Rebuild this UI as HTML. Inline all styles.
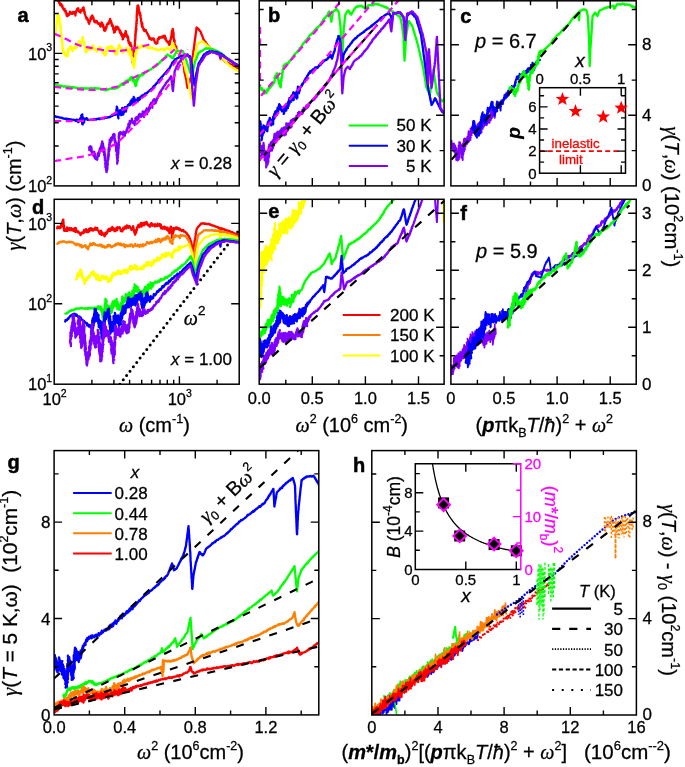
<!DOCTYPE html><html><head><meta charset="utf-8"><style>html,body{margin:0;padding:0;background:#fff;overflow:hidden}svg{display:block;will-change:transform}text{stroke:#000;stroke-width:0.28px}</style></head><body>
<svg width="685" height="767" viewBox="0 0 685 767">
<rect width="685" height="767" fill="#fff"/>
<defs>
<clipPath id="cA"><rect x="54.2" y="0.8" width="185" height="185.1"/></clipPath>
<clipPath id="cD"><rect x="54.2" y="199.3" width="185" height="184.9"/></clipPath>
<clipPath id="cB"><rect x="259.2" y="0.8" width="184.9" height="185.1"/></clipPath>
<clipPath id="cC"><rect x="450.9" y="0.8" width="185.3" height="185.1"/></clipPath>
<clipPath id="cE"><rect x="259.2" y="199.3" width="184.9" height="184.9"/></clipPath>
<clipPath id="cF"><rect x="450.9" y="199.3" width="185.3" height="184.9"/></clipPath>
<clipPath id="cG"><rect x="54.1" y="450.6" width="264.7" height="264.3"/></clipPath>
<clipPath id="cH"><rect x="371.8" y="450.6" width="264.6" height="264.4"/></clipPath>
</defs>
<defs><clipPath id="cHi"><rect x="415.3" y="463.7" width="105.5" height="105.7"/></clipPath></defs>
<path d="M56.1 -2.2l.4-.1 .2-.1 .4-.7 .2 1 .3 2.2 .3-1.8 .1 2.4 .3-.7 .3 .6 .5 2.2 .1 .2 .2 0 .2-.2 0-.3 .6 2.3 .1 .6 .1-.7 .4-.4 .4-.3 0 1.3 .4 .5 .4 .5 .2 .7 .1-1.6 .4 2.6 .4 .1 .3 .9 .1 .3 .2-.7 .5 1.6 .3 .5 0-.7 .1-1.1 .3 1.6 .3 1 .1-.7 .5 .1 -.2 1.8 .2-.6 .6 .7 .1 .2 -.1 .3 .3 2.5 .6-.9 -.1 .8 .4 .5 .1-.3 .5-1.4 .3-.3 0 .3 .1-.6 .5 1 0-1.2 .5-.5 .2 .5 .1-2 .7 .4 .6 1.4 .4-.4 .4 .8 .6-.3 .5-1.7 .5 1.2 .2 .1 .1-.9 .5 .5 .4-.7 .4 2.4 .3 1 -.1-3.4 .5 .7 -.1 .3 .4-1.5 .3-1.3 0 .3 .6-.1 -.1-.9 .3-.9 .2 1.6 .8-2 .4 1.8 .6 1.7 0-.6 .6 .9 .6 .4 .4-2 .2-.6 .5 0 .4 .6 .3-.7 .2 .7 .3-2.5 .2 .4 .4 .1 .2-1 .2 2.3 .2-.5 .2 .6 .1 3 .3-1.1 .4 2.2 .2 .9 -.2-.7 .4 1.2 .3 .7 -.2-.1 .5 .8 0 .8 .1-.8 .5 2 -.1 .2 .2 .2 .3-1.3 .2 .9 .1 0 .4 .8 .3-.1 0 .3 .3 1.5 .2-.4 -.1 1.5 .5-.6 .3 .7 0 1.4 .4-3 .2 .5 .7-1.5 0-1.7 .2-.7 .5 1.4 .7-1.9 -.1-1.3 .5-.2 .4 1.6 -.1 .5 .3 .6 .5-.7 .1 1.3 .6 1.3 .3 1 -.2 .5 .8-.1 -.1-.8 .4 1.7 .5-1.1 0 .7 .4-.3 .5-.8 .3 1.7 .3-.4 .7 1.1 .3 .6 .3-.1 .2-.6 .7 1.1 .3 .5 .3 .2 .3 1.6 .4-1.8 .4-1.4 .3 0 .1-1.1 .3 .8 .3 .1 .2 1.3 .2-.4 .2 .5 0 2.2 .3-2 .1 .3 .3 2.8 .3-.4 .1 .9 .2 .4 -.2 .4 .3 1.3 .2-.6 .5 .9 .2-1.6 0 .2 .3 1 -.2-1.6 .1-1.3 .7 .1 -.2 1.2 .3 0 .4-1.3 -.1-.4 .2-1.4 .1 .3 .2-1.1 .4-.9 0 .3 .1-.3 .4 .2 .5 0 .3-1.4 .2-.6 -.1 1.5 .3-1.2 .2-.6 .5-1.1 .2-.6 .2-1.2 .1 .9 .1 .4 .2 .8 0 .6 .4-.9 .1 2.1 .5-.6 .1 .9 .3 2.8 0-1.6 .4 1.8 0 .1 .2-1.2 .1 1.3 .2-1.1 -.1 .7 .5 1.1 .1 2.6 -.2-1.6 .2 .1 .2 0 -.1 .4 .4 1.8 .2 .3 -.1-.4 .2 2.3 .1-.7 .2-1.5 .5 1.6 -.1-1.9 .5 0 -.1 .4 .2-2.1 .3-1 .1 1.5 .1-2.2 .4 2.9 .4-.7 .8-2.1 .3 .3 .1 .7 .5 .1 .2 1.3 .2 .1 0-.1 .4 .9 .1-.4 .2 .9 .3 1.8 0-2.3 .1 1.4 .2-.7 .1 2.4 .2-2 .2 .5 .1 1.5 .4 .2 0 1 0-.1 .5-1 -.3 1.8 .4-.5 .4-.1 0 1.2 .1 .9 .3 .1 .1 1 .3 .4 -.2 1.2 .4-.1 -.1-1.5 .5-.8 -.1-1.4 .2 .7 .2 .9 .2-1.6 .3-.1 -.1-.9 .4 1.8 .2-1.7 .2 1.6 0-2.9 .3-.4 -.1 .4 .3-.9 .3-.1 -.2-1.1 .3 .3 -.1-.3 .3 3.3 .4-.5 -.2 .7 .3 .7 .4 0 -.3 .4 .2-.1 .3 .2 0 1.3 .1-.9 .4 .7 .2-.6 -.1 2 .4-.3 -.1 2.7 .2-2.8 0 2.1 .5 3 -.1-.9 .1-1.1 .6 1.2 -.4 .2 .4 .2 .3-.1 .1 2.5 0-.6 .1 .1 .4 .1 .3-1.5 -.3 .7 .5 1.4 .2 1 .2-1 0 1.2 -.3 .4 .5-.6 -.1 1.5 .1 .8 -.1-.2 .2 1.7 -.2 .5 0 .1 .4 1.5 -.3 .6 .1 1.3 .1-1.6 .3 1.7 -.1 .5 .3 .1 -.4 .3 .2-1.1 .2 1.5 0 .4 .2 3.9 -.3-1.5 .2 0 .1 .6 0 .6 .2 1.1 .1-.6 -.2 .6 .3 .5 -.2-1 0 .9 0-.1 .1 .1 .2-.4 -.1 2 .1-1.2 .2 1.5 -.2-.2 .3 .2 .1-1.2 -.1 .5 0-1.8 .1 1.1 .2-.3 0 1 .1-2 -.1 .5 .2-.9 -.1 .1 .2-.6 -.3-.5 .4-2.2 -.2 1 .2-2.2 .3 .6 -.2-.4 -.2-1.9 .5-1.6 -.4 .5 .1-.6 .1-1.3 .3 0 -.3-.5 .4 .8 -.1 .2 0-.2 .2-2.2 .1 .1 -.4 .3 .4-1.9 -.2 .3 .2 2 0-1.4 -.2-.7 .5 .7 0-.7 -.1-1 .1-.8 .1-.8 -.4 .9 .1-1 .2 0 .1-1.8 -.1-.4 .2-1.3 -.2-.6 .5-.8 -.2-.9 .1-1 .1 .5 -.1-.5 .3-1.8 -.3 1.8 .1-2.6 .1-.6 0 .4 -.1-1.4 -.1 1.8 .4-1.6 0-2 0 1.2 -.2-1.2 .3 .8 -.1-.5 .1 .1 -.1-1.3 .1-1.2 -.1 .6 .4 .6 .1-3.1 -.3-.2 .3 2 -.3-2.2 .4 .7 .1 1.1 -.4-.6 .2-1.4 -.1-.3 .2-.4 0-2.9 -.2 0 .5-.4 .1-.5 0 1 -.3-1.6 .3 .4 -.2-1.1 .3-.7 .1 .1 -.4-.3 .4 .2 -.1-1.3 -.1-.7 .2 .7 -.3-2.8 .2-.3 -.1-1.8 .3 1.2 -.2 0 .3-1 .1 0 0-1.6 -.1 1.6 .2-.9 -.1 .5 -.3-1.2 .5 .9 -.2-2.8 -.2 .5 .1-1.8 .4-.7 0 .2 -.3-.8 0-.9 .4 .9 -.2-.9 .2-.3 -.1-1.5 -.1 2.3 .1-2.8 .2 0 0 .8 .3-1.1 .2 .7 -.3-.3 .4 1.3 -.1 0 .4-.2 .2 2.4 -.2 .3 .3 1.5 .1-.6 .2 .7 -.1-1.1 .1 1.1 .3 2 .1-.5 -.1 .1 .6 2 0-1.9 -.1 1 0 1.3 .3 .6 .1-.7 .2 .5 -.1 2.4 .2 .2 .4 .8 0 1.3 -.1 .7 0 .3 .3 .5 .2 .2 -.1 .8 .3-.1 .2 1 -.3-.1 .2-.3 -.1 1.4 .5 2.3 .1-1.7 0-.4 -.1 .7 .1-2.3 .1 2.7 0 1.2 .3-.5 0 .8 .5 .7 .3 1.7 .1-1 .2 0 .5 2.3 0-.8 .4 .5 .1-.5 .4 .2 .6-.5 .1 1.5 .1 0 .1-.2 .4 .6 .1 0 .5 1.5 .5 .7 0-.2 .2 .1 .6 2 .3-.3 .1 1 .3 .2 .3 1.9 .5-.4 .1-.8 .3 .4 .4 .7 .1 0 .5-.1 .1 1.2 .6-.9 .4-.5 .2 .8 .7 .1 .5-.9 0 1.5 .5 0 .3 1.8 .7 1.3 .5-.2 .4 1 .5-.5 .2-.2 .5 .1 .1-1.7 .1-1.7 .3-1.1 .4 .6 .3-1.1 .3 .9 .3-1.9 .6 .9 .1-.8 .5 .1 .5 0 .4 .1 .3-.8 .4-.1 .3 1 .7-.4 .3-1.3 .4 0 .5 1.4 .1-.5 0-.1 .3 1.5 .2-2.5 .3 .6 .3 3.1 .2-1.4 0 .2 .5 1.5 .3 .6 -.3-.7 .4 1.5 .2 .4 .1 0 .3-.2 .2 .1 .5 0 .2 .5 .4 1.2 .2-1 .4 1.1 0 1.5 .5-.5 0-.8 .1 1.3 -.2 .1 .4-1.9 -.1-.8 .1 .9 .1-.4 .1-1.4 .2 .2 -.1 0 .1-.9 .4-.8 .1-.1 0-.6 .3-.1 -.3 .3 .5-1.7 -.2 .8 .3-1.3 -.1-.8 .4-.6 .1 1.4 0-2.6 .1-.2 -.2 .5 .2-2.6 0 .5 0-.6 .6-1.6 -.3 .3 .4 .2 -.1-.8 0 2.5 .4-3.6 -.1 .9 .3-.2 -.1 1.1 -.1 .4 .2-.2 0 1.2 0 1.1 .2-1.7 .3 .6 -.2 .2 .2 .8 -.3-.3 .5 1.6 -.3 .7 .1-.3 -.1 1 .3 .1 -.1 .7 .1 .8 0 1.3 .4 0 -.3 .5 .2 1 .3 .4 -.2 .8 0 1.6 -.1-1.1 .3-.9 -.1 .1 .4-.3 -.2 2.8 .2-3.3 -.4 2.3 .2 0 .1 1.2 .3 .4 -.4-.1 .4 1.7 .4-.4 .5 .5 0 1.2 .5-.7 .3 2.8 -.2-1.1 .6 2.5 0-.6 .5 .7 .1 .1 .5-.1 .3 1.4 0-.9 .2 2 .1 0 .3-.9 .4 .4 0-.5 0 .5 .2 .1 .1 .4 .5 1.6 .2-.9 .4 1.4 -.2 .5 .4 1.5 0 .8 .5 .2 .1-.6 -.1 1.5 .5-.2 -.1 2.1 .5-.4 -.2 .9 .4-.7 0 .5 .5-.1 .1 .7 -.2 .7 .4 1.4 0-.1 0-.5 .2 .4 .1 .8 .1-.2 0 .7 .3 0 -.3 1.2 .4-.6 -.1 3.3 .1 .2 .3-1.3 -.1 3.7 0 .4 .4-.4 0-.7 .2 1.4 -.3-.4 .2 1.6 .2-.8 .2 .3 -.2 1.2 .1 .2 .2 1.3 0-.1 .3-.2 0 1.4 .2-.6 -.1 1.1 0 .2 .3 1.1 .1 .1 0 .6 .2 .4 -.1-.2 .3 .6 0 1.1 .1 .8 0 .3 0 .8 .2-.1 0 .9 .1 .1 .1 .6 .1 .7 .1 .4 .1 1 .1 .1 .1 .9 .1-.8 .2-.5 .2-.3 .1-.9 .2 0 .1-1.1 .3-.1 .1-.4 .2-.3 .1-.8 .2 0 .2-.7 .1-.7 .1-.5 .2-.4 .1-.9 .3 .1 .1-.7 .1-.5 .2-.3 .2-.6 .2-.3 .1-.9 0 .1 .1-.6 0-.9 0-.1 .1-.4 .1-1.1 0-.4 0-.3 .1-.7 .1-.6 0-.1 0-.7 0-.7 .1-.9 0-.2 .1-.1 0-.6 0-.4 .1-.7 .1-.6 -.1-.6 .2-.5 -.1-.4 .1-.7 .1 .1 0-.8 0-.4 .1-.6 0-.3 .1-.6 0-.5 0-.5 .1-.9 0-.3 0-.6 .1-.4 .1-.7 -.1-.4 .2-.4 0-.7 .1-.6 0-.1 0-.7 .1-.5 0-.5 .1-.8 0-.1 .2-.6 -.1-.7 .1-.6 .1 0 .1-.6 .1-.7 .1-.2 0-.4 .1-.8 0-.6 .1-.2 0-.8 .1-.2 0-.8 .2-.2 0-.4 .1-.6 0-.6 .1-.4 .1-.7 0-.4 .2-.3 -.1-.7 .1-.9 .1-.4 .1-.3 0-.3 .1-.7 .1-.2 0-.6 .1-.5 .1-.5 0-.8 0-.3 .2-.2 0-.7 .1-.7 0-.3 .1-.8 .1 0 .1-.7 .1-.6 0-.5 .1-.4 0-.5 .1-.7 0-.8 .1 0 .1-.7 0-.5 .1-.2 .3 .3 .5 .2 .3 .4 .3 .2 .5 .4 .4 1 .3 0 .4 .5 .3 .4 .3 .4 .3 0 .2 .7 .2 .2 .2 .7 .1 .7 .2 .5 .2 .3 .2 .6 .2 .1 .2 .6 .2 .7 .2 .2 .2 .8 .1 .3 .3 .5 .1 .8 .2 .5 .2 .3 .2 .1 .4 .7 .2 .5 .3 .1 .3 .5 .4 .3 .2 .8 .3 .2 .4 .3 .3 .5 .3 .4 .2 .3 .4 .5 .2 .6 .4 .2 .3 .1 .3 .6 .3 .3 .3 .5 .4 .8 .4-.1 .4 .4 .4 .2 .4 .5 .4 .1 .4 .5 .5 .2 .4 .2 .4 .2 .4 .3 .4 .2 .3 .2 .5 1.1 .4 0 .4 .2 .4 .5 .4 .3 .3 .1 .4 .5 .4 .7 .4-.1 .3 .4 .4 .3 .3 .4 .4 .5 .3 .2 .5 .7 .3 .1 .4 .6 .3-.1 .4 .5 .3 .4 .4 .3 .4 .5 .4 .3 .3 .4 .3 .6 .4 .1 .5 .3 .3 .7 .4 .5 .4-.1 .4 .5 .4 .1 .5 0 .4 .3 .4-.1 .5 .6 .4 .6 .5-.4 .5 .7 .5-.1 .4 .5 .4-.2 .6 .7 .4-.3 .4 .6 .5 .4 .5 .1 .4 .5 .4-.1 .6 .2 .4 .4 .5 .3 .4 .2 .5 .1 .4 .3 .5 .5 .4 .1 .5 .3 .5 .1 .4 0 .5 .5" stroke="#ff0000" stroke-width="2.3" fill="none" stroke-linejoin="round" stroke-linecap="round" clip-path="url(#cA)"/>
<path d="M54.7 35.9l.1-1.8 .1 2.6 -.2-1.9 .1 1.1 .4-.5 -.1-1.2 -.2-1 .3-.7 0 .7 .3-.8 -.2 .7 .4-.1 .2-.7 -.2-2 -.1-1.1 .2 .4 .3 .4 -.1-1.2 .4 .1 -.3-.5 0-1.6 .4-1.2 -.2 .4 .1-.9 .1-.8 0 .4 .2-1.5 -.1 .4 .2-1.3 0-1 .2 1.6 -.3-2.4 .2 .7 -.1-.1 0 1.4 .2-.8 -.1-.2 0 .8 .5-1.6 0-1.7 0-.3 -.1-.1 .2 .1 -.2-2.1 .2-.2 -.1 .6 0 .9 -.1-2.3 .1 2.4 .2-1 -.2 2.4 .5-1.7 -.2-3 -.1 1.1 .5-1.2 0 .7 -.4-1.4 .1 0 .1 .5 .1 .1 .1-.2 .3 .4 -.2 2.8 .3-1.9 .1-.2 .1 .4 .2 0 -.1 .5 .1 1.9 0-1.3 .5 1.7 -.1-1.4 .3 2.3 -.2-.1 .2-.1 -.3 1.4 0-1.4 .1 2.6 0 .4 .4 .2 0 1 .2 2.3 .1-2.5 .1 1.4 -.3-.5 0 .3 .2 1.1 -.3-1.8 .4 1.1 .1 2.3 .2-3 0 .9 -.1 1.7 -.2 0 .2 .5 .2 .5 -.2-1 .4 .8 -.3 2.9 .1-.6 0 1 .2-1 -.3 1 .4-2.8 -.2 2 .3 .7 0 1.4 0 1.2 0 1.5 0-.6 .4 2 -.3-.4 -.1 1.8 .1-1.3 .1 .7 0-1.9 .1 2.8 .1-2.5 .2-.3 -.3 2.3 .1-.1 .3 1.1 -.2-2.7 .4 3 -.3 2 .3 1 0 1.5 0-3.2 .3 2.8 -.3-1.2 .3 1.2 -.1-.8 .2-.9 0-.6 .1 1.6 -.4 .1 .6 1.8 .1 .4 0-.2 -.3 2.8 0 1.2 -.1-.9 .1 1.4 .1-.1 0 .2 .3 0 .1-1.1 -.2 1.4 .4-.5 -.1 2.4 -.1-2.6 .3 2.4 -.1 1.5 .3-1.3 .4-.4 -.2 2.1 .7 .2 -.1 .3 0-1.4 .5 .9 0 1.6 .8 1.4 .5-1.3 .3 1.7 .6-1.5 -.1-.9 .9 2.5 .2-3.7 -.3-.1 .5-2.2 0 1.4 .4-1.4 0-2 -.2 .5 .2 .7 .1 1.5 .5-2.1 .3 .7 .1 0 .9-1.2 -.1-2.5 .4 .7 .5 2.3 .5-.8 .4-.6 .1 1.5 .3 2 .5-.3 .2-1.4 .5-1.6 .6 .6 .6-1.7 .3 .4 .1-.6 .7 2.1 .4-1.2 .2-.9 .1-.9 .9-.9 0 .6 .6-.7 .4-1.9 .2-1.6 .1 3.7 .8-.9 -.1 1.7 0-1.6 .1 1.3 .4 .3 .2 1.2 .3-3.4 .2-.7 .3 1.5 0 .1 -.1-2.4 .2-.2 .2 .8 .4-1.1 0 .1 .3 .2 .2-2.5 .5-1.5 .1 .7 -.4-1.2 .4 0 .1 1.9 -.1 .9 .3 .1 .3 2 .2-.7 -.1 .8 -.2-.3 .6-.3 -.4-.6 .2 2.3 .5-.5 -.3 .6 .2 .9 .5 .1 -.2 1 -.2-1.5 .2 1.7 .3-.1 -.1 1.3 .6-.3 -.4 2.5 .2-1 .5 .6 .1 1.2 -.3-.7 .2 .9 -.1 1.3 .3-1.9 -.1 3 .5-.8 .6 .3 -.1-1.5 .6-.4 .5-.8 .4 .5 0-1.9 .7 2.2 -.2-2.9 .8 .4 0 1.7 .2-1.1 .4-.9 .8 1.9 .2-.7 .2 1.2 .5-3.2 0 .2 .8-1.1 .2 1.6 .2 .1 0-.6 .5-.9 0 2.8 .3-.8 .1-.7 .2 2.3 .5-.5 .5 .2 -.1 1.3 .2-.7 .3-.5 .1 .5 .7 .2 .1-.1 .3 1.7 -.1-1.9 .5 2.1 .3-.7 .1-1.2 .1-.1 .7-1.2 .1 1.3 .5-1.5 .5-1 .3-.1 .2 .4 .2 .1 .1 .6 .2 .8 .7-.3 .4 .1 -.3-1.3 .2 .9 .7 1.8 .1 2.6 .4-1.4 .2 1.7 .1-.6 0-1.4 .4 1 -.1-.1 .4 .9 .3-1.1 -.1 1.1 .3 1.3 .3-.3 0 1 .2 .1 .4 .3 .4 .3 0-.7 0 .4 .3-1.3 -.1 .4 .3 .4 .3-1.7 .1-.3 -.4-.8 .2 .9 .4-2.8 .1-1.1 0 .1 -.1-.8 .5-.6 0 .7 .2-1.1 .4 2.4 -.3 .2 .4-.1 .3-.9 .3 .9 0-1 .5-.2 -.3-.1 .4-1 .4-.6 .1 .7 .8-.6 0 .5 .5 .5 .3 .1 .4-2.1 .3 2.4 .7-.2 -.1-.7 .4 1 -.3-1.5 .2 1.6 .1 0 .7 1.3 -.3-.9 .3 .3 -.1-1 .7 .5 -.1 2 0-1.5 .5 1.1 .1 .3 -.1-1.1 .3 2 -.2 1.2 .4 .1 .2-1.8 -.2 .4 .4 2.1 .3-.8 -.1 1.7 .1-.1 .5 .3 .1-1.4 0-.8 -.2 2.1 .6-1.1 -.1 .4 .5-1.2 -.4 1.4 .5-2 .1-.8 -.2 .4 .6-1.7 .2 1.7 -.3-.5 .5-2.5 0 1 .4-2.6 -.2 1.9 .5-2.6 .4-1.7 .1 .9 -.1 .4 .6 0 .2 .4 -.1 .5 .5 1.4 .3 .2 .1-.8 .3 0 .4 .4 0-.3 .4 2.7 .1-.7 .2-.2 0-.1 .3 2.5 0-.7 .5 1.8 .1-2.2 .2-.1 .2 1.2 .2 .3 .5-2 .3 .2 .4-.7 .1 .5 .2-.7 .1 .4 .3 .7 .4-2.2 .3 1.3 .5 .1 0-2.1 .2 3.3 .4-.4 .4-1.2 .1 .4 .4 .3 -.1 .1 .5 0 .2 .2 -.3 1.7 .4-1.5 -.1 1 .4 .1 0 .8 .4 1.4 -.1-2 .4 2.2 .1-1.5 0 2.5 -.3 .2 .3-1.1 -.4 .2 .2-.2 .2-.9 -.4 .4 .6-2.6 0 1.2 -.1-3 -.4-.1 .6-1.2 -.3 2 .1-.5 0-.2 .3 2 0 .4 0-.2 .4 1.3 -.2-.6 .4 .1 -.2-.6 .3 1.6 -.2-1.6 .4 3.9 .1-3.4 .1 .9 0 1.7 -.4-1.2 .4 .9 -.1 2.3 .3-.1 .2 .6 0 .7 -.3 1.5 .4 .6 .2-1.9 .2-.6 -.3 2.5 .3 .1 .2-1.5 -.1 1.9 -.1-.8 .5 2.2 .1-.8 .1 2.3 -.1 1.5 0-.9 -.2 .8 .5-1.1 .2 1 0-.3 .1 1.2 0-1.3 -.2 0 .5 1.2 -.2-.5 .2 1.4 -.2-2.9 .2 1.9 -.1 .7 .3-2.3 0 3.9 .3-3 .1-.4 -.4-.1 .5 .1 -.2-1.8 -.1 .6 0-2.8 .1 .9 .2-1.6 .2 .3 -.1 0 .1 1.4 -.2-3.2 .6 2.5 -.1 .8 .1-1.1 0-3.4 -.2 .4 .1-.1 0 .3 .4-1.4 -.4-1.7 .3-.6 .1-1.1 .1 .1 .3 .6 .3-1 -.3 .4 .5 .8 -.3-.7 .2-3.5 .1 1.1 .3 .5 0-.9 0 .3 .2-1.7 .3 1 -.2-.2 .5-4 -.1 .9 0 1.2 .9 .1 .3 .1 .4-.8 .7 1.2 .4-1.5 .4-.3 .5 .9 .6-.4 .5-1.9 .6 1.5 .6 .3 .7-1.1 .3 .5 .5-.7 .6 1.3 .4 0 .5 .4 .6-.4 .5 .1 .6-.2 .4 1.3 .6-.8 .5 .7 .3-.4 .8 .1 .3-.4 .7 .6 .3 .5 .5-.5 .6 .3 .3 1 .8-.1 .5 0 .4 .3 .6-.7 .5 .8 .5-.5 .5 .5 .5 .4 .5 .1 .5 .3 .3 .2 .5-.8 .6 0 .4-.5 .7-.3 .6-.2 .2 .4 .6 .3 .5-.5 .4 1.3 .7 .1 .5 .3 .5-1.5 .5 .1 .5-.9 .3 .3 .6-1 .6 0 .5 1.2 .5-.3 .5 .5 .4 0 .5 .9 .6-.1 .4-1.1 .3-.4 .1-1.5 .2-.8 .4 .4 .1-1.3 .3-.2 .2-.4 .1-.7 .3-.8 .3 .7 0 1.1 .1 .1 .3 .7 .4 .3 .2 2.1 .1-.2 .2 .6 .5-.2 .1 1 .2 0 .2 .4 .4 .4 .1 2.2 .4-2.1 .1 0 .2 .9 .6 .2 .4 .4 .1-.5 .4 1.1 .5 .5 .3 1 .5 0 .3 .1 .2 1 .6 1.4 .3-.7 .3 .8 .3 .6 .4 0 .2 .2 0 .5 .3 1.4 -.1-.2 .2 .1 .3-.4 .2 1.1 0 .7 .2 1.4 0-.6 .2 .2 .2 .5 .1 1.4 .1 .5 .2 0 0 .6 .2 .9 .1-.2 .2 .7 .1 .2 .1 1 .1-.1 .1 .5 .1 .3 .3 1.2 0 1 .2 .2 .1 .1 .1 1.1 .1 .4 .2-.3 .2 .9 .2 .8 0 .2 .1 .4 .3 1.1 0 .2 .2 .4 .1 .8 .1 .1 .2 .4 .1 .1 .1 1 .1 .5 .1 .2 .1 .8 0 .3 .1 .2 .1 .7 .1 .8 .1 .5 .1 .4 0 .7 .1 .3 0 .6 .1 .2 .2 .6 0 .7 .2 .3 0 .7 .1 .4 .1 .7 .1 .3 .1 .2 0 .8 .1 .4 0 .8 .1 .1 .1 .5 .1 .9 .1 .4 .1 .6 .2 .6 0 .6 .1 .6 .2 .1 0 .9 .1 .5 .1 .3 .1 .7 0 .5 .2 .3 0 .5 .1 .7 0-.7 .1-.5 0-.3 0-.7 .1-.2 0-.3 0-.9 .1-.4 0-.5 .1-.8 0-.5 0-.3 0-.8 0-.1 .2-.6 -.1-.4 .1-.6 0-.5 0-.4 .1-.7 .1-.5 0-.7 .1-.4 0-.4 0-.7 0-.4 .1 .1 0-1 0-.2 .1-1.1 .1-.7 -.1-.3 .1-.5 .1-.7 0-.6 0-.1 0-1 .1 0 0-.6 0-.9 .1 .1 .1-.9 -.1-.3 .1-.9 0-.6 0-.3 .1-.6 .1-.2 0-.9 .1-.5 0-.7 0-.5 .1-1 0-.6 .1-.5 0-.4 .1-.5 0-1 .1-.7 0-.2 0-1.3 0 .3 0-.9 .2-.4 0-.5 0-.7 0-.2 0-.6 .1-.7 .1-.7 -.1 .1 .1-.5 .1-.9 .1-.3 .1-.5 .1-.7 .1-.4 .2-.3 .1-.6 .1-.5 .1-.8 .2-.2 0-.3 .1-.6 .2-.7 0-.8 .2-.3 0-.4 .2-.1 .1-1.1 .1-.1 .2-.7 .1-.3 .1-.4 .1-.7 .1-.5 .1-.3 .1-.3 .2-.8 0-.3 .2-.5 .1-.7 0-.7 .2-.1 .1-.6 .4-.3 .5-.3 .4-.3 .5-.6 .4-.2 .5 0 .5-.5 .4-.1 .4-.2 .4-.3 .5 0 .3 .5 .5 .4 .4 .5 .4 0 .3 .8 .3-.1 .5 .5 .3 .5 .4 .2 .4 .2 .4 .4 .4 .7 .4 .1 .3 .1 .4 .4 .4 .5 .5 .4 .3 0 .4 .9 .4 .1 .4-.1 .4 .1 .4 .9 .3 .4 .4 .1 .4 .4 .4 .7 .5 .1 .4 .2 .3 .1 .4 .5 .5 .3 .4 .7 .4-.1 .4 .7 .3-.1 .4 .6 .5 .4 .3 .1 .4 .4 .4 .2 .4 .4 .4 .4 .4 .5 .1 .2 0 1 .1 .2 .2 .3 .1 .5 0 .6 .1 .6 .1 .6 .1-.4 .1-.7 .1-.3 .2-.7 .1-.7 .1-.4 .4 .5 .3 .1 .4 .4 .3 .3 .4 .4 .3 .3 .4 .5 .3 .3 .4 .4 .3 .7 .3 .1 .4 .4 .4 .3 .3 .5 .3 .2 .3 .5 .5 .4 .3 .6 .3-.2 .3 .6 .4 .3 .4 .4 .3 .2 .4 .4 .4 .5 .5 .1 .5 .2 .3 .2 .5 .6 .5 .3 .3 .3 .5 .3 .4 .2 .4 0 .5 .5 .4 0 .4 .6 .5 .2 .5 .6 .3 .4 .6-.3 .4 .2 .4 .4 .4 0 .4 .4 .5 .2 .4 .7 .5 0" stroke="#ffff00" stroke-width="2.3" fill="none" stroke-linejoin="round" stroke-linecap="round" clip-path="url(#cA)"/>
<path d="M54.5 84.4l.5 .5 .5 0 .5 .3 .5 .1 .5 0 .5 .2 .5 0 .5 .6 .5-.5 .4 0 .6 .4 .4-.4 .6 .6 .5-.7 .5 .7 .4 0 .6 0 .5 .5 .5-.4 .5 .3 .5-.2 .5 .1 .5 .1 .5 .1 .6-.1 .5 0 .4 .1 .5-.2 .5 .4 .6-.1 .4 .2 .6 .1 .5-.1 .5 .2 .5 0 .5 .5 .5-.8 .5 .7 .6 .1 .4-.2 .5 .1 .5 .2 .5-.1 .5 0 .6 .6 .5-.3 .5-.1 .5 .3 .5 .3 .5-.1 .5-.2 .5 .1 .6-.4 .4 .2 .5 .1 .6 0 .6 0 .4 .5 .6-.3 .4 .2 .6-.4 .5 .3 .5 0 .5-.2 .5 .3 .5-.2 .6-.1 .5 0 .5 .4 .5 0 .5-.4 .5-.3 .5 .4 .5-.2 .6 .3 .4 .2 .5-.3 .6-.2 .5 .1 .5-.3 .6 .4 .5 0 .4 0 .6 .2 .4-.2 .7 .3 .4-.1 .6-.3 .5 .4 .6 .3 .5-.1 .6 0 .5 0 .5 .4 .5-.3 .5 .7 .5-.3 .5 .4 .5 0 .5 .7 .4-.1 .6-.5 .5-.2 .5 .1 .5-.4 .6-.3 .4-.1 .5 .1 .5-.3 .5-.1 .5-.1 .6-.1 .5 .5 .5-.5 .5 .2 .5-.1 .5-.1 .5-.4 .6 .6 .5-.6 .4 0 .5-.1 .6-.2 .3-.3 .6-.1 .4-.2 .5-.5 .3-.7 .5-.6 .1 .6 .7-.7 .4-.8 .2 .4 .5-.5 .3-.9 .6 .3 .6 1.1 -.1-1.7 .7 1.5 .6-.7 -.1 .4 .4-1.5 .2-1 .7 0 .3 .4 .2-1.7 .4 1.8 .7-1.1 -.1-.2 .8 1.1 .1-.6 .1-1.7 .7 .5 .6-.4 -.2 .2 .8-1.9 0 1.8 .7-1.6 .6-1.5 .2 1.6 .2-1.4 .5-.2 .2 1.5 .4 2.5 .4-.9 .4-.1 .6 1.8 .1-1.7 -.1 .7 .3-.5 .1 1.5 0 1.5 -.1-1.4 .2 1.1 .4 1.3 0 .2 -.1-.1 .3 .6 -.1-.3 .1 .7 .4 .7 -.1-.4 -.2-1.4 .6 .4 0-1.1 -.2-1 .6 2.1 -.1 .5 0-1.3 .2-.7 -.2-1.9 .2 .4 .1-2.1 .5-1.1 -.1 2.5 .1 .3 .6-1.7 -.1-3.1 .7 2.1 .1-.3 .1-.5 .5-1 .2-1.7 .2 1.3 .1-.2 .5 .1 .2-.6 .4-.2 .7-.1 .4-.4 .6-1.5 .2 1.8 .2-.2 .6-.7 .5-.3 .2-.8 .6-.7 .4 0 .3 0 .5-.4 .3 .1 .5-.8 .4 0 .4-.3 .4 0 .5-.6 .4 0 .4-.1 .5-.6 .4-.3 .4 0 .5-.2 .3-.3 .5-.4 .5-.4 .4-.4 .4-.4 .5 .2 .4-.6 .4-.2 .5-.6 .4 0 .5 .2 .4-.4 .4-.6 .4-.2 .4-.4 .3-.4 .3 0 .4-.6 .3-.3 .5-.7 .4 .2 .3-.9 .3-.3 .5-.2 .2-.4 .4-.5 .4-.4 .4-.3 .4-.7 .4 0 .2-.5 .5-.1 .3-.3 .4-.6 .3 0 .3-.3 .4-.5 .4-.9 .4 .2 .3-.7 .3-.3 .4 .1 .4-1 .6 .5 .4 .3 .5 .1 .6 .6 .5-.2 .5 .2 .3 .8 .4 .3 .4 .5 .4 .3 .5 .1 .5 .4 .1-.6 .2-.3 .3-.6 .2-.3 .2-.6 .3-.3 .2-.7 .3 0 .2-.9 .2-.1 .2-.5 .3-.6 .2-.1 .2-.9 .3-.4 .2-.5 .5-.1 .6 .2 .5 .1 .5-.3 .6 .3 .6 0 .4-.2 .6 .2 .5-.1 .5 .1 .6 0 .6 0 .1 .4 .1 .6 .2 .5 .1 .4 .2 .3 .2 .6 .2 .4 .1 .6 .2 .3 .2 .6 .1 .9 .2-.1 .2 .5 .1 .6 .2 .1 .1 1 .2 .5 .2 .1 .2 .4 .2 .7 .1 .4 .2 .3 .2 .8 .1 .2 .1 .5 .2 .7 .2 .6 .1 .2 .2 .3 .2 .9 .1 .3 .1 .7 .2 .2 .1 .5 .2 .9 .1-.1 .1 1 .2-.1 .1 .6 .2 .6 .1 .6 .2 .6 .1 .3 .3 .4 0 .7 .2 .2 .4-.2 .5-.5 .5 0 .4-.3 .5-.7 .4 0 .1-.5 .1-.5 .2-.6 0-.5 .1-.6 .1-.6 .1-.4 .2-.5 .1 0 .2-.8 0-1 .1-.4 .2 0 .1-.6 .1-.6 .1-.6 .1-.4 0-.7 .3-.5 .1-.4 .2-.6 .2-.2 .2-.6 .3-.4 .1-.5 .1-.6 .2-.7 .2 .4 .2-1.3 .3-.3 .1-.6 .2-.3 .2-.5 .1-.7 .2 .1 .2-1.3 .1 0 .5-.2 .5-.1 .4-.6 .4-.3 .5 0 .4-.5 .5-.4 .3 .1 .5-.3 .4-.3 .4-.1 .4-.5 .5-.3 .4-.1 .5-.5 .3-.3 .5-.3 .5 .5 .6-.4 .5 .2 .5 .3 .5-.3 .5 0 .6 .2 .5-.2 .4 .8 .7-.5 .4 .5 .6 0 .5-.1 .5 .2 .4-.1 .5 .5 .5 .1 .5 .3 .4 .4 .5 .1 .5 .1 .5 .3 .4-.1 .5 .4 .4 .2 .6 .3 .4 .2 .5 .3 0 .7 .2 .5 0 .4 .2 .8 0 .5 .2 .3 0 .4 .1 .5 .1-.1 .1-.8 .2-.3 0-.9 .1-.8 .1 .2 .1-1 .4 .6 .4 .5 .4 .1 .4 .4 .3 .2 .4 .5 .4 .3 .4 .3 .3 .2 .5 .8 .3 .3 .4 .1 .4 0 .3 .4 .4 .3 .4 .3 .3 .4 .5 .4 .4 .5 .4 .2 .3 .4 .4 .4 .4 .3 .5 .6 .4-.3 .4 .4 .4 .1 .4 .5 .5 .5 .4-.1 .3 .4 .6 .2 .3 .4 .4 .1 .5 .7 .3 .1 .5 .3 .4 0 .5 .6 .3 .3 .5 .4 .3 .2 .6 .1 .3 .6 .4 .1 .5 .2 .4 .4" stroke="#00ff00" stroke-width="2.3" fill="none" stroke-linejoin="round" stroke-linecap="round" clip-path="url(#cA)"/>
<path d="M54.5 116.3l.5 .5 .5-.6 .5 .3 .5 .5 .6-.1 .4-.1 .5 .3 .6 .1 .4 .1 .5 .1 .5 .3 .5-.1 .5 .1 .6 0 .4 .3 .5 0 .5 .4 .5 .2 .6 .1 .5-.1 .5 .3 .5 0 .5-.3 .6 .1 .5 .3 .5 0 .6 .1 .5 0 .4 .1 .6 .5 .5-.4 .5 .5 .5-.1 .5-.2 .6 .4 .5 0 .5-.2 .6 .4 .5-.1 .5 .6 .6-.5 .4 .9 .3-1.3 .7 0 0 .8 .9 1.3 .4 .4 .6-.7 .1-1.7 .5 .7 .6-.6 .2 .6 .4-2.1 -.9 .5 1 1.3 -.3-2.2 -.3 1.6 .3-.2 .7 .8 .1-1.3 -.2 .4 .2 1.4 0-2.2 -.3-.4 .6-2.2 -.4-.3 .3-.3 .3 .8 0-1.1 .1 1.1 .4-1.7 -.1 1.3 -.5 1.5 .8 .1 -.4-1.5 .2 2.4 -.2 .8 .5-2.2 -.7 .2 .3 1.5 -.4-.1 .9 2.1 -.6 .4 .3-2.7 -.2 2.8 .2-2.6 -.2 4.4 .1 .1 -.3-7 .1 3.8 .1 4.3 .7-2.8 -.6-.9 -.1-.8 .7 3.1 0-3.7 -.7 3.7 .2 .4 .4-3.6 .2 3.4 -.4 1.6 .5-2.4 -.2 .9 .1 .7 -.6-1 .9-.7 -.7 .4 .3-1.6 -.3 1.8 .3-2.6 .6-1.7 -.4 2.7 .6 1.6 -.9-.8 .5-2.7 0 2.7 -.1-.6 .6 1.3 .1-.4 -.7 .2 .9-2.4 -.1-.6 -.2 1.7 .4 1.4 -.7-3.3 .6 2.2 -.4-2.8 -.1 .3 .9 .9 0-.6 .1-.1 .4-.3 .3 .8 .6-.7 .7-.7 .4 .8 .1 .5 .4 .6 .5-.3 .6 .1 .4 .2 .6-.1 .4 .1 .6-.1 .5-.3 .5 .5 .4-.4 .5 .2 .6-.1 .4-.3 .6 .2 .4-.6 .6 .2 .5 0 .5 .3 .6-.4 .5-.3 .5 .1 .6 .2 .5-.6 .5 .1 .6 .6 .5-.6 .6-.1 .5 .1 .5-.1 .5-.2 .6 .1 .5-.3 .6 .3 .4-.7 .6 .3 .6-.2 .5 0 .5-.5 .6 .3 .4-.2 .6-.2 .6 .2 .5-.3 .4-.2 .6-.3 .4 0 .6-.8 .5-.1 .4 .1 .6-.4 .4-.3 .5-.6 .2 .5 .5-1.2 .7 1.1 .5-1.4 .6-1.2 0 .9 .1 0 -.1-1.8 .2 .2 -.1-2.2 -.3 .9 .6 1.2 .2-2.1 -.1 .7 .5-2.1 -.4 4.1 0-2.3 .5 .3 -.7-3.4 .1 3.9 .6 1 .2 .1 -.4 .2 .1-1.5 -.2 2.9 .6 .4 .1-1.6 -.4 1.4 .3 2.2 0-2.3 .4 .2 -.3 .3 .3 3.3 .1-.8 0 .1 -.3-.4 -.2-1.5 .6 3.8 -.3-2.8 0 1.7 .6-4.3 -.3 1 .3-.8 -.2 1 .5-3.4 -.2 1 .2 .1 .4 .5 .2 1.6 -.5-1.9 0-.9 .2 2.3 .1-2.4 .1 .4 .2-1.2 .5 2.8 -.1-.9 .5 .9 -.2 1.5 -.1-.2 .4-1.5 -.2 1.2 .8-2.2 .1 .7 -.4 .6 .4 2 -.2-4.5 .5 2.1 -.6-2.8 .5 2.4 -.2-.5 .3 .7 .3-2.4 -.7 .1 .1-.5 .2 .5 .5-.1 -.1-.6 -.3 1.1 .7-2.9 -.5 2.8 .5 .5 -.3-1.8 .3 1.1 .1-.3 .2 4.6 -.4-3.1 .2 1 .3 0 -.1-.5 .2 1.9 .4 .3 -.3-.9 .1-1.8 .8 .1 -.6 1.8 .6-1.1 -.2 .3 .1 0 .8-1.8 .3-1.3 -.2-1 -.2 1.7 .4-1.4 0-1.7 .7 1.3 .3-.5 .2 3.5 -.4-2.5 .5-.4 -.1 .5 .5-.6 -.9-1.3 .4 .7 .7 .8 .2-.9 .3-.5 .1-1 .3-.8 .3-.5 .6-.4 .5 .1 .1-.9 .7 1.5 .4-2.5 .5-1.6 -.4 1 .2 .3 .8-.4 -.1-.8 .5 2.9 -.4-1.7 .1-2.4 .2 .2 .3 .7 .2-1.5 .2-.3 .1 3.3 .1-1.3 .8-1.2 -.2 .1 .4-1.3 .3-.8 .2 1.1 -.6 0 .8 2 -.6-4.1 .2 5.4 .6-4 -.5 2.3 .1 .2 .7-.3 -.4-1 0 1 .4-.8 -.3 1.6 .5-1.1 -.4-1.1 .1 .5 .9 2.3 -.5-.1 1-.4 0 .7 .2-1.4 -.1 1.1 .5-2 .2 1.3 .6 .6 .1-3.6 .2 1.5 .8-1.6 .4-.4 .1 2.3 .8-.8 .2-1.8 .4-.1 .4-.9 .4 .3 .4-.1 .2-.9 .7 .1 .3-.4 .4-.4 .3-.2 .5 0 .5-.2 .5-1.1 .4 .3 .5-.4 .5-.3 .5 .2 .4-.9 .4-.2 .4-.3 .3-.4 .4-.5 .5-.2 .3-.2 .4-.8 .4 0 .4-.4 .3-.1 .5-.6 .3-.1 .5-.4 .3-.3 .3-.5 .4-.9 .3-.6 .5 .3 .3-.4 .4-.4 .3-.2 .3-.9 .4-.2 .3-.3 .4-.8 .2 .1 .4-.4 .4-.6 .3-.4 .2-.5 .4 .1 .2-1.3 .4 .1 .3-.2 .4-.4 .2-.3 .3-.6 .4-.3 .2-.5 .4-.1 .3-.5 .3-.5 .4-.4 .3-.2 .3-.5 .4-.5 .3-.4 .4-.4 .3-.4 .4-.1 .3-.7 .3-.1 .5-.3 .3-.9 .3-.3 .3-.5 .4-.3 .3-.1 .5-.9 .2 .2 .4-.8 .4-.3 .3-.2 .3-.3 .3-.8 .2-.3 .2-.6 .3-.3 .2-.5 .4-.6 .2-.2 .2-.7 .3-.6 .2-.8 .3-.4 .3 .1 .2-.3 .4-.5 .4-.4 .4-.5 .3-.6 .5 .2 .3-1.3 .4 0 .4-.3 .4 0 .6-.5 .4-.2 .5-.4 .5 .1 .5-.6 .4-.4 .4-.4 .5-.2 .5-.1 .5-.2 .5 0 .5 .3 .5-.6 .6-.1 .4 0 .6-.6 .4 .2 .5-.5 .5 .1 .6 .3 .4 .2 .5 0 .6 .4 .5 0 .4 0 .5 .8 .6-.2 .5 .1 .1 .8 .1 .2 0 .9 .2 .4 .2 .5 -.1 .5 .1 .3 .3 .6 .1 .9 .1 .5 .1 .5 .1 .7 .1 .3 0 .2 .2 .7 .1 .4 .1 .4 0 .8 0 .5 .1 .8 .1 .5 0 .5 0 .3 .1 .3 0 .2 0 .6 .1 1 0 .5 0 .3 .2 .3 0 .5 0 .5 .1 .8 -.1 .5 .2 .5 -.1 .4 .1 .5 .1 .5 0 .7 .1 .3 0 .6 .1 .3 .1 .6 .1 1.2 .2-.4 .1 .9 0 .4 .1 .4 0 .3 .2 .6 0 .4 .1 .7 .1 .9 .1 .2 .1 0 .1 .9 0-.3 .1-1 .1-.2 .2-.4 -.1-1 .2 .1 0-.9 0-.4 .2-.3 .1-.5 .1-.5 0-.4 .1-.6 0-.8 .1-.3 .1-.5 .1-.6 0-.4 .2-.3 0-.7 .1-.6 .2-.3 0-.6 .2-.9 .1-.2 0-.2 .2-.6 .1-.6 .1-.7 .1-.4 .1-.3 .2-.4 .1-.7 0-.7 .2-.6 .1 0 .2-.6 0-.3 .1-.8 .2-.7 .1-.4 .1-.8 .3-.1 .2-.7 .3-.1 .3-.4 .1-.9 .4 0 .2-.5 .3-.7 .2-.2 .3-.6 .3-.4 .2-.6 .2-.1 .3-.6 .2-.3 .4-.5 .2-.4 .3-.8 .2 .2 .2-.9 .2-.4 .5-.5 .4 0 .5-.2 .4 0 .4-.6 .4-.6 .5 .5 .3-1.1 .4 .4 .6-.5 .3-.3 .5-.2 .4-.3 .5 .1 .5 .4 .5-.2 .5 0 .6 .2 .5-.5 .6 .5 .4 .3 .5-.2 .6 .1 .5 0 .6 0 .5 .1 .5-.1 .5 .7 .5 .1 .5-.1 .5 .3 .4 .3 .6 .3 0 .3 .1 .4 .1 .6 .1 .9 .1 .4 .1 .2 .1 .5 0 .3 .1 .9 .1-.3 0-.8 .1-.7 .1-.4 .1-.1 .1-.6 .1-.7 .2-.6 .4 .5 .3 .2 .5 .5 .4 .2 .5 .5 .4-.2 .4 .6 .4 .3 .4 .5 .3 .3 .6 .3 .3 .6 .5 .2 .4 0 .3 .1 .6 .6 .3 .1 .4 .6 .4-.2 .5 .4 .5 .7 .4-.1 .4 .3 .4 .2 .5 .3 .4 .6 .5-.3 .4 1 .4 .1 .5 0 .4 .2 .4 .1 .4 .7 .5 .6 .5-.2 .5 .1 .3 .7 .4 .3 .5-.1 .4 .2 .5 .2 .4 .6 .5 .2 .4 .3" stroke="#0000ff" stroke-width="2.3" fill="none" stroke-linejoin="round" stroke-linecap="round" clip-path="url(#cA)"/>
<path d="M89.4 147.1l-.2 .8 .3 .9 -.2 1.3 .2-3.2 .6 .8 .3 .2 .2-1.6 -.4 .3 .1-.4 0 .6 .9 4.8 -.5-4 .6-.8 .3 3.3 .1 1.9 -.2-3.6 .1 2.6 .4 1.4 .2-.1 .3 1.5 .1-1.6 .1-.4 .3 1.5 .4-1.4 .3 1.6 -.6-.6 .4 2.9 .4-2.4 .4-1 -.6-.4 .5 .6 .1-.8 .5 3.3 .1-1.2 -.3 3.2 .4 1.2 .6-1 -.5-.3 .2 1.2 .6 .9 .4-1.6 .4 .9 0-.9 .7 1.6 -.3 .6 .2-1.7 .4-3.5 .1 1.2 -.2-1.5 .7 1.7 -.2 .5 -.1-2.2 .3-1.4 0 2.1 .2-2.3 .3 .2 0 3.3 .3-1.7 -.4 1.6 -.1-1.6 .2-.5 .4-.3 -.3-.7 .2-.3 .1-1.5 0 1.3 .2 1.1 0-.9 .4-4 .1 .8 .1-1.2 .3 2.6 0-2.7 .2 2.1 -.4-.6 .3-.6 .2 1.5 -.1-2.1 .3 .1 -.4 1.4 .7-1.9 -.1 2 -.1-3.6 .1 3.9 -.1-1.6 .3-1.6 .2-.2 -.2 .4 .2-1.7 -.1 1 .2-1.1 .6 2.5 -.6-3.9 .5-.6 .2-.1 0-2.1 -.1 2 .3-1 .2 1.4 0 2.4 -.1-3 .2 .2 -.4 1 .1 2.6 .6-2.9 -.6 1.4 .2-2 0 4.3 .3 1.1 .2-2.1 0-1 .1-.4 .2 4.5 -.4-1.7 .6-.9 -.4 2.7 0-.2 .2 1.7 -.1 .5 0-2.7 .5 2.3 .3-1.3 0-.6 -.4 1.7 0 .8 .3 .3 .2-1.6 0-2.7 0 5 .1-.3 -.1 .6 .2-2.7 .2 1.3 -.4 1.2 .5 1 -.6-.1 .8 .9 -.5-.2 -.2 .7 .4-.4 .3-1.4 -.1 4.4 .2-1.7 .2 2 -.4 .7 .3-2.7 -.2 2.3 .3-4.1 -.2 2.5 -.3 2.9 .4-2.6 0 1.3 .4 1.9 -.6-1 .1 .8 .4 .2 0 2.8 .4-1.6 -.5 1.4 .5-.7 -.3 2.9 -.3-1.7 .8 .3 -.7 2.9 .3-.7 .4-3.2 -.3 2.7 .4 2.6 .2-1.6 -.3 1.4 .3 .4 0 .2 -.6-2.7 .7 3.7 -.5-1.6 .7-2.2 -.3 2.6 -.3 .8 .1-.1 .2 1.8 .4-2.5 .1 .8 -.1 .7 -.2 2.2 .4-2.2 -.5 .1 .6-.6 -.3 1.1 -.3-1.2 .3-.9 .4 1.2 0-.5 -.4-1 0-.7 .4 2 -.4-.5 .7-1.4 -.4 2.8 .4-1.6 -.1-3.3 0 4.1 -.3-1.1 .5-1.3 -.4-1.6 .1 .6 .3-.6 .3-.6 0-1 -.4-1.7 .3-.6 -.1 1.7 -.2-1.5 .2-.7 .2-.6 -.3 .8 .4-2.1 -.3 1.4 .7-1.8 -.6-.8 .6-.9 0 2.7 -.5-.5 .1-2 .2-.6 -.2-.3 .1 2 .5-1.7 0 .8 -.1-2.3 -.3 .6 .6-.2 -.5 2.2 .4-.7 -.5 .1 .7-3.3 .1 1 -.1 .6 -.4 0 .3 .4 -.3-2.1 0-1 -.1 1.7 .3 0 .1-2.4 .4-.9 -.6 1.7 0-3.7 .4 .7 .2-1.7 .2 1.4 -.5-1.6 -.1 1.1 .4-.7 -.4 .3 .8-1.8 -.2 4.2 -.5-3.7 .2 .4 .2 .9 .5 .5 -.5-2.8 .4 2.9 -.2-1 -.2-1.4 .2 1.1 .3-3.9 -.5 .2 .2-.5 -.2 1.7 .5-1.3 .3 1.2 -.6-1.1 0 .9 .6-2 -.4 1.3 .1 .6 .4-2.9 -.3 .5 .2 0 -.5-.6 .6-.4 .1 1.3 -.5-2.1 .7 1.4 -.6 .2 -.1-3 .7 1.3 -.2 1.1 -.4 1.2 .2-2.1 .8 .6 -.2-2.1 .5 .5 -.1-2.1 .2 1.5 .1-.9 .1 .8 .2 1.4 .9-4.4 -.1 .2 -.1 1.7 .6-2.5 .2 1.4 -.1-2.5 .6 1.7 .1-2.2 .2-.1 0-.3 .2 1.2 .2 2.7 -.3-2.4 .3-.4 .2 1.4 0 1.3 .1-3 -.3 2.7 .2 1.6 -.3-1.1 .8 2 0-.6 -.3 1.8 .1-.3 -.3-.3 .2-1.3 .4 2.5 -.3 .4 .5-.8 .2 3.6 0-3.8 0 1.1 -.2 3.2 .3-.9 0-.9 .1 .5 -.5 .6 .6-1.7 -.2 3.6 .4-3.5 -.1 1.5 .3-.8 -.5 .4 .6-.2 -.6-1.6 .3 2 -.1 2 .4 1.3 -.1 1.5 .1-.1 .3-1 -.5 .5 -.2 1.9 .3-.2 0 1.2 0-2.2 0-.4 .4-.6 -.3 .7 .5-.9 -.6-.3 .3 1 .2-.5 0 2.3 -.1-.1 -.3-.6 .6-1 -.4 2.6 .4-.4 -.3-.5 .3 .3 .3 .4 -.3 2.4 -.2 2 .3-2.6 .1 .8 -.4 .4 .8 0 -.2-1.8 .2 2.8 -.5-1.2 .4 3.7 .1-3.5 -.5 2.6 .1 2.1 .4 .5 -.2 .1 .4 .2 -.1 .3 -.1 0 -.4 3.7 .4-1.8 .4-1.6 0 .6 -.5-1.7 -.1 .5 .4-.9 -.1-.8 -.3 2.2 0-3.3 .8 .2 -.5 .2 -.1-.5 .2-2.3 .2 2.1 -.2-.3 .3-.7 -.1-.7 -.2-3.3 .6 2.1 -.2 1.4 .1-2.6 0 1.2 0 .7 .2-2.5 0 .8 -.3-1.6 .3 2 0-4.3 -.2 .6 -.2-3.7 .5 1.9 -.2 .5 -.1-1.3 -.1 2.6 .3 .6 .2-2.3 -.6-1.1 .5 .6 .2 0 -.1 1.7 0-2 .2-.7 -.5-1.5 .4 1.3 0 .3 -.1 1.5 0-2.2 .1 0 -.1 .1 .1-.7 .2-.2 -.1 .1 0-1.5 -.2 4 -.1-5.1 0 .8 .4-1 -.2-.9 .5-1.7 0 1.2 .1-1.5 -.1 1.8 -.5-4.4 .4 2.2 -.3-.7 .5 1.8 -.5-1.5 .2-.3 -.1-.4 -.2-.7 .8-1.2 -.4-1.9 -.1 .9 -.2 2 .2-3.3 .1 2.7 0-3 0 2.8 .5-2.1 .4 .5 -.3-.3 .6-2.1 .3 .6 .5 .6 .4-.1 .2-.3 -.2 .4 .8 0 -.2 .8 .8 .7 .3 .5 .2-3.6 .2 .8 .6 .5 .2 1.3 .1 .6 .4 1 -.2-2 .2 .9 .1-1.4 .8-1.9 -.5 .7 .9 .6 -.2-.5 0-.5 .6-.2 -.2 .3 0-.2 .7-.4 0-2 -.5 .3 .6 .1 .2-.5 0-.5 .6-1.6 -.7 1.5 .2-.9 .3-.5 0 .6 .2-.9 .7 .8 -.3-1.7 0-2.1 .2 3 0 .6 .3-2.8 .2 1.5 0-.9 .2-2.2 .1 4.6 .1-4.5 .6 1.1 -.5 .4 .1-3.6 .6 .9 0 .9 .1-.6 .4-1.1 .6 .6 -.3-.2 .7-1.8 .1-1.1 .1 2.4 .1 1.3 .4-.3 .4-.5 .3 1.9 0-.6 .3-.3 .7-1.2 -.3 1.7 .7-1.1 0 3.1 .5-2.7 .6-3.5 -.4-.3 .8 1.6 .2-.8 .4 .6 -.3-2.8 .3 .4 .1 2.7 .9-.8 .2-2.5 .4 .5 -.4 1.8 .5-.8 0-2.5 .8 .8 -.3-2 .7 .7 .2-1.4 .5 1.8 -.2-1.4 .1-.4 .9 2.3 .1-1.4 -.2 2 .4-.7 .5-1 0 .4 .1-.8 .6-2.5 .2-1 -.3 4.1 .7-.9 -.3 0 .6 1.8 .5 .7 -.4-.8 .8-1.7 0-1.2 -.1 1 .8-2.8 .1 .3 .5-1.3 0 3.6 .3-2.2 .1-1.6 .3 1.6 .5-.9 .2 3.3 -.4-5.8 .6 3.4 0-2 .5 .1 .2 1 .2-1 -.2 1.8 0-1 .7 .4 0-2.9 .4-.4 .1-1 .2 2.4 .4-.6 -.1-2.2 -.2 2.8 .7-1.8 -.3-.7 .1-2.2 1-.6 .2 .6 -.2-1.8 .1 2.9 .3-1.5 .3 .5 .2 .1 .5-.2 -.1 3.2 .3-5.9 0 1.7 .1-2.2 .5 1.2 .2-1.6 -.1 .7 0-1.7 -.1 .3 .4 .1 .3 .9 .3 2.5 -.2-2.6 .3-2.1 .2 2.1 .2 .1 .6-.6 .1 2.6 0-2.1 0 .6 .3 1.2 .6-2.7 -.1 .4 .5-.2 -.4-1.2 .4 1.3 0-2 .9-.5 .2 .2 0-1.7 .1 .1 .5-.9 .2 0 .3-.8 .2-.9 .3-.2 .4-1.5 .1 .9 .3-.7 .2-1.2 .4 .5 .2-.9 .3-.7 .3-.2 .2-.4 .3-.6 .3-.2 .3-1 .4 .3 .2-.9 .3-.7 .2 0 .4-.5 .2-.5 .3-.4 .3-.6 .3 .1 .3-.8 .3-1 .3-.1 .3 0 .3-.6 .3-.4 .4-.8 .3 .5 .2-.7 .3-.6 .3-.2 .4-.5 .3-.4 .3-.8 .3-.3 .2 .2 .4-1.2 .4-.3 .2-.5 .1 .7 .1 1.1 -.1 .1 .1 .7 .2 .1 0 .6 0 .6 .1 .7 .1 .4 0 .3 0 .5 .2 .2 -.1 1 .2 .6 .1 1.1 0-.5 .1 .8 .1 .3 0 .8 .1 .1 0 .6 0 .8 .1 1 .1 .3 .1 .1 .1 .6 -.1 .3 .2 .4 .1 0 0 .5 .1-.5 -.1-.2 .1-1 0-.4 .1-.6 0-.6 .1-.7 0-.2 .1-.3 0-.8 .1 0 0-.8 0-.7 .1-.6 0-.9 .1-.1 .1-.5 -.1-.6 0-.3 .2-.7 .1 0 -.1-.6 .1-.5 0-1 0-.3 .1-.3 .1-1.1 0-.1 .1 .1 .1-1 -.1-.7 0-.4 .2-.2 0-.7 0-.2 0-.9 .1-.5 .1-.3 0-.7 .2-.5 .3-.4 .2-.6 .2-.4 .2-.4 .2-.5 .3-.6 .1-.7 .4-.3 .1-.4 .2 .1 .2-.7 .2-.8 .2-.3 .3-.6 .2-1 .4-.4 .4 .2 .2-.6 .3-.2 .4-.3 .3-.7 .3-.5 .3-.4 .2 0 .4-.6 .3-1.2 .3 .4 .4-.9 .4 0 .4-.1 .6-.6 .3-.2 .4-.2 .5-.4 .4-.5 .4 .2 .5-.7 .3 0 .5-.6 .4-.6 .3 .8 .3 .6 .4 .9 .3 .1 .2 .7 .4-.1 .3 .2 .3 .6 .3 .2 0 1 .1 .4 -.1 .4 .1 .6 .1 .6 0 .7 0-.3 0 1 .2 .6 0 .3 -.1 .6 .1 .2 0 .6 .1 .3 0 .7 0 .7 .1 .7 0 .2 .1 .8 0 .8 0 .3 0 .7 0 .6 .1 1 .1 .2 0 .4 0 .4 0 .8 .2 .4 0 .2 0 .5 .1 .5 -.1 .7 .1 .8 0 .7 0 .9 .1 0 0 .6 0 .9 .1-.1 0 .9 .1 .2 0 .9 0 .7 .1 .3 -.1 0 .1 .8 .1 .6 0-.2 0 1.2 0 .6 0 .7 .2 0 0 .5 0 .7 0 .7 .1 .6 .1-.2 .1 .9 -.1 .9 .1 .2 0 .2 .1 .6 0 .3 .1 .7 0 .4 0 .8 .1 .3 0 .7 .1 .1 .1 .9 0 .5 .1-.2 0 .9 0 .7 .1 .6 0 .1 0 .7 .2 .3 -.1 .6 .2 .8 -.1 .3 .1 .5 0 .9 .1 .6 0-.1 0 .5 .1 .8 .1 .1 -.1 1.1 .2 .2 0 .4 0-.5 .1-.5 0-.3 0-.7 .2-.5 0-.1 0-.9 0-1 .1 .3 0-.6 .1-1 .1-.3 -.1-.8 .1-.6 .1 .1 -.1-.2 .1-1.4 .1-.4 0-.1 .1-.7 0-.9 0-.2 .1-.3 -.1-.6 .1-.4 .1-1 .1-.4 0-.1 0-.6 .1-.7 .1-.2 -.1-.5 0-.5 .2-.7 -.1-.6 .1-.3 .1-.5 0-.4 0-1 .1-.4 .1 0 -.1-.6 0-.6 .2-1 .1-.4 0-.2 .1-.5 .1-.1 .1-1 .1-.4 .1-.3 0-.9 .1-.9 0 .5 .2-.7 -.1-1 .2-.7 .1-.4 .1 0 .1-.4 0-1 0-.6 .1-.4 .2 0 .1-.8 0-.8 0-.2 .1-.7 .2-.5 0-.3 .1-.9 0-.4 .1-.3 .1-.5 0-.6 .2-.2 0-.9 .1-.1 .1-.9 .3-.5 .2 0 .4-.6 .2 .2 .3-.8 .2-.7 .4-.7 .2-.5 .3 .1 .4-.6 .1-.2 .3-.5 .4-.2 .2-.5 .3-.3 .3-.9 .2-.4 .3-.4 .4-.3 .3-.5 .1-.5 .4-.3 .2-.5 .3-.7 .3-.4 .3-.4 .5 .1 .4-.2 .5-.1 .4-.5 .4 0 .6-.2 .4-.6 .4 .2 .4-.8 .5 .3 .4-.8 .5 .1 .5 .2 .6 .1 .4 .3 .6-.3 .4 .4 .5 0 .6 .2 .5 .1 .3 .4 .5-.3 .5 .4 .6 .5 .4-.2 .6-.1 .5 .6 .6 .4 .4-.3 .1 .3 0 1.3 .1-.3 .1 .6 0 .9 .1 .8 .1-.1 .2 .8 .1 .1 0-.7 0 .1 .2-1.2 .1-.3 .1-.4 0-.2 .1-.7 .1-.6 .4 .4 .4 .7 .6-.1 .3 .2 .5 .2 .5 .6 .4 .3 .4 .1 .5 .2 .4-.1 .5 .4 .4 .3 .5 .3 .3 .7 .5 0 .4 .5 .5 .4 .4 .2 .4-.1 .4 .6 .5 .1 .5 .6 .4 0 .4 .6 .4 .2 .5-.2 .4 1 .4-.1 .5 .6 .3 .4 .5-.4 .4 1.3 .3-.5 .4 0 .5 .5 .5-.3 .3 1.3 .5 .1 .4 .4 .4 0 .4 .4 .5 .1 .4 .4 .4 .4" stroke="#8000ff" stroke-width="2.3" fill="none" stroke-linejoin="round" stroke-linecap="round" clip-path="url(#cA)"/>
<path d="M54.2 33.6l.8 .4 1.1 .4 1.2 .6 1.4 .6 1.5 .7 1.6 .7 1.6 .8 1.6 .7 1.6 .8 1.6 .8 1.6 .9 1.7 .9 1.7 1 1.9 .8 2 .9 2.1 .7 2.3 .7 2.6 .6 2.6 .6 2.8 .5 2.8 .5 2.7 .5 2.6 .4 2.4 .4 2.2 .4 2.1 .3 1.9 .3 1.9 .2 1.9 .2 1.9 .1 1.9 .1 1.9 0 2-.1 1.9-.1 2-.2 2-.3 2-.3 2-.4 2.1-.4 2.1-.4 2.3-.5 2.5-.6 2.7-.7 2.6-.6 2.5-.7 2.3-.6 1.9-.5 1.4-.4" stroke="#ff00ff" stroke-width="2.2" fill="none" stroke-linejoin="round" stroke-linecap="butt" stroke-dasharray="7 4.5" clip-path="url(#cA)"/>
<path d="M54.2 86.9l1.2 .1 1.6 .2 1.9 .2 2.2 .2 2.2 .3 2.3 .2 2.3 .2 2.1 .2 2 .2 2.1 .2 2.2 .2 2.1 .2 2.1 .1 2.1 .2 2 .1 1.9 .1 1.8 .1 1.7 0 1.7 0 1.6 0 1.6 0 1.6-.1 1.7-.1 1.8-.2 1.9-.2 2-.3 2.1-.2 2.1-.4 2.1-.3 2-.4 1.8-.4 1.7-.4 1.5-.4 1.3-.4 1.1-.5 1.1-.4 1-.5 1.1-.5 1-.6 1.2-.6 1.2-.6 1.2-.7 1.1-.8 1.2-.7 1.2-.8 1.3-.8 1.3-.8 1.5-.8 1.6-.8 1.8-.9 1.8-.8 1.9-.9 1.9-.9 1.9-.9 1.8-.9 1.6-.9 1.5-1 1.5-1 1.4-1 1.4-1.1 1.3-1 1.2-1 1.2-1 1.2-.9 1.1-.8 1-.8 .9-.8 .9-.7 .9-.7 .8-.7 .9-.7 .9-.8 1-.8 1-1 1.1-1 1-.9 1-.9 .9-.9 .7-.7 .6-.5" stroke="#ff00ff" stroke-width="2.2" fill="none" stroke-linejoin="round" stroke-linecap="butt" stroke-dasharray="7 4.5" clip-path="url(#cA)"/>
<path d="M54.2 121l1.9 0 2.5 0 3.1 0 3.3 .1 3.5 0 3.3 0 3-.1 2.6 0 2.1-.1 1.7 0 1.6-.1 1.4-.1 1.4-.2 1.4-.1 1.4-.2 1.6-.2 1.7-.2 1.8-.2 1.8-.3 1.9-.3 1.9-.3 1.8-.3 1.9-.5 1.9-.5 1.9-.6 2-.8 1.9-.8 2-.8 2-.9 1.9-.9 1.8-.8 1.8-.8 1.7-.7 1.6-.7 1.6-.6 1.5-.7 1.5-.6 1.4-.7 1.4-.7 1.4-.8 1.3-.8 1.3-.9 1.3-.9 1.2-1 1.2-1 1.2-.9 1.2-1 1.2-1 1.3-1 1.2-.9 1.3-.9 1.3-1 1.3-1 1.3-1 1.2-1.1 1.3-1.1 1.3-1.2 1.2-1.4 1.3-1.3 1.2-1.5 1.3-1.4 1.2-1.4 1.2-1.5 1.1-1.3 1.1-1.3 1.1-1.3 1-1.3 1-1.3 1-1.2 1-1.3 .9-1.2 .9-1.1 .8-1.1 .8-1 .8-.9 .7-.9 .7-.9 .7-1 .8-1 .7-1.2 .8-1.4 .8-1.5 .9-1.7 .9-1.8 .8-1.6 .7-1.5 .6-1.3 .5-.9" stroke="#ff00ff" stroke-width="2.2" fill="none" stroke-linejoin="round" stroke-linecap="butt" stroke-dasharray="7 4.5" clip-path="url(#cA)"/>
<path d="M54.2 161.2l1.2-.2 1.5-.3 1.9-.3 2-.3 2.3-.4 2.3-.4 2.3-.4 2.3-.4 2.3-.4 2.3-.3 2.5-.3 2.5-.4 2.5-.4 2.6-.5 2.7-.6 2.7-.8 2.8-.9 3-1 3.1-1.1 3.1-1.3 3.1-1.3 3.1-1.4 2.9-1.5 2.7-1.6 2.6-1.8 2.5-1.9 2.4-2.1 2.3-2.2 2.2-2.2 2.2-2.2 2-2.1 2-1.9 1.9-1.8 1.8-1.8 1.8-1.7 1.6-1.7 1.6-1.7 1.5-1.6 1.4-1.5 1.3-1.5 1.2-1.4 1-1.4 .9-1.3 .8-1.3 .8-1.3 .8-1.2 .8-1.3 .9-1.2 1-1.3 1-1.3 1-1.3 1-1.2 1.1-1.3 .9-1.1 1-1.1 .8-1 .7-.8 .7-.7 .6-.5 .6-.5 .5-.5 .6-.5 .6-.7 .7-.8 .8-1 .8-1 .8-1.2 .9-1.2 .9-1.3 .9-1.3 1-1.5 .9-1.5 1-1.6 .9-1.8 1-1.8 1.1-1.9 1-2 1-2 1-2 1-1.9 1-2 1.1-2.2 1.1-2.3 1-2.3 1.1-2.1 .9-2 .7-1.6 .6-1.2" stroke="#ff00ff" stroke-width="2.2" fill="none" stroke-linejoin="round" stroke-linecap="butt" stroke-dasharray="7 4.5" clip-path="url(#cA)"/>
<rect x="54.2" y="0.8" width="185" height="185.1" fill="none" stroke="#000" stroke-width="1.5"/>
<path d="M91.9 185.9V181.4M91.9 0.8V5.3M113.9 185.9V181.4M113.9 0.8V5.3M129.6 185.9V181.4M129.6 0.8V5.3M141.7 185.9V181.4M141.7 0.8V5.3M151.6 185.9V181.4M151.6 0.8V5.3M160 185.9V181.4M160 0.8V5.3M167.3 185.9V181.4M167.3 0.8V5.3M173.7 185.9V181.4M173.7 0.8V5.3M217.1 185.9V181.4M217.1 0.8V5.3" stroke="#000" stroke-width="1.4" fill="none"/>
<path d="M179.4 185.9V177.9M179.4 0.8V8.8" stroke="#000" stroke-width="1.4" fill="none"/>
<path d="M54.2 146H58.7M239.2 146H234.7M54.2 122.7H58.7M239.2 122.7H234.7M54.2 106.1H58.7M239.2 106.1H234.7M54.2 93.3H58.7M239.2 93.3H234.7M54.2 82.8H58.7M239.2 82.8H234.7M54.2 73.9H58.7M239.2 73.9H234.7M54.2 66.2H58.7M239.2 66.2H234.7M54.2 59.5H58.7M239.2 59.5H234.7M54.2 13.5H58.7M239.2 13.5H234.7" stroke="#000" stroke-width="1.4" fill="none"/>
<path d="M54.2 53.4H62.2M239.2 53.4H231.2" stroke="#000" stroke-width="1.4" fill="none"/>
<text x="17.5" y="22.3" font-family="Liberation Sans, sans-serif" font-size="20" text-anchor="start" font-weight="bold" font-style="normal" fill="#000" style="stroke-width:0.5px">a</text>
<text x="52.2" y="59.5" font-family="Liberation Sans, sans-serif" font-size="16.5" text-anchor="end">10<tspan font-size="10.5" dy="-8.4">3</tspan></text>
<text x="52.2" y="192" font-family="Liberation Sans, sans-serif" font-size="16.5" text-anchor="end">10<tspan font-size="10.5" dy="-8.4">2</tspan></text>
<text x="232" y="168.7" font-family="Liberation Sans, sans-serif" font-size="17" text-anchor="end" font-weight="normal" font-style="normal" fill="#000" ><tspan font-style="italic">x</tspan> = 0.28</text>
<path d="M119.9 384.2 L240.7 227.9" stroke="#000" stroke-width="3" stroke-dasharray="0 5.5" stroke-linecap="round" clip-path="url(#cD)"/>
<path d="M57.2 228.4l.3-1.7 .3 1.1 .8-.7 .4 .6 0-1.1 .6 1 .2 .7 .7-.3 .4-.7 -.2-.7 .7-1.3 -.3-.7 .4 .9 .7 .8 0-2.7 .3-.1 -.2 1.1 .3-1.7 -.3 0 .1-1.2 .5-1.7 .1 .5 0-.7 .4-.2 -.4 3.5 0-.7 .3 .1 .2 1.2 -.2 .6 .3-1.9 -.1 1.1 .1 1.1 .3 .9 .1 0 .1 .9 -.4 1 .3-1.3 -.1 3.5 .4-.5 -.2-.2 0 1.9 .5-1.7 -.3 1.5 .5-1.2 -.4 1.5 .7-1.1 .5-.1 .1-.3 .4 1.5 .7-.2 0-1.2 .2-2.2 .4 3.6 .8-1.3 .2-.6 .5-.7 .2 .2 .4-.6 .3 1 .4 1.3 .7-.5 .2 .4 .3-1.9 .6 .6 .6 1.4 .1 .2 .5-.3 .3 .8 .5-2.2 .3 .2 .4-.7 .2 1.6 .5 2.1 .6-.8 -.2-3.1 .5 2.1 .2 1.5 .5-.7 .7 .7 -.1 .5 .8-.6 0 1.2 .5-.2 .6 .6 0-.4 .3 .5 .7 1.9 .1-1.5 .4 .8 .5-.4 .5-1.6 .2 0 .3 .2 .3-.1 .8 .8 -.1-1.2 .7-2.2 .5 1.6 .1-.9 .3 1.1 .5-.9 .4-1.6 .3 2.7 .6 .1 .1-2.1 .8 2 .2 .2 .8-.6 .4-2.6 -.1 2.5 .9-1.4 0-.3 .3-1.6 .8 2.1 .3-1.8 .3 1.4 .4-1.1 .8 .4 -.1 1.6 .7-.2 .2-.6 .3-.6 .7 .2 .2-1.1 .3-.8 .6 2.2 .6-1.6 0 .3 .9-.6 .1 1.8 .6 .8 .5 .1 .3 .6 .6 1.9 .4 .8 .4-1.7 .4-.2 .4-1.3 -.1 1.7 .6 2.5 -.1-2.7 .7 .2 .4 2 .4-1 .1 .2 .7 1.2 0-.6 .6 1 0-1.4 .2 2.5 .5-.6 .1-.6 .2-1.6 .3-.7 .7 1.2 .5-.9 .1 0 0 .1 .4-2 .6-1.1 .3 1.2 .2-1.7 .3-.5 .5-.4 .4 .6 .5 1.7 .5-1.3 .5-.4 .1-1.2 .5 1.5 .4 .3 .2-2.9 .4 1.3 .6 1.3 .1-1.5 .7 .6 .4 2.5 .4-2.2 .5 1.9 .2 .1 .4-2.3 .8 1.3 -.1-2.3 .4 2.5 .5-3.1 .7 1 .1-.2 .4 0 .4-.2 .4-.5 .7 1.9 .2-.2 .3 2.2 .7-.7 .2 0 .6 1 0-.3 .7-1.9 .4-1.6 .5 1.7 .4-1.5 .5-.6 .4 1.1 .1-1.9 .8 1.2 .2 .8 .3-1.4 .3-1.5 .7 .3 .3 1.3 .4 .6 .3-1.2 .4 .6 .5-1 .3 .5 .6 1.2 .7 .6 .2 .6 .2 .9 .4-1.6 .5 .9 .6-3.1 .3 .7 -.1 1.7 .5-.4 -.3-.6 .4 2.9 .2 .8 -.1-1.3 .7 2.2 0 .2 -.2 .5 .3-.5 .2 .7 .4-.3 -.3 2 .3-.4 0-.5 .2-2.5 .2 2.1 0-.6 .2-2.5 .3 2.2 0-2.4 0-.3 .1 .7 .1 .3 .2-.6 0 .6 .5-1.8 -.2-1 .5-.9 .2-.6 .3 .1 .2-1.3 .6-.6 .2 .3 .5-.2 -.1 2.5 .7-2.6 .5-1 .3 1.8 0-1 .3-1.5 .5 3.5 .4-2.5 .7-.2 .4-.8 .4 .1 .5 2.3 .1-2.5 .7 .7 .2-.8 .2-.3 .3 1.7 .3-1 .5 .7 .3-1.9 .8 2.2 .2 .8 .5 .3 .3-.4 .6-.2 .4 1.8 .5 .1 .3 0 .2-1 .3-.8 .5-1.6 .6 2.2 .5-1.5 -.1-.1 .6 1.9 .3-1 .3 .6 .7-.3 .4-.4 .5 1.9 .1-2.3 .9 1.6 0-.4 .4 .3 .7 .4 .3 0 .1-2.4 .5 .7 .7 1 .4-.3 .4-.1 .3-1 .1 2.3 .8-1.8 .4 .7 .1 3.4 .7-.4 -.1-.1 .8 .5 .1-1 .3-.2 .4-.6 .9-.1 .2 2.1 .2-1.2 .5-.4 .6 .1 .4 .9 0 .4 .4 1.1 .5-.9 .4-1.1 .2 1.3 -.1 .6 .1 .3 .3-.2 .1 .9 .2 .4 .3-1.5 .1 1.2 .2-.1 0-.4 .3 1.4 .2 .5 -.1 1 .2-1.5 -.1-.9 .3-.2 -.1-1.3 .4 .6 .1 1.7 .3-1.6 -.3-.4 .3-2.2 .2 .6 -.1 1.4 .2-1.8 .2-.9 -.1 2 -.1-1 .2-.4 .3 .8 .3 1.3 -.1 1.3 -.1-1.1 -.2-.5 .2 1.2 .1 1 -.1 1.7 .2-1.2 0-.6 .1 1.9 .4 2.8 0-.2 0 1.1 .2 1.4 -.1-.3 -.2-.1 .2-1.6 -.1 .7 .1-2.2 .4 .7 0-.1 0-3.6 .2 2.9 -.2-1.3 0 .7 .3-1.3 .2 .7 0-2 -.2 1 .5 0 .2-1.2 -.3-.1 .1 .1 .1-.5 .2 .2 .2-.2 0-2.5 -.4-.1 .9 1.8 .2-1 .3-.7 .7 .8 .5-1.4 .1 1 .8-1 0 1.5 .7-.7 .2 .4 .7-.7 .3 1.5 .5-.2 .4 .7 .5-1.2 0 .3 .8 1.1 .5 .4 .1 .4 .8-.9 .3 .2 .6-.4 .2 1.5 .7 .3 .5-.2 .3 .3 .5 .5 .5 .3 .3 .5 .4 .1 .3 .5 .3 .7 .4 .2 .4 .5 .3 1 .3-.1 .3 .3 .2 .5 .2 .7 .1 .5 .3 .3 .1 .2 .2 .6 .1 .5 .2 .2 .2 .8 .1 .4 .3 .5 .1 .4 .2 .7 .1 .4 .1 .2 0 .8 .1 .4 .1 .3 0 .5 .1 .9 .1 .2 .1 .5 .1 .8 .1 .6 0 .1 .1 .5 .1 .7 0 .7 .1 .4 .1 .6 .1 .5 0 .9 .1 .4 .1 .1 .1-.3 .1-.5 0-.7 .1-.3 0-.5 .1-.3 .1-.8 .1-.7 .1-.6 0-.4 .1-.4 .1-.5 0-.5 .1-.6 .1-.8 0-.2 .2-.5 0-.6 .1-.2 .1-.6 .1-.7 0-.3 .1-.5 .1-.6 .1-.4 0-.6 .1-.4 .1-.4 .1-1.1 .1-.2 .1-.4 .1-.9 .1-.3 0-.4 .1-.5 .1-.9 0-.7 .1 .1 .1-.9 .2-.4 0-.5 .1-.1 0-.5 .1-.7 .1-.3 .2-.6 0-.6 .2-.5 .2-.2 .4-.5 .2-.5 .5-.4 .2-.6 .4-.2 .3-.2 .4-.6 .3-.1 .3-.6 .3-.3 .4-.6 .2 .1 .4-.7 .5-.1 .5 .3 .5-.3 .6 .2 .4-.3 .6 .7 .4-.3 .6 0 .5 .3 .5-.2 .5 .5 .6 0 .5-.2 .5-.3 .5 .5 .5 0 .5 .5 .5-.3 .4 .3 .5 .5 .5 .1 .6 .3 .3-.2 .6 .2 .5 .2 .4 .2 .5 .1 .5 .4 .5 .1 .5 .1 .5 .1 .4 .3 .6 .1 .4 .5 .5-.3 .5 .6 .5 .1 .1 .6 .2 .5 0 .1 .1 .9 .1 .2 .1 1 .1-.1 .1-.2 .2-.6 .1-.6 0-.5 .1-.4 .2-.6 .5-.2 .4 .4 .6 .3 .4 .4 .6-.3 .5 .5 .4 .4 .4-.5 .6 .5 .5 0 .4 .5 .5-.1 .5 .5 .6-.3 .4 .1 .5 .6 .5-.1 .5 .3 .4-.1 .4 .7 .5-.1 .5 .4 .4-.2 .5 .3 .4 .2 .6 .2 .4 .5 .4 .2 .5 0 .5 .3 .5 .2 .4 .2 .4-.1 .5 .1 .5 .5 .4-.3 .5 .8 .5 .2 .4 .2 .5 0" stroke="#ff0000" stroke-width="2.3" fill="none" stroke-linejoin="round" stroke-linecap="round" clip-path="url(#cD)"/>
<path d="M57.4 243.8l.5-.3 .4-.8 .6 .3 .5-1 .5 0 .5 .2 .6-.4 .5 .4 .4-.6 .6-.2 .5 .2 .5-.2 .5-.2 .5 .5 .6 0 .5 .3 .5 .7 .5-.2 .6 0 .6-.3 .4-.6 .5 .1 .5 .6 .7-.6 .5 .3 .4-.1 .5 .2 .5 .3 .7 0 .4 0 .5 .1 .3 .9 .7 0 .6 .9 .4-.3 .3 .3 .5 .8 .4 .2 .6-1.6 .7 .7 .5 0 .5-.2 .3 .7 .3 .8 .8 .6 .5-1.5 .5 1.5 .4 .5 .4 .6 .2-1.8 .4 1.5 .5-.3 .6-.7 .5 .1 .6-.5 .5-.6 0 .6 .9 2.1 .5-1.1 .1 1 .6 .1 .5 1.5 .5-2.7 .6 .1 .4-1.2 .3-.1 .4-1.9 .1 1.1 .4 .7 .4-.2 .5-1 .5 .9 .3-.4 .5-1.5 .6 .7 .5-.7 .5 1.6 .5-.8 .2 .6 .4 .2 .5 .5 .8-.2 .4 .1 .5 .5 .3 0 .4 .1 .8-.3 .3-.9 .2 .5 .7 .1 .3-.5 .4 1.6 .5 .3 .4-1.2 .6 1.8 .3-1 .9-.1 .1 .3 .7 .3 .3 1.1 .5-.8 .7 .4 .3 0 .6-.9 .4-1.2 .4 .4 .4 .7 .5-1.5 .3 .3 .8 .9 .3-.7 .2 1.1 .8 .8 .2 .1 .7-.9 .5 .3 .2-.2 .7-.6 .2-.1 .8 .1 .1-.9 .5 .6 .4-1.4 .5-.4 .4 1.2 .7-1.3 .4 .6 .4-.3 .4-.7 .5 1.2 .4-.4 .9 .6 .3-1.3 .6 .6 .2 1.4 .3-.1 .7-.7 .7 .6 .5 .4 .4-1.5 .3 1.6 .7 1.1 .2 .5 .6-2 .6 .4 .3-.7 .6 1 .4 0 .1 .4 .9-.2 .3-.8 .3 .7 .6 0 .7-.1 .3-1.6 .5 .6 .4-.6 .5 .5 .6 .6 .4 1.4 .8-.8 .5-.7 .5-.1 .3-1.4 .2 1.5 .9 .7 .5 .1 .1-.1 .6-.2 .4-1.1 .8 1.1 .4-.6 .4 1.7 .4-1.5 .4-.7 .8 .6 .3 .9 .4-.7 .5-.6 .4-.9 .5 2.2 .8-.9 .4-.1 .3-.6 .5 0 .5 .2 0-.4 .9-1.1 .3-1.3 .2-.1 .7 1 .2-.3 .5 .6 .5 .4 .6-.5 .2-.8 .7 .7 .5-.6 .5-.8 .6 1.5 .2-1 .8 .1 .1-.5 .8-.1 .3-.2 .3-.6 .6 1.4 .8-2.5 .2 .5 .3 .9 .6 .7 .5-.6 .4-2.4 .8 2 .3-1.9 .7 2 .3-1.4 .4 2.7 .5-1.6 .7 .4 .3-.4 .3-2.1 .6 1 .7-.9 .6 .9 .3-.1 .4-1.6 .5 1.7 .4-1.5 .4-1.4 .8 1.8 .3-.9 .4-1.6 .5 2.1 .6 .4 .1-.2 .5-.7 .3 1.7 0 1.3 .1-.7 .3 .7 .1 .5 .2 1.1 .7 .6 .1-.1 .3-.9 -.2 .6 .6 1.1 0-.1 .5 .4 0-1.4 .2 1.5 -.3-3.8 .4 .3 -.1 .4 0-1 .3-.2 0 .3 .1-1.5 .1 .2 .1 .9 .3-.8 .1 .1 .1-2.4 -.2-.7 .8 .2 .4 1 .5-.1 .6-.5 0-1.1 .8 .8 .5 0 .5-.1 .2 .1 .4 .5 .7-.4 .8 2 .2-1.4 .5-1.5 .4 1.1 .8-.9 .3 .1 .4 .1 .6-.4 .6 .6 .5 .3 .6-.2 .4 .3 .5 0 .5 .2 .4 .2 .1 .8 .5 .6 .2 .4 .3 .4 .3 .5 .3 .5 .3 .2 .3 .4 .3 .3 .2 .7 0 .7 .2 .5 .2 .1 .1 1 .1 .5 .2 .3 .1 .5 .1 .4 .3 .3 .1 .7 .1 .6 .1 0 .2 .8 .2 .7 .1-.1 0 .9 .2 .2 .2 .5 .1 .6 .1 .4 .2 .7 .1 .9 .1 0 .1 .6 .1 .8 .1 0 .1 .8 .1 .1 .1 .7 .2 .5 0 .8 .1 .4 .1 .5 .1 .7 .1 .2 .2 .7 0-.5 .1-.6 0-.5 .1-.3 .1-.5 .1-.5 .1-1.1 .1 0 0-.4 0-.5 .2-.7 .1-.6 0-.4 0-.5 .2-.8 0-.6 .1 0 .1-.9 .1 0 .1-1 0-.4 .1-.5 .2-.4 .1-.5 .1-.5 0-.5 .2-.4 0-.8 .1-.3 .2-.6 .1-.5 0-.3 .2-.5 .1-.5 .1-.2 .1-.9 .1-.2 .1-.7 .2-.7 0-.3 .1-.5 .2-.4 0-.5 .1-.5 .1-.5 .2-.5 .1-.5 .2-.8 0-.2 .5 0 .4-.9 .4 .1 .4-.4 .4-.5 .4 0 .4-.5 .4-.2 .4-.3 .4-.5 .5 .1 .4-.9 .3-.1 .5-.3 .4-.2 .5 0 .5 0 .5-.2 .6 .2 .4-.1 .5 .3 .6-.3 .4 0 .5 .3 .5 0 .6-.2 .5 0 .5 .2 .6-.2 .4-.1 .6 .1 .4 .4 .6-.3 .4-.2 .6 .7 .4-.4 .6 .4 .5-.6 .5 .6 .6 0 .4 .1 .6-.1 .5-.4 .5 .6 .5-.5 .1 1.1 .1 .4 0 .2 0 .7 .1 .1 .1 .7 .1 .5 0 .5 .1 .5 .1 .5 0-.6 .1-.3 .2-.6 .1-.6 0-.3 .1-.6 0-.4 .1-.7 .1-.3 .5 .2 .5 .2 .5-.1 .5 .2 .5 .2 .4 .2 .5-.3 .5 .2 .5 0 .5 .3 .5 .1 .5 .3 .4-.3 .5 .4 .5 .3 .5-.2 .5 .6 .5 .2 .4-.1 .5 .1 .5-.1 .5 .6 .5 .3 .5 .3 .5-.4 .4 .3 .5 .1 .4 .6 .6-.2 .4 .3 .5 .2 .6 .3 .4 0 .5 0 .4 .4 .6 .2 .4 .2 .5 .2 .5 0" stroke="#ff8000" stroke-width="2.3" fill="none" stroke-linejoin="round" stroke-linecap="round" clip-path="url(#cD)"/>
<path d="M76.1 279.6l.7-.8 -.5-.2 .5-1.3 .3 .6 -.2 .3 .2-3.7 .1 3 .6 .1 0-3.2 .2-.5 0 2 0-1.1 .4 .5 .2-2.6 -.4 .4 .7-.3 .5-.3 -.3 .6 .7 2.5 .3-4 .3 0 -.1-2.2 .4 2 .5-.6 -.4-.8 .3 .3 .1-.1 .1 2.5 .3-.1 0-1.7 -.1 1.7 .5 1.4 .1 0 0-1 0 2.4 0 .1 0 1.5 .2 .3 .1-1 .2 1 -.1-1.5 .1 1.3 .1 .8 0 .6 .4-1.6 .1 2.5 .5 .3 -.3-.8 .6 2.7 0-2 -.2 .3 .5 .2 -.4 1.2 .6-.2 -.2-.8 .4 3.5 -.2-.9 .1 1.3 .1-2.8 .7-.6 0-.5 .4-.4 .2-1.3 -.2-.1 .1 0 .2 2.5 .3-.9 .3-2.1 .4 1.8 .1-2.6 .2 1.1 .3 .2 .3-1.6 -.3 .9 .5-.8 0 .1 .5-.4 -.1 .3 .4-1.5 .3 2.2 .6-.8 -.1-1.5 .3 .1 .2-.3 .7-.9 .1-1.8 .3 .9 .5-.4 .3 1.8 -.4-1.5 .9-.6 -.3 0 .2 1.5 .8-3.1 .3 4.3 -.1-2.5 .4 .1 .1 2.6 .2-.5 .1 0 -.1 .2 .5-.9 .2-.1 -.2-.3 .3 .3 .1 1.8 .3-.9 0-1.5 .6 1.7 -.1 2.8 .4-1.3 .2 1 -.1 .8 .4 .9 -.5 0 .3-1.5 .8-.8 .2-.2 .3-2.1 .6 2.7 .1 1.9 .3-.6 .4-.8 -.1 2.5 .3-.9 .3 .6 .9-1.1 .1 1.2 .2-2.4 .4-2.1 -.1 .5 .6 .9 .3-1.6 .6 1.7 -.3-1.5 .7 0 .5 2.4 .3-.8 -.2 1.6 .9-.8 .1 .4 .5-2.2 .1 2 .6-1.9 .2 1.2 .2 1 .5-.9 .3 .4 -.2-1.8 .4 1.9 .5 1.2 0 2.2 .4-2 .5-1.3 .1 3.3 .3-2.6 .7 .5 .3 1.6 -.2-2.5 .7-1.8 0 .5 .1 2.7 .6-1.8 0-3.1 .1 1.9 .7-2 0 1.3 .4-1.6 -.1-.8 .1 2.6 .9-4.1 -.3 2 .7-2 .4 2 .2-1.5 -.3 .1 .3 0 .7 .7 .1 1.1 .4-1 -.1-.2 .2 .7 .2-1.8 .3 1.2 .2-.3 .2 .6 .7-.8 .3-.5 -.1-2 .3 2.7 .9-.1 -.2-3.1 .2 3.1 .5-2.3 .8 0 .4 2.9 .3-2 .2 1.3 .3 .3 .2-2.3 .5 1.9 0-.3 .7-.7 -.2-.2 .3-.1 .6-2.4 .1 2.9 .7-1.4 .4-.3 .3-.7 .5 2.4 .2-.2 0-2.4 .7 .5 .2 1.8 .2 1.1 .4-3.1 .3 2.5 .4-1.3 -.2-.3 .8-2.2 -.3 0 .9-.7 .4-.3 0 .2 .5-2.1 .2 2.7 .6 .7 0-.6 .9-2.9 -.2 4 .3-1.4 .6-1.3 -.1 .2 .4 .5 .2-.2 .7 1.2 -.1-2 .6 1.2 .3-1.8 .3-.2 .1-1.2 .9 1.9 -.2-.2 .3 2.4 .5-1.5 .2 .5 .6 1.7 .3-.6 0-3 .3 2 .7 .2 .4 .1 .2 .3 .2 .1 .7-.1 .4 .3 .3-1.6 .3 1 -.2 .9 .8-2 0 1.8 .8-2.7 .2 .3 -.1-.3 .2 .5 .9 2 .2-3.7 .4 1.9 .1-1 .1 .1 .2-1.2 .7 .4 .2 .3 .1-.8 .3 .3 .8-3.2 -.2 3 .8 .8 -.1-.8 .5-1 .1 1.7 .9-2.6 .3 1.3 -.3-2.7 .3 2.7 .6-.4 .1 .3 .4 .6 .4 .5 .4-2 .3 1.4 .3 1.1 -.2-3.3 .6 1.6 .6-2.3 -.1-.7 .7 2 .1-2.5 -.2 .8 .7 2.8 .3-4.4 0 2.6 .7-.7 .3 0 .1-1.1 .1 .9 .4-1.9 .5 .6 .2-.1 .6 .8 -.2-.7 .3 0 .2-3 .7 2.1 .2-1.5 .3 1.8 .2 .1 .6 .6 .4-2.4 -.3 .2 .7 1.1 -.2-.8 .5-.4 .5-.9 .6 1.2 .1-1.5 .2-2.5 .4 3 .3-2.5 .3 1.3 0-1.3 .3-.6 .6 .6 -.1 .4 .8-.7 .2 .2 .6 2.2 .2-1.2 -.2-.7 .5-2.3 .6 1.6 .3 .2 .1-1.4 .4 2.7 .7-.8 .1 0 .4-.8 .2-2.1 .3 2.7 .7-.4 .3-.2 .3-.2 .3 1 .3-.4 .5 1.8 .2-1.9 -.1 1.4 .6 .8 .1-3.6 .6 4.7 .1-3.5 .1-2.1 .6-.5 .1 1.2 .3-.4 .3 .3 .4-3.7 .3 2.7 .1-2.1 .5 .9 0-.6 .1 .3 .6 .6 .3-.9 .3-.2 .2 .3 .6-1 -.2 1.2 .9-.3 .1-1.3 .3-2.3 .6 4 0-2.2 .8-.6 .1-1.4 .9 2.4 .4-2 .3-.1 .5-.1 .2 .4 .5-.2 .5 .1 .5 .2 .4-.5 .5-.6 .5 .1 .5-.3 .5-.1 .4-.3 .5-.1 .5-.6 .5-.2 .6-.1 .4-.4 .1 .2 .3 1.3 .1-.2 .2 1 .1 .2 .2 .5 .1 .5 .2 .3 .1 .6 .2 .5 .2 .1 .2 1 .1 .2 .2 .7 .2 .5 .1 .4 .2 .3 .1 .6 .2 .2 0 .8 .2 .6 0 .4 0 .8 .1 0 0 .5 .1 .8 0 .4 0 .8 .1 .4 .2 .3 0 .6 0 .4 .1 .5 .1 .6 0 .4 .1 .6 0 .7 0 .7 .2 0 0 1.3 0-.3 .1 .8 .1 .3 0 .6 0 .9 .1 .3 .2-.7 .1-.4 .3-.8 .1-.3 .2-.4 .2-.5 .2-.6 .1-.5 .3-.5 0-.9 .1 .1 .1-.6 0-.2 .1-.9 .1-.5 .1-.6 .2-.5 0-.4 .1-.5 0-.4 .1-.6 .2-.5 .1-.3 .1-.7 0-.6 .1-.5 .1-.4 .1-.3 0-.7 .1-.4 .2-.4 .1-.5 0-.8 .1-.3 .1-.5 .1-.8 0-.3 .1-.6 .2-.4 0-.2 .1-.9 .1 .1 .1-.7 .3-.8 .3 .1 .4-.5 .3-.3 .3-.7 .4-.4 .2-.1 .4-.5 .3-.5 .4-.3 .3-.4 .3-.6 .4-.2 .3-.6 .3-.2 .3-.3 .3-.5 .4-.8 .3-.3 .4-.2 .6-.2 .4 0 .5-.3 .5-.2 .4-.1 .5-.2 .5-.5 .5 .3 .5-.1 .5-.4 .4-.6 .5 .3 .5-.3 .4-.4 .6 0 .4-.3 .6 .1 .5-.2 .4 .2 .5 .1 .5-.5 .5 .1 .6 .1 .6-.1 .4-.4 .5 .4 .6-.2 .4 0 .6-.1 .5 .3 .1 .3 .1 .6 .1 .3 .1 .7 0 .6 .1 .6 .1 .2 .1 .8 .1 0 .1-1.5 0 .1 .2-.8 0-.4 .1-.6 .1-.5 .1-.6 .6 .2 .4 0 .6 .3 .5-.2 .5 .1 .5 .4 .5-.2 .6 .3 .4-.3 .6 .5 .5-.4 .5 .5 .6 .1 .5-.1 .5 0 .5 .6 .5-.6 .4 .8 .6 0 .4 .1 .5 0 .5-.1 .5 .1 .4 .2 .6 .7 .4-.4 .5 .3 .5 0 .5 .5 .4-.1 .5 .4 .5 0 .4 .2 .6 .2 .4 .1 .6 .3 .4-.3 .5 .3" stroke="#ffff00" stroke-width="2.3" fill="none" stroke-linejoin="round" stroke-linecap="round" clip-path="url(#cD)"/>
<path d="M65.3 313.6l.5 0 .4 .1 .5-.5 .3-.3 .4 .3 .6-.7 .4-.2 .4-.9 .5 .1 .5-.3 .3-.3 .5 0 .3-.6 .5 .3 .4-.7 .5 .5 .6 0 .4-.7 .6 .3 .4-.6 .6 .1 .4-.1 .4-.9 .7 .3 .3-.1 .6 0 .4-.3 .5 0 .6 .4 .3-.4 .6 .1 .5 .1 .5-.4 .5-.1 .5-.4 .6 .6 .5 .2 .6-.2 .5 .3 .4 0 .7 .3 .4-.7 .6 .4 .4-.4 .5 .2 .6 .4 .5-.9 .6 .7 .4-.2 .5-.4 .5 .5 .7-.7 .4 .5 .6 .2 .4-.7 .6 .6 .5 .1 .6-.3 .5-.1 .5-.5 .4 .2 .5-.2 .2 .5 .5 .3 .5-.3 0 1.1 .6-.1 .3-2.8 .7 2.8 0-.5 .1-2.2 .8 1.9 -.1-.2 1.2-1.7 -.4 .3 1.2 2.6 -.5 .9 -.1-3.3 .6 2.4 .3-.7 0 3 0-1.5 .3 2.9 0-.8 -.1-1.1 .2-1.9 .2 2.5 .3 2 -.3-4.1 .4 3.9 0 1 -.7-2.1 .7 .2 .5-.2 -.9 1.9 .9 2 -.2-3.2 .2 1.8 -.5 1.1 .3-4.1 .1 3.2 .1-1.1 -.7 1.5 .1-.1 -.2-2.5 .7 4.5 -.2-1.5 -.3 1.7 1 .2 -.8-.8 .3-3.7 .8 6.1 0-1 -.5-.9 -.4-3.7 1 4.5 .1-2.1 -.1-2.5 -.7 3.1 .2-1.3 0-2.1 0 3.2 .8 .6 -.2-.5 -.7 0 .9-3.2 .1 2.1 -1 5 .3-2.4 .8-.7 -.8-.7 .5 4.4 -.5-3.5 .7 .1 0 3 -.4-3.8 0-.6 .3 4.9 .5-3.3 0 2.3 -.7-4.3 .1 4.4 0-3.3 .7 4.8 -.7-2.6 .1-.2 .6-1.3 -.4-.5 -.7-.2 .8 .2 0-2.1 .2 5.4 .1-1.2 -.2-2.3 .3 .9 -.6-2.9 -.2 .4 .6-4.3 -.6 4.8 .3 2.5 -.5-5.5 .2 .9 .9-.9 -.7 .3 .9 1.3 -.9-2.1 -.2 2.7 .5-1.5 0-.2 .5-1.8 -.9-2.6 .2 2.1 .2 .2 0-2.7 -.3 4.7 .9-3.7 -.9 0 .2 .9 .6 0 .2 1.4 -.8-1.3 .9-1.5 -.1-3.1 -.6 1.4 -.2-.3 .2 3.7 -.2-1.9 .6-2.2 .4 1 -.9-.8 .2 .4 .4 2.9 -.3-6.6 -.4 5.6 .3-1.1 -.1-2.6 1-2.7 -.9 1.1 .7-.8 -.9 4.8 .9-2.1 -.4-2.4 .5 .8 -.9 2.4 .7-.7 .3 0 -.6-.1 .1-2.4 .5 4.9 -.7-1.8 -.2-1.1 1.2-.4 -.2 2.4 .1-3.1 -.5-1.2 .6 .7 -.7-1.9 .4-.3 -.3 4 0-6.7 .3 3.7 -.1-2.9 -.1 1.8 0 .7 .1-3.3 .5 .8 .2 3.7 -.6-1.8 .8-.7 .3 .2 -.8 1.7 .4 2.7 .4 .3 0 .5 -.1-.2 -.1-.2 .1 .6 .6 .3 .3-.7 -.3-.4 .4 1.3 -.8-2.3 .2 4.4 .9-3 -.9 3.8 .7-.4 .1-.8 -.2-3.1 -.3 2.5 -.1 2.5 .3-1.9 .3 .5 0 3.3 .8-3.9 -.4-1.3 .4 4.9 .7-3.6 -.2 1.7 .2 1.4 .3-2.4 .4 .4 -.8-2 .1 4.8 .7-6.5 -.2 1.1 .7 4.7 .5 .8 -.8-3.7 .1 3.4 .9-4.5 -.2 2.5 .6-2.5 -.4 5 -.1-3.6 .7-1 -.7-.3 .9 .8 .2-4.6 -.5 8.2 .4-2.9 -.9-2.6 .4 .9 .8 .3 0-.6 .1-.2 -.8 2.2 .8-2.7 -.3-.2 .2 0 -.3 .5 -.2-3.1 .5 3.2 0-.8 .6 1.5 -.1-3.2 .2-.2 -.1-2.6 -.5-.4 .1 3.6 -.1 .5 .2-.2 1-2.2 -.4 3.7 -.5-3.4 .8-1.8 .2 .4 .1 .6 -.6 1.1 .3 0 -.3-1.9 .3 1.4 .6 1.8 0-.8 -.5-1.1 -.2-1.5 0 1.1 .8 .1 -.2-1 -.1 3.2 .1-3.8 .2-.7 .4 .6 .1 1.4 .6 1 -.6-1.3 .9 3.8 -.2-2.4 .1 .4 .7-2.1 -.4 2.6 .6-5.7 -.3 6.9 .9-3.8 -.4 1.9 .7-.5 -.9 1.8 1.1-3.4 .1 3 -.2 1.7 -.3 2.6 .1-3.3 .5 .7 .2 .6 .7 2.6 -.3-2.4 .9-2.7 -.1 2.7 -.4 .9 .9 1.5 .2-.7 0-2.8 .2 2.4 -.7-2.2 1.1 2.6 -.4-2.6 -.1 1.2 .8 1.5 .2-3.2 -.1 1.8 .3 1.6 -.5-1.5 .5 1.4 .1-2.5 -.3-1.5 -.2-.8 .1 6.3 .1-7.9 .9 3.8 -.4-1.9 .4-.8 .1 1.7 -.1-4.4 .4 1.6 .1-2.2 .4 6.7 -.9-9.2 .4-1.6 .3 1.2 -.2 2.6 -.1-3.1 .2 1.1 1.1 2.6 -.9 .1 .8 .5 .2-1.1 .4-.1 -.5 1.8 .3 0 -.3 .2 -.1-1.7 .6 .9 .7-1 0-.6 .1-.4 -.4-1.2 .7 3.2 0-2.3 -.2 .2 -.1-.6 .2-1.2 .3 .3 .2-.5 -.2-3 .2 3.4 -.1-2.1 -.2 1.4 1-2.6 .4 .6 -.9-.6 1.2 1 -.2 4.1 .5-4 -.6 .7 .3 .5 0-1.4 1.1-1.3 -.5 2.9 1.1-.1 -.6-.6 .9-4 -.3 6.5 .4-3.5 .3-1.8 .2 1.8 .2 .8 0 .1 .1-.9 .3 .9 .6 2 .3-.9 -.4 0 .8-3.8 -.6 4.7 .3 1.1 .5-2.6 -.5-2.5 .9 1.9 -.2 .7 .1 1.2 -.3-2.9 .4 .6 -.3-.5 .3 1 .1-5.2 .5 2.3 -1 2.8 1.1-1.5 .1-1.8 -1.1 3.4 .5-4.3 .5 3.7 -.1-1.6 -.6 3.8 .2-5 1 .1 -.7 2.2 .3 .3 .2-3.9 -.5 2.1 .2-2.9 -.2 .9 1 .9 0-2.6 -.6 5 .3 1.4 .3-5.4 -.5 3 .4-2.5 .1 2.4 .4 .6 -.8-.5 0-3.2 -.1 .6 1.2 .2 -.4 1.3 -.4-.2 .6 .5 -.5-4.8 0 2.6 .5-2.7 -.1-.9 .7 2.1 -.3-2.2 -.3 2.8 -.3-.9 1-2.4 -.2-1.8 -.2-.5 .7 1.6 -.1 2.4 .2-.1 .2 .8 .2 .6 -.3 .7 .5-3 .1 2.5 .1-1.4 -.4-.7 .5 .6 -.8 1.3 .2-2.6 .4 2.2 .2 1.2 .2-3 -.4 2.2 1.1-2.5 -.8 4.3 .1-5.5 .5 2.3 -.1-.6 -.1 .6 .3-1.5 .6 2.7 .1-.6 .5 1.3 -.1-2.5 -.4-.8 .3 5 .1-1.6 .3-.8 0 1.2 .3 2.2 0 .4 .8-3.3 .6 3.5 -.4 .3 .1 1.3 -.2-1.8 .4 0 .1 1.4 .8-3.5 -.3 1.8 .9-1.9 .3 .9 -.1 1.1 .5 .7 -.6-1.9 .7 2.2 .2 1 -.3-3.9 -.3 6.3 1.3-2.2 -.3-1.1 .2-1.5 .7 1 -.7 .6 .1-3.2 0 3.9 .5-3.4 .7 1.2 -.6-1 .4-2.7 .2 2.7 -.3-2.2 1.1 .5 -.8 3.4 .2-1.4 .9-2.9 -.6-1.6 .4 2 0-.2 .6-1.4 -.8-1.2 .5 1.8 0 3.9 .5 .3 .1-5.1 .2 3.1 -.1-3 .4 3.1 .3 2.1 0-3.9 -.6-1 1.2 1.3 .1 1.8 -.3-2.4 .3-1.3 -.2-2.7 .8 5.3 -.1-2.9 .2-2.7 -.2 3.4 .5-2 .2-.7 .6 2 -.2-.6 .2 1.2 .9-1 .1-4.3 .4 1 -.4 1.7 .4-2 .3 5.4 .3-3.7 .2 .8 .6-2.5 0 3 .3-.6 .2 .9 .4-3 -.1 .9 .5-.9 .2 .6 .1-.5 .4-.3 .4-.1 .1-1 .3 .5 .2-1.2 .6 .7 .4-.6 .6 .9 .3-.3 .5-.5 .6 .2 .2-1.6 .5 1.7 .6-1.1 .6-.1 .5-2 .5 1.7 .2-.9 .5 .4 .4-.6 .8 .3 .5-.5 .5-.8 .4 .9 .2-1.7 .4-.2 .8 .6 .4-1 .4 .9 .5-.7 .2 .7 .5-1.2 .6-.9 .3 .7 .7-.3 .5-.1 .3-1.3 .5 .5 .5-.9 0 .3 .7-1.1 .3-.9 .2 .4 .7-.6 .3-.2 .2-.3 .6 .2 .3-1.8 .5 .6 .5-.6 .1 .8 .6-1.3 .5 .5 .3-.4 .4-.2 .3-.2 .6-1.7 .3 .5 .3 .1 .7-.1 .4-.3 .1-1 .5-.9 .4 .3 .5-.9 .4 .2 .3-.9 .5 .6 .4-.6 .3-.1 .6-.7 .4-.4 .3-.2 .4 0 .4-.4 .4-.9 .4-.1 .2-.8 .3 .1 .3-.6 .4-.8 .3 0 .3-.6 .2-.4 .3-.1 .4-.4 .3-.6 .3-.1 .2-.7 .4-.2 .3-.7 .3 .3 .1 .8 .3 .4 .3 .4 .2 .6 .2 .3 .2 .5 .3 .3 .2 .7 .2 .2 .1 .9 .1 .6 .1 .3 0 .6 .2 .2 0 .4 .1 .8 .1 .6 0 .2 .2 .5 0 .8 .1 .2 .1 .6 0 .7 .2 .5 0 .5 .1 .6 .1 .7 .1 .1 .1 .7 .1 .5 0 .1 .1 1.1 .2 .2 0 .6 .1 .5 .1 .6 .2-.9 0-.4 .1-.2 .2-.6 0-.4 .2-.6 .1-.3 0-.9 .1 .2 .2-.8 0-.7 .2-.5 .1-.5 .1-.3 .1-.8 .1-.3 .2-.4 .1-.6 0-.6 .2-.4 0-.6 .2-.4 .1-.2 .1-.8 .1-.7 .1-.3 .1-.3 .1-.8 .2-.4 .2-.2 .1-.8 .4-.3 .1-.5 .2-.7 .2-.2 .2-.6 .2-.5 .2-.4 .1-.4 .3-.3 .2-.5 .2-.6 .2-.3 .2-.8 .2 0 .2-.8 .2-.5 .2-.2 .2-.5 .2-.6 .2-.2 .4-.6 .3-.4 .3-.4 .4-.3 .5-.4 .3-.2 .3-.7 .5-.2 .3-.4 .4-.3 .3-.2 .4-.4 .3-.6 .4-.3 .4-.5 .3-.1 .4-.4 .5-.3 .4-.2 .6 0 .4-.4 .5-.2 .5-.4 .4-.1 .5-.1 .5-.1 .4-.4 .5-.4 .5-.3 .5 0 .4-.1 .5-.5 .6-.5 .4 .2 .6-.3 .4-.2 .6 .1 .5 .1 .5 .1 .1 .3 .1 .4 .1 .4 .1 .5 .2 .7 0 .8 .1 .4 .1-.2 .1-.4 .1-.6 .1-.8 0-.5 .2-.1 0-.8 .1-.5 .5-.5 .6 .4 .4-.4 .7-.1 .5-.1 .6-.2 .5 .1 .5 .2 .4-.2 .6 .3 .4 0 .6-.2 .4 0 .6 .1 .6 .3 .4 .1 .5-.3 .6 .2 .5-.1 .5 .2 .5 0 .5 .1 .5 .4 .5-.2 .5 .4 .5 0 .5-.3 .5 .4 .5-.1 .4 .4 .7 0 .4 0 .5 .3 .4-.1 .6 .1 .5-.1 .5 .3" stroke="#00ff00" stroke-width="2.3" fill="none" stroke-linejoin="round" stroke-linecap="round" clip-path="url(#cD)"/>
<path d="M65.2 321.5l.4-1.5 .3 .6 .6-.7 .3-.1 .3 .4 .4-1.2 .3-.1 .3-.6 .4 .5 .4-1.2 .4-.4 .3-.1 .3-.8 .6-.6 .4-.1 .6-.7 .4 .7 .4-.9 .5-.3 .5-.5 .6 .2 .5-.1 .4-.3 .5 1.7 .2-1.1 .5 1.5 .6-1.3 .4 1.1 .4 .2 .5 .4 .2 .1 .5 1.1 .3-.2 .5-.7 .6 .9 .2-.2 .4 .2 .6 1.2 .2 .3 .4 .4 .3 .8 .5 0 .2 .9 .3 .3 .4 .5 .6-.8 .1 .6 .4 .6 .4-.2 .4 .8 .3 .1 .5-.1 .3 1 .4-.7 .1 1.3 .2 1 .3-.7 .1-.3 .5 .1 0-.1 .6 2.1 .5-.6 -.3-.7 .8-.2 0 .6 0-.2 .9 2.1 -.4-2.2 0 1 .8 0 .4-.6 .3 3.4 .6-.5 -.2 4 .2-7.5 .2 1.1 .6 1.3 -1-5 .2 3.9 0-5.4 .6 7.4 -.4-.9 .7 .4 -.1-1.7 -.6-1.9 0-1.4 .7 4.7 -1-5.4 1.1 .2 .2 1 -.2-2.1 -.4-3.2 -.7 2.7 1.3 .1 -.9 2.4 -.2-3 .5-1.9 -.1-.3 .9 2.3 -.1 1.4 -.3-.5 .2 2 0-1.9 -.1-.9 .5 2.9 -.4-2.4 .3-1.6 -1.1 0 1.2 1 -.4 4.4 .6-3.6 -.6-3.7 .1 2.3 .1 5.9 -.1-6.8 -.2 0 -.1 1.5 1 .3 -.7 1.8 .8 .1 -.5-3.5 -.4 .3 .1 3.1 .1-2.4 -.5 1.9 .5 1.9 .7-5.2 -.3 4 .5-2.1 -.1 1.8 -.1-3.6 -.8 1 .9-.6 -.3-2.9 .6 2.1 -.7-4.8 .4 4.2 .4-.6 -1-1.9 .1 4.2 .3 1.3 .4-3.7 .1-2.2 .4 1.3 -.2-.6 -.4-2.2 .6-1.3 -.9 4.3 .6-1.6 -.8 1.2 .3-2.2 -.1 2.4 .8-4.2 -.5 1.7 .7 1 0 1.7 .2-2.8 -.8 1.7 0-.2 -.1-5.1 .1-.9 -.1 1.2 .6 3.1 -.3-2.6 0-.1 .2 .5 .5 .7 -.8 7.3 .6-7.9 -.5-1.5 .2 2 .3-.3 .7 2.1 -.9-1.5 .2-.3 -.3 1.4 1.1-.6 -.4-.3 -.7 2.1 .1-2 .7-3.2 -.3 6.3 .9-2.2 -.3 1.6 .3-.4 -.5-2.7 .8 1.8 -1.1 .6 .3 3.9 .7-2.9 -.7 .4 .6 1.1 -.2-1.2 .4 1.5 -.4 3.9 .6-5.7 -1 1.6 .1 3.6 1.2-1.7 -1 .4 1-2.2 -1 3.3 1.3-1.4 -.9-4 .8 4.2 -1-1.7 .3-.4 .5-.2 -.8 .5 .4-4 .1 2.5 .7 3.1 -.9-5.2 .6 2.9 .4 2.3 -.9 .4 0-3.8 .1-2.4 1.3 7.5 -.6-2.3 -.5-.2 1.3-3.1 -.2 8.7 -.5-5.8 .2-.7 -.4 .5 .5 4.5 -.5-3.3 .5 1.8 .7-1.8 -.8 3.2 .9-2.9 .2 3.1 -.6-1.3 .6 0 -.3 .4 -.1 3.9 .6-1.9 -.8-2 .4 2.8 -.1-4.4 .7 4 -.4 .7 0 .5 .6 .5 -1 1.5 .6-6 .5 .6 .2 2.5 -.7 2.9 0 .2 .4-.1 .2-2.1 -.2 .9 -.3 .2 -.3 .3 .8-3.3 -.1 3.3 .8 1.3 -.3-1.3 -.4 1 .9-.6 -.4-5.7 -.6 4.6 .8 2.9 -.4-4.6 .4 2.9 -.8 .8 1.3-5.5 .1 2.6 -.8-.9 .7 5.5 -.5-7 .2 3.8 -.3 3.1 .1 .7 .1-2.2 .8 1.5 .2 .8 .2 .4 -.7 2.3 .4 2.5 -.1-3.3 .3 1.8 -.4-.3 -.1-2.2 .4 6.7 -.4-8.7 .3 5.2 .2-1.7 .5 1.7 -.1-1 -.2-2 .3-.6 -.7 5.1 .3-4.6 .5 4.4 -.5-1.8 1 1.1 -.3-2.6 -.5 1.3 -.1 5.1 1.3-4.4 -.1-2 -.3 1.3 .4-1.9 -.1-.3 .3-1.7 -.1 1.2 -.5-1 .2 2.6 -.6 1.3 -.1-4.3 0 .7 .4-1.2 .3-3.2 .3 1.6 -.9 3.7 .9-3.5 -.1 .3 -.7-1.6 .9-.7 -.5 .9 .7 3 -.7-3.4 .6 1.4 .2-1.4 -.9 3.3 0-1 .9-.6 -.4-1.4 .2 2 -.6 .4 1.2-3.8 -1.2-2.7 1 7 .2-1.5 -.9-2.8 .7 2.2 -.2-1.7 -.1-.7 .6 3 -.2-5.8 -.7 .4 .8 1.2 0 4.3 -.8 .5 .5-2.8 -.5-3.1 .5-.5 -.1 3 .8 2.3 -.7-3.6 -.3-2.1 .6-1.6 .2-.1 -.2 .1 -.6 2.7 1.1 .2 -.2 .6 -.7-2.4 .4-.8 -.4 1.2 .2 .1 .9-3.4 -.4 2.5 -.5 1.2 -.1 0 .1-2.9 0-1 .2 6.8 .6-.9 -.9-3.5 .6-1.4 -.5-2.4 .9 5.2 -.1-2.5 -.6-3.3 .5-1.1 .4 .4 -.6 2.3 -.3-.6 .7-.2 .6 .7 -.8-5.1 .6 5.7 -.5-5.9 -.2 .6 0 2.7 .3 4.6 -.2-3.7 0-2.9 1.1 2.2 .4-2.9 -.3 1.2 .5 1.4 -.3 3.7 -.7-5.9 1.1 2.8 -.7-.8 .4-1.1 .7 1.4 .2-1.5 -1 2.2 .6 .5 -.1-1.5 .2-1.1 -.4-.8 1.2 3 -.9-1.3 .2-1.3 1 .7 -.5-1 .7 1.6 -.9-3.1 .8 .1 .7 1.7 -.9-.8 -.1-3 .6-.9 .7-.4 -1.1 3.9 .6 .2 .4 1.8 -.7-.3 .7-1.9 -.2 0 .5-1.6 -1.2 2.6 .8 0 -.6-2.2 .1 2.9 .4-1.8 .8 1.9 -.5-1.7 .1 4 .3-.2 -1.1-.4 .4 2.2 0-.7 .2-1.1 -.1 2.8 .6-.6 -.6 .1 0-2.2 .8-1 .2 3.7 -1-1.5 .4 3 -.6 .3 .4-.7 1 .6 -.2-2.9 -.4-1.1 .5-.5 0 3.6 -.2 2 -.2-3.1 -.3 1 .6 4.1 -.3-2 .4-.1 -.8-1.1 -.1-.3 1.2-4 -.4 3.8 -.7-1.4 .2 5.2 0-2.5 .9-2.3 -.1 3.7 .3-2.2 -1.2 .2 1 2.5 -.1-2.5 .2-1.7 -.6 4.6 0-1.5 .1-2.7 .1 1.7 -.5-.5 .6 7 .7-4 -.9-.8 .4-3.1 -.3 6.5 .9-2.4 -.8-1.5 .7 3.3 -.3-2.6 -.1 6.3 -.1 .8 .5 1.3 -.3-5.3 -.2 1.6 0 2.6 0-.7 .3 3.7 .8-6.9 -.7 3.1 -.3-1 0-1.8 -.2-.6 1 3.3 -.3-2.6 -.4 4.4 .1-3.6 .9 1.3 -1.1-1.6 .9 .2 -.5 .9 1-3.6 -.9 1.7 .9 1.7 -.4-2.1 -.8 2 1.3-.7 0 1.8 -1.1-.6 .4-1.2 -.3-.4 .4 1.8 -.4-1.3 .5 1.6 .5-4.9 .2 4.1 .2-3.1 -.1 1.4 -.5 3.3 -.6 0 1.4 1.2 -.2-3.4 -.5-5.5 -.3 7.1 .2-3.6 .2-.1 .6 4.3 .2 .3 .1-.9 .1 1.8 -.3-3.6 -.3 .8 .6-.6 -.7 2.2 .6-3.4 -.1 1.6 .4 2.4 .3-1.7 .1 .4 -1.1-2.8 .9 .8 -.3 2.3 -.3-1.5 1-.5 -.8 .6 -.3-.9 .7 .2 -.5-4.5 1.3-1 -.6 4.2 .5-6 -.2 5.1 -.6-3.8 .7-.2 -.5 1.2 .1-1.2 .9 4.3 -.8-.3 .2-8.3 .4 7.2 -.6-8.1 .4 7.5 .6-1.2 0 2.4 -.7-2.8 .1-2.8 .7 6.1 -.4-4.5 .4-.5 .4 1.4 -.9-3.4 .9 2.9 -.2 4.4 -.3-1.1 -.1-3.5 .5 3.1 .1-4 .3-3.4 -.9 6.2 1.1-3 -.3 1.8 .1-7.7 -.3 3.9 0 2.2 .2 .1 -.3-7.4 .5 7.7 .2 2.5 -.1-4.8 .6-1.8 0 .8 -.4 6.1 0-6.7 -.4 5.5 1.4-6.1 -.4 1 -.3 2.9 .3-.8 .2-.2 .3-.4 .2-1.5 .6-.7 -.4 3.3 .4 2.2 .5-6.4 -.9 .4 .9 2.7 -.3 .9 .6 1.5 .3-1.4 -.7-2 .3 .4 .3 2.3 -.5 3.2 1.4-4.7 -.6 7.4 1-9.7 -.6 3.3 -.4 4.5 1.3-2.5 -.9 1.1 .9-3.2 .5 1.7 0 1.9 -1-2.3 1.2-.3 -.9-3.5 .1 2 -.1 2.8 -.1-2.3 .7 1.6 -.6-.6 .4-.8 .5 4.8 -.4-4.4 -.3-.6 0 1.7 .1 .3 .4-8.3 -.1 6.3 -.3-1.5 .3 1.1 -.2-1.7 0 2 .6-1.9 0-.6 .4-1.1 -.2 3.8 .4-2.9 -.4-2.3 -.2 3.4 0-1.5 .4-4 0 1.4 .5 4.1 -.5-5.8 -.1 .9 1.1 2.9 -.2-2.4 -.8 1.6 .9 .1 -.2-.9 -.8 .3 .1 3 1-8.4 0 .3 -.3 3.3 0-1.3 0 7.1 0-6.4 .3 2.5 .7-3.1 -.3-5.4 -.4 3.7 .7-.6 -.4-1.6 .6 3.1 -.7 1.8 -.1-3 .2 3.5 .1-4.7 .1-2.2 -.5 5.2 1-2.5 .3-.4 .2 2.3 0-.7 -.2 1.6 -.1-3.9 -.6 2.1 1.2 1.6 -1 .9 .1-2.6 .3 4.5 .9-2.1 -.6-.3 .3-3.3 .2-1.2 -.4 4.5 .9-3.1 .2-1.2 -.1 2.1 -.4-3.1 .9 1.3 -.7-2.5 1 3.6 -.3-1.3 -.1 5.1 .7-7.1 -.8 2.8 .2-3.4 .6 3.5 0-4.2 .6 3.3 -.8-2.2 .1 .6 .7 1.2 .4-.7 -1-2.1 1.3-.1 -1.1 2.3 1.2-.6 -.6-1.3 .4-3.3 .4-.2 .3-3.8 .2 5.9 0-2.7 .1-.1 -.2 5.1 .5-8.5 -.4 3.6 .7 6.4 -.7-5.6 .4 1.7 -.1-4.5 -.2 7.2 1.1-1.2 .2-1.7 -.9-3.3 -.1 .9 .4-2 .2 1.7 .8 1.7 .3 1.9 -.1-1 -.5-1.2 0 2.2 .4-3.6 -.2-.4 .8 3.8 -.2-1.2 .5 3.5 -.1-6.7 .1-.6 .5 2 .2 1.9 0 2.2 0-1.3 .2-3.1 -.6 3.1 .3-4.1 .6 .4 -.1 5 .3-4.2 .9 3.8 -.9-3.5 .5-2.8 -.2 3.7 .1 1.6 .6-2.8 .6 3.7 .3-2.8 .2-2.5 0-.7 .3-2.7 0 4.9 -1.1-1.6 1.5 1.4 -1.1 2.6 .9-4.1 .3 2.9 .4 3.6 -.5-6.9 .3 .1 .5 .3 -.6-.5 .7 1.3 -.6-2.1 1.4-.4 .2 1.2 .1 3.3 -.8-1.9 -.1-5.1 .7 5.6 -.4 3.2 .8-7 .2 3.3 0-3.6 -.1 .2 .6-1.6 .3 4 .3-5.3 .4 3.6 -.1-1.7 -.6 1.7 1-1.7 -.2 1.5 .5-2.3 -.9 5 .9-2.7 -.7-1 .9-2.3 -.5 1.8 .7 1.2 .6 2.1 -.4-2.5 -.4 .7 .1 1.5 .6-6.3 -.3 6.1 .6-1.4 -.7-3.6 0 1 .1 5.5 .8-3.8 -.5-2.9 .2 4.4 .1 2.5 -.2 .3 -.1-7 .9 2.5 .2 6.3 .1-2.6 0-5.4 0 2.1 .2 0 -.8 4 .6-3 -.1 .2 -.3 5.3 .9-4.5 -.6 1.6 -.4 4.3 .9-4.6 -1 1.8 .7 2.4 .7-.7 .1-1.6 -.9 4.6 -.1-3.7 .2-.3 .3 6.3 -.3-6.6 .9-.7 -.3 7.5 -.3-4.3 -.3-3.3 1.1 1.5 -.7-1 .5 2.6 -.4 .6 0-.5 -.1 .2 .4 .4 .4-2.1 -.7 3.2 .4 .6 .1-4.4 .8 1.8 0-.7 -.3 .4 -.8-.9 .4 .5 -.3 1.8 1.1 .7 -.5-6.2 .6 7.8 -.5-3.6 -.3 3.6 .8-5.7 -.6 .8 1.1 2.2 -.4-.3 -.4-.9 .2 2.8 .3-2.5 .7-1.4 -.3 3.3 .4-3.2 -.3-4.5 .6 4.9 -.1 .1 -.2-1.3 .2 1.7 .5-5.1 -.1 1 -.3 2.6 -.7 2 .5-.3 .6-3.3 -.3 1.7 -.1-2.8 .9-1.5 -.6 .5 .5-1.7 0 1.8 0-4.4 -.6 8.5 .7-1.8 -.2-.1 .6 1.9 0-.1 -.3-3.5 .9 1.3 -1.2-5.5 .2 3.3 .5 3.3 .1-4.5 .7 .9 -.6-3.6 .8 6.7 .1-6.9 .2 6 -.7-7.3 1.3 6.8 0-1.4 -.2-.1 0-1.4 .6 2.1 .2 .8 .8 2.6 0-2.5 .4-1.9 -.3-.2 .7 2.5 -.4-1.5 .9 1.1 -.4-3.1 .5 2.6 -.1 .4 .3-.5 -.1-.2 .5 .4 .6-.9 -.3 .4 .4-.7 .4 .5 .3-.4 -.2-.7 .5-1.6 -.1 .5 .2-1.6 .2-.3 .7 1.2 .1-.3 .1-.1 .4 .5 .1-.9 .4 .2 .4-1.1 .2-.1 .5-.6 .1-1 .4-.7 .6 .1 .3 .6 .4-.3 .4-1.5 .4-.6 .3 .8 .2-.4 .5-.8 .5 .8 .1-.9 .5-.1 .2-.5 .6-2.1 .2 1 .7 .2 .3-.2 .3-1.4 .4 .3 .3-1.2 .1 .1 .6-.3 .4-1.2 .5 .5 .2 .2 .1-1.3 .4 .8 .4-1 .6 .9 .3 0 .3-.9 .6-2 .2 1.2 .5 0 .1-1.3 .7 .2 .4-.5 .1-1.1 .6-.3 .4-.6 .3 .6 .4-.2 .6-.9 .3 .6 .8-2.1 .1-.2 .7 .1 .4 0 .6-.4 .2-.9 .6 1.4 .4-2.6 .5 1.4 .6-.6 .1 0 .4-.2 .3-.6 .5 .2 .2-1.8 .5 .7 .5 .3 .2-.8 .5-.8 .2-.5 .5-.6 .2 .2 .4-1.1 .5 0 .3-.4 .3-.6 .4 .2 .5-.1 .3-.6 .3-1 .4 0 .4-.2 .3-.7 .3 0 .4-.8 .4-.2 .4-.4 .3 .1 .4-.4 .3-.6 .3-.1 .4-.6 .3-.2 .4-.5 .2 .6 .1 .7 .1 .1 .2 .5 .2 .5 .1 .1 .2 .6 .1 .6 .3 .7 .1 .2 .1 .3 .2 .9 .1 .6 .2 .5 .1 .1 .2 .9 .2 .2 .1 .6 .2 .7 .1 .3 .2 .3 .1 .9 .1 .3 .1 .4 .2 .4 .1 .3 .1 .5 .1 .7 .1 .4 .1 .6 .2 .4 .1 .5 .2 .5 .1 .7 .1 .2 .2 .7 .1 0 .1 .9 .1-.9 .1-.3 0-.6 .2 .1 0-1 0-.2 .2-.6 .1-.7 0-.3 .1-.6 .1-.5 .1-.1 .1-1.1 .1-.3 0-.9 .1-.4 .1-.3 .1-.4 0-.8 .1-.5 .1-.4 0-.7 .2-.3 0-.5 .1-.6 .1-.4 .1-.5 .2-.3 .1-.6 .2-.5 .3-.3 .1-.7 .2-.4 .1-.5 .3-.6 .1-.5 .2-.4 .1-.8 .2 0 .1-.4 .3-.6 .1-.5 .3-.3 .1-.6 .2-.7 .1 0 .2-.6 .3-.3 .1-.7 .2-.1 .1-.9 .2-.3 .1-.7 .5-.4 .3-.3 .2-.2 .4-.6 .3-.3 .4-.4 .3-.4 .3-.5 .3-.6 .4-.3 .3-.2 .3-.5 .4-.5 .3-.5 .3-.3 .4-.6 .2-.1 .4-.5 .3-.5 .5-.3 .4-.2 .5 0 .3-.5 .5-.3 .5-.2 .5-.5 .4-.1 .4-.3 .5-.1 .4-.3 .4 0 .5-.6 .4 0 .5-.7 .5-.2 .4-.3 .5 .2 .6-.6 .4-.1 .6-.1 .5-.6 .5 .3 .1 .1 0 .7 .1 .7 .1 .3 .1 .7 0 .6 0 .7 .2 .3 0 .4 .1 .5 .1-.6 .1-.5 0-.6 0-.7 .1-.4 .2-.4 0-.3 .1-.6 0-.4 .1-.7 .6-.2 .5-.6 .5 0 .6-.2 .4-.2 .6 .1 .5-.1 .5 .7 .5-.3 .5 .1 .5 .1 .5 0 .6-.3 .5 .6 .4 0 .6-.1 .5 0 .4-.1 .6 .2 .5 .2 .5-.1 .5 .5 .5-.1 .5-.3 .5 .1 .5 0 .5 .4 .5 .2 .5 .3 .5-.5 .5 .2 .5 .3 .6 0 .5 .1 .4 .1 .6 .2 .5-.1" stroke="#0000ff" stroke-width="2.3" fill="none" stroke-linejoin="round" stroke-linecap="round" clip-path="url(#cD)"/>
<path d="M70.9 346.1l-.1-3.4 -.2 1.4 .1-1.2 -.7-1 .4-3.6 -.2 4.9 .3-4 -.4 1.8 .9-2.3 -.4-1.2 -.2-.9 .4 .5 .4-1.3 -.9 .2 .5-.7 0 4.3 0-2.3 0-2 0 3.4 -.4-2.8 .2 .4 0-1.1 -.2-2.8 .3 2.2 .3 2.9 .2-.5 -.2-.4 -.2-.2 .6-2.6 .3 2.4 -.4-3.4 -.6-.1 1.1 3.2 -.8-3 .4 .4 -.2 2.6 .6-5.8 0 .9 -.1 2.4 -.5-.2 .5 .2 .2-.3 -.6 .6 .1-.5 .3-1.8 0-2.7 -.3 3.6 .5-3 -.8 1.4 .5-3.3 -.3 2.9 .8 1.4 0-.2 -.5-2.8 .3 .4 -.4-2.7 .3 1.5 -.3 .9 0 .6 .3-2.1 .2-.7 .5 1.5 -.2-.3 -.5-1.9 .7 2.7 .1-2.7 -.7 4.4 .3-4.9 .5 0 -.7 2.3 0 2.7 .1-1.4 .8-.8 -.2-.1 -.7 2.9 -.2-2.3 .7 1.8 .4 .2 -.5-5.9 .3 4.3 -.5-6.4 .2 4.2 -.3-2.5 -.1 3.2 .2-3.9 .7 4.5 -.5-1.8 .4-.1 -.7 .8 1.1 .5 -.4-1.4 -.3 .4 .3-1.4 .6-1.7 -.7 1 .1-7.7 -.1 7.1 .6-2.8 .2 .5 -1-3.8 0 .1 .8 .5 0 .5 -.2 .2 -.5-2.7 .2-2.3 .4 5.5 -.3-3.3 -.2 1 .9 2.4 .1-5 -.7 4.3 -.1-.5 .2-1 .8-1.1 -.9 3.7 -.1-1 1.1-.6 -.5 3.8 .1-2 -.4 2 .6-3.9 -.7-1.4 .8-1 -.4 2.7 0 1.8 .8 3.6 -.9-.9 .6-2.9 -.7 .5 .6 .3 .4-.8 -.2 1.4 0-.4 -.2 3.7 -.4-3.6 .8 0 -.2-.7 .3 1.9 -.6 2.2 1 .4 -.4-2 -.6 3.1 1.1 .5 -.1 .8 -.6-.2 -.1-5.7 0 4.2 .3 .9 -.3-1.6 .9-1.7 -.9 1.9 0 4.8 1.1-4.1 -.4 3.5 -.2-2.1 .2-.3 -.5 1.1 .2 .8 -.1 .4 .7 1.4 -.4 .1 .3-3.5 .2 3.5 -.2-2 .6 1 -.1 2.6 .1 .8 -.2-.6 -.3 1.3 .2 .5 -.5-3.6 1.2 .1 -1.1 .6 .9 .2 -.4 5.7 .4-3.1 -.3-4 .6-.7 -.5 2.1 -.2 2.1 .8-.8 -.9 3.4 .6-5.6 .2 2 -.8 .2 .9-1.9 .2 2.1 0 .6 -.6-2.9 .6 2.9 .1-5.4 -.7 4 .4-.3 -.4-1.5 .4 3.6 .1-.5 -.4 2.2 .3-4 -.2 2.8 .3-1.1 .6 1.5 -.2-2.1 .1 1.9 -.2-.7 .2 .1 -.5 1.8 0-.2 .1-3 .3 2.4 .1-1 -.4-.9 .5-2 .1 2.5 0-1.3 .6 .9 -.7-1.6 .1 2.7 .6-2.7 0 2.5 -.5-4.8 .6 .5 -.9 2.3 .7-3.5 .4 2.2 -.7-2.4 .5 3.4 .1-3 -.6 2.7 .6-4.3 .3 4.8 -.3-1.7 0-2.9 .4-.5 -.5 3.7 -.1-2.8 -.3-.2 .7 2.6 .4 1.4 -.3-2.4 .1 2.3 -.3-3.3 .7 2.5 -.8-2.7 .3 1.3 -.1-.2 .7-4 -.9-4.1 -.1 2.4 .6-3.7 -.4 1.2 1 .4 -.5-1.8 .3 2.1 .1 2.7 0-4.8 -.4-2.1 .5 1.3 -.7 1.9 1 3.9 -.1 .2 -.3-4.1 .4 5.3 -.7-9.1 .7 8.5 0 .2 .1-2.6 -.5 2.4 -.2 .1 .7-4.8 -.7 3.3 .7-2.5 -.7-3.6 .5 2 .6-.2 -.8 2.6 .4-2 -.6 .7 .9-2.8 .2 5.9 -1-4.8 .9 .7 -.8 1.4 .1-2.3 .9 2 -.9 .1 .2-1.4 .3-.8 .6 1.2 -.1 0 -.9 3.7 .4-3.7 -.3 4.2 .1-.5 .5 .1 -.6-5.4 .7 3 -.5 1.1 .4 3.4 -.1-4.5 .1 1 -.5 2.9 .5-2.6 .2 3.8 .1-1.3 -.4 .6 .6-.6 -.6 2.9 .5-1.7 -.2-4.6 -.6 6.8 .5-2.9 0 3.5 -.3 .1 .3 1.1 -.4-.5 .1 .1 .7 .9 .2-2.7 .1-.8 -.7 4.1 .7 .9 -.8-2.2 .3 1.7 .1-2.4 0-2.2 -.3 2.6 .4 3.4 -.4-4.3 0 5.1 .9-3.1 -1 1.9 .2 .3 .6 .8 -.3-2.1 .2 4.6 .3 2.4 -.7-5.3 -.1 1.8 .2-1.1 .7 .8 0 .5 -.9 1.3 .7 .8 .1 .6 -.7-4.4 1 1.7 -.7 2.1 .2 0 .3 .4 0-2.4 .2-.8 -.8-.6 .4-1.9 -.4 3.1 .7 .9 -.8 1.5 .3-2 .6 .5 -.5 3.6 .2-4.8 -.2 4.4 .4-2 .4 3.1 -.4-3.3 -.6 .8 .3 1.6 .7 1.7 -.5-2.8 -.5 1.6 .3 1.5 .7-1.9 -1 1.4 .8-.9 -.7 1.3 .3 0 .6 4.2 -.6-5.5 .1 2.4 0-.9 -.2-1.9 .3 1.5 .3-.9 0 1.4 -.2-5.4 -.1 2.7 .3-.2 -.3 4.1 .3-3.7 -.5-1.3 1-.4 -.7 1 .4 1.4 -.2 .8 0 1.6 -.2-.2 .5-.8 .4 4.5 -.9-2 1 1.6 -.5-.2 -.5 .1 .6-1.8 -.7 .4 1-.5 -.8 3.5 .9-4.9 -.1-.5 -.6 2.8 .7-5.7 -.2 5.8 .2-5.7 -.7 2.4 .9 1.8 -.1-3.3 -.6 .9 .8-2.7 -.6 1.8 -.3-1.3 .8-.5 -.2-1.5 -.5-.5 -.1 0 .9 .7 -.3-.6 .1-2.3 -.6 1.6 0 5.7 .1-2.7 .4 2.2 .2-2 .1-1.7 -.5-1.8 .9 1.2 -.7-.2 .5 1 .2 2.9 -1-3 1.1-1.7 -1-2.8 0 .2 .5 2 -.2-2.1 .5-.3 .2 .1 .1-2.1 -.8 .3 .9 1.7 -.5 .1 -.3-3.4 0 .2 .9 2 -.6-.1 -.3-1.4 1 .5 0 1 -.8-3.9 .3 1.3 -.3 .1 .7-.2 -.8-2.8 .8 3 -.1-1.6 -.3 .9 .3 1.6 -.3-4.2 0 1.6 .4-.2 0 1.1 -.5-.7 0-.9 .1-1.6 .4-1.6 .4 5.8 -.8-1.1 .4-2.6 .2-2.9 -.1 2.7 .5-1 -.4-.4 -.4 .1 .4-.8 .2 1.4 -.6 1 0-2.1 .2-.3 .7 .8 -.7 2.4 .4 1.3 0-4.4 -.5-3.1 .7 7.2 -.1-4.5 -.1 1.7 0 1.8 .1-2.6 -.4 2.6 .1-2.6 .5 2.2 -.5-1.5 .2 1.4 .3-.2 -.5 4.2 .4-3.6 .2 2.7 .3 .2 -.7 .3 .3-1.4 -.2 1.1 -.1-2.9 .7 3.7 -.4 .5 -.4-3.4 .5 3.5 .5-4.5 -.9 6 .6-.8 -.6-1.2 .5 2.6 .3 .9 0-1.2 -.6 .6 .1-1.4 .3 3.5 0 .5 -.3-2.8 .6 1.5 -.9 2.4 .8-4.3 -.7 3.4 .2-2.4 .4 1.8 .5 1.7 -.5-1.1 .2 1.1 -.5-.4 .4 2.8 .1-1.4 0 2.8 -.7-6.9 1.1 3.9 -.2-1.6 .1 2.8 -.1-.4 -.6 .7 .9-3.4 -.7 1.5 -.2-1.8 .3 1.6 -.3 .2 .7-1.8 -.7 2 1 .8 -.7-1.5 .7-1 0-1.1 -.3 3.4 -.2-.9 .5-.4 -.4 0 0 2.9 -.5-.3 .4 1.4 -.2 3.3 .7-3.9 -.5 3.3 -.1-2.5 0 .8 .3-.1 .4 2.1 -.2 2.9 -.7-6 .8 4.6 .1-.7 -.1-.3 -.4-.3 .7 .6 -.4-1.1 .1-2.8 .4 1.9 -.7-4.3 .8 5.3 -.1-.6 -.9-.7 .3 1.8 -.4 .9 .4-3.3 .1 0 -.1-.4 .4 4.8 -.3-1.5 -.3 5.2 1-4.6 -.7 2.5 -.1-.1 .7-1.7 -.7 5.1 .7-1.6 -.2-1.5 .4 2.2 -.1-1.5 -.6 .8 .3 4.3 0-5.6 0 .9 .6-.6 -.6-2.4 .1 3.8 0-1.1 .4 0 -.5-1.4 .3 2 -.4-1.3 .2 .1 -.3 2.7 .5-.5 -.4-3.9 .5 .4 -.6 4.5 .9-2.9 -.9 .2 .8 3.7 -.3 .9 -.2-4.3 .5 5.9 .2-1.7 -.3-.3 -.6 2 1-.8 -.1-.2 -.7 .2 .5 1.8 .4 2.5 0-2.4 0 2 -.1-.8 .1-.4 -.2-2.4 .3-1.9 .1 5.1 .2 0 -1-4.2 .7-.1 -.2 .3 -.3 2.9 0-4.3 .1 1.9 .1 5.5 -.2-1.9 .1-.5 -.1-1.8 1 .6 -.3 0 -.5 .7 .1 2.5 .1-1.3 .1 5.6 .7-8.3 -.5 1.5 .1 4 0-6.9 -.3 6.6 -.1-2.5 -.1-1.4 .4 1.9 -.3-2.9 .2 5.2 .5-1.1 .4 2.7 -.9-1.2 .2 2.2 -.4-2.9 .7-1.9 -.4 2.4 .1 .2 -.2 3.2 .9-1.6 -.4-3.9 -.1 6.4 -.4-4.3 .9-3.3 -.6 4.5 .1 0 .9-3.6 -.8 1.4 .7-.5 -.5 2 .4-4.2 -.2-3 -.3 4.8 .2-1.4 .5 .9 -.2-.8 .2 .5 -.4-.6 .1-1.1 0 .2 -.1-1.5 .8-.9 -.3 2 .3-4.9 .1 7.7 -.8-2.1 .5-2.9 -.4 2.1 .9-2.2 .1-.4 -1.1-.5 .1-.1 .3 .3 .8 2 .1 .5 -1 2.8 .7-2.1 .4-1.1 -.5-2.6 .5 1.8 -1 .7 .4 1.3 -.3-1.7 .1 1.6 .4 1.7 .6-6 -.6 4.8 -.2-2.8 .7 1.1 -.1 .5 .1-.6 .2 .9 .2-3.7 -.4 3 -.1-2.4 .1 1.8 -.4-2 1.1 .8 -.1 .6 .2 .7 -.3-4.5 -.8 .5 .5 1.6 .6 .8 -1-2.3 .8-2.3 .2-.3 -.4 1.4 -.4-1.5 1 2.1 -1.1-3.3 .4-1.4 .8 1.2 -.3-2.1 -.4 4.2 .8-3.8 -.1-2.2 .1 5.5 -.2-3.5 0-1.2 -.5 2.9 .1-1 .7-.3 -.7-1.8 .4 .7 -.4 4.1 -.1-.8 .6-6 .4 7.3 -.4-3.5 -.2-3.3 .2 3.5 .2-1.3 -.3 3.3 .6-4.2 -.7 1.3 .3-1 -.1-1.9 -.4 2.1 0-3.1 .4 5.3 .4-.6 -.5-5.4 .7 0 -.6 5.7 0-3.7 .7-.4 -.2-.6 -.3 1.5 .7 1.1 -.3-1.5 -.3 .6 -.4 1.4 .4-.8 -.1-1.4 .2-2.7 .3 2.2 .1 3.1 -.3-2.6 .1-1.4 -.5 1.9 .3-.6 .2 .8 -.3-1.4 .9 .7 0 1.6 .1-4.3 -.8 .4 -.2 2.3 .9 .3 -.3-2.1 -.2 0 .4 2.2 -.2-1.1 -.2-1.4 0 .3 0-3.7 .4 .7 .4 2.1 -.7-2.6 .3-1.2 .1 1.7 .3-1.5 .3-.8 -1-2.5 .7 .5 -.2-.6 -.5 2 .2-4.7 .4-.9 0 1.7 .2-1.2 .4 2.4 -.1 2.2 .1 .9 0-3.9 -.8-.9 .9 3.8 -.6-3.3 .4 1.2 -.6 .1 0 2 .8-4.4 -.7 .9 .5 .9 0-2.4 .1-1.8 -.1 3 -.6 4 .8-10.6 -.8 4.7 .8-1.2 .3-1.7 -.4 .4 .3 2.8 -.8-2.7 .5 .4 -.5-.1 .2-.7 .8-.8 -.9 2.4 .4 .3 -.2 1.1 .2 .9 .7 .5 -.7-.9 -.1-.3 .4 2.5 .1 2 .2-3.8 -.1 3.1 .1-.2 .3 1 -.4-2.7 .7 2.7 -.2 .5 .2-1.8 -.9 3 .5 1.1 -.4-4.9 .4 4.9 .3-1 -.1 2 .4 1.3 .1-.9 -1 .3 1.1-.3 0-4.1 -.4 4 .2-.2 -.7 3.3 .7-1.6 .1-3.4 0 1 -.1 .8 0-.1 -.1 .1 .6 .3 -.5 2.9 .5-2.4 -.2-.8 -.1 2.2 -.1-.3 -.3-2 -.1 2.6 .7-3.4 .2-.7 0 2.6 -.5-1 -.2 .3 0 2.1 .9 .6 -.2-2.8 .2 4.1 -.1-2.4 -.4 1.7 .3-3.1 .5 2.5 -.3 1.9 -.3-4.3 .4-.1 -.3-.5 .3 3 .3 .8 -.7 2.4 .7-4.3 0 2.8 -.2-4.8 0 .9 -.7 2.8 1-.6 .2 .2 0-.4 -1 1.5 .9 0 -.2 2.6 .5-5.2 -.7 .9 .2-2.6 .3 4.7 -.8-1.4 .9 1 -.2 1.2 -.5 .3 0 .8 1.1-3 -.9 2.6 0-5 -.2 6.4 .9 1.5 -.2-3.8 -.3 1.5 .4 .2 .3-.3 -.6 2 .1-4.8 .1 6.3 -.1-5.6 .9 5.3 -.9-3.6 .5-.2 0 .5 -.4-2.6 .3 2.5 -.3 .7 .6-.2 -.5 0 .9-.4 .1-2.5 -.4 3.4 .2-1.9 0-1.6 .5-2.4 -.8 4.8 0-2.8 .7 2.2 -.5-3.8 0 3.3 0-1.7 .7-3.3 -.5 3.7 -.2 .2 .4-2.3 .7-.8 -.5-2.4 -.4 3.1 0-2.9 .9 3 -.7 1.2 .7-3.2 -.5 2.3 .8-2.9 0 1.6 0-1.4 0 5.3 -.6-5.3 .1 .2 -.1 .6 .9-1.6 .1 2.3 -.6 1.2 -.2-.5 1 1.7 0-2.4 -.4-.2 .3 2.5 .1 .3 -.3 .1 -.6 .1 .2-1.3 .5 .2 .4-1.7 0 .8 -.2-3.1 .2 4 -.3-3.4 .7 .3 -.1-1.3 -.5 2.9 -.1-6.7 -.2-1.8 .8 4.3 .3-1.8 -.7 1.4 0 3.7 -.1-5 .6 5.4 -.6-4.8 -.2 2.6 .3 .9 .5-1.5 -.6-1 .7 3 -.2 2 -.1-1.5 .4 3.1 .2-2.5 -.3 3.5 -.1-1.8 .5 0 -.9 .7 .6 .7 0 .9 .4-2.2 .1 0 -.8 2 .5-2 -.1 3 -.3-2.3 .4 .2 -.5 .5 .5 2.5 .3-2.1 -.2 1.1 -.3 3.5 .7-9.7 -.2 5.2 -.3-1.9 -.1 5.8 -.2-1.7 -.2 2.8 1-3.9 -1-.3 1.1 1.3 -.7 .3 .5-.2 -.2-.2 .5 4.4 -1-1.2 .8 1.3 .3-6.1 .1 1.7 0 6.1 -.2-5.3 .2 1.7 -.9 2.3 .1-3.2 .8 .1 -.7 2.8 .7-.6 -.8-.6 -.1 2.3 .4 1.3 -.4-1.3 .7 4.9 -.2-5.2 .7-.4 -.5-.1 .3-.6 -.7-1.8 .5 0 .1 .3 .4 2.6 0-.4 -.1 1.3 .1-.7 -.8-1.1 .3 2.8 -.1-1.2 -.1 3.3 .2-.4 .5-3.3 0 2.2 -.7-.9 .6 .3 .4-.8 -.8-2.9 .1 3.8 .4-1 -.6-1.7 1 5.1 -.6-3.5 .5 3.6 -.1-3.4 .3 2 -.1 1 -.6 2.5 .4-.6 -.6-2.6 .9-3.2 -1 .8 .5 3.9 0 3.1 0-3 -.1-.4 .9-1.3 -.3 4 -.5-2.2 .7 1.1 -.4 0 .5-1.7 -.4 2.6 -.4 4.9 -.1-2.5 .8-5.9 -.7 3.1 .3 2.6 -.1-3.2 .6 2.5 -.7-1.8 .5 2.9 .5-1.6 -.9 2.1 .6 1.5 .3-.4 -.1-4.7 .2 1.2 -.6 2 -.3-4.2 -.1-.4 .5 6.1 -.3-1.6 .7 .7 -.5-1.2 .2 1.6 .5-.4 0-1.2 0-4.1 0 4.1 -.9-3 0 .7 .4-2.3 .3 1.8 -.7 4.3 1.1-4.7 -.8-2.5 -.2 3 .1-1 .6-.2 -.1-.8 .1 1.6 -.5-.9 .4-1.8 .4-.3 .1 1.8 -.8 2.5 1-4 -.9 1.4 .7-.7 -.6 1.1 .1-1.3 0 1.9 .7 1.2 -.2-2.1 .3 2 -.5-2 .2 1.7 -.4-1.2 -.1 1.5 .2-4 .4 .6 -.2 1.9 -.4 .3 .5-4.6 -.1 4.4 .3-2.5 -.5 .2 .3-2.5 -.2 1.2 0 .2 .7-1.2 -.5-.4 .6 .6 -.3-4.6 -.7 3.7 1.1-1.3 0-1.3 -.9 .5 .5 .7 -.1 1 -.5 2.9 0-2.1 1-.6 -.3-2 .1 4.7 -.4-.7 0 .1 .7-3.3 -.2 .4 .1-.2 -.1 .8 -.6 .5 .8 1.8 -.8-3.5 .9 .9 -1 .7 .6-.5 .4-.1 -.7-.7 .6 .2 -.8 .7 .9-3.5 -.3-.4 0-2.6 -.5 2.9 .4-.9 .1 3.7 -.3-4.1 .8 3 -.9-2.1 .1 .3 .7-2.4 .1 .3 .1-.2 -.9 2.6 .9-2.5 -.3 .8 .1 .5 -.2-2.9 -.1 1.3 -.2 .6 1 1 -.9-1.3 .9-2.9 -.5 2 -.5-1.1 .8 0 -.5-3.1 .3 .1 .1 1.2 .2-2 -.3-2.1 .6 3.4 -1 2.2 .8-2 -.8 2.5 .5-3.5 .1 2 .1-1.6 -.2-3.1 .1 4.9 -.1-3.1 .7-1 -.4-.6 .4 2.2 -.1-1.3 -.8 2.2 .4-.7 .2-1.3 .2-.1 -.3 2.4 .1-6.7 .4 4.2 -.1-1.7 -.9-2.2 1.1 .3 -.8 3.2 .9 1.7 -.5-3.3 -.4 1.3 .5-2.1 .5 2.6 0-1.3 -.9-1.1 .6 .4 -.5-2.1 .6 1.3 -.7-3.7 .2 3.6 .1-3.2 .2 3.5 .5-7.4 -.6 3.2 .1 .2 -.3-2.6 -.2-.4 .8 2.9 -.5-3.1 .6 3.6 -.5-5 .3 .4 0 1.8 -.5 1.1 .2-1.9 .7 .8 -.8-3 1.1 1.3 -.9-2.8 1 1.6 .4 1.4 -.5 4 -.1-2.6 .2-.4 .1-1 .1 1.2 -.2 1 .4-1.3 -.1-.8 .9 1.1 0 4.7 -.5-2.3 .7 0 .3 .8 -.6 2.1 .1-.9 .7 2.3 -.3-2.6 -.4 5.1 .9-5.1 0 3.8 0-1.8 .6-.2 -.1-1.5 -.9 3.3 1.3-1.5 -.3-2.7 -.1 1 -.1 1 .4-1 .3 2.7 -.5-1.8 .2 2 .5-2.5 .3-.6 -.6 1.6 0-.2 .9 4.3 -.7-2.9 .9 3.3 .2-2.5 -.9 1.3 .8-3 -.1 3.1 -.7 1 .5-3.3 -.4 2.9 .1-1 .2 .5 .3 5.5 -.4-5.2 .7 2 .1 .4 .5 .2 -.4-1.5 -.3-.1 .3-1.7 .2 .7 0 2.7 -.5-.3 .6-.7 -.4-.9 .1 3.9 -.1-4.7 .7 2.6 .2 .5 -.6-1.6 .8 .7 0 1.9 .3-2 -.1 2.4 0 .8 -.5-.3 .1-1.2 .5 .6 -.9-1.9 .4 3.4 .6-5.1 0 2 -.2 4.5 .4 .8 -.6-1.8 .6-2.9 -.5 3.2 .3 .4 .3-2.6 .1 4.3 .4-.7 -.5-4.8 .5 2.5 -1 2.1 .8-3.2 .1 1.2 -.4 3 .1 .4 .1-.9 .2 3.4 -.4-4 .5-3.6 .2 8.6 -.2-2.3 0-1.3 -.5 3.7 .1-.6 -.1 1.1 .5 3.6 -.4-2.8 .5 2.1 -.3-5.5 .6 5.8 -.7-1.4 .2 .6 -.1-.9 0-.9 .9-1 -.1 3.6 .1-2.8 .4-2.8 -.6 4.2 .2-.8 -.3-3.3 -.2 2.6 .7 1.5 0-2 .2-.4 .1 4 .2-7.3 -.3 4 -.6-.7 .8 3.3 -.7-1.3 .9 4.4 -.6-4 .1 2.5 .3-2.1 -.4-.7 -.2 2.1 .3-5.6 .8 6.1 -.2-.6 -.1-2.4 -.1 2.9 .3 3.7 -.6-3.9 .3 .1 -.3 1.5 .2 2.3 .9-.7 0 .3 -.5 .3 -.3 .8 .3 4.8 -.3-2.7 1.1-.6 -.9-.8 .7-4.3 -.6-1.8 0 5.6 .5-3.3 .1 1.3 -.1-1.4 -.2 1.7 -.5-.8 .5-2.2 .3 2.9 .3-3.8 -.7 1.2 .1 .5 -.1-3.2 -.3-.3 .1 1.4 0 .3 .6 1 -.6-3.5 .8-1.2 -.6 .6 .3 2.3 -.2-5.7 .6 .2 -.9-.7 .2 4 .7-1.1 -.8-.4 1-1.1 -.3 .4 -.7-2.5 .3 3.9 -.2 1.8 .2-3.1 .6 1.2 -.7 1.2 .2-3.9 .1-.5 0 2.4 .8 2.3 0 4.3 -1.1-4.3 .3 .7 -.1-1.2 .3-.7 -.2 2.1 .7 1 .1-1.8 -1.1-1.1 1-.5 -.2-.1 -.6-2.9 1-1.8 -.9-1.1 .8 4.2 -.5 .5 -.2-2.5 .4 .1 -.1-.7 .5-2.4 -.7 .4 .5 .1 0-.9 0 5 .3-2.7 .1-1.2 -.9 1.6 .9 0 -.2 .3 -.7 2.8 .9-4.1 0 1.8 -.2-.7 -.6-1.5 .7 .3 -.6 1 .4-1.5 -.4 .3 .9-1.1 -.6 .9 .1-2.7 -.1-1.5 -.1 4 .6-.6 -.6 .2 .4-5.6 .5 2.2 -.2-.7 -.4 .7 .5-.6 -.8 2.3 .1-3.3 .5 1.9 -.1-.1 -.1-2.3 .3-1.1 -.2-.2 -.6 1.3 .9-.3 -.6 .8 .1 .3 .4 1.8 -.4-3.2 .4 .8 .3-1.7 -.2-2 -.2 4.9 .6-.7 -1.1-3.9 .5 2.9 .4-7.5 .1 5.8 -.3-2.1 .2-1.7 .2 1.6 -.7 2.9 -.3-2.7 .7-1.7 -.5-2.2 -.1 2.4 1-1.9 -.2-.8 -.6 2.4 .4-1.4 .6 2 -.8-.4 -.2-.3 .4-3.2 .6 3.5 -.3-1.2 -.8-.9 .8-2.9 -.5 1 .6 2.9 -.6-4 .7 2.4 -.1-2.6 -.2 1.9 -.2 2.4 .6-1 .1-.3 .2 2.1 -.9-1.7 .8 2.9 .2-1.8 .3 3.4 -.7-.2 .9-1 -.9-.4 .7-.8 .3 2 .2 1.4 -.4-1.4 .7-4.3 -.2 2.1 -.6 3.7 1.2-2.8 .1-2.9 .2 3.3 -.4-2.7 -.2 1.2 .3 1.9 0 1.6 -.1-1.1 .1-1.3 .8-4.9 -.6 7.6 .4 .1 .2-.4 .5-3.7 -.7 1.3 -.1-2.3 .2 4.8 .6-1.5 -.4 1.4 .8 .7 -.6-2 .4 1.9 .3 1 .2-4.5 .1 3.8 .3 1.1 -.8-1.3 .5-.6 .2-5.2 .4 5.3 -.1-1.6 .1-.5 -.2 1.3 .2-.7 -.2 1.9 .5-1.8 -.6-3.2 .8-.7 .2 3 -1 .7 .8-2.7 .3 .4 -.8 .8 .2 .5 .6-5.1 -.4 4.3 -.1 1.7 1 .4 .1-6.2 -.1 2.6 .1 .9 .2-.4 -.2 .3 -.7 1.4 .2-1.1 -.1-.9 .9 1.6 -.5-2.6 .5 .9 -.6 1.9 1.1-.5 -.4-1.4 -.6 1.3 1.2 0 -1 1.3 .5 .8 -.3-2.9 0 1.6 .9-1.7 .1-.2 .1 .9 -.2-1.6 -.3-1.2 .2-3.9 .1 6.5 -.2-6.3 .2-.3 -.2 2.8 1 .9 -.2-1.8 -.7-5 .5 5.5 -.2-.5 .4-.9 .5 .8 -.6-2.2 -.3 .1 1.2 .4 -1-2.7 .6 2.2 .5-2.3 -.1 6.2 .3-.9 -.7-2.9 .8 1.4 -.5 .5 -.1-.1 .2-.1 -.3 .5 .3-.9 .2 2.8 .3-2.8 .3 1.1 -.4 1.6 .6 1.1 -.4 .5 -.3-5.3 .9 2.3 -.9 1.6 .9-2.9 -.8 1.8 .9 .7 -.1-.2 -.5-.7 .3-.1 -.1-.8 -.2-.2 .6 3 .4 3.7 .3-5.2 .2 1.5 -.7-1.8 .5-.1 -.7 .3 .7 1.7 0 1.4 -.3-3.6 .5 4.8 -.1-3.5 .3 .4 -.1 2 -.6-.9 .8 .5 .4-2 -.6 1.5 -.1 0 0 3.9 .4-2.9 -.4 .2 .9-1.6 -.5 1.9 .2-1.2 .6 .5 -.9 2.1 .2-.5 -.2-2.6 .9 .1 .1-1.1 .2 .1 0 1.4 -.1 .4 .4-.7 -.3 1.8 -.7 1.3 0-1.9 .8-.9 -.6-2.2 0 3.3 -.1-5.9 .1 2.9 .3 .2 -.2-1.8 .3 .1 .7 3.2 -.1-1.3 .2-1.9 .1 2.2 -.4 .6 0 3.1 .2-6.1 .5 1.6 -.5-1.5 -.3 .5 .5 1.3 .4-2.1 -.7-.5 .5-.2 0 2.3 .2-3.7 -.6-.5 1.1-.8 -.5 .8 -.2-4.2 .4 .6 -.3-.5 -.1 .8 .8-.4 -.8 .1 .7-.8 .2-.2 -.8 1.7 .8-4.3 .2-2 -.8 7.8 .1-2.4 0-2.7 .6 4.8 -.4-6 .8 1.7 .1 .7 0-.3 -.4 2.7 -.3-6.9 .7 1.8 -.3 .4 -.1 1.2 .6-.4 -.5-2.1 -.2 2.1 .4-2.7 -.2 3.4 0-1.8 .9 .6 .1-2.3 -.1 2.2 -.9-.8 1.1 1.1 -1-.9 .4-1.4 .7-.9 0-.1 -.4-.6 -.1 2 .1 .9 .3-4.3 .4 2.3 -.7-.8 -.2-4.4 .2 2.9 .9 3.3 -.9-3.3 .8-1.1 0 4.9 .4-4 .1 .6 -.8 1.6 .4-1.1 .4 3.6 .1-1.8 -.3-2.4 -.3 1.1 -.3 .3 .3 3.4 .5-3.6 -.4 5.1 .7-3.6 0-.6 .3 6.6 -.1-3.9 -.8-.5 .9-.2 -.5 2.1 -.2-.1 .6-2.2 -.5-.9 .8 2.8 -.2-.7 0 .9 -.6-1.7 1 1.5 -.3 3.9 .3-1.1 0 1.2 .2 0 -.6 1.7 .4-2.9 .5 2.7 -.2-3.7 -.5 4 .1-3.8 .6 1.5 -.8 1.9 .4-2.5 -.2 .4 .2-1.9 .3-.1 -.2 .3 0 2.3 0 1.4 .7 2 0 .1 -.3-.3 -.4-3.5 0 3.8 .8-3.2 -.3 3.2 0 2 0-1.9 0 .8 .9-3.4 -.2 3.8 -.8 .4 .7-2.6 -.3 3.7 .9-5.1 -.7 4.6 -.3-2.5 .4-7.1 .2 6 .5 1.4 .1-3.1 -.7 .1 .6-2.2 -.2 1.2 0-2.2 .4-1.4 -.3 2.5 .3-.1 .1-1.7 -.6 2.2 .1-1.6 -.2-.4 .6 5.4 .1-1.9 .2 1.3 -.9-4.2 .9-.9 -.8 3.7 .5-.6 .5 .7 0-.7 -.6 1.7 .5-1.7 -.3 2.3 .6-3.2 -.4 3.6 .3-3.8 -.6-4.1 .7 2.5 -.8 1.5 .6-.6 -.3 .3 .6-1.1 -.1 2.9 .2-5 -.2 3.3 .3-3 -.3 3.1 .1-1.7 .5 .1 -.4-2.8 -.4-.7 .4 5.1 -.4-7.4 1 2.6 -.3-2.4 .4 3.5 0-5.5 .1 1.9 -.6 1.6 .5-5.6 -.2 3.9 0-2.8 -.2 2.6 .5 .5 -.5-1.8 .4-3.2 -.4 1.9 .6 1.6 -.7-1.9 .2-.9 0 6.2 1-3.1 -.3-7.4 .5 4.4 -.6-.8 .4 5.7 0-3.2 0-4.7 1 6.5 0-.5 -.3 1.1 .2-1.8 .5-.8 .1 6.7 .2-4.1 .1-2.7 .1 4.6 .7-2.4 -.1 1.7 .3 .8 -.3 1.5 .1-2.4 .4 .6 .7 1.2 0-1.8 -.3 .6 .4-2 .1 4.3 .4-4.3 .6 3.2 -.2-4.6 .6 3 -.3-4 -.1 .9 .6 2.2 0-.7 .8-1 .2-1.4 -.2 2.4 .1 .9 0-.5 .7 .5 .3 1.1 .6-1.1 0-.2 -.1-.1 .2-1.2 .9 1.2 -.2-.6 .8 .9 -.1-2.4 0 .2 .2-.7 .4 1.3 .7-.5 0-.8 .4 .8 .2 .3 .4-.1 .6-.8 .1-1 .5 .7 .2-.6 .2 .6 .1-1.3 .7 .1 .4 .1 .1-1.6 .2 1 .3-1.3 .3-.9 .5-.6 .3 .4 .2 .2 .2-.7 .6-.6 0-.1 .7-.7 .3-2.1 0 .9 .7 .1 -.1-.7 .7-.5 .1-.2 .5-.7 .2 1.3 .2-2.3 .5 1 .2-1.3 .2 .3 .5-1.2 .2-.5 .7 .2 0-.5 .4-.3 .4-1.5 .4-.5 .2-.6 .6-1.1 .3 .8 .1-1.5 .2 .1 .7 1 .4-1.8 .4-1.3 .3 2.5 0-1.9 .6-.1 .4 .3 .3-.8 0 .1 .8-1.1 .2-1 .3 1.1 .3 .2 .1-2.9 .4 1.6 .3 .3 .5-2 .5 .4 .3 .5 0-1.8 .3-.9 .7 .7 .2-1 .2-.4 .6 .6 0-1.6 .7-1.6 .2-.1 .5 1 .4-.3 .2-.9 .4 .1 .1-1.2 .3 .8 .6-1 .2 .5 .4-1.2 0-1.1 .6-1.5 .4 1.8 .4 .3 .2-.6 .1-1.6 .4 .6 .4-1 .6 .2 .2-1 .6-.4 .3-.3 .3-.5 .5-.8 .1 .1 .6 .4 .2-.5 .4-.8 .3 .4 .5-.5 .3-.5 .4 0 .3-1 .3-.3 .4-.7 .5-.1 .3-.3 .3-.2 .5-.7 .3-.1 .3-.4 .3-.3 .5-.5 .3-.2 .4-.5 .2-.3 .5-.2 .3-.2 .3-.8 .5-.2 0 .3 .2 .8 0 .3 .3 .7 .1 .4 .1 .5 .1 .2 .2 .7 0 .6 .1 .7 .2 .4 .1 .5 .1 .4 .2 .7 .1 .2 .2 .6 0 .5 .2 .8 .3 .2 .1 .5 .2 .7 .2 .2 .2 .6 .2 .6 .2 .4 .2 .3 .2 .7 .2 .8 .2 .4 .2 .4 .2 .3 .2 .6 .2 .5 .2 .6 .2 .1 .2 .7 .2 .9 .1-.9 .1-.5 .1-.5 0-.5 .2-.2 0-1 .1-.3 .1-.7 .1-.2 .1-.7 .1-1 0 .2 .1-1 .1-.5 0-.3 .1-.3 .1-.6 .2-.7 .1-.6 0-.4 .1-.6 .1-.4 .1-.5 .1-.8 .1 .1 0-1.1 0-.3 .3-.3 .2-.5 .1-1 .3-.1 .1-.6 .2-.5 .3-.3 .1-.5 .1-.7 .3 .1 .2-.8 .2-.4 .2-.3 .1-.6 .1-.4 .2-.5 .3-.3 .2-.8 .1-.3 .2-.8 .3-.4 .1-.5 .2-.5 .2-.5 .2-.3 .1-.7 .2-.5 .2-.3 .2-.3 .3 0 .3-.9 .4-.2 .3-1 .3 .1 .3-.7 .3-.4 .3-.5 .4-.2 .3-.4 .3-.6 .4-.1 .3-.2 .3-.5 .3-.8 .4-.4 .2 .1 .4-1 .3-.3 .4-.1 .5 0 .4-.8 .4-.2 .5-.1 .4-.3 .4-.1 .4-.4 .4-.5 .5-.3 .4-.3 .4-.5 .5 0 .4-.5 .4-.3 .4 .1 .4-.6 .6-.5 .4 .2 .5-.5 .5 .3 .5-.2 .5-.4 .5-.1 .6 0 .4-.3 .6-.2 .5 .1 .5-.1 .4 0 .6-.2 .5-.3 .6-.1 .4-.3 .5 .1 .6 0 .5 .4 .5-.1 .4 .1 .6-.1 .5 .4 .5 .1 .5-.4 .5 .3 .5-.3 .5 .4 .5 0 .5-.1 .5 .3 .6-.1 .5 .1 .4 .3 .5 0 .5 .1 .5-.1 .6-.1 .4 .1 .5 .2 .6-.4 .5 .4 .5 0" stroke="#8000ff" stroke-width="2.3" fill="none" stroke-linejoin="round" stroke-linecap="round" clip-path="url(#cD)"/>
<rect x="54.2" y="199.3" width="185" height="184.9" fill="none" stroke="#000" stroke-width="1.5"/>
<path d="M91.9 384.2V379.7M91.9 199.3V203.8M113.9 384.2V379.7M113.9 199.3V203.8M129.6 384.2V379.7M129.6 199.3V203.8M141.7 384.2V379.7M141.7 199.3V203.8M151.6 384.2V379.7M151.6 199.3V203.8M160 384.2V379.7M160 199.3V203.8M167.3 384.2V379.7M167.3 199.3V203.8M173.7 384.2V379.7M173.7 199.3V203.8M217.1 384.2V379.7M217.1 199.3V203.8" stroke="#000" stroke-width="1.4" fill="none"/>
<path d="M179.4 384.2V376.2M179.4 199.3V207.3" stroke="#000" stroke-width="1.4" fill="none"/>
<path d="M54.2 303.8H62.2M239.2 303.8H231.2M54.2 223.4H62.2M239.2 223.4H231.2" stroke="#000" stroke-width="1.4" fill="none"/>
<text x="32" y="214.2" font-family="Liberation Sans, sans-serif" font-size="20" text-anchor="start" font-weight="bold" font-style="normal" fill="#000" style="stroke-width:0.5px">d</text>
<text x="52.2" y="229.5" font-family="Liberation Sans, sans-serif" font-size="16.5" text-anchor="end">10<tspan font-size="10.5" dy="-8.4">3</tspan></text>
<text x="52.2" y="309.9" font-family="Liberation Sans, sans-serif" font-size="16.5" text-anchor="end">10<tspan font-size="10.5" dy="-8.4">2</tspan></text>
<text x="52.2" y="390.3" font-family="Liberation Sans, sans-serif" font-size="16.5" text-anchor="end">10<tspan font-size="10.5" dy="-8.4">1</tspan></text>
<text x="54.6" y="405.1" font-family="Liberation Sans, sans-serif" font-size="16.5" text-anchor="middle">10<tspan font-size="10.5" dy="-8.4">2</tspan></text>
<text x="179.8" y="405.1" font-family="Liberation Sans, sans-serif" font-size="16.5" text-anchor="middle">10<tspan font-size="10.5" dy="-8.4">3</tspan></text>
<text x="232" y="365" font-family="Liberation Sans, sans-serif" font-size="17" text-anchor="end" font-weight="normal" font-style="normal" fill="#000" ><tspan font-style="italic">x</tspan> = 1.00</text>
<text x="183.8" y="325.2" font-family="Liberation Serif, serif" font-size="20" font-style="italic">ω<tspan font-family="Liberation Sans, sans-serif" font-style="normal" font-size="13.5" dy="-10.5">2</tspan></text>
<text x="119" y="432" font-family="Liberation Sans, sans-serif" font-size="20"><tspan font-family="Liberation Serif, serif" font-style="italic">ω</tspan> (cm<tspan font-size="12.5" dy="-9">-1</tspan><tspan dy="9">)</tspan></text>
<text transform="translate(21,195.5) rotate(-90)" font-family="Liberation Sans, sans-serif" font-size="20" text-anchor="middle"><tspan font-family="Liberation Serif, serif" font-style="italic">γ</tspan>(<tspan font-style="italic">T</tspan>,<tspan font-family="Liberation Serif, serif" font-style="italic">ω</tspan>) (cm<tspan font-size="12.5" dy="-9">-1</tspan><tspan dy="9">)</tspan></text>
<path d="M259.3 85.1l.5 2.7 .1 .1 .1-1.1 .5 .6 .5 .6 .3 1.8 .6-1.6 .2 .4 .3 1.5 .5-.4 0 1.1 .8-.6 .2 .2 .4-.5 -.1 3.8 .9-2 -.2 1.4 .3 .1 .5-.1 .2-.8 .2 .5 .5 .2 .2-1.6 .4-.4 .2-1.6 -.1 .9 .7 .1 .2 .1 0-1.2 .6-1.5 .1 1 .3-.8 .1-.6 .4-1.5 .4 2 0-1.4 .3-2.2 0 1.9 .6-1.5 0 2.1 .4-2.9 .6 1.2 0 .5 .2-1.5 .3 .6 0-1.4 .2 .7 .6-.2 -.2-.9 .6 .3 0-1 .5 .8 0-.6 .2-1.6 0 .4 0 .4 .4-1.4 -.3-2.7 .5 .5 .3-1.4 -.1 0 -.1-.4 .3 .3 .2 1.1 .3-1.7 -.4 1.8 .5-1.1 0 1.2 .2 .1 -.1-1.6 .4-2.9 0 1.8 .6 .1 .2-1.9 .1 1.7 0-.9 -.2 1.7 0 .5 .5 .3 -.2-1.4 .4-.9 .1 1.6 -.3 .7 .5 1.2 -.2 .6 0-.6 .1 .6 .2 1.5 .1 .2 .2 0 -.1 .8 .1 .4 .5 2 .2-1.8 .1 .3 -.1 1.4 0 .5 .3-.8 -.1 1.2 -.1-.4 .5-1.2 -.2 1.6 .1 .6 .6-.3 -.2 1.1 0 .2 .1 .7 .3 .9 .3-1.5 -.3-.9 .1 1.5 .1-1.1 0 .5 0-1 .1 0 -.2-3.8 .4 .3 .1-.3 .1-1 -.4 1 .6-.6 0 .9 -.3-2.3 .1 2.5 0-2.2 .3-.1 0-.9 0-.8 .3 0 -.1 .3 .1-.5 -.2 0 .1-1 .3 1.1 0-2.1 .1 1.1 .1-.5 -.1-.3 -.2-2.7 .1 2.1 .3-.6 -.1-1.1 .4-1.7 .1 .5 -.3-2.2 .4 2.2 0-1.5 -.2-.3 .3-.4 .4-.6 0-.7 .1 .3 -.3-.5 .3-.6 .4 .8 -.3-1.6 0-1.7 .3 1.3 .4 .2 .4-2.6 0 2.6 .3-1.6 .5 1.7 .3-1.5 .2 .1 .4-2.2 .2 1.7 .6-.3 .1-1.1 .4-.5 .3 .3 .7-.3 .1-.7 .5-1.2 .3-.1 .3-.3 .5-.7 .3-.4 .4-.6 .3-.1 .2-.6 .4-.3 .3-.8 .2-.1 .4-.3 .3-.3 .3-1.1 .2-.2 .5-.3 .2-.1 .5-.6 .2-.6 .4-.5 .3-.3 .3-.1 .2-.2 .5-.5 .2-.6 .4 .3 .3-.9 .4-.1 .2-.5 .4-.7 .3 .1 .3-.6 .4-.9 .2 .1 .4-.6 .4-.1 .2-.5 .4-.7 .3-.3 .3-.6 .4 .1 .2-1.2 .3-.2 .4-.4 .3-.7 .3-.5 .3 .1 .3-.7 .2 0 .5-.7 .3-.4 .3-.2 .3-.6 .3-.3 .3-.5 .4 .1 .4-.9 .2 .1 .3-.3 .3-.8 .4-.6 .3-.6 .4-.4 .3-.4 .3-.6 .2-.1 .5 0 .4-.2 .4-.9 .3 0 .4-.6 .3-.5 .4-.2 .4-.2 .3-.6 .4-.5 .3-.4 .4 .1 .3-1.2 .4 0 .4-.3 .3-.9 .6-.2 .3 .1 .4-.5 .4-.2 .5-1.1 .4 0 .4-.5 .2-.4 .3 0 .4-.2 .2-.8 .4-.1 .2-.4 .3-.5 .4-.7 .2-.2 .3-.8 .4-.8 .2 .2 .3-.1 .4-1.7 .3 0 .3 .3 .2-1.4 .3 .1 .4-.2 .3-.5 .4 .1 .3-1.3 .3-.2 .4-.2 .4-.8 .3-.1 .3-.3 .3-.6 .3-.5 .1-.9 .4-.1 .2-.4 .2-.9 .4-.3 .2 .9 .1 .5 0 .6 .2 1 0 .2 .2 .4 .1 .6 0 .7 .3 .2 0 .8 .2 .9 .1 .4 .2 .6 .1 .2 .1 .8 .1 .7 0 .4 .2 .5 0-.3 .2-1.2 0-.2 .1-.1 0-1.1 .1-.4 .1 .5 .1-1 0-.3 .1-.8 .1-.2 .1-.7 .2-1.1 -.1-.2 .1-.9 .1-.4 .1-.1 0-.5 .2-.8 .3 .1 .4-.8 .5-.3 .4-.5 .3-.1 .4-.2 .4-.6 .5-.4 .5-.8 .2 1.3 .3 .3 .3 .2 .4 .4 .3 .7 .3 0 .4 .7 -.1-.4 .1 1.1 .1 .2 0 .5 .2 .8 0 .6 .1 .3 .1 .5 0 1.3 0-.2 .1 .8 0 .2 .2 .5 -.1 .6 .1 .7 .1 .7 .1 0 0 .8 .1 .4 .1 .8 0 .3 .1 .5 .1 .1 -.1 .9 .2 .5 0 .4 .1 1 0 .6 -.1-.1 .2 .8 -.1 .4 0-.1 .1 .7 0 .6 .1 .5 0 .3 0 .7 0 .7 .1 .1 .1 .8 0 .3 -.1 .7 .1 .6 .1 .5 -.1 .5 0 .6 .2 .7 -.1 .3 0 .6 .1 .3 0 .6 .1 .5 0 .4 0 .5 0 .6 .1 .6 .1 .4 -.1 0 .2 1.1 0 .3 0 .1 0 .7 0 .4 0 .2 0 .9 .1 .7 0 .6 .1 .5 -.1-.1 .1 1.1 0 .6 .1-.1 0 .9 .1 .5 0 1.4 -.1-.4 .1 .8 .1 .3 .1 .3 0 .8 0 .3 0 1 0 .1 0 .8 0 .2 .2 .5 0 .6 0 .7 -.1 .1 .1 .9 .1 .8 0-.5 .1-.5 0-.2 -.1-.6 .1-.5 0-.6 .1-.4 0-.4 -.1-.9 .2-.4 -.2-.3 .1-.3 0-.5 .1-.7 -.1-.5 .1-.5 0-.1 0-.6 .2-.4 -.1-.9 0-1 .1-.3 0-.7 0 .1 0-.4 .1-.1 0-.3 0-1.3 0-.1 0-.6 0-1 .1-.3 -.1-.6 .2-.3 0-.2 -.1-.6 .1-.7 0-1 .1-.5 0-.4 0-.5 .1-.2 .1-.6 -.1-.3 .1-.9 .1-.5 -.1-.6 .1-.6 0-.5 .1 0 0-.1 -.1-.7 .2-.4 -.1-1 .1-.3 .1-.7 0-.6 -.1-.8 .1-.4 .1-.8 0 .2 .1-1.2 .1-.2 0-.5 0-.2 0-.6 .2-.8 .1-.5 0 .1 .1-.9 -.1-.4 .1-.5 .1-.4 0-.6 0-.7 .1-.3 .1 .1 0-.8 0-.7 .2-.6 0-.4 0-.2 .1-.9 0-.4 .1-.9 .2-.6 .2-.4 .4-.7 .2-.5 .3-.7 .2-.2 .4-.4 .2-.6 .4-.1 .3-.4 .3-.3 .1 .5 .4 .1 .2 .9 .3 .4 .3 .7 .4-.5 .2 1.2 .4-.6 .2 1.1 .4 .4 .2-.2 .2-.4 .3-.9 .2-.4 .3 0 .3-1 .3-.4 .1-.2 .3 .1 .3-1.2 .2-.4 .4-.5 .2 0 .2-.8 .3 .1 .3-.6 .2-.4 .5-.3 .6-.6 .5 .3 .6 0 .5-.8 .5 .3 .5 0 .5-.4 .6 0 .4-.1 .7-.1 .4 .3 .4 .7 .4 .2 .5-.3 .5 .8 .3 .4 .5-.1 .4 .4 .4 1 .5-.3 .2-.5 .4-.8 .4 0 .4 .1 .2-.4 .4-1 .2-.3 .3-.6 .4 .2 .5-.4 .6 0 .5 .1 .5-.3 .5 .3 .5 .1 .6-1 .4-.3 .6 1.2 .5-1.1 .5-.1 .6 0 .4 .2 .7-.5 .4 .4 .6 0 .4 .2 .6 .2 .4-.4 .7 .7 .4 .1 .6 .4 .5 .2 .5 0 .5 .2 .5 0 .5 .4 .5 .3 .6-.1 .4 0 .3 .8 .6-.3 .3 .3 .4 .3 .4 .4 .6-.5 .3 .4 .5 .7 .4 .1 .4-.2 .5 .5 .4 .5 .5 .3 .4 .2 .5 .5 .2 0 .6 .2 .4 .6 .5 .6 .3-.1 .4 .1 .4 1 .5 .3 .3 0 .6 .2 .3 .8 .5-.1 .3-.1 .5 .4 .4 .6 .6 .5 .3 .1 .6 0 .4 .7 .5 .3 .5 .6 .4-.5 .1 .6 .1 .6 .1 .3 .2 1.3 .2 .3 .1 0 0 .8 .1 .6 .2 .1 .1 .8 .1 .8 .1 .5 .1 .3 .1 .7 .1 .3 .2 .1 0 .9 .2 .1 -.1 .6 .1 .9 .1 .3 .1 1.1 0 .1 0 .6 .1 .9 .1-.4 0 .7 .1 .1 .1 .5 0 .3 .1 1.1 0 .3 .1 .4 .1 1 .1 .4 0 .5 .1-.1 .1 1.1 0 .8 0 .7 0 .1 .1 .1 .2 1 -.1 .4 0 .2 .1 .9 -.1 .2 0 .4 .1 .3 .1 .9 0 .1 0 1.1 .1-.1 -.1 .7 .1 .5 0 1 0 .4 0 .3 .1 1.1 -.1 .1 .1 .9 -.1-.3 .1 1.2 .1-.3 0 1.3 0 .2 0 .2 .1 1 -.1 .5 0-.1 0 1 .1 .3 0 .9 0 .8 .1 .4 0 .3 0 .3 .1 .7 -.1 .8 0 .4 .1 .2 -.1-.1 .2 1 0 .8 0 .8 0 .4 0-1.2 .1-.4 0-.7 0 .2 .1-1.1 .1-.2 -.1-.8 .1-.5 .1-.5 0-.5 0-.5 .1-.3 .1-.5 0-1 -.1-.2 .2-.8 0-.5 0-.4 0-.1 .1-.7 .1-.4 0-.7 -.1-.6 .1-.4 .1-.4 -.1-.8 0-.6 .2-.4 -.1-.5 .1-.6 0-.9 0-.7 .2 .1 0-.4 -.1-.4 .1-.7 -.1-.3 .2-.9 -.1-.1 .1-.5 .1-.5 0-.3 0-.5 0-.9 0-.2 .1-.6 0-.5 0 .1 .1-.5 -.1-.9 .3-.6 0-.5 .1 0 .1-.6 .1-.9 .1-.3 0-.9 .1-.4 .1-.2 .1-.1 .1-1 .1-.7 .1-.3 .1-.5 .1-.5 0-.8 .1-.3 .1-.8 .1-.1 .2-.3 0-.8 .1-.8 .2-.1 0-1 .1-.5 .2-.8 0-.2 .5 .4 .1 .8 .3-.3 .4 1 .3 .4 .2 0 .4 .5 .2 .2 .4 .7 .2 .5 .4 .1 .2 .8 .1 .4 .2 .6 .2 .6 .1 0 .2 .7 0 .8 .3 .4 0 .5 .2-.1 .2 1.1 .1 0 .2 .5 .1 1.1 .2 .1 .1 .6 .2 .2 0 1 .3 .2 .2 .6 .1 .7 .2 .4 0-.2 .2 1 .2 .3 .1 .5 .1 .7 .1 .1 .3 .7 .1 .9 .1 .2 .2 .8 .1 .4 .1 1 .2-.7 .1 .9 .2 .8 .2 .3 0 .7 .1 .3 .2 .2 0 1.1 .2 .2 .1 .4 .2 .4 .1 .6 .1 .8 .1 .3 0 .5 .3 .9 0 .1 .1 .7 .2 .2 .1 .9 0 .2 .2 .2 .1 .7 .2 .3 0 1.3 .1-.4 .2 .7 0 .5 .2 1.1 0-.4 .2 1.2 .1 0 .2 .9 .1 0 .1 .8 0 .3 .3 .3 0 .8 .1 .4 .2 .3 .2 1.2 0 .2 .2 .2 0 1.2 .1 0 .1 .7 .2 .5 .2 .7 0 .5 .1 .5 .1 .3 0 .4 .1 .2 .1 .6 .2 .5 0 .7 0 .1 .1 .9 .1 .1 .2 .9 0 .2 .1 .9 .1 .4 .1 .5 .1 .8 .1 .1 0 .4 .1 .7 .1 .7 .1 .4 .1-.2 0 .5 .2 1.2 -.1 .2 .2 .7 0 .7 .2 .3 .1 .7 0 .2 .2 1.2 .1 .4 0 .5 .1 .4 0 .3 .2 1 .1 .4 .1 .1 0 .9 .1 .3 0 .2 .4 .5 .1 .6 .3 .3 .2 .6 .3 1 .2-.1 .2 .6 .2-.2 .3 1.4 .2 0 .3 .2 .3 1.2 .1 .5 .2 .3 .4 .6 -.1-.9 .2-.3 -.1-.4 .1-.3 .2-1.2 .1 .6 0-1.2 .1-.9 .1 0 0-.3 .1-.7 0-.5 .1-.9 .1-.5 .2-1 0 .2 .1-.7 .1-.6 0-.3 .1-.9 0-.4 .1-.5 0-1 .2 .1 0-1.2 .1-.1 .1-.6 .1-.3 0-.3 0-.6 .2-.5 .1-.3 .1-.7 -.1-.4 .2-.3 0-.3 .1-1.5 .2 0 0-.6 0-.1 .1-1 .1-.5 0-.2 .2-.4 .1-.6 -.1-.2 .2-1.1 0-.8 0 .9 .1 .7 .2 .9 0-.2 .1 .7 0 .6 .1 1 .1 0 .1 .2 .1 .8 0 .5 .1 .1 .1 .4 .1 1 0 .3 .1 .3 .1 .7 0 .3 .2 .7 .1 .4 0 .8 0 .5 .2-.2 0 .6 .1 .9 0 .2 .1 .8 .2 .3 0 .7 .1 .7 .1 .3 .1 .3 0 .8 .1 0 0 .7 .1 .6 .1 .4 .1 .7 .1-.1 .1 1.5 0-.2 .1 .8 .1 .6 .2 .5 .1 .4 .2 .3 .2 .6 .3 .7 .2-.5 .4 1.3 .1 .5 .3 .5 .2-.4 .3 .7 .4 .5 .2 .4 .3 .6 .1 .5 .3 1.1 .3-.1 .3 1.1 .2-.5 .3 1 .2 .1 .3 .4 .4 .1 .3-.7 .3-.2 .3-.6 .4-.2 .3-.7 .3-.3 .3-.4 .3-.3" stroke="#00ff00" stroke-width="2.3" fill="none" stroke-linejoin="round" stroke-linecap="round" clip-path="url(#cB)"/>
<path d="M259.6 124.6l0 2.8 .6-2.4 -.4-1.6 .9 2.3 -.6-.7 .2-3.6 -.4 3.1 .1-.3 0 1.6 .8-1.9 -.5 2 0 2.6 -.1-3.6 .4-.8 -.4 1.1 .4-1.8 -.2 2.5 .9 2.1 -.3-1.7 -.6 2.8 .8-1.6 .2-.4 -.2 1.2 -.7-1.9 1 .6 -.5 1 0 2.9 .1 1.8 -.1-3 .4 2.1 .2-4.5 -.5 2.5 .3 1.5 0 .4 0-2.9 -.6 2 .7-.4 .1 2.3 .3 1.1 -.2-.9 0 3.4 -.6-.5 .6-3.6 .1 1.1 -.5 2.6 -.1-4.2 1 0 -.1 2.6 -.7-1.2 .6 5 -.5 2 .5-4.2 .6-.2 -.6-.7 .2 1.1 .4-1.7 0-1.4 0 .1 .2 .8 -.2-1.6 .1 1.2 -.5-2 .1 2.4 0-1.1 .2 2.3 .1-4.2 .6 1.3 -.6-.2 .5 1.8 -.3-3 -.1-1.4 .1 1.2 .5 1.7 .3-2.7 .4 .2 -.1-1 .2-1.7 -.1 5.5 .2-5.8 -.8 1 .5-2 -.1 .8 -.3-1.2 1.1 2.6 -.6-1 1.2 .8 -.6 .4 .3-.8 -.1-.3 .4-.3 .1-.1 .3 .6 .3 .9 .4-.3 0 2.3 1 1 .2-3.3 -.6-.9 -.1-1.6 .9 0 -.7 2.2 .6-1.7 0-1.9 0 3.6 .1-.8 -.3 2.6 0-3.7 .9 .6 -.8-.4 .1-2.6 .1 .6 -.1-.1 .6-.4 0 2.6 -.3-3.9 .5 1 .3-.2 0-.6 .1 .4 -.5 1.1 .9-3.7 -.5 2.8 .2 1.4 -.2-3.6 .3 2.5 .4-3.1 -.5 2 .9-4.2 -.2 2.1 -.3 1.8 .6-2.2 .2 1.6 -.2 1.2 .3-.8 0 .4 -.3 1.2 .5-4.1 .4 4.2 -.8-4.8 .9 2.6 0 1.3 -.2-2 .4 .9 .2 4.1 .3-2.7 -.6 1.5 .3-2.5 0-1.5 .1 2.7 -.2-2.9 1.1 2.8 -.2-.8 .3-.6 -.7 0 .4 1.9 .4 .3 -.2-1.1 .6 .9 -.6-3.1 .9 4 -.1-4.2 .2-.9 .2 .5 -.3-3.1 .2 3.4 -.6 1 .4-3.8 .4 0 -.3 .6 .5 1.5 0-.8 .2-1.9 .2 2.1 -.4-1.1 -.1-.5 0-.4 0 .4 .7-3.3 .4 2.2 -.6 .7 .5-2.8 .4-1.7 -.1 2.8 .1 2.3 .3-3.5 -.2 0 .4-2.6 -.3 1.2 -.4 1.5 .3 .9 .4-2.5 -.3 1.5 .4-1.7 -.5 4 .8-1.7 .3 .8 0-.7 .4-.8 -.4 .1 .5 1.2 -.1-1.6 -.2-1.7 .8 2.2 -.3-2.1 .4-1.9 -.2 1 .2 .3 .1-3.1 .2 2.7 -.5 0 .2-.5 .8 1 -.4-3.6 .6 1.2 .2 .4 0-1.1 .3-1.3 .2 .3 -.8 2.4 .5-3.9 .6-.9 -.6 1.2 .1 .8 .7-1.8 -.1 1.4 -.5 .7 .2-3 .3 4.2 .8 .3 0 1 -.3-4.4 .8 4.2 .3-.4 -.3-.2 .4 0 .4-1.2 .3 3.7 .3-1.3 -.8-1.3 .3-1.8 .3 .5 .1 1.3 .1-.8 .3 1 .3 .3 .3 0 .2 .7 .4 .2 .5 3 -.5 .8 .7-5.7 0 1.9 .1-.1 .3 .2 0 .3 -.5 1.2 .5-.6 -.1-3.4 .5 0 -.3 1.5 .4-1.6 .4 .9 .2-.8 .2 .8 -.2-1.3 .4 3.3 .1-5.8 .4 3.4 -.1-.3 .3-1.2 .1 1.1 -.5-3.3 .4-.6 0 4.2 .2-4 -.1 3.6 .3-3.9 .2 1.9 -.3 1.4 .6 1.1 -.4-2.9 .5-2.8 0 2.7 .5 1.2 .3-4.9 -.2 .8 .1-1.4 -.2 1.7 1 1.1 -.6-2.2 .9 .1 -.8-1.6 .6 .1 -.2-1.8 .8 1.2 .4 1.8 -.7-3.2 .9 1.7 .1 .9 -.5-.7 .7 1.8 -.1-3.6 .1 2.8 -.2-1 .2-3.6 .3 1.4 .2 2.2 0-3.6 .2 4 0-5 .3 2.5 -.2 1.2 .4-2 .1 .2 .4-.3 -.4 3.3 .3-4 .8-.3 .2 4.1 -.8-4.4 .3-3.1 0 4.3 .4-2.7 .5-1.6 -.1 3.1 .3-.2 -.1 2.1 -.2-.2 .5-1.8 .6-1.4 0 1.5 .3-2.3 -.5 3.7 .9-.8 0-.3 .2-.1 -.5-.3 .4-.4 .7 3.5 -.2-5.3 .5-2.4 -.6 1.8 .4-.7 .6 1 .1 4.7 -.1-5.2 .5-4.3 -.4 4 -.3-.4 .9 1.5 .4-1.9 -.6-1.5 .1-3.3 -.1 3.5 .5 0 .3-3.2 .3 .9 .3 3.4 -.3 2 .2-1 .5-2.7 0 .1 .1 1.3 .1-2.7 .1 .6 .2-.9 .5-.4 .3-.4 0-.4 .5-.5 0-.9 .3 0 .3 .3 .3-1.9 .2 .8 .4-.9 .1-.3 .2-.2 .3-.5 .3-.6 .4 0 .1-.7 .1-.9 .4 .7 .3-1.3 0-.3 .4-.4 .2-.9 .4-.1 .2-.4 .2-.2 .3-.2 .3-1.4 .3-.2 .4-.2 .1-.1 .5-1.6 .1 0 .4-.8 .4 .6 .2-.4 .2-.1 .2-1.8 .4 .4 .4 .8 .4-1.5 .6-.5 .4-.2 .5 .2 .2-1.1 .7 0 .2-.2 .6 0 .5-1.4 .1 1.1 .7-1.5 .5 .3 .3 0 .5-.6 .4 .8 .6-.4 .2-.3 .6-1 .1-.8 .6 .5 .1-1.1 .5-.5 .6 .6 .1-1.7 .5 .1 .3 0 .3 .1 .6-.7 .3-.6 .3-.5 .3-.4 .4 0 .4 0 .5-.6 .6-.6 .5 .1 .1-.5 .6 .3 .5-.8 .5 0 .4-.6 .3-.7 .3 0 .5-.6 .2-.2 .5-.3 .3-.3 .5-1.4 .3 0 .2 1 .2 1.1 .2 .3 .5-.3 .1 1.6 .1-.1 .2-.9 .3-.4 -.1-.3 .4-.7 0-.9 .2 0 .1-1 0 .4 .4-1.3 0 .3 .2-.4 0-.8 .1-.3 .2-.3 .3-.1 .1-.9 .2-.4 0 .3 .2-.9 .1-1.2 .2-.9 .1-.3 .1-.2 0-.6 .3-.8 .2-.9 .2-.2 0-.9 .3 .5 .1-1.5 .1-.2 0 .4 .3-2.3 0 .9 .4-.9 .1 .3 .1-.6 0-1.4 .3 .5 0-.8 .2 0 .3-.4 0-1.3 .2-1.4 .1 .6 .1 .2 .4 .8 .1-.9 .1 1.5 .4 .4 0-.1 .3 .8 .1 .3 .2 .3 -.1 .7 .2 .6 -.1 .5 .1 .4 .1 .3 0 .6 .1 .5 -.1 .6 .2 .3 -.1 1 .1-.1 .1 .6 .1 .3 0 1 .1 .7 0 .4 0 .4 0 .8 .1 .5 .1 .1 0 .4 0 .4 .1 .9 0 .2 .1 .5 .1 .5 0 .6 0 .4 .1 .4 0 .7 .1 .5 0 .9 0-.1 .1 .9 0 .1 0 1.1 .1 0 .1 .6 0 .5 .1 .8 0 .6 .1 .5 0 1 .2 .8 0 .2 0 .5 .1-.3 .1-.9 0-.1 .1-.6 0-.6 .1-.2 .1-.7 .1-.3 0-.4 .1-.2 0-.9 .2-.2 0-.4 .1-1.1 0 .1 .1-.9 0-.7 .1-.5 .3-.3 .2-.7 .1-.6 .4-.3 .1-.1 .2-.5 .3-.6 .1-.3 .4-.4 .3-1 .2-.8 .4 .5 .3-.7 .3-.8 .3-.3 .3-.5 .2-.3 .3-.5 .3-.1 .4-.4 .2-.1 .4-.7 .3-.4 .4-.6 .2-.3 .4-.7 .2-.2 .4 0 .4-.9 .2-.1 .4-1 .2-.2 .4-.2 .4-.6 .3-.4 .3-.1 .4-.2 .4-1 .5 .1 .4-.4 .3-.1 .4-.4 .5-.4 .4-.6 .3-.6 .4-.3 .5-.2 .4-.1 .4-.2 .4-.4 .4-.6 .3-.3 .5-.1 .4-.2 .4-.4 .5-.3 .4-.1 .4-.4 .4-.6 .4-.3 .5 .2 .3-1 .5-.1 .4-.6 .5 .1 .3-.3 .5-.4 .4-.9 .5 .3 .4-.4 .4 0 .4-.5 .4 .1 .4-.7 .4-.4 .5-.3 .3-.2 .5-.9 .4 .6 .4-.9 .4-.4 .4-.1 .4-.6 .4 .1 .4-.6 .4 0 .4-.6 .3-.3 .5-.3 .5-.5 .3-.4 .4 .2 .4-.5 .4-.6 .4-.2 .5-.3 .3-.5 .4-.3 .5-.4 .3-.4 .4-.7 .4-.1 .5 0 .3-.7 .5 0 .4 0 .4-.4 .4-.4 .4-.4 .5-.1 .4-.5 .5-.4 .3 0 .5-.6 .4 0 .5-.1 .4-.3 .4 0 .4-.4 .5-.7 .4 .4 .3 .2 .4 1.1 .2 .2 .3 .6 .4 .4 .2 .6 .1 .4 .2 .6 .1 .4 .1 .6 0 .6 .2 .1 .1 .1 .1 .6 .1 1.3 0 .3 .2-.6 0-.6 .2-.2 .1-.6 0-1 .1-.3 .2-.1 0-.9 0-.4 .2-.5 0-.8 .1-.4 .2-.3 0-.9 .1 .3 .1-.9 .5-.3 .6 .3 .5 .1 .5-.1 .5 0 .5-.3 .6-.2 .4-.2 .5 .5 .5-.6 .6 .3 .5 .1 .6-.3 .1 .4 .3 .1 .3 .9 .3 .1 .4 .3 .3 .5 .3 .7 .2 .4 .3 .4 .3 .1 .4 .6 .1 .6 .2 .4 .1 .9 0 .4 .1 .3 .1 .8 0 .4 0 .5 .1 .5 .1 .2 .2 .4 0 1 0 .6 .2 .3 -.1 .2 .2 .7 .1 .4 0-.1 .1 1.6 .1 .3 .1 .1 0 .8 0 .5 .1 .2 0 1.1 .1-.5 .1-.6 .1-.3 .1-.7 0-.2 0-.6 .1-.7 .1 0 .1-.9 0-.5 .1-.7 .1-.5 .1-.2 0-1.3 .1-.2 .1-.2 0-.4 0-.6 .1-.4 .1-1.1 .1-.1 0-.2 .1-.6 0-.2 0-1.1 .2-.4 .1-.7 0 .3 .3-1.2 .5 .1 .4-.7 .4-.9 .4 .2 .3 0 .4-.6 .4-.2 .4-.3 .4 .3 .4-.1 .3 .6 .4-.2 .3 .6 .4 .5 .4 .4 .4 .1 .3 .6 .4 .8 .4 .1 .4 .1 .4 .6 .3 .7 .2 .3 .1 .5 .2 .1 .1 .5 .2 .7 .1 .2 .2 .4 .1 1.1 .2 .4 0 .4 .2 .7 .2 .5 .1 .1 .2 .4 .1 .3 .2 .7 .1 .6 .2 .6 .1 .4 .2 .2 .1 .5 .1 .4 .2 .8 .1 .4 .1 .7 .3 .1 .1 1.2 .1 .1 .1 .9 .2 .3 .2 .4 .1 .3 .1 .7 .2 .6 .1-.1 .2 .6 .1 .7 0 .4 .1 .6 0 .6 .1 .3 .1 .7 .1 .3 0 .9 .1 .3 0 .1 .1 1.1 .2 .2 -.1 .8 .1-.3 .1 1.2 .1 .1 0 .7 0 .2 .1 .3 .1 .9 .1 .5 .1 .2 0 .6 .1 .5 .1 .6 -.1 .5 .2 .3 .1 .2 .1 .9 0 .4 0 1.2 .1 .5 .1 .2 .1 .3 .1 .7 0 .4 0 .3 .1 .9 .1 0 0 .9 .1 .3 0 .7 .1 .4 .1 .7 .1 0 .1 .6 0 .5 .1 .2 0 .9 .1 .3 .1 .5 .1 .7 0 .3 0 .6 .1 .6 .1 .3 .1 .7 0 .6 .2 .4 -.1 .4 .1 .7 .1 .2 .1 .9 .1 .1 0 .8 0 .2 .1 .6 .1 .4 .1 .3 .1 .7 0 .1 .1 .7 .1 1 0 .5 0 .4 .1 .5 .1 .8 .1-.2 0 .3 .1 .9 .1 .6 0 1 .1 .3 .1 .5 0 .4 .2 .6 0 .8 0 .5 .1 .4 .1 .4 0 .5 .2 .5 0 .1 0 .5 .1 .7 .1 .4 0 .5 .1 1.1 .2 .4 0 .7 .1 .7 .1 .3 0 .5 0 .8 .2 .7 .2-.2 0 .6 0 .8 .2 .3 .1 .1 .1 .7 .1 .8 .1 .9 .1-.1 .1 .9 .1 .3 0 .4 .2 .7 .2 .2 -.1 .8 .2 .1 .1 .8 .1 .2 .1 .9 0 .3 .2 .9 .2-.2 0 1.4 .1 .5 .2 .6 .1 .2 .2 .6 0 .4 .2 .4 0 .6 .1 .8 .1 .1 0 .7 .3-.4 .3-.6 .2-.3 .3-.1 .1-.7 .3-.7 .2-.4 .3 .1 .2-.8 .3-.4 .2-1.1 .3 .1 .2-.7 .1-.4 .3-.5 .2 .3 .3 .4 .2 1 .3 0 .1 .7 .3 .2 .2 .7 .2 .2 .4 .4 .1 .6 .2 .7 .3 .1 .3 .8 .2 .4 .2 .4 .2 .7 .3 .5 .2 .3 .2 .5 .2 .3 .3 .7 .2 .1 .2 .8 .4 .1 .1 .8 .3 .1 .2 .6 .3 .6 .2 .1 .2 .4 .5 .6 .6-.2 .6-.1 .7 .2 .5-.1" stroke="#0000ff" stroke-width="2.3" fill="none" stroke-linejoin="round" stroke-linecap="round" clip-path="url(#cB)"/>
<path d="M259.8 144.1l.3 .6 -.8 2.7 .3-3.6 -.1 3.6 .1-8.3 .1 5.8 -.3 3.7 0-7 .1 6.1 .1-2.5 .8 5.7 .1 .1 -.8-5.7 .1-1.8 .6 5.3 -.3 2.4 -.3-7 .7 5.7 -.3-1.3 .5 1.2 .4-4 -.6 1.5 -.1 4.5 .9 .3 -1.1-.2 .6-2.4 -.1-.4 .3 2.8 -.1-3 -.4 1.5 0 1.9 1-4.8 -.5 2.4 .3 2.2 -.1-.8 .6 2.6 -.7 2.7 .4-3.1 -.1 1.9 .5-4.1 -.3 2.4 .3-2.4 .2-.1 .5-1.8 -.3 5.5 0-5.4 -.4 1.5 -.1 .4 .7 .7 0-2.5 -.6-.6 1.2-1.7 -.9 4.6 .9-3 -1-2.2 .6 1.4 .3-.4 -.2 3.8 -.1-5.1 .3-.3 .2-.2 -.1 2.1 .4-5 0 5.2 -.6-1.7 .8 4.4 .1-5.8 -.8 3.3 .5-1.3 -.5 4.1 .8-2.7 -.8 2.7 0-1.8 .2-2.9 .9 2.8 -.3 2.9 .3-.7 -.5-3.5 .1 3.6 -.2 0 .3 .4 -.1-.6 1.1-.2 -.3 .1 0-.3 -.1 3.1 -.7-3.4 .3 .7 .2 3.1 -.3 .4 .4-2.1 .9 1.5 -.5 .3 -.5 2.4 .5-2 0 5.3 .6-7.5 -.5 1.4 .6 1 .3 .8 -.8-3.9 .8 2.4 0-2.5 -.6 5.4 .4-2.6 -.3 2.9 -.2 0 .2 .1 -.4 1.7 .3-1.3 .7-6.6 -.7 6.3 .7-.6 .1-4.5 .2 2.2 -.7 3.5 -.1-4.1 .7 4.6 .5-5.7 -1 4.1 .3-2.8 -.5 6.1 0-6 1.3-2 0 6.2 -.1 0 -.4-.4 -.6-2.7 .7 7.6 .6-2.2 -.8-4.4 -.1-3.1 .4 3.7 .5 3.8 0-1.1 .1 0 -.8 7.2 .5-1.9 -.6-4.5 1 1.1 -.8-3.3 .9-.9 -.7 4.5 .4-1.4 .8 3.4 -.5-2.2 -.6-.3 1.1 1.6 0-4 -1.1 3.1 1-1.9 -.5-3.4 0 4.3 .2-1.2 -.1-2 .1 1.5 .2-.5 -.3-1.3 .9-2.6 -.5 3.5 -.3-1.6 .8 1.5 -.7-.3 0 1.2 -.1-1.1 1 .8 -.9-3.1 .8-1.4 .2 7.2 -.3-4 -.5-.2 0-.4 -.1-4.1 .9-2.4 .3 1.8 -.1 1.1 -.1 4.7 -.6 .1 .4 .9 .2-2.9 -.9-.6 1.3-3.7 -.2 5.4 .2-2.5 -.4-1.3 .3 2.5 .2-3.7 -.7 4.5 .3-.8 .4-1.8 -.8-1 .2 2.3 -.2-2.9 .6 2.9 -.2-1.3 .7 1.1 -.2-2.2 -.2 1.3 -.5 2.6 .6-.5 -.3-4 .4 3.5 -.4-3.4 0-4.5 .6 .7 -.9 .7 1.1 1.3 -.9-.3 1.1-.2 -.4-2.6 .4 2.8 -.7-1.6 -.1 4.8 .6-3.2 -.2 1 0-2.3 .6 .4 -1-2.6 .8 3.1 .4-2.3 -1.2-1.6 1.3-2.2 -.2 6.8 0-2.5 .4-1.4 -1-2.7 .1 6.1 .5-5.5 .6 .9 .1 1.6 0-.6 .4-.6 .1-.4 -.2-3.9 .2 4.8 -.6-1.7 .1 1.6 -.2 2.1 .3-.9 -.1 .4 .5-1.8 .7-3.8 -.1 4.3 .1-.9 .4 2.5 -.3 1.7 -.5-8.2 1.2 2.8 -.8-1.1 .5 1.3 -.1 3.4 .8-1.1 -1 1 .3-5 .6-2.7 -.3-.4 .5 4.4 -.1-3.3 -.4 4.9 .8-3.9 -.1-.4 -.2 1.7 .4 .5 -.6-2.1 .8-.7 .3 3.8 -.5-5.9 1 1.1 0 .8 -.8-.3 1.1-2.6 -.9 4.1 .8-2.6 -.2 3 -.5-4.4 .6-4.9 .8 7.3 -.8-5.1 .8 3.7 .1 3.1 -.1-4.5 -.5 .7 .2 .3 .2-.3 .2-2.4 .3 1.4 .1 2.2 .3 1.8 .2-6.2 -.2 1.3 -.6 .4 .3 4.7 -.1-3.4 1.1-3.4 -.7 1.7 .1-.1 0-.5 -.2 3.9 .7-1.7 .7-4.2 -.7 .4 0-2.2 .5 2.5 -.4 3.3 .9-6.9 -.9 2.5 .1-1 1.5 3.4 -.6 .1 .3-3.5 -.1 .4 -.1 3.9 .5-2.6 -.4 .7 .8-.4 -.3 1.2 .3-3.7 -.2 .8 .6 .8 -.6 3.7 1-2.7 -.6 .1 .4-1.5 .3 1.7 .6-3.5 -.2 2.7 -.8-1.8 1.3 1.9 -.9-3.1 .1 5.1 .3-6.2 .2 2.6 .4-2.6 .2 1.4 -.8-.4 .4 1 1.2-4.2 -.1 2.7 -.7 1.3 0 .6 1.3 1.3 .2-2.2 -.7 1.2 .8-1.3 .2 1.6 0-.5 0-.3 -.7 1.2 .5-.4 .1-4.7 -.1 6.4 .7-1.6 .4-3.5 -.6-1.9 .8 1.9 .2-.6 0-2.2 -.8 4.1 1.1-.5 .3 1.1 -.8-1 .5 4.2 .7-3.9 -1-2.6 1 .3 -.6 5 0-6.8 1.4 2.7 -.2 4.6 .1-4.3 -.1-2 .8 2.1 -.4 .7 .7-.9 -.3-3 -.2-3.8 .5 5.4 -.8-1 .7 .7 .6-.4 -.4 .3 0-3.9 .4 .9 .3 2.2 -.5 3.5 1.1-1.6 .3-2.5 -.7-.3 -.2-2.8 .8 5 -.6-.7 .3-3.3 .9 2.6 0-1.9 0 1.2 .5-3.2 -.7 2.3 .7-1.3 -.2-1.2 1 1 -.8-.5 .1 .4 .4 .5 .6 2.9 .3-4.2 -.2 4.2 0-2.7 0-1.9 .1-2.5 .8 6 -.4-2.8 .1-1.3 .4-2.7 0 4.4 -.2-2.4 .4 .3 -.2 1.4 .7-3.7 .4 2.4 -.4-2.5 -.2 2.5 1 .3 -.2-3.4 .1 2.4 .5-2.6 .2 3.2 -.2-3.2 .5 .7 -.3 .3 .5 .1 -.1 .4 .2 0 .4-2 .1 2.6 0-1.5 .2-1.2 .7 0 0 1.3 .2-.8 -.1 .7 .4-2.5 .4 .5 -.2-1.5 .8 1.1 -.3-1.2 .4 1.1 .3-1.1 .5-3.1 -.3 1.7 .2 2.1 .5-2.7 -.2 .9 .1-1.2 .6-1.7 .4 .7 -.3-.6 .2 1.2 .8-.8 -.2-.1 .4 1.1 .3-.4 .2 0 0 1.2 .5-1.8 .5 1.4 -.1-.3 -.1-1 .5 .9 .2-3.6 .2 3.7 .3-2.9 .1 .6 .5 0 -.3 .4 .6-3.8 .1 .2 .2 2.9 0-3.1 .6 2 .1-2 .7 .5 .1 .8 .3-1.8 .6-1.9 .1 .9 .5 .9 .1 .7 .7-.9 0-.7 .6-1 .1-1.7 .2 2.1 .4-1.9 .3-.3 .4-.5 .4-.3 .4-.9 .3-.1 .5-.4 .4-.4 .5-.4 .4-.1 .3-.5 .5-.2 .4-.5 .4 .2 .3-1.4 .4 .1 .3-.8 .3 .1 .4-.2 .3-.2 .2-1 .4-.1 .4-.7 .2-.2 .3-.3 .4-.6 .4-.2 .2-1 .4 .3 .4-.9 .2-.1 .3-.6 .4-.2 .3-.3 .3-.9 .3-.2 .4-.1 .2 .3 .5-.8 .2-.5 .4-.5 .3-.7 .3-.2 .3-.2 .3-1.3 .3 .4 .4-.6 .3-.9 .3-.2 .4 .3 .3-.5 .3-.4 .3-.8 .3-.1 .3-.5 .3-.4 .4-.4 .3-.7 .3-.3 .2-.4 .4-.5 .2-.5 .1-.4 .2-.8 .3-.1 .2-.6 .2-.6 .2-.2 .2-.9 .2-.3 .2-.3 .2-.1 .1-.4 .3-.6 .2 .1 .3-1.1 .1-.3 .2-.7 .2-.7 .3-.2 .2-.6 .1-.4 .3-.7 .2-.3 .2-.4 .2-.9 .2 0 .3-.9 .1-.1 .3-.5 .2-.7 -.1-.4 .3-.9 .2 0 .1-.7 0-.8 .1-.1 .3-1.1 0-.1 .2-.3 .2-.4 .1-1.1 .1-.1 .2-.3 .1-.9 .1-.6 .1-.5 0-.3 0-.3 .1-.6 .1-.6 .1-.2 .2-.8 -.1-.5 .1-.8 .1 .5 .1-.9 .1-.6 .1-.9 .1-.3 .1-.4 0-.6 .1-.3 0-1.1 .1-.3 .2 0 0-1.1 .1-.8 .1-.5 .1-.5 .2-.2 .2-.4 .1-.5 .2-.6 .1-.7 .3-.4 0 .9 0 .7 0 .5 0 .2 -.1 .6 .2 .7 -.1-.3 .1 1.2 -.1 .7 .1-.1 .1 .3 0 .8 0 .7 -.1 .7 .1 .8 0 .1 .1 .3 0 1 0 .7 0 .1 0 .3 .1 .6 -.1 .8 .1 .4 0 .5 .1 .3 0 1 0 .1 0 .4 0 .8 .1 .8 -.1 .8 0 .2 .2 .6 0 .4 -.1 .8 .1 .6 -.1 .2 .1 .4 0 .8 0-.3 .1 1 0 .2 0 .8 0 .1 0 .6 .1 .8 0 .7 0 .4 -.1 .3 .1 .6 .1 .8 -.1 .3 0 .3 .1 .6 0 .8 0 .5 0 .1 -.1 1 .1 .1 0 1 0 .6 0 .6 .1 0 0 .8 0 .5 .1 .4 -.1 .6 0 .9 .1 .2 0 .3 .1 1 -.1 .3 .1 .7 0 .3 -.1 .7 .1 .3 0 .1 0 .8 0 .1 0 1 0 .3 .2 1.1 0-.2 0 .4 0 1.3 0 .1 0 .8 .1 1.4 -.1 0 .2 .1 -.1 .8 .1 .9 -.1 .6 0-.1 .1 .7 0-.4 .1-.2 .1-.8 -.1-.2 .1-1 0-.6 .1 .1 0-.7 0-.6 .1-.5 .1-.1 0-1.2 0-.6 .1-.1 0-.6 .1-.6 .1-.3 -.1-1.2 .1 0 0-.2 0-.9 .1-.1 0-.4 .1-.5 0-.4 0-.5 .1-.9 .1-.3 -.1-.3 .2-1 -.1-.6 .1-.8 .1-.3 .2-.5 0-.4 .2-.3 .1-.7 .1-.6 .2-.4 0-.7 .2-.4 .1-.2 .1-.9 .2 0 0-.8 .3-.7 .1-.2 .1-.4 .1-.2 .5-.7 .4-.4 .4-.6 .5 0 .2-.7 .4 .6 .4 .1 .5 .5 .3 .2 .3 .7 .4 .3 .2-1.2 .2 .1 .3-.8 .3-.2 .1-.6 .4-.2 .1-.2 .3-.6 .3-.4 .2-.6 .2 .3 .2-1.6 .3 .1 .2-.4 .2-.4 .2-.8 .3-.2 .4-.5 .4-.3 .5-.4 .3-.3 .4-.2 .4-.2 .4-.5 .5-.1 .3-.4 .4-.1 .5-.4 .3 0 .5-1.1 .4-.5 .5-.1 .3-.3 .4 .2 .4-.6 .3-.8 .3-.5 .4 .2 .2-.7 .4-.2 .4-.9 .3-.3 .4-.6 .2-.1 .4-1.1 .4 .5 .3-.4 .2-.4 .4-.6 .3-.1 .3-.6 .3-.4 .4-.1 .3-.3 .3-1 .2-.5 .3-.2 .3-.1 .3-.7 .2-.5 .4-.5 .3-.7 .3 0 .3-.3 .3-1.1 .2 .1 .4-.2 .3-.4 .1-.4 .3-.3 .3-1.2 .4-.6 .2 0 .3-.1 .4-1 .2 0 .4-.2 .2-.3 .3-.6 .5 0 .3-1 .3 .3 .3-1 .2-.7 .4 .1 .3-.3 .4-.2 .3-.5 .3-.9 .4-.3 .2-.3 .5-.5 .2 0 .4-.6 .3-.6 .4 .3 .3-.8 .2-.3 .4-.9 .4-.6 .3 .3 .3-.8 .3 .2 .2-.5 .4 .1 .3-1.1 .3-.5 .5-.3 .3 .2 .2-1.1 .3 0 .3-.2 .3-.5 .3-.9 .5 0 .3-.3 .2-.5 .4-.5 .3-.1 .4-.7 .2-.9 .3 .3 .4-1.2 .4 .4 .2-.4 .1 .4 .1 .9 0 .1 .1 .3 .1 .9 0 .3 .2 .4 -.1 .8 .1 .6 .1-.1 .1 .5 .1 .9 0 .8 .1 .2 0 1 .1 .2 0 .3 .2 .5 .1 .2 -.1 .8 .2 .4 .1 .3 .1 1 0-.1 0 .2 .2-1 -.1-.5 .1-.2 .1-1 0-.2 .1-.6 .1-.8 0-.6 .1-.7 0-.3 0-.4 .2-.4 0-.6 0 .2 .1-1.4 0-.6 .1 .1 .1-1 -.1 .2 .1-1 0-.4 .2-.5 .1-.6 -.1-.8 .1-.3 0-.6 .1-.3 .1-.3 0-.7 0-.5 .1-.8 0-.3 0-.9 .7-.2 .4 .1 .4 0 .5 .1 .5-.6 .6 .3 .6 0 .4-.3 .5-.3 .5 0 .5 0 .5 .3 .5-.7 .6 .3 .2 0 .2 .5 .3 .8 .4 .4 .3 .3 .3 .1 .3 .6 .3 .4 .2 .1 .4 .6 .2 .4 .3 .6 0 .8 .1 .3 -.1 .5 .1 .5 .1 .9 0 .3 0 .7 .1 .7 0-.2 .1 .7 .1 .6 -.1 .6 .1 .3 0 .5 .1 .5 -.1 .6 .1 .2 0 1 .1 .7 0-.3 .1 .8 0 .4 .1 .8 -.1 0 .1 1 .1 .1 .1 1.4 -.1 0 .1 .8 .1 .7 0-.3 0 .4 .1 1.3 0-.1 0 .8 0 .2 .1 1.1 .1-.1 -.1 .6 .2 .7 -.1 1.1 .1-.3 0 .6 .1 0 0 .7 0-.2 .1-.5 0-.5 .1-.4 0-1.1 .1 0 0-.6 -.1-1.1 .1-.1 .1-.6 -.1-.6 .2 0 0-.4 -.1-.8 .1 .1 0-.8 0-1 .2-.4 0-.2 0-.6 0-.2 0-.7 .1-.2 .1-1 0-.3 0-.3 .1-.5 0-.7 .1-.4 -.1-.5 0-.7 .1-.3 .1-1 -.1-.2 .2-.8 0-.5 0-.4 .1-.1 -.1-1.1 .2-.3 0-.3 0-.8 -.1-.3 .1-.8 0-.4 .1-.9 0-.1 .1-.3 0-.5 .1-.2 0-1.7 -.1 .3 .6-.8 .5 .2 .4-.1 .5 .2 .5 0 .5-1 .5 .1 .4-.1 .4-.8 .6-.3 .5 .2 .2 .3 .4-.1 .3 1 .2 0 .5 .6 .2 .1 .4 .4 .3 .4 .4 .1 .2 .8 .5 .5 .2 0 .4 .7 .3 0 .4 .4 .2 1 .2 0 .3 .9 0 .4 .1-.2 .3 1.3 .1 .5 .1 .2 .1 .8 .2 .5 .2-.1 .1 .7 .1 .8 .2 .5 .2 .5 .1 .2 .2 .6 0 .2 .3 .6 0 1.1 .2 .2 .2-.1 .1 1.5 .2-.1 .2 .5 0 .8 .2 .3 .2 .9 .1-.2 .1 .6 .2 .8 .2 .2 .1 1 .2-.4 .1 1.2 .2 .3 .1 .2 .1 .9 0-.2 .1 .5 .2 .7 .1 .8 .1 .4 .1 .4 .1 .2 .1 .7 .1 .2 0 1.1 .2 .1 .2 .7 0 .2 0 .9 .2 .2 .1 .8 .1 .9 .1-.1 0 .6 .2 .9 .1 .4 .1 .3 .1 .5 .1 .7 .1 .5 .1 .1 0 .7 .1 .4 .2 .4 0 1 .2 0 .1 .5 .1 .4 .1 .6 .1 .4 0 .6 -.1 .3 .1 .7 .1 .1 0 1.1 0 .6 0 .3 0 .4 0 .8 .2 1.2 0-.1 0 .3 0 .8 .1 .3 0 .6 -.1 1.1 .1 .1 .1 .5 0 .9 -.1-.2 .1 1.3 0-.1 0 .8 .1 .1 0 1 .1-.3 0 .9 .1 .4 0 .6 -.1 .4 .1 .9 0 .3 0 .8 0 .1 .2 .4 -.1 .8 0 .7 .2 .4 0 .9 0 .4 0 1.1 0-.3 0 .6 0 .5 .1 .7 0 .3 0 .4 .1 .5 .1 1 0 .1 -.1 .3 0 1.2 .1 .1 .1 .9 -.1 .1 .1 .4 0 .2 .1 1 -.1 .9 .1 0 0-.8 .1-.2 0-.6 0-.4 -.1-.6 0-.6 .1 0 0-.8 .1-.7 0 .1 -.1-.7 .1-.4 -.1-.8 .1-.3 -.1-.7 .1-.6 .1-.1 0-.5 -.1-.8 0-.4 0-.7 .1-.3 .1-.1 -.1-1.1 0-.6 0-.7 0-.6 .1-.1 0-.8 .1-.3 0-.6 -.1-.7 .1-.8 0 .1 0-.8 0-.3 0-.6 0-.6 0-.7 0-.4 .1-.7 -.1-.7 0-.1 .1-.8 0-.5 -.1 0 .1-.8 .1-.7 0-.3 -.1-.6 0-.5 0-.9 0-.9 .1 .5 .1-.8 -.1-.5 .1-.2 0-.8 0-.6 0-.7 .1-.6 -.2-.4 .1 .3 .1-1.6 -.1-.3 .1-.5 -.1-.4 .1-.1 .1 .2 0 .6 0 .6 0 .2 .1 1.2 .1 .6 0-.2 -.1 .6 0 .9 .2-.1 -.1 .4 .1 .8 0-.1 0 1 .2 .6 -.1 1.2 .1 0 .1 .5 -.1 .6 .1 .3 0 .3 0 .6 0 .4 .1 .9 .1 .1 -.1 .8 .1 .7 0-.4 0 1.2 .2 .3 -.1 .7 .2-.3 -.2 1.6 .2-.2 -.1 1 .2 0 -.1 1.3 .1 .3 0 .2 0 .4 .1 .7 0 .5 0 .4 0 .5 .1 .3 .1 .4 0 .6 0 .3 .1 .3 0 1 0 .4 .1 .6 0 .8 0 .3 0 1 .1-.3 0 .8 0 .8 0-.1 .2 1.2 -.1 .2 0 .5 .1 .3 .1 .7 0 .5 .1 .9 -.1-.1 .1 .4 0 .6 0 .6 .1-.1 .1 .7 0 .7 0 .4 .1 .7 0 .5 0 .9 0-.3 .1-.8 .1-.4 .1-.3 0-.7 .2-.7 -.1-.6 .1-.4 .1-.2 .1-.7 0-.9 0-.3 .1-.5 .2 .3 0-1.3 0-.4 .2-.1 -.1-.8 .1-.9 .1 .1 0-.5 .1-1 .1-.3 .2-.4 -.1-.9 .1 0 0-.4 .2-.4 0-1.1 .1-.5 .1 .1 .1-1.1 0-.9 .2-.4 -.1-.7 .1-.8 0 .1 .1-.7 .1-.1 .2-.5 -.1-.9 .2 0 .1-1.1 0-.3 0-.3 .1-.5 .1-.6 .1-.8 0-.1 .1-.7 0-.5 .2-.5 -.1-.4 .1-.2 .1-.4 -.1-1 0-.2 .2-.8 -.1-.2 .1-1.1 0-.5 .1 0 0-.6 0-.8 .1-.5 0 .3 0-.6 .1-1.2 .1-.7 0-.5 0-.9 .1-.1 0-.7 .1-.1 0-1.2 0-.2 0 .1 .1-1 .1-.2 -.1-.8 .1-.3 .1-.4 0-.3 0-.7 .1-.8 0-.6 0-.1 .1-.6 0-.3 0-.8 0-1 .1 .1 .1-.9 -.1-.2 0-.8 .1-.1 .1-.5 .1-.4 0-.6 .1-.5 -.1 .7 0 .5 .1 1 .1 .3 0 .2 0 .9 0 .6 0 .6 0 .3 .1 .5 0 .5 0 .1 0 .3 .1 .6 0 1.2 0 .3 0 .4 .1 .5 0 1.1 .1-.4 0 .7 0 .5 .1 .6 0 .5 0 .9 0 .7 0 .2 .1 .6 0 .1 .1 .8 0 .8 -.1 .5 .1 .7 0-.1 0 .7 .1 .1 0 1.2 0 .5 .1 .1 .1 .8 -.1 .4 0 .5 .1 .9 0 .3 -.1 .6 .1 .3 0 .7 .1 .2 0 1 0 .1 0 .6 .1 .9 .1 0 0 1.1 -.1-.1 .1 .8 0 .3 .1 .7 -.1 .1 0 .8 .2 .7 -.1 .1 0 .8 .1 .2 .1 .9 -.1-.4 .1 .8 0 .5 0 .7 .1 .7 0 .2 0 .4 0 1.1 0 .1 0 .7 .1 0 -.1 .8 .1 .9 .1 .6 0 .5 .1 .2 -.1 .5 .1 1.2 0-.1 .1 1 0 .2 0 .8 0 .2 0 .8 .1 .3 -.1 .6 .1 .6 0 .4 0-.1 .1 .7 0 .9 0 .1 0 .7 .1 .4 -.1 .2 .1 .8 0 .4 .1 .8 0 .5 .1 .1 -.1 .4 0 1 .1 .5 0 .2 0 .6 0 .9 .1-.1 0 .7 .1 .2 -.1 1 0 .1 .1 1 -.1 .2 .1 .6 0 .4 .1 .7 -.1 .4 0 .7 .1 .7 .1 .3 -.1 .2 .2 .7 -.1 .5 0 .6 .1 .4 0 1.3 0 .1 .1 .4 0 .8 -.1 .1 .2 1 -.1-.3 .1 .6 .1 .7 .2 .9 .3 0 .3-.4 .5 1.5 .2-.1 .4 .7 .3 .1 .3 .4 .4 .7 .3 .7 .4 0 .2 .5 .4 .3 .3 .3" stroke="#8000ff" stroke-width="2.3" fill="none" stroke-linejoin="round" stroke-linecap="round" clip-path="url(#cB)"/>
<path d="M261 95.8 L341.2 0.8" stroke="#ff00ff" stroke-width="2.2" stroke-dasharray="7 4.5" stroke-dashoffset="0" fill="none" clip-path="url(#cB)"/>
<path d="M259.5 134.9 L374.4 0.8" stroke="#ff00ff" stroke-width="2.2" stroke-dasharray="7 4.5" stroke-dashoffset="0" fill="none" clip-path="url(#cB)"/>
<path d="M259.3 160.4l35.1-39.1 18.7-22 30.7-36.5 33.6-38" stroke="#000" stroke-width="2.2" fill="none" stroke-linejoin="round" stroke-linecap="butt" stroke-dasharray="7 4.5" stroke-dashoffset="5.75" clip-path="url(#cB)"/>
<path d="M259.3 160.4l35.1-39.1 18.7-22 30.7-36.5 33.6-38 20.6-23.8 1-1" stroke="#ff00ff" stroke-width="2.2" fill="none" stroke-linejoin="round" stroke-linecap="butt" stroke-dasharray="7 4.5" clip-path="url(#cB)"/>
<path d="M260 27 L260 86" stroke="#ff00ff" stroke-width="2.2" stroke-dasharray="7 4.5" stroke-dashoffset="0" fill="none" clip-path="url(#cB)"/>
<rect x="259.2" y="0.8" width="184.9" height="185.1" fill="none" stroke="#000" stroke-width="1.5"/>
<path d="M285.8 185.9V181.4M285.8 0.8V5.3M338.9 185.9V181.4M338.9 0.8V5.3M391.9 185.9V181.4M391.9 0.8V5.3" stroke="#000" stroke-width="1.4" fill="none"/>
<path d="M312.3 185.9V177.9M312.3 0.8V8.8M365.4 185.9V177.9M365.4 0.8V8.8M418.5 185.9V177.9M418.5 0.8V8.8" stroke="#000" stroke-width="1.4" fill="none"/>
<path d="M259.2 150.6H263.7M444.1 150.6H439.6M259.2 80.1H263.7M444.1 80.1H439.6M259.2 9.5H263.7M444.1 9.5H439.6" stroke="#000" stroke-width="1.4" fill="none"/>
<path d="M259.2 115.3H267.2M444.1 115.3H436.1M259.2 44.8H267.2M444.1 44.8H436.1" stroke="#000" stroke-width="1.4" fill="none"/>
<text x="268" y="22.3" font-family="Liberation Sans, sans-serif" font-size="20" text-anchor="start" font-weight="bold" font-style="normal" fill="#000" style="stroke-width:0.5px">b</text>
<path d="M348.8 125.6 H387.9" stroke="#00ff00" stroke-width="2"/>
<text x="431.5" y="131.4" font-family="Liberation Sans, sans-serif" font-size="17" text-anchor="end" font-weight="normal" font-style="normal" fill="#000" >50 K</text>
<path d="M348.8 145.7 H387.9" stroke="#0000ff" stroke-width="2"/>
<text x="431.5" y="151.5" font-family="Liberation Sans, sans-serif" font-size="17" text-anchor="end" font-weight="normal" font-style="normal" fill="#000" >30 K</text>
<path d="M348.8 165.9 H387.9" stroke="#8000ff" stroke-width="2"/>
<text x="431.5" y="171.7" font-family="Liberation Sans, sans-serif" font-size="17" text-anchor="end" font-weight="normal" font-style="normal" fill="#000" >5 K</text>
<text transform="translate(275.5,178) rotate(-50)" font-family="Liberation Sans, sans-serif" font-size="20"><tspan font-family="Liberation Serif, serif" font-style="italic">γ</tspan> = <tspan font-family="Liberation Serif, serif" font-style="italic">γ</tspan><tspan font-size="12.5" dy="4">0</tspan><tspan dy="-4"> + B</tspan><tspan font-family="Liberation Serif, serif" font-style="italic">ω</tspan><tspan font-size="12.5" dy="-9">2</tspan></text>
<path d="M451 143.9l.5-3.2 -.1 3.6 1.1 .2 -.9 3.2 .8-2.5 -.1-1.1 0 4.5 .2-.5 .4-1 -.1-3.3 .6 4.9 -.9-2.6 0-.4 1.2 5.8 0-3 -.8 1.4 1.2-.3 -.3-3.9 -.1-.9 -.2 6.3 .4-7.6 .1 4.3 .2-2.8 -.3 5 .8-1.9 -.4-.4 1 5.5 -.1-7.8 0 6.5 -.9-2.6 .2 1.1 .2-1.6 .5-.1 -.4 1.9 .7 .7 -.1 4 .2-.2 .5-7.4 -.1 1.8 -.4 1.3 .6-.5 -.4-.8 -.6 0 0 1.8 .6-2.8 .3 2.5 .4 .9 -1 3.1 1.1-2.2 .1-1.7 -.8 .8 .8 1.4 0 .9 -.1 1.4 -.4 2.6 -.1-1.4 .6 1.4 -.5 1.6 1.2-5.2 -1.1 .9 1.1-2.5 -.5 4.7 .2 2.4 -.2-1.6 1 1.8 -.2-5 -.1 1.1 -.3 4.1 -.2-3.2 .6-.3 -.2-3.8 .8 .8 -.3 2.1 -.4-2.9 0 1.6 .9-2.3 .1 3.8 -1-3.7 .4 4.3 .9 2.4 -.5-2.2 .2-1.8 -.9-2.3 1.1 .6 -1 2.8 1-1.1 -.7 .1 .7 .7 -.8-2.8 .9 5.7 -.2-8.3 .4 7.1 -.9-6.9 .1 5 -.2-5.5 .5 4.9 .5-3.6 -.3-.4 -.1 1.6 .5-.8 -.9 3.6 .4-2.1 -.4-5 .1 2.3 .8-.9 0 1.2 .3 .9 -.6-1.9 .3 2.6 -.7 .9 1-3 -.7-4.9 .3 6.9 -.4-1.4 .1-1.2 -.4 .5 .7 .8 .1 1.9 .5-5.3 -.7 .3 -.5-2.8 1.1 6.4 -.2-6.7 .4 4.8 -.2-7.4 -.3 10.1 -.1-4.9 -.6-2.3 .9 2.1 .4-1.6 0-.1 -.7 2.3 .1-4 .7-1.8 0 7.6 -.3-6.6 -.5 2.2 0 2.8 0 3.1 .4-6.7 -.5 .9 .9 .4 -.7-1.3 1 2 -1.1-4.5 .3 5.3 -.4-1.1 .8-.6 .5 1.1 -1.1 .7 1.3-3.5 -1.1-.3 .2 7.6 -.1-.4 .4-4.4 -.3-.4 -.1 1.3 .4-1.7 .2 2.2 .4-1 -.8 3.1 .3 .3 .3-.5 .5 2.1 .2-7.2 -1.1 4.4 .2 1.9 .2-2 .8 1.9 -.5-6.1 .4 4.4 .2-.8 -.4-.9 -.6 1.2 .5 1.7 .7-.7 -1.2 1.8 .5-1.9 .7 2.3 -.1 1.8 .2-2.4 -.6 .2 .6 2.8 -.8-3.4 .7 6.1 -.5-4.6 .8 .1 -.5 0 .2 1.2 .6-2.5 -.4 2.8 .2-2.5 -.7 3.1 -.2-4.3 .2 4.2 .9 2.7 -.1-1.9 -.4-1.3 .2 .1 -.1-.3 -.2 2.4 -.2 1.2 .6-1.2 .4-4.3 -.3 5.4 .4 1 -.1-3.5 -.3 2.3 .2-2.9 -.5 2.5 .8-.7 -.7-4.5 .8 .3 .1 8 -.8-8.3 1.2 2.3 -1.3-1.6 .1 3.4 1.3-2 -.1 1.1 -.7-2.3 .9 1 -.7-1.6 -.6 1.1 .1 2 1.4-5.4 -.7 3.1 -.6-1.5 1.3 2.1 -.2-2.2 -.1-1.4 .3-.2 .1-.6 -.6 1.6 .3-1.7 -.2 3.6 -.5-3.6 .8 2.1 -.6-1.1 .2-.9 .3-3.4 .2 3.2 .2-1 -.1 2.3 .3-2.5 -.1-1 .3 4.5 -.5-4.6 .2 1.2 -.1 2.3 .5-5.2 -.8 3.4 -.4-4.4 .6 1.8 .9-.1 -.3-.3 -.6 3.3 .6-7.2 -.5 .7 -.1 5.8 .8-3.6 .1 .9 0-5.4 0 1.3 .1 5 -.3-1.1 .5 4.7 -.4-10.1 -.4 3.2 0-3.8 1 4.1 -.6-.9 .3-3.5 -.9 2.2 .8-.4 -.1 .6 .3-1.7 -.6 4.9 .2-.6 1.2 2.6 -.2-2.2 .1-1.3 -.1-2 -.4 2.7 .3-.4 1-.8 -.4 .3 -.4-2.4 0 .9 1.1-.4 -.2-1.8 -.1 2.8 .9 2.2 -.3-3.3 .5-2.7 -1.1 3.9 .1 0 .7 1.2 .3-2.2 .5 1.1 -.9 1.3 .9-.7 -.4-3.5 .2 .4 -.2-1.8 -.3-.5 .3 4.4 .5-3.8 -.3 4.3 1-.9 -.7-4.4 0 4.4 -.2-3.9 1 1 .1-2 -.1 3.4 -.8 0 .4-2.5 .3-5.7 -.4 3.8 .7 2.1 -.8 .2 .8-1.4 -.3-.3 -.3 4.8 .6-5.2 0 2.9 -.5-3.3 .4 6.7 0-4.8 .3-1.9 .7-1.5 -.8-.3 .9 4.2 .1-1.9 -.8 2.1 .4-.3 .5-.8 -1-4.7 1.1 2.4 .1 5.8 -.4-4.3 .3 .4 0 1.8 .5-.1 -.8-1.5 .8-3.2 -.1-1.9 .4 2.8 -.1-2.6 -1 2 .8-1.3 .4 1.8 -1-2 1.2 1.8 -.8-5.2 .1 1.7 .5 3.7 .5 1.3 -.9-4.6 1.1 .3 -.6 2.6 .4-2.7 .1-2.2 .1 4.8 .7-4 .2 2 -.2-.9 -.4 1.2 0-4.9 .3 3.4 -.4-2.3 1.3-4.2 -1.1 7.6 .8-1.2 -.6-1.2 .8 3.3 0-1.3 .4-3.2 -.2 1.6 -.2-4 1.2 3.8 -.7-2.9 1 1.7 -.2 3.4 .3-3.1 -1 4.3 1.4-3.1 -.1-2.2 -.3 1.9 .1 1.4 .8 .3 -.4 2.2 0-1.1 -.2-.4 .1-.2 .3-.7 .2 1.1 0-3.6 1.4 .2 -.9 2 1 .1 -.2-3.8 .3 6.2 -.3-7 0 .8 .7 1.3 .6-3.8 -.1 3.5 -.5 1.8 -.2-5 1.1 1 -.7-.8 .7-1.2 .6 1.1 -.3 .8 0-.9 -.1 .4 .6 2.3 0 1.2 0-1.1 .3-2.1 -.5-2.1 .6 6.1 .1 2.4 0-3.8 .4 2.5 .4-7.5 .3 3 -.3 2.2 -.4-1.4 .5-.9 .2 3.5 .6-3.3 -1.2 1.3 1 5.5 -.5-8.3 .3 1.4 .8-1.4 .3 1.7 -.7-.5 -.1-.3 .4 2.5 .7 1.1 -.2-8.4 -.5 2.7 .2 3.2 -.1 2.4 .2-2.6 0-4.8 1.1 5.2 -.3-2.6 .8 2.6 -.4-.7 -.3-2 .6-2.1 -.1 5.2 .1-4.6 .6 2.4 .1-2.6 -1 2.7 .2-2.6 1.3 2.9 -1-6.8 .5 3.8 .4-5.1 -.5 4.3 .7 .5 -.6-.8 .3 .2 .6 .5 .4-1.4 -.1 1.1 .1-1.5 -.2-1.1 .7-.2 .1 1.8 -.7-2.2 .5 2.5 .3-1.2 .4 3 0-1.7 -.4-1.1 .8 2.4 -.6-.2 .4-2.5 .6 3.3 -1.1 2.5 1.1-8.6 .2 .4 -.6 3 1.1 1.3 0-1.8 -.1-1.3 -.5 1.3 .1 1.5 -.2-3.7 .4 1.4 .8 2.1 -.3-.3 .4-4.5 -.1 5 .3-1.8 -.3-1.3 .3 4.7 -.5-2.5 .9-.2 0-.5 -.2 3.5 .6-6 0-.6 .7 4.1 .3-4.8 -.3-1.7 .3 .4 .3 4.6 .2-6.5 -.2 4.7 .4 1.2 -1.2-5.9 .7 5 -.3-2.8 .7 1.2 .3-1.3 .4 0 .2-1 -.6 .8 -.1-4.1 .8 6.6 -.1-5 -.3 4.2 .1 .4 .6-3.4 -.1-2.8 -.2 1.1 .1-1.2 1.3 5.1 -.3-3.3 .3 2.6 0-2.9 -.3-1.2 0 2.1 .2 3.1 1-5 -.1 7.2 -.4-4.2 -.1-1.4 .8 2.8 -.1-1.9" stroke="#8000ff" stroke-width="2.0" fill="none" stroke-linejoin="round" stroke-linecap="round" clip-path="url(#cC)"/>
<path d="M472.2 128.8l.9 1.6 -.9-2.7 .7-.8 .4 2.7 -.3 .2 .3-4.5 -.1 1.2 -.5 .7 .8 .2 -.6 2.8 .8-5.7 -.5-.8 .2 1.1 -.3 1.2 .2-5 -.2 1.2 -.1 4.1 0-2.4 1 1.9 -.4-.5 .8 0 -.6-1.1 -.5 2.8 .9-4.3 -.5-.4 .5-1.2 -.2 3.5 .7 0 -.5 0 -.4-1.8 .2 4.4 .4-5 .2 1.3 -.2 .4 -.6 1.2 .4-2.5 .7 6.7 0-3.6 .1-.5 .1 1 -1 1.4 .8-.6 -.3-.9 .2-.9 -.2 .8 -.2 4.3 .1-6.5 .1 2.3 .2 3.6 .1-2.5 -.1 1.2 .3 .3 -.6-.5 .7 1.5 .3-.4 -.9 3.8 .2-3.4 0 2.9 .4-.2 .4-2.8 -.8 1.7 .5-1.2 .4-.5 -.1 3.1 -.3 .1 0-.7 -.1 1.1 .3-1.8 -.2 0 .8 2.2 -.4-4.1 -.5 5 1.2 2.1 .1-3.7 -.4 .5 -.2-1.7 .3 .2 .8 .7 -.5-.8 .1 3.4 .3 2.4 .3-7.5 .5 2.4 -.4 .3 -.5-4.4 .8 2.1 -.4-2.9 1.1 3.5 -.3 1.1 .2-.6 .4-.5 -.7 .8 .4-3.1 .3 .6 -.3-2.9 .7 3.6 .1 .6 -.4 1.7 -.1-3.3 .6 4 -.3 2.6 .2-6 1-.7 .1 4.4 .1-5.5 -.1 1.2 .1-5.4 -.6 .2 .9 3.7 .4-2.4 -.9 1.6 .5-.4 .2-1.3 -.6 2.5 .4-3.7 .5-.3 -.5 1.4 -.2-1.3 .5 3.7 -.4-3.2 .2-.3 -.5-2.2 1.1 5.7 -.4-1.8 -.4-.5 0-3.4 .8 .6 .1 5 -.7-2.7 -.2-1.9 .4 1.3 .3-4.7 .3 6 .2 1 -1.1-2.4 .9-5.3 .1 1.2 .1 5.6 -.1-3.5 -.8-2.3 .2 3.6 .7-5.5 0 .8 -.6 1.6 .1 .5 .7-1.3 -.3 1.1 -.2-2 .6 2.4 -.9-2.8 1 1.3 -.8-1.5 .6 1.6 -.5-.4 .1-3.1 .3 .2 -.7 1.2 1.1 2.9 -.1-5.9 -.1 2 0 .2 -.4 .8 .5-2.1 -.4 4.6 .1-4.2 -.1 2.3 .8-.6 -.3-.1 -.4 .6 .3-3.7 -.1 3 .2-1.7 -.1-.9 -.2-.2 .8-2 -.7 4.9 .7 1.5 -.3-.5 .5 .4 -.5-3.9 .1 3.1 .4 .5 0 .1 .3-.8 0 1.6 -.3 1.8 .7-2.8 .1 0 -.6 1.7 1-.3 -.7-1.9 .8 .5 -.2-3.1 .5 4.1 0-4.6 -.3 1.2 .3 2.3 -.2-1.7 0 4.8 -.2-4.1 .7 2 -.2 2.8 -.5-3.5 .4 .2 .4 1.1 -.4 2.1 .7-1.1 -.7 2.7 .5-4.5 -.1 3.4 .5-4.6 .2 5.4 -.4-.1 -.4-4.6 1.1 .4 .2 4.2 -.5-5.3 .1 4.1 -.1-1.4 -.5 1 .5-2.8 -.2 3.8 .6-3.3 -.7 1.1 0-2.1 .8 3.4 -.6-.2 .4 .2 .5-1.2 -.4 1.1 -.1-1.7 -.2-3.7 1.2 5.6 -.8-2.2 .4-2.3 .2-1 -.8 3.6 .2-1.7 .5 2.1 -.4-.2 0-3.2 .6-2.2 .3 2.8 .2-1.1 -.7 1 .4-.3 .1 1.4 -.7-2.5 .1-.6 .8-1.7 -.7 3.7 1.1-3.7 -.6 2.1 -.1-2.3 .6-.3 .1 1.3 -.2 3.5 .3-1.1 -.1-3.7 .3-1.7 -.5 1.2 0 3.5 -.2-6.3 .7 3.7 .1-1 -.7-1.3 .2-1.9 -.4 2.9 .3 .1 .7-1.8 0-1.2 -.5 5.3 -.2 1.2 .8-4.2 0-3.5 0 3.3 -.6-3.6 .2 3.5 .5-.9 -.1-1 .4-.6 -.5 1.4 0-.2 -.2-1.1 .6 1.6 .4 .4 -.2-.4 .4 .6 -.4 1 -.2-2.7 .2 .7 -.1 .8 1.3-2.8 -.4 1 .5 0 -.4-.7 .1 2.5 .1-3.6 .7 1.8 -.5 .2 -.4 0 .8-2.8 0 2.4 -.2-1.1 .7 .2 -.1-1.4 0-.1 0-2.1 .8-2.6 -.8 4.4 .7-3.6 .3-.3 -.2 1.8 -.5 .6 -.1-1.1 .6 .2 -.1-1.7 .6 .6 .1 .6 .3-1 -.2 3 .4-2.7 -.2 .9 .3 3.6 -.8-.3 .3-.5 0 1.1 -.1-2 1.1 1.7 -.5-1.3 -.4 2.2 .5 1 -.3-.5 1.1 2 .1 .2 .1-3.2 -1 1.5 .9-.5 .3-1.2 -.8 3.3 .4-2.7 -.4 1.1 .8 .5 .3 2.4 -.6-2.6 .9 4.1 -.5-1.5 -.1-2.9 .2 .1 .2 6.8 .1-1.6 -.1-2.8 .5 .9 0 1.1 0-1.5 .5-1.6 -.9-1.7 1.2 3.4 -.9-2.4 .6-.1 .6-.2 0 .3 0-.9 -.3 1 -.2-.9 .8-1.9 -.2 3.4 -.1-1.7 .7 1.9 0-3.2 -.4 .3 .7 3.6 -.7-6.9 .2 3.1 .3-5.8 -.3 1.9 .6 1.7 .1 1.1 -.4-1.4 .7 1.9 .2-1.9 -.7 .5 1 .3 -.4-2.9 .8 1.1 -.5-1.1 .2 5.1 .5-1.4 -.3 1 .1-2.5 .4 1.2 -.4-1.3 .3-2.6 .6 5.5 .3-2.8 .2-.8 0 1.5 .2 1.8 -.6-.9 .7-.9 .3 4.7 -.1-7.7 .5 3.9 -.2-.9 -.3-2.8 .9-2.2 -.4 2.3 .5 1.4 -.2-4 .1 1.1 .3 2.2 .7-2.9 -.4 2.1 .2 .1 .7 1 -.1-2.5 -.1 .4 .4 .2 -.2-2.3 .7-.5 -.2 1 0 .5 .7-2.9 -.4 .5 .1 2.3 .4-2.3 -.3-.8 .6-1.3 -.1-1 .5 2.5 0-1.2 .2-.1 .1-.4 .3-1.1 0-.3 -.1-.2 .5 .3 -.4 2.1 .2-1.1 .1 2.6 .5-5.1 .4 2.5 .1 1.2 -.1-1.3 0 1.4 -.1-2.9 .9 2.4 0-1.1 .3-.8 0-3.1 -.5 1.6 .5 2.7 .3-3.7 .1 2 -.2 .5 .3-4.2 .4 4.9 .5-2.3 .1-.5 .2 .2 -.4-1 .8 1.5 -.5-1.9 .8 1.8 0-.7 .3 0 .2 0 -.3-1.9 .4-.2 .1 .5 .2-.2 .2-.7 -.1 2.2 .7-3.3 -.1-2.8 .2 2.1 .5 .9 -.1 .1 .3-1.7 -.3-.9 .3 1.5 .5-1.4 -.1 2.5 .2-1.3 .1-.4 .8-1.9 -.5 3 .2-2.7 .5-.3 -.4 .4 .3 1.2 .1-2.2 .4-.1 .2-.5 -.1-1.4 .5 2.4 -.7-.3 .5-.5 0-3.2 .1 2.7 .1-.8 .5-.9 -.6-1.1 .1 2.3 .2-1.2 .2-2.3 .6-.6 -.1-.7 -.3 .7 .5-.9 .3-1.9 -.2 2 0-1 .2 0 -.1 1.7 .4-3 -.1 2.3 .7-.6 -.4-.7 .9 1.8 0-.6 .1-2.6 .1 .4 .7-.4 .4 2.6 0-2.1 .1-2.7 .5 2.5 -.1 .3 .3 2.3 .6-.4 .3-3.7 .3 .9 -.1 1.5 -.3-2.5 .4 3.4 .1-3.3 .3 .4 -.1-1 .5 1.8 0-2.5 .7 .7 -.2-.3 .3-1 .5 1.4 -.4-.5 .2-2 .7 2.4 -.1 .4 .3-2.3 .1-.5 .3 1.1 .1-.7 .4-.2 -.3-.8 .2-.2 .5 2.1 .2-1 .2 .2 .2 1.2 .3-2.3 .6-.8 .2-1.2 -.3 3.4 .2-1.4 .6 .9 .3-3.5 -.2 .7 .2-1.1 .7 .2 .4 2.9 .2-1.7 -.2-.8 .3-1.1 .2 .4 .1 0 .5 1.5 .5-.1 -.2-.4 .5-1.6 -.2-2.4 .4 2.4 .4-.4 .2-1.5 -.1-.7 .2 .2 .6-2.5 -.1 .1 .4 .7 -.4 0 .5-.2 -.3 .5 .4 1.6 -.3-1.1 .7 2.1 .1 1.3 -.2-.7 0-2.2 .3 1.6 0 1.5 0-1.7 -.4 .5 0 2.2 .3 1.2 .3-.2 -.3-2.1 .2 1 -.1-1 .2 2.2 .1-1.2 .3 1.1 -.2-1.2 .1-2.4 .6 .6 .1-.8 -.1 1.9 .3-3.1 .3 1.2 0-.2 .2-1.8 -.1 1.2 .3-1.9 .1 1.4 .1-.6 .1-1.7 0 .1 .2-.5 .3 .2 0-.3 0-.6 .6-.1 .4 .1 .4-.3 .4-.2 .3-.4 .6-.4 .4 .1 .3-.1" stroke="#0000ff" stroke-width="2.0" fill="none" stroke-linejoin="round" stroke-linecap="round" clip-path="url(#cC)"/>
<path d="M509.8 88.5l-.4 .8 .1-1.6 .7 .6 .6-1.2 .2 .4 -.2 2.6 .1-1.9 .2 .6 .8-.8 -.1 1.9 .3 .2 0 .1 0-1 .5 1 -.3 .2 .5-.3 -.2-.6 .4-.5 -.3 .1 .4 .9 .2 2 -.1-2 .2 2.6 .3-4 0 4 .2 .4 0-1.9 .4 1 -.1 .8 -.4 1.4 .3-2.5 .8 2.8 .1-2.9 0 1.5 .2 3 0-4.6 .1 .6 .2-.4 0 1.2 .3 .2 .1 0 .3-1.5 0-2.5 .3 1.9 .1-1.3 .4 1.6 .1-1.2 .4 .6 .1-.7 .3-.4 -.2 .3 -.2-1.7 .3-2.5 -.1 2.9 .6-1.6 -.5 .8 .7-2.5 -.4 .1 0 2.3 .3-2.7 .2-1 .2-.5 -.3 1.5 .7-1.3 -.4-.9 .5 .6 0-.6 .4-.9 -.4 .7 -.2 1.1 .8-.8 -.1-.5 -.2-1.6 -.1 1 .6-2.3 .3 2.7 -.1-1.5 -.4-1.7 .2 1.7 .7-2.6 -.1 .3 -.2 0 .2-2.4 .4-.1 -.1 .2 .3 1.7 .3-1.7 0 .4 -.2-.6 .4-1.2 -.3 2.7 .2-.9 .5-1.2 .1 .4 .1-.9 0 1.5 .5-.3 -.3-3 .6 1.2 -.4 .8 .1-1.2 .1 1.2 .2-1.5 .2-1.8 .5 2.4 .2-3.4 .4 2 -.3-.2 .2 4 .5-2 -.3 .5 .5-.3 .1 .2 .3 1.3 .2-1.2 .2 1.6 .2 .1 .6-1.6 -.3 1.7 .5-.1 0 .2 .6 .5 0 .2 -.5-1.6 .4 2.1 0-.2 -.4-.3 .6 .9 -.1 1.7 0-2 0 1.5 .3 .2 -.3 2.7 -.2-4.5 .6 4.1 -.3-1.1 .3 .4 -.1-1.1 .4 2.2 -.2-1.9 0 .7 -.4 0 .8 2.8 -.1-1.4 -.5-.5 .6 1.9 -.4-1.3 .5 .1 -.4 .2 .3 1.2 -.4 .9 .5-.1 .1 .9 -.2 1.1 .6 .9 -.5-2.1 -.2 2.6 .6 1 -.4-2.4 .1-.5 .1 .8 .3-1.4 .3-.3 0-1.2 0 .4 -.2-.5 -.5 3 .8-1.2 -.5-3.8 .2 1.8 .1-2.3 0-.2 -.2 3.5 .1-3.9 0 1.7 .2-2 -.3-.5 .4 0 -.1 .4 .5-1.1 -.6 .1 -.1 1.1 .5-1.9 -.1-.2 .4-1 -.6-.2 .5 .2 -.2-1 .5-1.7 -.1 1 -.2 1.9 .4-2.2 -.1-1.5 -.1-.7 .2-.1 .1 .9 -.4 1.5 0-1.9 .1 2.7 .4-2.8 -.2-.1 -.2 .5 .1-.7 .3 .2 .1-3.1 -.3 1.3 .5 .2 -.4 .7 .4-1 0-1.1 .5 1.7 .4 .2 -.2-.3 .3-.2 .2-2.7 .4 .4 -.4 .7 .5 .5 .2-1.9 .3-1.8 -.2 5.1 .6-4.6 -.2 3.3 .2-1.5 .2-.3 .3-1.6 .2-.3 .2-.2 .4-.3 -.2-.8 .1-1 .1-1.9 .6 3.6 -.1-1.7 .2 .2 .7 .2 -.3-.4 .4-1.2 .2-.9 -.1 1.5 .8-.6 .1-1.3 -.2-2.3 .2 1.2 .3 .5 -.2 .9 .7-1.3 .2-.4 -.6 2.1 .1-1.9 .3 .9 .4 .8 -.5-2.3 .4-1.6 -.2 1.3 0 .8 -.1-4.7 .3 1.6 -.1-.3 .6 .6 -.1-2 .2 .7 0-2.2 -.4 1.8 .1-2.1 .5 1 -.5-1.3 .6 2.2 .1-2.2 0-1.8 -.3 2.3 .1-1.3 .4-.3 0-.3 .3 1.7 -.1-3.1 -.5 3.5 .3-3.7 .3 .4 .2 1.5 .6-2.7 .2 .5 .5 .5 .3-1.3 .8 1.4 0 .3 .4-1.3 .5-.6 .5 .7 .2-1 .6-.4 .5-1.1 .3 .3 .4-.5 .5-.5 .3-.2 .4-.5 .2-.3 .4-.4 .5 0 .3-.6 .4-.6 .3 0 .3-.4 .4-.3 .5-.5 .4-.2 .3-.5 .2-.9 .4 .1 .3-.5 .4-.5 .2-1 .4-.1 .2-.9 .4 .1 .2-.7 .3-.4 .3 0 .3 .3 .3-.7 .3-.1 .3-.7 .2-.4 .5-.4 .4-.8 .2-.3 .4-.2 .3-.2 .4-.5 .4-.1 .4-.1 .3-.8 .4 .1 .3-.2 .3-.4 .5-.5 .3-.6 .4-.2 .2-.4 .5-.7 .3-.4 .3-.3 .5 .2 .3-.9 .3-.6 .4-.3 .3-.2 .4-.5 .3 .2 .4-.7 .3-.2 .4-.4 .3-.8 .5-.1 .2 0 .5-.5 .3-.4 .4-.3 .4-.6 .2 0 .3-.6 .4 .2 .2-.7 .3-.5 .3-.6 .4-.4 .3-.6 .3-.2 .3-.8 .3-.1 .2-.6 .4-.4 .3 0 .3-.7 .3-.6 .4-.2 .3 .1 .3-1.1 .4 .1 .5-.4 .3-.5 .4-.7 .4-.1 .3-.3 .3-.7 .5-.1 .4-.5 .3-.2 0 .2 .1 .7 .1 .7 0 .6 .1 .6 0 .4 0 .6 .2 .5 0 .6 0 .1 0 .7 .1 0 .1 .9 -.1 0 .2 .6 0 .3 0-.3 0-.1 .2-.6 0-.5 0-.2 .1-.8 -.1-.1 .1-.7 .1-.7 0-1.1 .1-.3 .1-1 -.1 0 .2-.8 0-.7 0-.6 0-.6 .2-.2 .4-.2 .3-.1 .6-.4 .4 .3 .5-.7 .4-.2 .5-.2 .6-.1 .4 .3 .7-.3 .5 .5 .5-.1 .5 0 .1 .2 .1 .6 .2 .4 .1 .6 .2 1 0-.4 .1 1 .2-.2 .1 .9 .1 .2 .2 1 0 .2 .2 .7 0 .3 0 .5 .1 1 0 .1 0 .9 .1 .7 0 .5 -.1 .4 .1 1.1 .1 0 0 .2 .1 .7 0 1 0-.3 0 .7 .1 .5 0 .6 0 .3 -.1 1 .2 .1 -.1 .5 .1 .6 0-.3 .1 .9 -.1 .7 .1 .3 .1 .6 0 .1 0 .7 0 .8 0 .8 0 .3 .1 .5 0 .4 .1 1.1 0 .2 0 .6 0-.1 0 .5 0 .6 .1 .4 0 .7 .1 .4 .1 1.1 0-.1 0 .7 .1 .6 -.1 .5 0 .2 0 .7 .1 .4 0 .4 -.1 .3 0 .9 .1 .9 0 .3 0 .8 0 .1 .1 .7 -.1 .5 .1 .7 0 .8 .1 .1 -.2 .3 .1 .5 -.1 .4 .2 .7 -.1 .6 .1 1 -.1 .4 .1 .9 0 .7 0 1 .1-.1 0 .7 0 .7 0 .3 .1-.1 -.1 .7 0 .7 0 .5 0 .5 .1 .3 0 1 0 1 0 .2 0 1.2 0 .1 0 .2 .1 .7 -.1 .3 0 .7 .1 .6 -.1-.1 .1 1.2 0-.9 .1-1.1 0-.2 0-.2 0-.5 0-.5 .1-.6 -.1-.3 .1-.9 .1-.2 0-.7 0 .1 0-.3 0-.6 0-.9 .1-.4 0-.6 0-.3 -.1-.3 .1-1.2 0-.1 0-.6 0-.6 .1-.9 -.1-.4 .1-.3 0-.3 0-.8 .1-.2 -.1-.7 .1-.3 0-.8 .1-.7 0-.5 .1 0 0-.6 0-.2 .1-.9 0-.4 .1-1.1 0 .1 0-.7 .1-.3 0-.2 .1-.5 0-.5 0-.8 0-.7 .1-.5 0-1 0 .1 0-.9 .1-1.1 0 .1 .1-.2 0-.9 .1-.6 0-.7 0 .2 0-.6 0-.6 .1-.3 .1-.4 0-1.1 .1-.1 0-.8 0-.5 .1-.2 -.1-.8 .1-.7 -.1 .1 .1-.2 .1-.6 .1-.6 0-.9 0-.5 0-.2 0-1.3 .1 .3 -.1-.9 .2-.1 -.1-1 .1-.4 .1 .3 0-1.2 -.1 0 .1-.7 0-.7 0-.4 .2-.5 -.1-.6 .1-.8 0-.2 0-.7 .1 0 0-.8 .1-.8 .1-.3 .2-.6 .3-.2 .3-.2 .3-.6 .3-.2 .4 0 .3-1.3 .2-.4 .3 .5 .4 .1 .2 .3 .3 .9 .3 .1 .3 .4 .4 .6 .2 .6 .1-.5 .2-.3 .3-.7 .1-.1 .1-.6 .2-.2 .2-.8 .2-1 .2-.2 .1-.5 .5-.4 .3-.4 .6-.2 .4-.1 .4-.3 .3 0 .5-.1 .5-.8 .4 0 .4-.5 .5 0 .6 .2 .4-.6 .6 0 .5-.4 .5 .1 .6-.4 .5 .3 .6-.9 .5 .2 .5 0 .5-.2 .5-.2 .5-.3 .4 .3 .5 0 .4-.5 .5-.1 .6 .3 .4-.6 .1 .7 .2 .7 .2 .3 0 .8 .1 .2 .2 .5 .3-.3 .3-.4 .1-.5 .3-.9 .4-.2 .3-.4 .2-.2 .2-.9 .2-.6 .6 .3 .5-.1 .5-.3 .6-.1 .5-.1 .5 .4 .6-.4 .6 .4 .5-.5 .6-.2 .5-.4 .6 .4 .4 .1 .5-.2 .4 1.1 .5-.3 .5 .1 .6 0 .5-.4 .5 .5 .5 0 .5-.1 .4 .5 .6-.6 .5 .3 .4 .5 .5 .2 .5-.1 .5 .5 .3 .6 .6-.4 .4 .7 .4 .3 .5-.4 .6 0 .3 .8 .5 0 .4-.2 .6 .6 .5 .1 .4 0" stroke="#00ff00" stroke-width="2.3" fill="none" stroke-linejoin="round" stroke-linecap="round" clip-path="url(#cC)"/>
<path d="M451.6 159.6 L583 8" stroke="#000" stroke-width="2.2" stroke-dasharray="8.3 8.7" stroke-dashoffset="0" fill="none" clip-path="url(#cC)"/>
<rect x="450.9" y="0.8" width="185.3" height="185.1" fill="none" stroke="#000" stroke-width="1.5"/>
<path d="M477.4 185.9V181.4M477.4 0.8V5.3M530.5 185.9V181.4M530.5 0.8V5.3M583.6 185.9V181.4M583.6 0.8V5.3" stroke="#000" stroke-width="1.4" fill="none"/>
<path d="M504 185.9V177.9M504 0.8V8.8M557.1 185.9V177.9M557.1 0.8V8.8M610.2 185.9V177.9M610.2 0.8V8.8" stroke="#000" stroke-width="1.4" fill="none"/>
<path d="M450.9 150.6H455.4M636.2 150.6H631.7M450.9 80.1H455.4M636.2 80.1H631.7M450.9 9.5H455.4M636.2 9.5H631.7" stroke="#000" stroke-width="1.4" fill="none"/>
<path d="M450.9 115.3H458.9M636.2 115.3H628.2M450.9 44.8H458.9M636.2 44.8H628.2" stroke="#000" stroke-width="1.4" fill="none"/>
<text x="460.2" y="22.9" font-family="Liberation Sans, sans-serif" font-size="20" text-anchor="start" font-weight="bold" font-style="normal" fill="#000" style="stroke-width:0.5px">c</text>
<text x="475" y="47.8" font-family="Liberation Sans, sans-serif" font-size="20"><tspan font-style="italic">p</tspan> = 6.7</text>
<text x="642" y="50" font-family="Liberation Sans, sans-serif" font-size="17" text-anchor="start" font-weight="normal" font-style="normal" fill="#000" >8</text>
<text x="642" y="120.5" font-family="Liberation Sans, sans-serif" font-size="17" text-anchor="start" font-weight="normal" font-style="normal" fill="#000" >4</text>
<text x="642" y="191.1" font-family="Liberation Sans, sans-serif" font-size="17" text-anchor="start" font-weight="normal" font-style="normal" fill="#000" >0</text>
<rect x="539.6" y="87.7" width="85.9" height="85.5" fill="#fff" stroke="none"/>
<path d="M539.6 151.1 H621.6" stroke="#ff0000" stroke-width="1.8" stroke-dasharray="5 3.2"/>
<rect x="539.6" y="87.7" width="85.9" height="85.5" fill="none" stroke="#000" stroke-width="1.5"/>
<path d="M539.6 162.1h4.5M625.5 162.1h-4.5M539.6 140h4.5M625.5 140h-4.5M539.6 117.9h4.5M625.5 117.9h-4.5M539.6 95.8h4.5M625.5 95.8h-4.5M539.6 151.1h8M625.5 151.1h-8M539.6 129h8M625.5 129h-8M539.6 106.9h8M625.5 106.9h-8M580.4 87.7v8M580.4 173.2v-8M621.2 87.7v8M621.2 173.2v-8" stroke="#000" stroke-width="1.4" fill="none"/>
<polygon points="562.4,92 564.2,96.7 569.3,96.9 565.3,100.1 566.7,105 562.4,102.2 558.2,105 559.6,100.1 555.6,96.9 560.7,96.7" fill="#ff0000"/>
<polygon points="575.5,104.1 577.3,108.9 582.4,109.1 578.4,112.3 579.7,117.1 575.5,114.3 571.3,117.1 572.6,112.3 568.7,109.1 573.7,108.9" fill="#ff0000"/>
<polygon points="603.2,109.6 605,114.4 610.1,114.6 606.1,117.8 607.5,122.7 603.2,119.9 599,122.7 600.4,117.8 596.4,114.6 601.5,114.4" fill="#ff0000"/>
<polygon points="621.2,100.8 623,105.6 628,105.8 624.1,108.9 625.4,113.8 621.2,111 617,113.8 618.3,108.9 614.4,105.8 619.4,105.6" fill="#ff0000"/>
<text x="536.6" y="178.5" font-family="Liberation Sans, sans-serif" font-size="15" text-anchor="end" font-weight="normal" font-style="normal" fill="#000" >0</text>
<text x="536.6" y="156.4" font-family="Liberation Sans, sans-serif" font-size="15" text-anchor="end" font-weight="normal" font-style="normal" fill="#000" >2</text>
<text x="536.6" y="134.3" font-family="Liberation Sans, sans-serif" font-size="15" text-anchor="end" font-weight="normal" font-style="normal" fill="#000" >4</text>
<text x="536.6" y="112.2" font-family="Liberation Sans, sans-serif" font-size="15" text-anchor="end" font-weight="normal" font-style="normal" fill="#000" >6</text>
<text x="539.6" y="84.2" font-family="Liberation Sans, sans-serif" font-size="15" text-anchor="middle" font-weight="normal" font-style="normal" fill="#000" >0</text>
<text x="580.4" y="84.2" font-family="Liberation Sans, sans-serif" font-size="15" text-anchor="middle" font-weight="normal" font-style="normal" fill="#000" >0.5</text>
<text x="621.2" y="84.2" font-family="Liberation Sans, sans-serif" font-size="15" text-anchor="middle" font-weight="normal" font-style="normal" fill="#000" >1</text>
<text x="580" y="67" font-family="Liberation Sans, sans-serif" font-size="19" text-anchor="middle" font-weight="normal" font-style="italic" fill="#000" >x</text>
<text transform="translate(519.7,133) rotate(-90)" font-family="Liberation Sans, sans-serif" font-size="19" font-weight="bold" font-style="italic" text-anchor="middle">p</text>
<text x="575.6" y="147.8" font-family="Liberation Sans, sans-serif" font-size="13.3" text-anchor="middle" font-weight="normal" font-style="normal" fill="#ff0000" style="stroke:#ff0000" >inelastic</text>
<text x="570.8" y="164.2" font-family="Liberation Sans, sans-serif" font-size="13.3" text-anchor="middle" font-weight="normal" font-style="normal" fill="#ff0000" style="stroke:#ff0000" >limit</text>
<path d="M258.8 304.1l0 3.2 1.2 .9 .4-8.4 -1.3 3 -.7 0 1.8-1.4 -.7 5.5 -.6-.1 1.2-1.8 -.3-.7 -.6-7.6 .9 2.9 -.6 8 .4-.4 -1.5-9.7 .2 4.9 -.2-2.1 1.2 3.3 -1.2 3.1 .5-3.5 -.2 4.5 -.4-5.2 1.2-4 .3 2.9 -1.2-.4 .4 3.4 0-6.8 .5 4.2 -.1-.7 -.1 .4 1.3 .4 0 3.9 -1.7-3.9 -.1-6 -.6 7.3 1.1 1.3 1.2 1.7 -1.7-4 .3 2.9 1.8-6.8 -.5-12.7 -.2 18.2 -1.3-.4 1.2-7.6 .2 2.8 -2.1 .2 .7-1.4 1.3 1.3 .1 1.7 .6-2 -1.5-3.6 .4-1.2 -.1 11.8 -.8-9.6 .4 3.4 -.2-.4 -.5-6.7 .7 5.7 -1-6.2 .8 2.3 .1-3.6 -.1 3.5 0 4.7 .6-1.5 -1.1-14 2.3 12.9 .2 1.3 -.2-2 -.5-.5 -.6-8.6 -1.2 7.6 .7 .5 -1-2 .4 3.5 2.4-2 -.3-7.6 -.8 3.8 -1.6 3.3 1.1 2.5 .8 .7 -1.4-16.4 .8 15.5 1.1-9.7 -1.3-1 .5 13 .5-6.9 .4 4.2 -.1-.3 .5-1.8 -1.3-12 1.4 2.4 -.4 1.7 .4 4.4 -2.1 1.6 -.7 1.1 2.8-.1 -.5 2 -1.7-6.9 1.8 5.2 .2-5.3 -.1 3.4 -2.4-7.5 1.1 2.9 -1-2.6 2.3 13.4 -.1 4.3 -2.5-16.8 -.2 3.3 .2-2.8 1.4-3.2 -1.1 4.1 .6 11.3 -1.1-4.5 2.3 1.5 -2-8.7 -.3 12.1 2.3-9 -.3 5.3 1.1-3 -.2-3.1 -1.7 .5 .8 3.9 -1.8-9.4 2.3 5.1 -.6-3.7 -1.4 4.5 2.5-12.2 -2.2 11.8 1.4 .7 -1.2 1 2.4 4 -3.3-12 1.5-3.4 -1.1 11.9 2.6-14.8 -1.5 5.1 .7 15.2 -.3-12.7 -.6-9.2 .3 21.1 1.2-12.9 .1 7.6 -.5-14.9 -2.3 4.8 1.6 7.4 1.2-3.8 .3-11.1 -.2-1 .1 1.4 -2.7 1.7 -.1 7.8 1-2.7 -.1 4.6 1.9-1.2 -.3-.4 -1.7-4.4 1.9 5.9 -2.4-.3 1.6-6.7 -1.5 9.5 .4 3.6 1-3.8 -.2-1.6 .8 .4 -1.4 4.7 .8-11.2 -.2 6.1 -.2-6.3 1.4 6.3 -1.2-.6 -1.4-14.1 2.7 15.3 .2-3.9 -.9 7 -1.4-14.8 .5 .8 -.1 6.4 2.1-7 -2.3-7.1 -.3 13.8 .3-4.5 -.5-7.6 -.2 13.6 1.8 2.2 -.3-7.8 -.6-.6 -.5 3.3 1.7 12.6 0-18.1 -.9-3.3 .7 .7 1.1 1.2 -1.4 16 -1.8-8.1 3.4 5.3 -1.2-14.9 -2.2 11 .6 5.1 2-5.1 -1.5-9.7 1.2 7.9 .1-9.5 -.3 1.7 .5 13.1 -2.5-13.7 .1 3.9 .9-3.7 1.2-1.8 -1.5 6.1 2.6-2 .3-7.9 -.1-5 -.2 12 -2.7 3.4 1.7-10.5 -1.9 12 2.9-13.6 -1.6 7.9 .6 5.7 -.8-10.3 .4 .1 .4 0 -.7 5.2 -.1-2.2 -1 3.7 2-6.5 .7 2.3 .3 11.5 -2.4-16.4 -.4-.2 2.9-3.8 -2.2 10.8 2.4-4.3 -1.6-14.2 .7 24.8 .8-17 -.6 1.3 -2.7-.2 2.1 8.6 -1.3-7.4 -.1 3.3 2.8-2.9 -.7-1.4 -1.3 1.4 1.8 8.6 -2.3-11.6 2.2 1.8 -2.5 2 1.9-3.1 -2.6 .4 3.2-.7 -2.5-.1 1.4-9 1.1 9.2 -.5 2.6 .3 2.8 -2.3-5.6 .3 6.4 1.5-6.6 -2.4 1.8 3.5 5.9 -3.1 2.5 .9-7.7 .4 4.8 1.1 2.1 -.5 2.5 .5-7.4 .6-.7 .2-1.2 -3.3 5.2 1.1-9.9 .8 2.8 -1.2-6.4 2.8 8.1 -.1 3.8 -2.2-5.5 .3-4.4 1.6 8.4 -1.6-2.3 3 4.5 -1.9-9.7 1.2-1.7 -.1 8.4 .2-11.7 -1.2 5.5 .5-5.9 1.6 19.7 -1.5-20.5 1.7 2 .4 2.3 -1.2 5.2 -.1-1.5 .3-4.5 -.4-2.1 2.2-7.5 -.1 14.8 -1.2-6 1 .3 -.9-.7 .5-4.5 -1.4 6.9 .3 2.2 1.7-8.9 0 6.5 .8 .2 .7 .3 -2.4 4.1 -.3 .4 .5-.4 1.7 3.9 1.1-7.7 -1.5-1.6 -.8 9 1.4-10.4 .4 2.1 -1.9 6.1 1.7-9.2 -1.5 2.8 1.3 3.2 .5-1.6 .3-1.9 -1.5 8.6 2-3.5 .1-3.9 -1.2 2.5 .2 3.3 -.7-11.4 -.2 6.9 0-3.1 .1-5.4 2.4 7.1 -.4 1 .2-4.7 -1.8-1.8 2.7-3.3 -.6 1.7 -1.2-2.4 1.4 6.6 .4-2.5 .5 .8 -2.6-2.3 2.1 2.4 .3-6.6 -1.6 4.8 -.3-1.5 1.8 9.5 -1.6-7.8 1.1 1.1 -.5-4.4 1.6 9.7 .7-13.1 -.4 13.3 .1-13.9 .4 7.2 -1.3 .6 1.7-3.4 -1 4.3 -1 4.8 1.8-4 -1.3-4.1 1.7 11.6 -.9-6.1 -.3-10.6 .2 4.8 .8 1.9 -1.5-1.7 1.3 2.2 -1.8 3.2 1.5-9.4 .7 .1 -1.9 10.8 2.6-8.3 -1.8 1.1 -.3-3.2 .7-.9 .4-.3 -.7-4 2.1 8.9 -.7-7.9 -1 7.7 1.6 1.2 -2-5.7 1.3 8 -1.5-6.5 2.5 1.8 -1.5-2.3 1.5 3.4 -1.4-5.1 .8 10 -1.7-2.8 1.2 3.3 1.4-3.5 -1.4-4.3 .7-5.1 -.6 12.8 -.6-3.8 2.2-3.6 -2.3 3.4 1.6-4 .2 .8 -1.1-1.3 -.3-1.9 0-1.7 2.2 1.2 -2.3-3.9 1.3 0 -.1 2.3 1.2 6.5 -2.1-7.6 -.2 3.4 2-1.7 0-3.2 .1-.2 -1.1 5.2 1.8-3.2 -1.8-3.5 1.2 1 .5 4.5 -.8 .2 1-13.9 -1.3 12.7 -.8 .5 .3-5.9 1.7-4.9 -.3 7.6 -1 9.4 .2-6.4 1 1.3 -1.6-8.4 -.1 .4 1.2-2 1 4.4 -1.4 3.3 1.7 8.6 -2.2-12.3 .7-1.4 .6 1.7 .3 9.6 0-6.9 -.7-2.2 -.6 8.3 1.3-3 -.7-6.9 .1 4.9 1.1-.9 -1.1 5.7 2-2.8 -1.1-11.4 .8 5.5 -2-8.8 1.6 9.9 .2 2.6 -.6-4.8 1.4-3.7 .4-1.6 -.7 1.9 -1.1-.3 1.6-.9 -1.3 3.5 -.5-11.9 0 11.9 2.4 1.2 .1 3.9 -1.6-.7 1.8-1.5 .3-.3 -.3 .2 -1.6 2.2 2-3.3 -1.2-1.5 .8-1.6 -.3 1.8 -.3-3.3 .6 4.6 -.2-5.3 -.4 7.3 1.1 4.6 -1.2-12.5 -.3 7.2 .3-3 0 1.3 1.4 3.1 -.6-4.1 -.5 6 1.1-7.7 1.4 6.1 -1.3 .9 1.4-4.3 -1.2-3.7 -.7-.2 1 8.1 .1-5.2 .2-5.4 .1-1.7 -.3 1.5 .6-2.5 .1 9.8 .9-13 -.2-1.1 -.4 6 -1.2-4.7 1.2 1.8 .6 6.4 .1-1.4 -.3-.7 -.5 2.5 1 .2 .7-.9 -.7 4.1 -1.1-2.7 1.6-5.1 -1.2 8.3 .3-6.3 1.9 2.1 -1.3 1 1.8-.5 -2.1-8.9 .4 6.7 .7-2.7 .1-2.8 .8 1.9 .2-2.6 -.2 7.7 1.2-6.3 -.1-3.2 -1.8 7.5 .6-9.5 1 10.2 -1.2-.5 2.2 1 -1.5-7.9 1.6 3.2 -1.1-1.2 .1 6.5 .7-7 0 3.6 1.1 .3 -.9 4.4 .2-6.7 -.3 3.8 1.1 .4 .5 .9 -.8-13.1 -.8 9.9 .2 0 1.6-3 .7-.5 -.2 5.8 -1.2-5.7 .9 4.3 .5-3.7 .3-1.5 -.9-1.4 .2 1.2 -.5 4.3 .2-6.3 1.4 4.7 -1.3-2.7 1.5 2.6 .7-3 -1.9-4.7 0 1.5 .8 11.3 -.4 1.7 .6-5.9 1.4-4.9 -1.2 1.7 .7-.9 -.6-4.5 0 4 .1-4.8 1.8 3.3 -1.2-4.4 .9 8.2 .2 2.6 -1-6.1 0 1.1 -.2 1.4 .4-5.2 1.8 1.7 -.8-3.1 .9 6.7 -.5-4.5 .1 5.2 .8-7.3 -.3 3.6 0 2.4 -.5-5.2 1.1 4.8 .3-9 0 2.9 -.1 2.3 -.9-.6 .1 9.6 .5-3.4 -.6-2.3 .4 1.2 1.6-4.9 -1.6 4.2 1.2 3 -.8-4.9 1.1-4.8 -.2-1.4 .1 5.9 .7-4.8 -1.5 5.9 .2-5.8 1.2 9.3 .1-11.5 -.8 4.5 -.1-9 .9 8.6 .5 1.1 -.8-2.7 1 0 -.7 1.6 1.1-2.9 0-4.1 -1.1 9.6 .1-11 1.2 4.1 -1.1 2.4 1.5-6 -1.4 3.2 .5 .2 .2-2.6 .7 6.6 .4-4.5 -1.1 2.8 1.1-2.8 .2 3.8 .4-.8 -.6-.3 .8 .4 -1.5-1.5 .4 7.6 -.3-10.6 -.2 1.7 1.9 1.1 -1.4 7.5 .7-11.5 -.1 2.1 .2-.7 .9 2.2 -.7 2.5 1.3-4.6 -1.4 7.1 .9 1.3 .4-2.3 -1.3-1.6 .2-.5 1.5-2.5 -1.4-3.1 .8 1.7 .4 3.5 0-2.3 -1 .4 .6-1.3 .7 1.2 .6 .6 -1.6-2.1 2-.5 -.2-2.6 -.7 8.7 .8-10.4 .4 7.1 -.1-9.3 -.5 .5 .8 5.5 -.2-.6 -1.3 2.2 .9-.1 -.2-5.6 .2 .8 .9 2.8 -.7-5.1 .5 7.2 0-1.7 -1-9.3 .9 7.1 1.2-1.7 -1.4 .8 -.1 .2 1.7-3.2 -1.1 4.2 0-1.9 0-1.2 .9-4 -.8 7 .9 0 -.6-1.6 .9 5.6 -.3-5.1 -.1-4.4 .6 .5 -.5 6.9 -.4-1 .9-7.4 .6 3 -1.3-2 .8 8.5 -.4-4.4 1-.1 .2-.8 -1.2-2.2 1.3-.8 -.8 .7 -.3-2.6 1.5 6.1 -.4-4.8 0 4.3 0-5.4 -.4 2 .3 .6 1.1 2.5 0-5.3 -.3 .2 -.6-3.4 -.3 2.4 1.2-.7 -.7 2.3 1.1 .8 .1-2.1 -.9 2.9 -.2-2.5 .6-.8 -.4-6.7 1 4.6 -.1 1.9 .2 1.6 -1-3.1 1.1 2.2 -.4 1.9 .8-4.6 -.3 5.3 -.5-4.3 -.2-2.5 .4 4.3 -.1 1.4 1.1-6.2 -.6 4.6 0-4.3 .1 .5 1 2.3 -.4-1.8 .3 1.3 -.6 .4 .4-1.6 -.3 3.6 .4-5.6 .6 .1 -.9-2.7 .3 4.6 -.3 2.9 .7-5.1 .3 3.4 -.5-1.5 .8-.3 0 .8 -.4 .8 .1-.7 .1-.8" stroke="#ffff00" stroke-width="2.0" fill="none" stroke-linejoin="round" stroke-linecap="round" clip-path="url(#cE)"/>
<path d="M259.5 337.7l.2-2.7 .4-2.3 -.7 1.2 .7-.1 -.2-1.9 -.1 5.7 .7-2.9 -.3 2.9 .6-3.5 -.2-1 .2 2.2 -.1-2 .5-1.4 -.8 1 .3 3.3 .5-1.5 -.3-2 .1 1 .4-2 -.2 4.3 1.2-4.4 -.4 3 .5-1.2 -.5 1 .7 .2 -.8-.7 .9-3.6 .3-1.9 -.7 3.7 1.1-3.9 -.2 1.2 -.5-1.5 1 .1 -.7-.3 .5 .9 .7 .2 0 1.8 .3-1.4 -1 1 1.1-2.5 -.2 2.4 .6-1.6 -.1 .5 .2-.6 -.4 4.7 .6-1.9 -.8-.3 .1 0 0-1.6 .5 1.3 .5-1.2 -.8 .2 1 0 -.3-.5 .4 .6 -.6-1.4 .5 .9 .4-1.1 0-1.3 -.7-1.3 .7 .6 -.5-2 .2 3.5 0 .4 .7-2.1 -.3-2 .9 2 -.3-1.7 .3 .9 .2-4.1 -.1 4.1 -.1 1.5 -.3-1.6 .9-3.1 .1 2.8 -.1-.1 0-1.6 -.3 1.6 .8-1 .1 .6 .1-1.2 -.7 0 .3-.5 0 1.9 0-4.8 .3 1.6 1 6.1 .2-2.9 -.3-4.3 -.2 4.1 .4 1.3 -.6-3.7 .3 4.2 .7-2.2 .3 .9 -.9 .6 .4-.7 .8 .5 .1 .4 -.6-2.7 .6 2 -.2-1.7 .2 2.5 -.3-.5 .7-6.3 .2 2.7 -.7-.1 .9-1.2 -.5 3.1 -.4-3.6 .7-1.8 -.1 2.1 .4 .2 0-1.1 -.3 .8 .1-4.1 .8 1.4 -.9 1.4 .1-.7 .9-1.5 .3 1.6 -.8-1.5 .9 1.9 .2 1.1 -.6-5 -.3 3.6 .8-1.7 -.1 .2 -.3 3.2 .7 1.4 .1-2.7 -.1-1.3 -.3 2.2 .3-1.8 .5-2.3 -.3 3 .5-.3 -.8 2.2 .3-5.4 -.1 1.6 0 1.1 1.1-.7 -.3-3.2 0 2.1 -.3-4.8 0 2.4 .5 2.5 -.5-1 .1-2.1 .6 .7 .6 1.5 -.3-.9 -.5 1.4 -.1 1.7 .6-7.7 .3 3.7 .3-.7 .3 1.3 -.3-1.7 -.6 0 .6-1.5 .7 2.6 .1-1.8 0-2.1 -1 2.2 .9-1.5 -.2 .3 .5-1 .1 0 -.7 3.4 1-2.1 -.3 2.3 .4-4.7 .1 1.6 -.3 1.4 .1-2.6 -.7 4.3 1-.8 -.7-4.1 .9 1.7 -.8-.8 .5-.6 0 1.9 -.2 0 .5-.7 -.3-1.6 .8 .8 0 1 .4-1.2 0-3.6 -.8 .2 .2 5.1 .2-2.3 -.1-1.8 .1 1.3 -.4-.6 .6-2 -.3 2.3 .7-2.9 -.9 1.5 .6-.9 -.2-1.5 -.3 2.8 .6-1.2 -.4-4.4 -.2 3.1 .6-1.2 -.2-2.3 -.3 1.4 .2 1 .8 0 0-1.2 -1 2.2 1-1.1 -.9-3.6 -.1 1.1 .2 2.1 .6-.2 .2-3.3 0 4.8 -.8-1.7 -.1 1.3 .8 .7 -.2-2.5 -.2 .2 .1 .4 .6 1.1 -1-.9 .8-2.1 -.1 .4 .2-4.6 -.4 9.3 .7-2.1 -.6-4.7 .3 3 -.3 1.1 -.4-.6 0-.9 1-2.2 0-1.2 -.8 .9 .4-1.3 -.6-1.4 .2 .7 .5 2.2 .5-2.9 -.3 .8 -.5 1.5 .7-4.9 -.1 4.1 -.8-1.5 .7-.5 -.2 .2 .2-.6 0 .4 0 .6 -.3-1.4 -.3 .7 .6-.8 .5 1 -.3-1.2 .1 1.7 .1-.5 -.7 2.4 .3-2.8 .2-1.3 -.4 2.7 .9-1.7 -.3 1.1 -.3-.7 .4-.6 -.6-1.7 0 2.3 .2 .4 .4 .3 -.2-5.2 .3 3.9 0-1.7 -.1 2 -.1-1.8 -.1-1.4 -.5 2.2 .2 .1 1-.7 -.9-.5 .3 .4 -.5 .6 .1-.1 .1-.4 .4 2.6 0-3.9 -.2 2.8 .4-4.9 .4-.1 -.6 .7 .1 2.3 0-5.6 .3 6.8 -.8-.8 .5-.7 -.2 1.6 .4 1.5 .3-2.8 .3 2 -.8-.8 .7 3 0-2 -.1 .6 -.5-.6 .2 .9 -.2-1 -.2 .9 .4 1.2 .2 .8 .4-.5 -.8-1.2 .8 3.8 .1-1.8 0-5.1 -.5 5.1 .4-1.5 -.9-.7 0 2.5 .5 .8 .7 .4 -1.1 .3 .5 .7 .1-2.5 .5 1.5 0 .1 -.4 1.3 -.6-2.1 .7 .1 .3 4 -1 0 .2 3.1 1-4 -.3-.1 -.7 .4 .5 2.5 .5 .2 -.4 .9 .4-5.1 -.7 4.9 .5-2.8 -.7-2.8 .5 5.1 -.1-1.6 0-1.7 .5 4.5 .1-5.6 .1 4.4 .5-1.5 -.5 1.7 0-3 0-1.5 .4 1.3 .3 1.1 -.4-3.8 .3-1.1 .1-.3 .7-.8 .6 6 -.1 1.1 .3-6.9 -.5 2.1 0 3.1 0-2.9 1 1.3 -.4 .4 .3 2.2 .8-4.6 -.2 2 .5 2.2 -.8 .2 .5-2.1 -.1 3.6 1-1.8 -.3 1.4 -.4-2.8 .3 0 .1 .5 .5 1.5 0 .3 -.2-4.1 1 1.8 -.7 0 1.2 4.2 -.4-6.2 .1 2 .7 1.4 -.4-1.2 .6-.3 .1 3.6 .1-5.1 -.3 2.3 -.1-1.8 .4-.7 .3 2.1 -.3-2 .6 .1 .2 .5 .2 1.3 .7-3.5 0 1.8 .1 2.9 .3 .2 .3 .5 0-1.5 -.5 .9 .1-3.3 .8 3.6 -.7-1.3 .6 2.4 .3 .7 -.7 2.1 .9-3.6 0-1.2 -.1-.7 .2-2.1 .4 2 .3-1.5 -.4 1.3 0-1.4 -.3 .9 .7 .6 .3-1.5 -.5 2.6 -.1-2.2 1.1 .9 -.1 1.2 -.2-3.5 -.4-4.1 .8 4.9 -.4-2.4 .2 3.3 -.2 1.4 .3 .2 .7-5.7 .2 5.2 .2-3.1 -.6 2.1 .3-3.1 -.4 1.9 .6-.8 .4-.4 -.5 1.6 .5-5.5 .4 .1 -.3 2.2 .4 1.2 .5-3.6 -.2 2.7 -.7-1.6 .8-1.2 .2 1.8 -.7-1.3 1.1 1.2 -.6-.8 -.1-2.5 .1 2.3 .3-3.1 .4 .6 -.4 .1 .8 2 .3-.4 -.2-.6 .1-1.4 .4 .7 .8-.6 -.1 .7 .7-.7 -.1-.9 .6 1.8 .1-2.2 -.1 1 .7 1.7 0-1.6 .5 .1 .2-1.7 .4 .4 .1 0 .4-.4 .1 0 .3-.1 .3-.2 .3-.5 .1-.3 .1-.3 .2-.4 .1-.5 .3 0 .1-1 .2-.6 .2-.5 .2 .2 .1-.8 .2-.6 .2-.5 .2-.3 .1 0 .1-.5 .3-.1 .1-.9 .2-.1 .2-.7 .1 .1 .2-.8 .3-.3 .2-.2 .3-.5 .3-.8 .2 .4 .3-.8 .3-.4 .2-.1 .3-.3 .4-.7 .1-.4 .3 0 .3-.8 .3-.4 .3-.5 .3 .3 .2-.9 .3-.3 .3 0 .2-.8 .4 .1 .2-.9 .5 .1 .5-.2 .4-.1 .4-.4 .4-.1 .5-.2 .4-.3 .5 .1 .3-.5 .4-.1 .5-.2 .4-.1 .3-.8 .5-.2 .5 0 .4-.2 .4-.2 .3-.2 .4-.7 .3-.2 .3 .4 .4-.9 .4-.5 .3 0 .2-.2 .4-.7 .3-.4 .4-.1 .3-.6 .4-.5 .2-.2 .5-.4 .2 .1 .5-.7 0-.6 .4-.4 .1 .1 .3-.9 .2-.6 .2-.3 .1 .1 .2-.9 .3-.1 .3-.4 .2-.4 .1-.5 .3-.2 .3-.6 .1 .3 .2-.7 .3-.4 .1-.7 .3-.4 .2-.5 .2-1 .2 .6 .3-.5 .2-.1 .2-1 .2 .4 0 .4 .2 .2 .1 1 0-.5 .2 .7 -.1-.1 .1 .8 .1 .6 .2 .1 .1 .2 0 .6 0 .7 .2 .8 0 .6 .2 .1 -.1 .4 .3 .8 0 .1 0 1.1 .2 0 0 .4 .1 .5 .2 .9 .1-1.3 .3-.3 .3-.4 .2-.1 .3-.2 .3-.9 .2-.8 .2-.2 .2-.1 .4 .1 .2-.4 .3-.8 .2-.3 .2-.1 .3-.3 .1-.5 .1-.7 .1-.3 .2-.3 .1-.7 .1-.7 .1-.4 .1 0 .1-.8 .2-.5 .1-.3 0-.5 .2-.3 .1 0 .2-.7 0-.4 .2-.7 0 .1 .2-.5 .1-.5 .2-.6 0-.6 .1-.9 .2 0 0-.2 .2-.8 .1 .2 .1-.2 0-.6 .3-.8 .1-.5 0 .2 .2-.8 .1-.5 .2-.1 0-.6 .2-.8 .1-.5 0-.3 .2-.5 0-.6 .2-.1 .1-.4 .1-1.1 .1 .4 .1-.8 .1-.2 .1-.4 .1-.7 .2-.7 .1 .7 0 1 0 .4 .1 .1 0 .8 0 .3 .1 .6 .1 .7 -.1-.4 .1 .7 0 .4 .1 .2 0 .9 0 .5 0 .4 .1 0 0 .8 0 .6 .1 .1 0 .4 0 .9 .1 0 0 .8 0 .5 .1 0 0 1.2 .1 0 0 .6 0 .7 .1-.2 0 .6 .1 1 0 .1 .1 1 0 .7 .1 .5 .1 .8 -.1 .5 0 .2 .1 .1 .1 1.1 0 .1 .1 .5 -.1 .5 .2 .3 -.1 .8 .1 .2 .1 .3 -.1 .6 .1 .4 .1-.7 .3 0 .1-.3 .2-.6 .1-.6 .2-.7 .1-.3 .2-.6 .1-.3 .2-.8 .3-.6 .3-.2 .1-.6 .1-.3 .3-.8 0 .4 .3-1.4 .2 0 0-.5 .2-1 .2-.1 .2-.3 .1-.5 .2-.1 .2-.6 .1 .1 .1-1 .2 0 .2-.4 .2-1.1 .1-.1 .2-.1 .1-.5 .1-.9 .5-.1 .4-.4 .4 .5 .4-.6 .4-.5 .3 .4 .5-1.1 .4 .1 .3-.1 .4-.1 .5 0 .4-.2 .3-.4 .5-.9 .4 .6 .3-.5 .4-.6 .4 .1 .4-.5 .4 .3 .4-1.1 .3 .3 .6-.9 .3 .3 .4-.1 .3-.2 .3-.6 .4 0 .3-.7 .4-.3 .3-.1 .5 .1 .3-1.3 .3 .5 .5-.5 .2-.3 .3-.4 .5-.6 .2 0 .4-.3 .4 .1 .3-.7 .5-.1 .3-.2 .3-.4 .4-.3 .3 0 .3-.8 .5-.3 .2 0 .4-.7 .4-.6 .3-.4 .3-.2 .2-.5 .4-.1 .4-.3 .4 .1 .3 .4 .2-.8 .3-.5 .3-.3 .3-.4 .4-.3 .4-.3 .3-.5 .3-.2 .3-.1 .4-.7 .2 .2 .3-.7 .4-.1 .3-.8 .3-.1 .4 0 .2-.3 .5-.7 .3 0 .2-.2 .4-.7 .3-.2 .3-.6 .3 0 .3-.4 .4-.4 .3-.2 .2-.1 .3-.7 .1-1 .3-.3 .2 .5 .3-1 .3 .1 .2-.6 .2-.7 .3 .1 .2-1.1 .2 .4 .3-.8 .3 .1 .3-.8 .2-.3 .2-.1 .2-.6 .3-.9 .2 .5 .3-1 .3-1 .1-.1 .4-.7 .2-.4 .3 0 .1-.6 .2 .3 .3-.8 .3-.1 .3-.3 .2-.6 .2-.3 .3-.4 .2-.1 .3-.7 .4-.1 .3-.4 .3-.6 .3-.3 .3-.3 .3-.1 .3-.5 .4-.3 .2 .1 .4-1 .3 .3 .2-.4 .4-.1 .3-.8 .2-.5 .4-.2 .3-.6 .4-.2 .3-.2 .3-.4 .3-.2" stroke="#00ff00" stroke-width="2.3" fill="none" stroke-linejoin="round" stroke-linecap="round" clip-path="url(#cE)"/>
<path d="M258.9 342.9l.7 1.5 .4-1.1 -.9 1.9 .4-.3 .2-4.2 .1-.5 -.6 1.5 1 .4 -1.1-.8 -.1-3.5 1 7 -.9 .6 1-4.3 .1 1.5 -.7 2.8 .1-2.6 -.3 1.1 0-2.4 .7-2.3 -.4 5 .4-4.4 .7 2.8 -.1-1 -1.2 3.8 .8-1 -.4-.9 .8 1.1 -.9 1.3 .8-.1 .4-.4 -.8 2.1 .1 1.7 .4-.6 -.2-.7 .6-.7 0-3.4 -.1 5.1 .3-.8 -.9-.1 .3 .1 .4 3.4 .1-7 -.2 3.6 -.2 .8 .4 3.6 0-3.5 -.7 4.4 .4-1.4 -.1-3.1 .8-2 -.6 5.6 -.4-4.8 1.1 2 -.9 .2 .1 .8 -.2 .2 1.1-1.5 -1.2-.2 .1 6.7 .7-4 -.3 1.8 .4 3.3 .6-6 -.5 5.3 -.6-8 .4 4.2 .9 .7 -.1-2 -.3 4.9 -.8-3.7 1 3.9 -.5-2.6 .7-.2 -.3 3.2 .3-1.1 -1.1-3.6 .8 2 0-.3 -.3 .3 .9-2.2 -1.2 5.1 1.4-.9 -.4-1.3 .4-3.9 -1.1 4.6 1-1.1 -.3-2 -.4-2.1 -.1 1.1 .8-2.1 -.1 1.8 -.2-2.2 .2 4.8 .8-6.8 -.3 4.1 -.2 2.6 .2-3.7 -.9 .3 .2-.4 1 2.5 -.5-.3 -.3-1.7 .2 1.8 .7-6.6 -.8 5.9 1.1 .2 -.9-7.5 .2 1.2 .4 1.7 .4-1.1 -.4-.3 .5 2.6 -.7 .3 .7 0 .2-.7 -.9 2.5 .6-.6 .4-1.3 -1 4.2 .2-5.4 .6 1.3 0-2.6 -.5-2.4 0-1.9 .3 4.8 .1-4 .9 1.9 .4 2.5 0-2.9 -.4 0 .6-2 -.8 3.2 .1-3.5 .3-1.1 .3 5.5 -.4-1.6 -.1 1.5 1-1.4 .2 2.1 .3-5 -1.1 4.7 1.4-3.3 -1 1.1 .9-.3 0 2.8 -.3 .6 -.2-1.5 1 1.6 .4-2 -.4-.2 0 1.3 .4-2.8 -.5 1.5 -.3-1.8 .7 3 .3-1.4 .2-.5 -.8 1.7 .8-4.1 .1-.1 -.3 1.5 -.2 .1 0-4 1.2 6.2 -.6-3.6 .5 1.3 0-5 0 1.5 -.2-1 .4-.4 .2 1.9 -.9-1.5 .9-.4 -.8-.1 1.3-.4 -.3 5 -.7-4.9 .6-.7 .7 2.1 -.4-.7 .5-1.9 -.9 3 .8-3 .3 2.9 .1-1.1 -.4-2.2 -.4-1.6 -.1 5.1 .8-3 -.3-2.2 .5 3.7 .1-1.8 -.1-1.6 .7 2 -.5-2.6 0 2 .2-1.1 .4 1.9 -.3-3.6 .1-2.7 -.5 6.1 1-3.3 .2 1.4 -.9 1.9 .7-3 -.4-4.3 .8 .3 -.1 1.2 -.3 3.3 .4 .5 0-1.2 .3-1.7 -.7 2.9 .5-.8 -.1 .3 -.5-7.5 1.1 8.7 -.7-3.2 .2 2.6 .3-1.1 .8-.8 -.8 2.7 .2-1.9 0-.8 .1 2.3 .7-1.5 -.6 .2 .4-3.6 -.2 .6 .8 .6 -.9-1.5 .6-.2 -.2-1 .7-1 .1 4 .4-1.9 -.4 1.7 -.5-.8 .8-5.6 -.6 .5 1 4.7 .5 1.6 -1.1-5.4 .9-.7 -.8 2.6 .4 1 .6-2.5 -.4-2.6 .5-.1 .1 .7 .5 2.9 -.8 4.4 .4-4.3 .6-3.2 -.7 .3 -.1-1.3 .5 3.4 -.4-.6 .5-.3 .5-1.7 -.1 1.2 .5-1.9 -.8-1.3 .1 5.2 .4 .1 -.2-.1 .3-.7 -.4 .6 .7-7 .5 4.7 -.7-2.4 .3 3.3 .2-2.6 -.7-3.2 .9 5.6 -.2-1.9 .4-6 -1 6.2 1.2 1.5 .1-3.1 -.4-.8 -.1-.1 .3-6.5 .1 6.8 .3-3.3 -.4 4.1 -.7-6 1 7.1 .2-.5 -.9-3.2 1.2 3.3 -.1-1.7 .1-5.3 -.7 6.2 .3-.8 .6-.4 -.4-.2 .1-2.5 -.8-3.2 1 .4 -.5 2.6 .6 2 -.7-1 .8 3.9 -.8-4.2 .9-.9 -.9-3 .9 2.4 .4-4.3 -1.2 3.5 -.1 3.8 1.4-1.7 0 1.9 -.2-3.8 .1-.7 -.8 1.3 1.1 .3 -1.2-.8 .3 2.3 .3-.2 .9-4.4 -1.3-2.6 .1 6.2 .7-2.8 .7-1.9 0 4.4 -.6 1.6 -.2-1.9 .2-3 1.3-4.5 -.7 11.6 .7-6.2 -.8-5.7 .3 7.3 -.1-3.3 .5 .8 0-1.4 .7 2.4 -.7-1.8 1.4-2.1 -.2 2.4 -.6-1.7 .6 1.1 -.2-.8 .3 2.3 -.1-1.3 1.1 .3 -1.1 1.7 .5-2.7 .1 .5 .1 .7 -.2 .8 -.1 1.9 .2-1.3 .2-.1 .3-3 0 5.2 .1-4.7 .3 2 .2-1.3 -.6 4.1 1.3-.1 -.8-1.6 1-1.8 -.4 2.1 -.2 4.6 -.4-2.9 .7 3.9 -.5-1.3 .8-1.4 .3-3 .5 6.4 -.9-5 .1 1.5 .7-.7 .4 .9 .1 .9 -.1 0 .1-2.7 -.5 3.5 -.2-1.1 .4-1.3 -.1 2.7 .2-1.2 .1-.8 .5 1.8 .2-2.2 .7-4.7 -1 5 1.5 2.3 -.5-3.1 0 4.5 0-7.7 .2 5.8 0-2.1 0 1.1 .9 1.9 .3 3.2 -.9-4.8 .2 4.2 .7-2.9 -.1-5.2 .5 1 .1 7.3 .5-1.6 -.3 .6 .1 1.4 .6-3.8 -.3-1.5 .1-1.6 0 2.4 -.5 .5 .9 .2 .3-4 .5 4.1 -1-1 .6 2.5 0-3.2 1-2.3 -1.1-2.3 1.1 4.5 .1-1.4 -.7 2.1 .9-2.3 -.8 1.4 0-.4 .4-2 .9 5.6 -.2-2.3 .5-4.4 0 2.4 -.4-.2 .3 .2 -.1-1.5 .1-.4 .3 5.1 1-1.9 -.2 .7 -.7-3.1 .6 2.2 .8 2.9 -1.1-1.5 .5-6.3 .5 2.8 .7-1.8 -.4 1.4 .5 .3 .4-3.6 -1 3.6 .8-4 -.6 7.1 .5-2.7 -.3-2.3 .1 4.1 .9-2.8 -.5 .4 .7 2.4 -.1-.9 0-5 -.1 2.9 .7-2.1 -.3 1.5 .9 4.6 -.1-4.3 -.1-1.1 -.2 1.7 1.2-.9 -.6-2.4 -.3 1.3 1-2 -.3 2.2 1.1-.4 0 2.9 -.2-.9 -.6-.6 1.1-1.3 0-1.8 .1-1.6 .3 2.9 .2 1.7 -.8-1.4 .4-1 .6 2.7 .5-7.4 -.8 4 .1-4.8 1.3 5.1 -.3-2.6 .1 1.2 -.6 5.3 .8-4.9 .6 .5 0 .7 -.3 .4 .5-.9 -.7 1.1 .1-2.1 .6 1.3 .7 .5 -.9-1.7 .4-.5 -.3 2.5 .5-4.7 .6 2.7 -.9-1.7 1-.1 -.1 .2 -.1 4.3 -.5-5.4 .5-1.7 .8 2.9 -.4-.2 .4 .4 -.9 .1 .2 4.7 .8-5.1 .7-3 -.4 1.2 .1 1.2 -.5 1.8 .8-.5 -.5-3.7 1 5.2 -.3 .7 -.5-.7 .8-1.6 .4 .4 .3-.8 -.8-1.1 1-1.8 -.2 1.2 .4-3.3 -.5 2.7 0 3.5 .5-1.7 .5-6.2 -.6 4.4 .5-3.1 .2 .2 .7-2.5 .2 2.3 -.2 .3 -.1-1.8 .5 .4 -.3-.2 .5-1.8 .1 1.8 .1-2.1 .4 .6 -.1 .4 .6-1.4 -.4 2.1 .6-1.3 .2-.3 -.2-.2 .5-.2 .1-.4 .1-.1 .1-.9 .3-.1 0 1.3 .2-1.2 .2-.3 .1 0 .3-.5 .2-.3 .2-.4 .4-.3 .4-.3 .2-.6 .3-.6 .3-.2 .3-.7 .4 .4 .2-.7 .3-.1 .4-.1 .3-.8 .3 .1 .3-.7 .3-.4 .3-.6 .3 0 .4-.6 .2-.1 .3-.3 .5-.6 .2-.1 .3-.1 .2-.3 .4-.5 .2-.1 .3-.7 .4 .1 .3-.6 .3-.9 .1 .3 .4-.5 .3-.3 .3-.9 .2-.1 .3-.4 .4 .3 .3-.6 .2-.6 .2-.6 .3-.4 .1 .8 .1 .2 .1 1.2 0-.4 .2 .7 .1 .5 0 1.1 .1 .2 0 .3 .2 .2 0 .2 0 .3 .1 .5 .1 1 .1-.6 0-.2 0-.8 .2 .4 0-1.6 .1-.2 0-.1 .1-.9 0-.1 0-.5 .1-.1 .1-.6 .1-.2 -.1-.6 .2-.5 -.1-.4 .2-.4 0-.4 0-.4 .1-.7 .1-.6 .1-.2 0-.1 0-.7 .1-.5 .1-.9 0-.8 0-.6 .2-.5 .1-.4 0 .1 0-1 .1 0 .4 0 .4-.2 .5 .4 .4 0 .5 .9 .4-.6 .4 .5 .4-.2 .5 .5 .4 .3 .5-.1 .3 .3 .5 0 .3-.3 .3-.8 .3 0 .4-.4 .2 .2 .4-1.1 .3 .1 .2-.7 .3-.3 .4 .4 .3-.9 .3-.3 .3-.3 .3-.2 .3 0 .4-1.3 .3 .7 .2-1.1 .4-.5 .3 0 .3-.1 .2-1.1 .3 .6 .4-.7 .2 0 .4-.5 .3-.2 .2-.9 .2 .1 -.1-.5 .1-.5 0-.2 .1-1.2 .1-.1 0-.5 0-.6 .1-.5 .1-.6 -.1-.1 .2-.4 -.1-.6 .1-.6 .1-.1 0-.4 0-.6 .2-.5 0-.2 -.1-.7 .1 0 .1-1.2 0-.1 .1-.5 0-.6 .1-.4 0-.7 .1 0 0-.9 .1 .2 -.1 .8 .1 .2 .1 .5 .1 1 -.1 .8 .1 .3 0 .2 .1 .7 0-.1 0 1.1 .1 1 0 .1 0-.1 .1 .6 .1-.1 -.1 1.1 .1 .2 .1 .6 0 .7 .1 .5 0 .6 0 .5 .1 .2 0 .4 .2 .5 -.1 .8 .1 .3 0 .5 0 .2 .1 .6 .1 .9 -.1 .3 .1 .9 .1 .3 0 .1 .3-.1 .4-.5 .4-.6 .2-.2 .5-.3 .2-.1 .4-.6 .4 .1 .3-1 .3-1 .4 0 .3-.2 .4-.1 .5-.5 .4 .1 .3 .1 .4-.2 .4-.8 .4 .1 .3-.2 .4-.1 .5-.7 .3-.3 .3-.2 .4-.5 .4-.3 .4 .2 .3-.2 .4-.1 .2-.7 .5-.5 .3 .2 .4-.6 .3-.4 .3-.4 .5 0 .2-.4 .4-.5 .4 0 .3-.2 .3-.2 .4-.7 .4 0 .4-.4 .2-.7 .4-.2 .4-.2 .4-.1 .4-.4 .5-.6 .4 .5 .3-.5 .5-.4 .4-.1 .4-.1 .5-.6 .3-.1 .5-.2 .4-.3 .4-.2 .5 0 .4 0 .4-.6 .4-.2 .4-.2 .3 .1 .3-.5 .4-.7 .3 .2 .4 0 .3-1 .4-.9 .4 .6 .3-.4 .3-.1 .4 0 .4-.3 .2-.4 .3-.5 .4 0 .3-.9 .5 .2 .2-.3 .5-.6 .2-.4 .4 .2 .3-.1 .4-.7 .4-.6 .3 .1 .3-.7 .4 .3 .3-1 .3 0 .4-.6 .3-.7 .3 .1 .4-.1 .4-1.1 .2-.2 .3 .2 .3-1.1 .3-.1 .3 .1 .4-.9 .2 .1 .4-.7 .3 .4 .3-.3 .3-1 .3 .1 .3-.6 .4 .1 .2-.3 .2-1 .4 0 .4-.7 .2-.4 .3-.1 .3-.2 .4-.1 .2-.5 .4 .1 .4-.9 .2 .6 .3-.6 .4-.1 .2-.7 .4-.8 .3 0 .2 0 .3-1 .4 .5 .3-1 .3-.2 .3-.6 .2-.3 .3 .3 .4-.8 .2 .2 .4-.7 .2-.7 .4-.1 .2-.6 .2-.1 .3-.4 .4-.7 .2-.5 .3-.1 .4-.9 .3 .2 .1-.3 .4-.6 .3-.8 .3-.1 .2-.4 .3 .1 .2-.6 .3-.4 .3-.2 .3-.8 .3 .1 .3-1 .3-.4 .3-.5 .3-.2 .2 0 .3-.1 .4-.7 .2-.5 .1 .1 .1-.1 .2-.8 .1-1 .2 .4 .1-.9 .2-.3 .2-.5 .1 .2 .2-1.2 .1-.3 .1-.1 .1-.6 .3-.5 .1-1.1 .1 .4 .2-.6 .1-.4 .1-.9 .1 .2 .1-1 .3 0 .1 0 .1-.5 .1-.7 .1 .2 .2-.2 .1 .6 0 .5 .1 0 .1 .8 0 .2 .2 .1 -.1 .7 .2 .3 0 .1 .1 .7 .1 .8 .1 .4 0 .2 0 .1 .1 1.2 .2 .5 0-.1 .1 .3 0 1.2 .1 0 0 .5 .2 .5 .1 .6 -.1 .2 .1 .7 .2 .6 0 .3 .1 .8 .1 .3 .1 .5 .1 .6 .1 .4 .1 .4 0 .3 .2-.4 .1-.5 .1-.1 .1-.4 .2-.2 .1-.5 .2-.3 .2-.7 .1-.3 .1-.4 .2-.6 .1-.7 .2-.7 .1 .2 .2-.5 .1-1.1 .1 0 .1-.1 .3-.5 0-.4 .3-.6 0-.3 .2-.1 .2-.2 0-1 .3-.8 .1-.2 .1-.2 .2-.1 .2-.7 0-.4 .3-.7 .2-.3 0-.3 .2-.5 .2-1.2 .1 0 .2-.3 .2-.7 0-.3 .3-.2 .2-.4 .1-1.1 .1 .2 .1-.3 .2-.4 .2-.7 .2-.7 .1-.4 .2 0 .1-.8 .1-.3 .3-.7 .1-.3 .1 0 .2-.6 .1-.8 .2 .4 .1-.4 .2-.8 .1 0 .3-1.4 .1 0" stroke="#0000ff" stroke-width="2.3" fill="none" stroke-linejoin="round" stroke-linecap="round" clip-path="url(#cE)"/>
<path d="M259.7 373.5l-.5 5.5 .4-4.3 0 1.8 .3-.5 -1.1-.5 0 1 .9 2.9 -.7-3.7 .4 2.5 .7-2.4 .2 .2 -.2-2.5 -.2 2.3 -.1-1 -.2-.9 .5 5 -.9-.8 .6-1.4 .7-7.5 -.1 6.7 -.6 2.2 .3-3.5 -.3 1.1 -.1-4.3 .3 3.1 .5 2.4 -.6-2.6 .2-.3 .6 1.9 -.5-3.3 .2-2.7 0 .1 -.2 .3 -.3 .3 .7-1.7 0 1.3 .4 2.4 -.3-3.7 .4 2.9 -1.1 .7 .7-8.3 -.3 4.7 .4 2.8 -.7-1.5 .6-3.4 -.2 4.1 .1-3 -.2 .4 -.2 .2 .1 3.3 .4 .1 .7-3.1 -1 4.4 .2-3 .5 .1 .3 .7 -.2-3 .2 2.5 -.7-3.1 .6 .5 .2 .8 .1 .3 -.5 1.4 .1-1.7 .9-1.2 -1.1 2.8 .2-3.1 .2-1.3 -.1 2.8 .8-.8 -.7-1 .8 4.9 -.5-5.3 -.2 1.2 -.2-1.8 .4 5.5 -.1-3.5 .6 1.5 -.3-5.8 .5 3.1 .6-.3 -1-2.1 1-.5 -.2 1.2 -.7-3 .1 6.1 1.2 .4 -.8-3 0 1.1 .6-5.7 .7-2.3 -.4 2.4 .6-2.1 -.6 2.7 .7-1.1 -.9 4.2 1.1-1.5 -.6-4.9 .2 2.6 -.3-1.8 -.1 2 .6-.3 -.4 .9 .1-2.1 1 .3 -.7-3.4 .3 5.8 -.1-3.6 .4 4.7 .6-3.7 -.9 1.6 .3 1.9 0-4.3 -.1 1.6 1 1 -.6 .1 -.2 .6 .4 1.3 .1-3.2 0-5.2 .3 5.8 -.1-1.2 .5 1.7 -.5-2 .4-4.5 -.8 5 .9-5 0 7.2 -.9-4.7 1 .3 0 .9 -.1 .1 .7-1.4 -.7 1 .9-1.7 -1.2-.7 1.2 3.6 -1.1-.4 .4-3.2 .3-2 -.1-.9 0 4.7 .7 .5 -.8-5.3 -.1 4.7 1.3-.7 -.6 .3 -.3-1.6 .7 1 -.5-1.9 .8-1.8 -1.1 .1 1.4 5.2 .1-7.7 -1.1 3.3 .2 1.9 .8-1.7 .5-3.5 -.8 1.6 .5-.6 .7-.6 .1 3.5 -.1-1.5 -.6-1.4 .4 2.7 .1-.4 -.2-3.1 .9-.3 -.5 .5 -.2-.9 .4 5.5 .2-4.4 -.2-1 .9 .6 -.3-2.2 .7 .4 .1-3.5 -.7 3.6 .3-.8 .7 3.9 -1-3.8 1.3 5.5 -.6-5.2 .6-1.1 -.9 3.6 1.4-6.8 -.5 3.2 .2 4.8 .2-3.5 .1-.9 -.7 3.9 .6-4.4 .3-4.6 .7 5.7 -.1 1.1 -.1 1.9 .3 3.1 -.6-6.9 .3 3.1 -.3-1.1 .4-1.2 1.1-.5 -.1 6.2 .3-4.5 -.4 .7 -.6 2.9 .9-4.4 -.1 1.3 .3-.6 -.1-4.5 -.6 5.8 .9 2.3 .3-3.7 -.5-2.8 .8 3.4 -1-2.4 .4 .9 .3 .2 -.6-3.9 .4 4.3 .5-5.6 .4 2.3 -.2-.5 -.1 3.3 .3-2.2 -.3-.3 .7-2.3 -.1 1.8 -.9-2.6 .4-1.8 .3 3.6 .7-.9 0-1.1 -.1-1.4 -.6 5.1 .7-.7 -.3-.2 .1-1.4 -.5-2.6 1 .8 -.8-2.9 .7 0 -.1 1.7 .6 4.5 .2-1.9 -.6-.3 .8-4.6 -.4 3.9 .4 .2 .1-1.6 -.9-.9 .6-.3 .6 .6 -1.1-2.8 1 3.4 -.5-3.1 .3 2.1 -.6 2.7 0-4.7 .6 2.5 .4 .7 -.3 2.4 -.1-6 .2 2.5 .4-1.8 -.4-1.2 .4 3 .4-4.2 .1 4.1 -.1 2.3 .1-4 .1-5 -.1 .7 0 1.7 .3-1.5 -.7 2 .1-1.3 1-.9 .1 0 -.5 3.6 .8-.4 -.5-1.9 .2-3.1 .2 .8 -.7 0 .1-1 .3 1.9 .9-4.3 -.6 3.4 .8 2.4 -.6-1.2 .2 3.8 .1-1.5 .6 .7 .7-2.3 -.5 .3 0-1.7 .4 2.1 -.1-1.6 -.3 3.1 1.1 1.1 0-1.6 -.3-.1 .6-3.5 0 4.1 .6 3.7 -.4-2.5 .8-2.6 0 .2 -.4-1.1 -.4 4.1 .2-2.6 1.2 .4 .3 .5 -.3-.8 -.7-2.9 .9 3.8 -.2-4.6 .1 5.5 0 3.1 0-5 .3 5 -.2-1.4 1.3-4.6 -.6 1.4 .5 2 .3-.6 .1 2.5 .3 .5 -.7-3.4 .4-5.4 .6 8.3 .5-6.5 .1 5.1 -.9-3.3 1.3 1.7 -.4-1.5 .2-.5 -.3-1.6 .3 7.2 .6-8.1 -.5 2.1 .1 4.5 .1-.3 .8-.6 .4-1.1 0-5.1 .1 4.3 -.1-.9 -.2-3.1 .7-1.1 .4 .9 .1 1.3 0 1.5 .1-.5 -.6 3.7 0-2.4 .5-1.5 .4 2.1 .1-3.2 -.5-2.3 .7 5.8 .5-5 -.5-.6 1.1 2.5 -.7 5.5 1-2.3 -.5-.5 .1-3.5 -.3 2.9 .2 2.2 .6-7.1 -.4 2.1 .2 5.6 .1-2.4 .7 1.3 .3-5.2 -.2 2.5 .7-2.2 -.1 3.7 -.1-3.1 .4 4.4 -.2-2.9 .8 1.7 -.4-.2 .5-1 .9 1.1 -.1-2.1 -.2 4.1 .8-2.5 -.9-.1 .5-1 .7 3.5 -1.1-3.4 .4-.4 1.2-.5 -.6 0 .2 3.8 0-4.5 -.2 1.3 1-.7 -.1-.6 -.2-1.6 .8 .7 0 2.5 -.4-1.6 0-.1 .4-4 1.1 6.3 -1.2-5.5 1 4 .5-.3 -.7-6.1 -.1 6 .5 1.4 .5-.6 -.3-3.4 .2 3.9 .2-3.4 -.3-2.2 1.3 3.9 -.4-.4 .1 2.1 .8-1 .1-2.4 0 2.2 -.6-.1 .3-2.2 .2 .5 .5 2.1 .3-3.2 0 2.6 -.3-1 .2-1.1 .2 2.4 .3-3.5 -.6 .9 .1 4.8 .4-1.9 .1-3 .1 .1 .1 2.1 0-1.2 .4 4.4 -.2-2 .5-.6 -.4-1.7 .2-1.1 0 1.8 -.3 2.8 1-4 -.6 2.4 .2-1.3 -.4-1.4 1.3-2.7 .1 2.6 -.2-3.5 .3-.6 -.1-.2 -.2 2.8 -.6-4.1 .3-.2 1-3.7 -.3 8.2 -.8-3.5 1.1 1.9 .2-5.5 -.2 1.5 -.1 2.7 .1-1.3 -.1-2.6 .6 .8 -.7-1.4 -.2 3 .2 1.4 1-.5 -.9-5 .5 2.1 .1-1.8 -.1 5.2 .8-2.4 -.4-1 .1 1.8 -.8-1.1 .9-2.7 .1 .1 -.2 2.8 -.5-4 .3 3.9 .6 .5 .4-3.1 -.3 2.7 .2-1.2 -.4-3.2 .6 4.9 .4-3.4 -.7-.4 .9 1.1 .1-5 -.5 5 .9-2.6 -.2 .3 .4 1.9 -.4 .3 .1-3.7 .6 7 -.2-2 .5-3.8 .1-1.6 .1 1.5 -.5 2 .9-1.9 -.1-1.7 .1 2.7 0 .1 -.1 0 .3-2 .4-.4 -.1-.1 .6 0 -.3-1.3 .3 .4 0 1.4 .2-3.1 0 1.3 .3-.5 0-.7 .4-.4 0 1 .3-.1 0-1.3 .3 .8 -.1-.9 .2-.4 .1-.1 .5-.6 .4-.1 .3-.3 .3-.2 .4-.5 .4-.1 .4-.1 .4-.9 .2 .3 .4-.2 .4-.3 .3-.3 .4-.5 .3-.6 .4 .2 .4-.2 .4 .2 .3-.6 .3-.1 .5-.5 .2-1.1 .3 .4 .3-.4 .3-.2 .4-.5 .2-.5 .3-.2 .2-.2 .3-.5 .3-.5 .2-.3 .3-.5 .3-.2 .3-.7 .2-.3 .3 .1 .2-.6 .4-.2 .1-.7 .3-.3 .4-1.1 .3 .2 .4-.3 .4-.2 .3 .2 .5-.3 .4-.4 .4-.2 .4 .1 .4-.4 .4-.1 .4-.3 .4 .1 .3-.7 .3-.7 .4-.2 .2-.4 .5-.8 .2-.4 .3 .2 .4-.5 .3-.1 .4-.9 .3 .2 .3-.7 .4 .1 .3 0 .3-.6 .3-1 .4 .3 .4-.7 .2-.3 .5-.4 .4-.3 .3-.1 .3-.3 .4 0 .4-.5 .3-.3 .4-.1 .2-.1 .5-.8 .3 .6 .3-.9 .4 .2 .4-.7 .3-.3 .1-.6 0-1.1 .1-.3 -.1-.7 .1 0 .1-.6 0-.5 0-.4 0-.5 .1-.1 .1-1 0-.6 0 .1 .1-.8 0-.2 0-.7 0-1 .2-.1 0-.3 0 .1 .1-1 -.1-.3 .1-.5 .1-.6 0-.8 0-.9 .1-.3 .1-.6 -.1-.2 .1-.2 .1-.6 0-.5 .1-.1 0 .3 0-.2 .2 .9 0 .7 0 .4 .1 .4 0 .2 .1 .1 .2 1.1 0 .1 .1 .4 -.1 .2 .2 .8 0 .8 .1 .1 .1 .6 0 .7 .1 .6 .1-.2 0 1 0-.1 .2 .5 0 .3 .1 .3 .1 .8 0 .1 .1 1 .1 .2 .1 .3 .1 1 -.1-.1 0 .8 .1 .4 .2 1.1 0 .3 0-.4 .2 .7 .1 .6 .1-.4 .2-.6 .1-.3 .2-.8 .1 .2 .2-.3 .2-.4 .2-.6 .2-.1 .2-.8 .2-.4 .1-.8 .2-.2 .2-.4 .1-1.1 .3 .6 .4-.5 .3-.3 .4-.6 .4 0 .4 .1 .4-.2 .3-.5 .5 0 .3 .3 .4-1 .4 0 .4-.1 .4-.6 .5-.5 .3-.2 .5-.1 .3-.4 .4-.4 .5 .5 .4-1.2 .3 .2 .4-.1 .5-.4 .3-.7 .4 0 .4 .1 .4-.6 .3-.3 .4-.4 .4 .5 .4-.1 .3-.5 .5-.1 .4-.5 .2-.1 .5-.3 .4-.1 .2-.6 .5-.2 .3 .4 .5-1 .3-.7 .5 .5 .2-1 .5-.1 .4-.2 .4 .1 .3-1.1 .3 .2 .5-.2 .4-.3 .3 .1 .4-.5 .4-.4 .4-.4 .4-.5 .3-.1 .5-.1 .3-.1 .3-.7 .5 .2 .3-.2 .5-.3 .3-.7 .3 0 .5-.4 .4 .3 .4-.6 .3-.3 .3-.4 .5 0 .3-.3 .5-.5 .4 0 .3-.2 .4 0 .4-1 .4-.1 .4-.1 .4-.4 .3-.2 .5-.1 .4-.5 .4 .4 .3-1.1 .5 0 .4-.6 .4 .4 .4-.7 .5-.2 .3-.5 .5 .1 .1-.3 .3-.7 .3-.4 .3-.4 .3 .2 .3-.8 .4 .4 .2-.9 .2-.4 .3-.5 .2-.2 .4 .1 .3-.9 .3 .3 .2-.9 .3 .1 .4-.5 .2-.4 .2 .1 .4-1.1 .3-.4 .2-.1 .3-.5 .3-.5 .3-.3 .3-.2 .2-.3 .3-.7 .4-.2 .2-.6 .2-.3 .5-.6 .3-.2 .4 .3 .3-.7 .4-.4 .4-.4 .4-.4 .4 0 .4-.1 .2-.3 .5-.3 .4-.6 .3 .2 .3-.4 .4 .1 .5-.5 .3-.1 .1-.9 .3-.3 .3-1.4 .1-.3 .2-.4 .2-.4 .2-.2 .2-.6 .1-.3 .2-.6 .2-.4 .2-.2 .2-.6 0-.6 .3-.2 .1-.1 .2-.7 .2-.4 .1 .2 .3-1.2 .1 .3 .2-1 .2 .4 .2-.9 0-.2 .2-.8 .2-.7 .1-.3 .2-.3 .3-.8 0-.2 .3-.3 .1-.3 .2-.6 .2-.2 .1 0 0 .9 .1 .5 .1 .4 .1 0 .1 .9 .1 .4 0-.2 .1 1.2 .1 .3 .1 .4 .1 .4 .1 1.1 .1-.1 0 .3 .2 .6 0 .4 0 .5 .2 .2 .1 .8 .1 .6 .1 .2 .1 .5 -.1 .4 .2 .6 .1 .3 0 .5 .2 .6 .1 .4 0 .4 .1 .3 .1-.2 .2-.7 .2-.6 .2-.4 .1-.3 .2-.4 .2-.2 .1-.5 .3-.5 .1-.6 .3-.3 .1-.4 .1-.5 .3-.5 .1-.3 .2-.5 .3 .2 .1-.6 .1-.7 .2-.4 .3-.2 0-1 .1 0 .2-.9 .2 .4 .1-.6 .3-.9 .1 .1 .2-.7 0-.3 .2-.6 .1-.8 .3 .4 .1-.9 .2-.7 .1-.5 .2 0 .1-.5 .1-.2 .2-.5 .2-.5 .1-.3 .2-.7 .1-.1 .2-.7 .1-.2 .2-.4 .2-.6 .1-.1 .1-.3 .2-.8 .2-.4 .1-.3 .2-.9 .1-.1 .2-.9 .1 .2 .1-.5 .3 0 0-1 .2-.7 .2-.8 .1 0 .1-.2 .3 .1 .1-.9 .2-.2 .1-1 .3-.6 .1 .3 .2-1 0-.2 .3-.4 0-.6 .2-.7 .3-.1 .1-.2 .1-.7 .2-.6 .1 .2 .2-.2 .2-1.1 .2-.1 .1-.5 .2 0 .2-1.2 .1 .5 0-.9 .2-.5 .2-.3 .2-.6 .1-.6 .2-.2 .1-.4 .1-.6 .2-.3 .2-.9 .1-.3 .2 .1 .2-.7" stroke="#8000ff" stroke-width="2.3" fill="none" stroke-linejoin="round" stroke-linecap="round" clip-path="url(#cE)"/>
<path d="M435 198l.4 7 1.5 17.1 .6-12.1 .5-12" stroke="#8000ff" stroke-width="2" fill="none" stroke-linejoin="round" stroke-linecap="round" clip-path="url(#cE)"/>
<path d="M443.5 198l.1 24" stroke="#ffff00" stroke-width="2" fill="none" stroke-linejoin="round" stroke-linecap="round" clip-path="url(#cE)"/>
<path d="M259.3 368.1 L446 199.3" stroke="#000" stroke-width="2.2" stroke-dasharray="8.5 9" stroke-dashoffset="0" fill="none" clip-path="url(#cE)"/>
<rect x="259.2" y="199.3" width="184.9" height="184.9" fill="none" stroke="#000" stroke-width="1.5"/>
<path d="M285.8 384.2V379.7M285.8 199.3V203.8M338.9 384.2V379.7M338.9 199.3V203.8M391.9 384.2V379.7M391.9 199.3V203.8" stroke="#000" stroke-width="1.4" fill="none"/>
<path d="M312.3 384.2V376.2M312.3 199.3V207.3M365.4 384.2V376.2M365.4 199.3V207.3M418.5 384.2V376.2M418.5 199.3V207.3" stroke="#000" stroke-width="1.4" fill="none"/>
<path d="M259.2 355.7H263.7M444.1 355.7H439.6M259.2 298.7H263.7M444.1 298.7H439.6M259.2 241.7H263.7M444.1 241.7H439.6" stroke="#000" stroke-width="1.4" fill="none"/>
<path d="M259.2 327.2H267.2M444.1 327.2H436.1M259.2 270.2H267.2M444.1 270.2H436.1M259.2 213.2H267.2M444.1 213.2H436.1" stroke="#000" stroke-width="1.4" fill="none"/>
<text x="268.3" y="217.8" font-family="Liberation Sans, sans-serif" font-size="20" text-anchor="start" font-weight="bold" font-style="normal" fill="#000" style="stroke-width:0.5px">e</text>
<path d="M342.8 315 H380.5" stroke="#ff0000" stroke-width="2"/>
<text x="434.5" y="321" font-family="Liberation Sans, sans-serif" font-size="17" text-anchor="end" font-weight="normal" font-style="normal" fill="#000" >200 K</text>
<path d="M342.8 335.1 H380.5" stroke="#ff8000" stroke-width="2"/>
<text x="434.5" y="341.1" font-family="Liberation Sans, sans-serif" font-size="17" text-anchor="end" font-weight="normal" font-style="normal" fill="#000" >150 K</text>
<path d="M342.8 355.5 H380.5" stroke="#ffff00" stroke-width="2"/>
<text x="434.5" y="361.5" font-family="Liberation Sans, sans-serif" font-size="17" text-anchor="end" font-weight="normal" font-style="normal" fill="#000" >100 K</text>
<text x="259.2" y="403.5" font-family="Liberation Sans, sans-serif" font-size="16.5" text-anchor="middle" font-weight="normal" font-style="normal" fill="#000" >0.0</text>
<text x="312.3" y="403.5" font-family="Liberation Sans, sans-serif" font-size="16.5" text-anchor="middle" font-weight="normal" font-style="normal" fill="#000" >0.5</text>
<text x="365.4" y="403.5" font-family="Liberation Sans, sans-serif" font-size="16.5" text-anchor="middle" font-weight="normal" font-style="normal" fill="#000" >1.0</text>
<text x="418.5" y="403.5" font-family="Liberation Sans, sans-serif" font-size="16.5" text-anchor="middle" font-weight="normal" font-style="normal" fill="#000" >1.5</text>
<text x="295.5" y="432" font-family="Liberation Sans, sans-serif" font-size="20"><tspan font-family="Liberation Serif, serif" font-style="italic">ω</tspan><tspan font-size="12.5" dy="-9">2</tspan><tspan dy="9"> (10</tspan><tspan font-size="12.5" dy="-9">6</tspan><tspan dy="9"> cm</tspan><tspan font-size="12.5" dy="-9">-2</tspan><tspan dy="9">)</tspan></text>
<path d="M450.5 372.3l1.2-5.3 -1.2 4.5 -.1 3.5 .7-4 1.1 .7 -1.6 3 .6-3.8 .6 2.1 .1-1.4 -.4 2.8 0-3.2 -.6 1.4 1.3 .1 -.6-5.5 1.3-1.2 -1.2 2.2 1.2 3.1 .1 1.3 -.1 1.6 0-8.7 -.3 4.3 -.1-.1 .3-2.9 .3 2.1 -.6 2.1 -.6-5.8 0 5.4 -.2 .5 1.7-.6 -1.7 2.2 1.1-5.7 -.9 3 .8 .7 -.5-.3 .5-1.3 .8 2.6 -.1-6.1 -1.4 .5 .2 .9 1.9-3.1 -1.5 2.6 1 3.4 -1.2 .1 1.8-6 .1 4.9 .4-.4 -.9-6.3 .9 2.3 -.3 2 .1-9.1 -.6 .5 -.2 3.4 1.8-4.9 -.9 5.7 .7 2.1 .1-3.7 -1.3 2.7 1.2-1.8 -.1-1.4 .8 2.3 -.7 2.6 .8-3.4 -1.4 5.3 1.6-6.5 -1.5 2.3 1.1 1.6 .2-6.1 -.7 3 .5 4.2 0-7.7 .8 1.1 -1.3 3.8 1.3-7.1 .2 8.6 -.2 2.4 -.4-8.8 1.7 .5 -1.3 3.4 -.2-.6 .7-3.7 1.3 6.7 .1-7.2 -.8 10.9 .9-6.7 -1-1.7 .1-2.8 -.6 10.6 .3-.6 1.1-5 .8 4.3 -1.2-2.2 -.2-1.3 .6-9.1 .3 15.2 0-8.6 1 6.3 -.7-5.7 .2-.8 .2 1.4 -1.3-7.3 0 1.4 .2 5.9 .5-.8 .7-.3 -.6 4.2 1.8-8.2 -1.8 1.7 1.8 .2 -.4 3.9 .3-1.5 .5 .3 -.1-5.3 -.2-.5 .4 3.6 -.7-3.3 -.8 1.7 1.9 2 -1.3 .3 .1 .6 -.3-7.9 .8 9.1 .6-7.3 .7 5.1 .1-8 0-.8 -.5 6.1 -.6-1.2 .8-3 .6 5.7 -.3-2.9 -.1-2.9 .7-2.9 .1 7 -.2-3.1 -.6 1.9 -.3-1.6 1 1.9 -.3 3 1.6-5.8 -1.8 2.7 2 3.1 -1.1 .5 .3-9 .4-4.4 -.7 7.8 1.2 2.7 .6-5.1 -.2 2.1 -.7-2.1 -.4 5 -.1-3.5 -.1 3.5 1.2-3.8 1 2.2 .2-3.1 -1.8 1.1 0 1.4 1.6 0 -.8-2.5 -.6-4.3 1.5 6.4 -1.2-2.7 .2 4 .5-2.3 -.7 .6 1.3-1.4 -1-4.4 .2 11.6 -.4-6.7 0 .6 1.5-5 .4-3.3 -.2 12.2 .6-8.8 .1-2.1 -1.9 2.7 1.1 .9 .9-5.9 -1.1 .2 1.3 .7 -1.5 4.2 1.6 .2 -1.6-.1 .6 .8 -.4-2.9 0 1.3 1.3-1.7 -.5-3.3 1 3.5 -1.4 2.2 .7 .9 -.3-6.3 -.6 5 .8-.6 -.5 3.5 .2-1 1.8-.8 -1.3-4.7 .7 1.1 -.8 7.7 .9-8.2 -.9-5.7 .8 3.1 0-.4 -.9 1.5 .7 5.6 1.5 3.5 -.2-7.3 -1.1-.4 .7-.1 .6-.2 -.1-.8 .3 7.4 -.9-8.3 -.1 3.1 -.2-1.2 1 6.7 -.2-11 .1 4.5 .8 3.9 -1.2-6.5 1.1-3.9 .3 5 .1 1.7 -.9-1.3 -.4 .2 1.4 2.8 -.6-9.3 1.3 8.6 -1.9 3.1 .9-5.3 1-1.4 -1.4 3 -.2-7.1 1 5.6 .9-6 -.8 12 -1-7.7 1-2.1 1.3 6.3 -.3-10.5 0-.5 -.5 8 -.7-1.2 -.2-7.6 .9 5.9 -.1 4.8 -.1-6.2 -.2-2.2 .7 4.1 .4-3.7 .6 4.2 -1.4 3.6 .3-3.3 .4 1.9 .5-4 0-3.9 1 1.3 -1.2-4.4 1.8 4 -1.3 .1 .8-.9 -.4 1.8 1 1.2 -.9-.3 1.5 3.2 -1.1 .8 1.5-11 -.7 3.9 .8 1.1 .5-2.7 .2 5.1 -1.3 2.4 .3-5 .7 7.8 .2 2.6 -1-4.5 1.2-3.4 .5 .3 .5-6.2 -.6 2.2 .6-2 .5 4.5 -.4-1.9 .5 .1 -.5 .1 .2 .8 -.9 4.1 2 4.3 .2-6.3 -.9 2.9 .3-3.8 .3 .4 -1-2.4 .2 2.5 .9 4.7 1.3 .3 -.5-4.1 .4-3.8 -.5 4.9 -.6-1.9 1.7 .8 -1.4-3.6 .1 4.9 .6-2.4 1.4 .8 .4 1.9 -1.1-3.8 -.1-.8 1.2-.9 -.7 4.9 .9-5.9 -1.2 9 .5-7.5 .8 3.4 -.7-.1 .4 3.6 0-2.5 1.6 2.9 -1.5-4.6 1.8 1.5 -1.5-5 1.4 2 .2 3.5 -.1 4.9 0-10.6 -.3 9 1.4-8.4 -.3-.1 .6 3.2 -.5-1.2 -.8 2.1 1.1 7.4 -.1 1.1 1.2-10.4 -1.6 5.1 0-4.7 1.1 2 -.1-.6 -.6 1.7 .7 .5 .5-4 -.5-.4 1.5 1 -.8-3.7 -.3 10.1 1.1-.5 -1-6.3 2.2-4.3 -.9 5.8 .8-2.9 .5 3.3 -.8-.6 .6-.2 -.8-6.1 .2 4.3 1.6-.2 -.4 1.1 .8-2.1 -1.6 5.3 1.5-10.1 -1 4.9 1.6 0 -1.3 3.6 1.8 .7 -1.2-3.5 1.2-4 -.1 9.8 -.4-8.3 -.4 0 .7 1.4 .1 0 .1 .4 .9 3.1 .4-4 .4 5.1 .2-6.8 -.4 5.3 -.2-.8 .7-3.7 -1.5 4.4 1.1-.3 .2-1.5 .2 3.8 -.7-3.5 -.2-2 1.5 1.8 .7 2.6 -1.5-5.7 1.1 3.5 0-3.6 .6-1.4 -.3 6.8 -.9 .7 .1 5.2 1.3-11.1 -1.1 2.8 .8-.4 1 .1 -.2-.1 -.8 2.9 1.3-5.1 -.6 .6 .7-5.4 .2 1.6 -.9 2.1 .3-8.2 -.3 6.4 1-2.5 .3 5.6" stroke="#8000ff" stroke-width="1.8" fill="none" stroke-linejoin="round" stroke-linecap="round" clip-path="url(#cF)"/>
<path d="M525.5 295.3l.2 .8 .1-2.2 0 .7 .1-1 .4-1.6 0-.6 .2 .3 .1-.5 .4 1.4 .1-2.2 .1 .5 -.1-1.6 .3 .7 -.1-1.7 .3-1.8 -.1-.2 .2-.9 .3-.6 -.2-.6 .5 0 .1 .1 .1-.6 .4 .4 .1-1.2 .4 0 0-.4 .1-.6 .3 1.2 .3-1.2 .1-.2 .2-2.3 .2-.2 .3 .1 -.1-1.5 .3-.1 .2-.3 .2-1.8 .3-1.4 .2 .5 .4 .1 .1 .6 .2-2.3 .5 .7 .5-1.5 .4 1 .4-.6 .4-.3 .7 .8 .4-1.3 .7 2.1 .2-1.5 .6 1.6 .6-1.8 .4 1.7 .4-.5 .4-.1 .9-.8 .4-.6 .4 2.1 .7-1.2 .4-1.1 .3 .3 .5-1.7 .6 .3 .4-1.8 .5 1.3 .5-.1 .6 0 .4 .5 .8-.2 .2 .3 .5-1.1 .8 .8 .5 0 .4 .4 .6-.7 .2 0 .8-.6 .2 0 .6 0 .2 .1 .4-.5 .6-.7 .3-.4 .5-.6 .4 1.6 .4-.5 .6 .6 .2-2.2 .5-.2 .4 1 .4-1.5 .5 0 .4 .1 .6-1.3 .4 .9 .3-1.3 .7 .2 .4-.5 .5-.2 .1-1.2 .4 1.4 .4-1.9 .4 .4 .5-.5 .5-.7 .2-.8 .3-.8 .5 0 .5-.9 .1 1 .8-1.1 .3 0 .4-.2 .3-1 .2-.3 .8 .9 .2-1.6 .5-.1 .1-.6 .5 0 .5 1.5 .2-1.7 .5 1.4 .4-.9 .6-.4 .4 0 .3 0 .4-.9 .2-.4 .7-.2 .2-1.3 .3 .7 .5-.8 .3-.4 .4 .8 .6-1.6 .3 .6 .5-.8 .5 .4 .3 .3 .2-.5 .7 0 .1-.7 .4 0 .6-.9 .3-1.4 .6 .2 .1-.7 .3-.9 .5 .6 .5 0 .2-1.8 .4 0 .5-.1 .4 .9 .3-.2 .7-2.1 .4-.3 .1 .6 .8-1.8 .3 .8 .5-.4 -.1 .4 .7 .2 0-.2 .3-.5 .3-.9 .4 .6 .3-1.9 .3-1.3 .1 .6 .6-1.4 -.1-.4 .3 .1 .3 .3 .6-3.6 0 2.5 .4-1.6 .5-.6 .3 .2 .3-.2 .3-.6 .5-.7 0 .5 .5-1.2 .1-.1 .6 .1 .1 .1 .4-1 .3-1.1 0-.8 .3-.6 .5-.1 .4-1.7 .2 1.5 .3-1.1 .1-.5 .3 .6 .6-1.1 .4-1.2 .1 .1 .6-1.3 .2 .8 .7 .4 .2-1.5 .3 1.3 .6-.9 .1-.2 .4-.3 .6 .1 .5-.7 .1-1.4 .3-1.1 .6-1 .4 .8 .5-.4 0 .3 .4 .6 .7-1.1 .2-1 .7-1.1 .3-.9 .5 1.4 .3-1.2 .6-.4 .3-1 .4 0 .4-.3 .5 .5 .1-.2 .3-.5 .3-.7 .3-.1 .6-.7 0-1.1 .4 .6 .3 0 .5-2.2 .1 .8 .5-1.1 .1 .3 .6 .8 -.1-.9 .7-1 0-1.1 .5 .2 .4 .9 .1 0 .4-.6 .6 .6 .4-.5 .4-1.4 .2 .4 .5-.4 .2 .3 .5-.6 .1-1.3 .4 0 .4-.7 .4-1 .5 .6 .4-.8 .1-.9 .5-.9 .3-1.1 .4 1.1 .3-.8 .4-.6 .3-1.1 .4 1.2 .1-2.3 .3 .9 .5-1 .3-.2 .4-.1 .2-.4 .3-.9" stroke="#8000ff" stroke-width="2.3" fill="none" stroke-linejoin="round" stroke-linecap="round" clip-path="url(#cF)"/>
<path d="M466.6 352.2l.2 6 -1.8-3.8 1.5 3 -.4-.4 1.4 6.7 -2-.9 .4-2.9 .6-5.7 .2 4.3 .3-2.3 -.5 .2 1.2-1.5 -1.4 .2 1.1 7.4 -1-2 .1-5 .9 5.4 .6-7.4 -1.3 6.7 1-2.6 .4 6.2 -1.6-5.6 .7 3.3 .2-2.5 1.1 6.6 -.7-3.5 -.4 .1 .5-11.8 -.5 11.2 1.5-5.1 -1.8 1.3 .6 2 .2-4.4 -.1 12 .3-2.4 .5-8.5 -.4-1.3 -.2 1.9 1.3-1 -.9 4.8 .1 .2 1.2 2.7 -.9-1.1 -1.1-6.8 .6 .8 .1-.2 0-6.1 -.1 4.5 .6 6.1 .4-3.2 -.9-3.3 .9 2.9 -.5 2.3 .3-8 .8 7.1 -.4 4.8 -1.2-9.7 1-1.6 -1 3.9 .4 1.1 1.6-4 -1.9-.1 1.3 1.2 -1.2 5.1 0-6 -.1-2.8 1.3 1.9 1 1.9 -.2 1 -.5-.4 -.5-6.4 -.8 2.6 -.1-10 1.5 4.9 -.9 6 1.5 .6 -1 1 1-2.8 -1.6-4.6 .7 2.3 -.7-.4 1.4 .6 -.5-2.2 -.9 8.9 .4-2 .8-8.5 .4 8.7 -1.1 3.1 .5-9.9 .5 9.1 .1-.4 -.6-2.2 1.7-.1 -1.7-6.6 1.3 11.7 -.9-9 1.6 3.3 -1.3-5.2 .7 0 -1.2-3.5 .8 5.8 1.3-.5 -1.8 4.4 2.1-13.7 -2 16.6 1.1-14.8 .6 5.5 -.6-4.5 -.5 1.6 .2 4.2 1.4-4.6 .2 5.4 -1.2-.5 .6-2.2 -.1-9.4 1.5 9.6 -1.2-7.3 1 8.6 -1.1-5.1 1.6 2 -.3 1.5 -1.6 2.3 1.3-6.7 .4-1.1 .8 2 -2.1-2.1 2.1 1.8 -.1-.6 -1.2-.8 1.7-1.2 -.2 6.4 -1.1-7 1 1 -1.2-3.1 .5 4.6 1.3 6 -.2-7.1 -1.6-.4 2.1 2.6 -1.1-4.9 .6-1.5 -.5 11.9 .1-5.9 1.3 1.8 .2-3.1 -.4-1.8 -1.2 3.3 1.9-13.4 -1.1 14.3 -.2-3 -.4-3.3 .4 4.2 -.2 .9 2-2.4 -1.7 2.1 .9-4.6 -.5 6.5 1.5-2.3 -2-3.2 1.9-5.2 -1.3 2 -.4 3.8 1.7 5 -.8-5 .6 3.1 -.2-9.2 1.2 8.4 -1.8 3.5 -.3-7.2 1.7 4.5 .9 1 -1.4-4 .1-1.4 .8 .2 .3 1.1 .2-6.3 .2 9.7 -1.8-1.1 1.6-5.3 .6 3.6 .1 .7 -.7-6.2 -1.5 4.5 2-1.9 -1.9 1.7 .8-3.3 .6 3.8 .3-2.1 .5-1 -1.2 3.9 .2-10.9 .6 4.9 -1.2-.2 .8 2.7 1 3.9 -1.2-1.3 .7 3.6 1.2-3.6 -1.9-1.4 2-6.7 -2.1 2 .5 8.3 .6-8.4 .6 3.3 -.7 .3 -.1 3.5 .5-1.6 .7-3.6 -1.7-6.5 2.3 3.1 -1.4 4.7 -.7-5.4 2.2 9.4 -.7-7 -1.1-1.8 .2 2.8 .3-.7 .1 1.6 1.5-2.2 -1.1 1 1-.8 -1.3 6.2 .1-12.2 0 2.7 1.4-2.7 -.9 6.9 1-7.7 -.2-.2 -1.2 5.1 1.6-5.3 -1 5.3 1.8 .8 -.4 4.2 -1.2-8.7 .3-6.1 .8 8.8 -.2-4.3 1.1 8.9 -1.2-8.5 -.8 4.1 .1-3.7 .1-3.1 2 5.8 -1.5-2.6 .7 3.2 .5-3.4 -.6-3.4 .8 7.8 -.3 2.2 1.1-7.1 -1.4-3.6 .8 9.5 -.2-3.1 .2 2.3 -1.1-5.5 -.1 1.2 .8 5.6 1-1 -1.3-5.7 1.9 .2 -1.1-6.2 -.9 2.4 .4 11.7 .1 3.9 .5-9.3 .7 6.4 .3-16.2 .5 10.8 -1.9-4.2 1.4 2.9 .7-3.3 -.9 .7 -.8 1.7 1.5-3.2 -.6 3.8 1-1.9 .2-8.6 -.5 4.7 -.4-.4 .9 2.2 .1-2.2 -.8 2.5 .7 4.4 -1.2-.4 1.1-16.5 .6 12.9 -1.4-3 2 3.7 -1-5 -.5 1.5 1 1.7 .6-1.5 -1.7 2 .1-9.6 .4 2.2 .4-3.9 .7 6.9 -.2-4.2 0-1.8 1.1 6.9 .3-4.3 -2 3.8 1.4-4 -.5-2.1 1.1 1.1 -.8 4.8 1.2-3.1 .3 7.5 -1-4.6 1-.9 -1.2-.1 .5 4.4 -.1-1.7 .6-2 -.1-5.3 .2 9.6 1.5 .8 0-3.6 -.5-6.6 -.1 3.2 -.1-.6 0 1.1 .1 2.8 1.4 .1 .1 5.7 -.6 .7 .7-8.2 .7 3.4 -1.2-1.5 .3 2 -.2-.7 1-4.3 -.3 2.4 -.2 .4 1.5-1.4 -.7 1.3 -.4-6.8 .3 6.6 1.3-1.5 .3 .1 -.6-5.2 .7 8.8 -.5-3.3 .9-.2 -.8-1.1 0 .7 .8 .7 -.2 2.9 1.1-3 .3-5.4 -1.1 2.7 .7 2.5 -.6 .5 1.2-1.8 .3 3.7 -1-3.5 1.4 5 .1-5 -1.1 1.5 1.1 3.2 .7-4.2 -1.1-.5 .3 1.3 .5 1.3 -.4-.8 1.4 .1 -1.2 1.2 .2-5.2 .6 2.3 .1-.5 -.1 2 .1 .7 1.4 0 .3-1.8 -.1-.6 .2 2 .1-1.6 -.5-1.1 1.1-1 -.9-.7 0 1.9 .4 2.9 -.2-.7 .5 .9 .4-8.8 .5 6.4 .5-.3 -.9 .1 1.1 1.1 -.6-3.2 .5-.1 .3 3 -.6-1 .3 .2 .8-2.5 -.7-.5 .6 5.3 -.2-3.5 -.2 .6 1.2-.2 -.4-3 -.1-3.3 .8 5.6 -.7 .4 1.2-4.2 -1-1.2 .3 4.2 .7 4 -.4-10.6 0 8.9 1-2.1 -.4 .3 .4 .1 .2-1 .6 2.5 .1-2.1 .4 .9 -.7-.9 .9 1.5 -.3-2.6 -.3 0 -.2-2.7 1.3 .2 .1 .1 .3 5.4 -1.2-5.9 1.6 5 -.1-2.6 -.3-1.6 .4 4.4 -.5-3.9 .6 1.3 0-.2 .9 1.6 -.1 .5 -1.1-4.2 1.3 1.2 -.9 2.5 .9-1.4 .6 3.6 -.4 3.4 -.3-8 .2-.3 -.1-3.3 .1 2.2 .9-2.3 .3 5.6 0-6.2 -.7-.2 .2 6.7 1.4-4.7 .4 6.1 -1.2-3.9 .6-3.2 -.2 .6 .7 1.4 .6 3.7 0 2.4 0-5.9 -.3 .1 -.3 2.1 1-5.3 0 4 -.1 0 .7-1.5 0-1.6 .4 2.9 -1-.3 .7-.4 .7-.5 -.7 2.5 .2-4 -.5 3.1 .5-1.8 -.1 .1 .8-3.3 -.2 1.9 -.3 1.2 .4-3.4 .3 .7 -.3-1.1 -.2 6 .6-2.6 0-2.7 -.7 1.7 .7-1.6 -.1 1.4 .4 1.2 -.9-6.8 .1 4.1 1-4 -.1 3.9 -.6 .2 .6-2.3 -.6 .9 .2 .6 0 .8 .7-2.6 .1 1 -.3 .1 .2-3.1 -.1-.4 .1 2.6 -.5-1 .3-1.4 -.2 1.9 .7 .8 -.5 .3 .3 .3 -.1-4 .7 2.7 -.2-1.9 -.2-.5 .5 1.4 -.1 1.6 .2-2.7 -.5 .6 .1-1.3 0 1.2 .4-.9 -.4 .6 .5 .9 .2 .7 .1-2.8 -.3 .5 .2-1.1 -.1 .2 .4-.7 .5-1.9 .2 2.6 .2-2.7 -.1-1.8 .6 2.8 .4 .2 -.2-2.4 .5-.6 -.2 1 .7 .3 .1-.6 .4 0 .2 0 -.2 1.1 .7-2 0-.8 .2 .2 .5 .9 .3-1 .3-.3 0 .7 .3-2.5 0 1.2 .4-.1 .1-1.5 .1 1.2 .7 1.5 .1-.6 .1-.6 .1-2 .3 2.6 -.1-1.1 .1-1.2 .4-.2 -.2 .4 .3-.6 0-2.8 .2-.2 0 2.8 .4-1.6 0-.9 .1-1.4 -.3 .7 .7 .9 -.4-3.1 .3 1.7 .3-1.7 -.1 1.1 .5 1.1 -.4-1.7 .4-.7 -.2-.6 .1 1 .2 .1 .5-.8 -.3 1 .2-1.8 .2 .6 .1-.7 .2 .6 .4-.4 -.3-.9 .4-1.7 .2 .5 .2-1.3 .1 0 .4-1.3 .5 0 .1 0 .2 .1 0 .5 .4-1.5 .3 .4 .2-1.2 0 1.3 .3-1 .2-.8 .3 .3 .2-1.3 .1-.5 .2 .3 .2-1.1 .2-.2 .4-.5 .1-.2 .3-.4 .2 .2 .2-.4 .2-.5 .3-.6 .1-.1 .1 .1 .4-.8 .1 .2 .3-.8 .2 0 .3-.9 .2 .1 .1-.5 .3-.5 .2 .1 .1-.4 .1-.2 .1 1 .2 .5 .1 1 .2-.2 0 .8 .2 .6 .2 .2 .2 .5 -.1 .8 .4-.8 .5 .7 .4 0 .5-.1 .3 .6 .4-.1 .3-.3 .4 .6 .5 .3 .3 0 .4 .1 .6 .2 .1-.3 0 .7 .1-1.6 .3 .5 0-.6 .1-.6 .2-.3 .1-1 .2 0 0-.1 .2-.3 0-.5 .2-.1 .2-.9 0-.1 .1-1 .2-.6 .2-.2 0 .3 .2-.7 .2 0 0-.8 .2-.5 .1-.3 .2-.6 0-.3 .1-.9 .1-.3 .3 .2 .1-1.3 0 .2 .2-.7 .1-.1 .3-.6 .2 .2 .1-.3 .1-1.2 .2 .3 .4-1 .1-.1 .1-.6 .3 .8 .2-1.4 0 .1 .3-.5 .3 .4 .1-1 .2 .2 0-.3 .4-1.2 .2 .5 0-.5 .3-1.2 .1 .8 0-.7 .1 .8 .2 .4 .1 .5 0-.3 0 .4 .1 .6 0 .7 .2 .8 -.1-.3 .2 .6 .1 .5 -.1-.1 .2 .7 .1 .3 0 .3 -.1 .2 .2 1.2 .1-.1 -.1 1.2 0 .1 .2-.2 .1 .4 -.1 1 .2 .1 0 .8 0-.1 .1 .9 0-.2 .1 .4 .1 .3 0 .6 .2 .1 0-.3 0 .9 .1 1.3 .1-1.6 .3 .2 .4 .3 .2-1 .1-.2 .2 .3 .4-1 .1-.3 .4-.2 0 .1 .3-.6 .2-.2 .4-1.4 0 .4 .4-.1 .2-.1 .2-.9 .2-.6 .3 .4 .5-.3 .5 .2 .3 .1 .4-.2 .5-.5 .4 .1 .5 .9 .3-.8 .4-.2 .3 .3 .5 .5 .5-.8 .4 .8 .2 .1 .5-1 .2-.1 .6 .7 .2-.3 .5-1.2 .1 .3 .6-.6 .2-.3 .3-.6 .4 .1 .5 .6 .1-.3 .4-.7 .3 0 .5 .5 .3-.2 .4-1 .4 0 .2 .5 .5-1.2 .2 .2 .5-.6 .4-.6 .3 0 .2-.3 .6 .6 .3-.2 .3-.3 .3-.2 .4 .3 .3-.9 .2 .4 .3-1.1 .3-.1 .4-.3 .4-1 .4 .6 .1-.3 .5-1.1 .3 .1 .2 .5 .4-.4 .4-.4 .3 .3 .4-.3 .3-.7 .3 .2 .2-1.6 .4 .3 .4 .1 .2-.3 .3 .5 .3-.8 .3-.2 .4 0 .5 .1 .2-1.2 .4 .9 .3-1 .2-.8 .4 .1 .2-.3 .6-.1 .2-.5 .4 .1 .3 0 .2-.7 .4 .5 .3-.6 .3-.1 .3-.5 .4-.4 .3 .3 .3-.8 .1 .1 .1-.9 .3-.3 .3 .3 .1-1.1 .4-.2 0 .1 .2-.5 .3-.5 .3 .2 .1-.8 .2-.3 .4-.7 .1-.2 .2-.6 .1-.2 .3-.9 .2 .6 .1-.9 .3-.6 .1 1.5 .2-1.2 .1-.4 .2-.4 .2-.4 .2-.8 .1-.3 0-.4 .2-.8 .1 .4 .1-.9 .3 .1 .1-.5 .1-.7 .3 .3 0-.3 .2-.8 .1-.2 .1-.7 .3-.6 .1-.5 .2-.3 .1-.3 .2-.2 .1 .2 .1-1.1 .2 .2 0-.7 .2-.4 .1-.4 .3-.9 .1 .3 .3-.7 0-.6 .2 0 .1-.8 .2 0 .2-1.3 0 .7 .2-.7 .3 .3 0 .9 .2 .1 .3 .3 .2 0 .1 .6 .2 .7 .4 .6 .1-.1 .2 .4 .1 1.3 .2-.1 .2-.2 .3 .5 .2 .9 .3-.9 .5 .5 .2 .1 .5-.3 .3-1 .6 .6 .2-.7 .4-.4 .3 .2 .2-1.7 0-.5 .1 .3 .3-.1 0-.1 .2-.3 .1-.9 .1-.3 .3 .2 .1-.7 .2-.3 .1 .2 .2-1.7 .1 0 .2-.9 .2 .2 .1-.3 .1-1.1 .1 .4 .1-.6 .2-.4 .2-.5 .1-.4 .1-.1 .1-.2 .3-.2 0-.3 .1-.8 .2 .4 .1-.2 .2-1.2 .2-.1 .2-.2 0-.3 .4-.7 0-.5 .3 .1 .2-.8 .2-.4 .2-.6 .1-.3 .1 0 .2-.3 .1-.2 .1-1.2 .2 .4 .3-.6 .1-.7 .2-.1 .1-.6 .3-1 .1-.5 .2 0 .2-.3 .2-.2 0-.8 .2 0 .3-.9 .1 1.1 0-.1 0 .5 0 .2 .3-.1 0 1.2 .1 .1 .1 1.3 .1 .2 -.1 0 .2 .6 .1 .8 .1 .8 0-1.1 0 1.3 .1 .4 0 .5 .3 .6 0 .2 0 .2 .1 .4 .1 .6 .1 .6 .1 .7 0 .1 .1 .3 .1-.1 .1 .8 .1 .3 -.1 .7 .1-.5 .1 .6 .2 .5 -.1 .2 .2 .7 0 .5 .2 .1 -.1 1 0 .5 .3 1.3 .1-1.4 0-.3 .2 0 .1-.7 .1-.5 .1-1.5 .2-.2 0 .6 .2-.6 .3-.2 0-.6 .2-.5 .1-.3 .1-.4 .1-.8 0-.6 .2-.3 .2 .2 .3-.3 0 .2 .1-.7 .1 .3 .2-1.5 .1 .2 .2-.5 0-1.2 .2-.5 0-.4 .3 .3 -.1 .1 .2-1.5 .3 1 .2-1.1 0-.4 .3 .6 .1-1.1 .3-.1 0-.1 .3-.8 .2-.6 .1-.7 .2-.7 .3-.1 .2-.9 .1 .3 .5-.9 .1 0 .2-.9 .1-.1 .2-.9 .1 .4 .2-.9 .3 .2 .1-.6 .1-.3 .4-.7 .1 .4 .2-.6 .2-.3 0-.9 .2 .3 .3-.6 .1-1.1 .3-.3 .2-.2 .2 .5 .3-1.1 .3 .5 .1-1.2 .3 .2 .2-.4 .3 .4 .2-.1 .3-1.2" stroke="#0000ff" stroke-width="1.8" fill="none" stroke-linejoin="round" stroke-linecap="round" clip-path="url(#cF)"/>
<path d="M507.9 326.4l.4-1 -.3 2.1 -.2-.1 .9-4 -.3 3.7 .5-2.4 -.3 0 -.2-.1 -.5-1.3 1.1 1.7 -.7 .4 .1-2.4 .7-.8 -1.1 4.5 .9-2.5 0-.3 -.1 .2 -.2 2.3 -.4-3.1 .9 1.8 -.5 .7 -.4-4 .3 .4 -.1 2.3 .1 .5 .2-6.7 0 5.3 .8-2.1 -.5-2.4 .2 1.2 -.2 4.3 -.3-3.3 .1-2.4 .7 1.1 -.7 3.3 -.2-2.2 .8-1 -.5-1.6 .6 3.6 .4-2.3 -.8-1.5 .8 6.8 -.6-5.4 0 1.7 .5-5.6 .2 3.2 -.2 1.9 -.3-1.2 -.4-.9 .4-1.8 .1 2 0-.5 .4 .2 -.6-.8 .1-.2 0 1.4 .3-2.1 .2-1 -.5-5.2 .8 7.9 -.6-6.4 .5 .6 .4 .7 -.3-.8 -.6-1.8 -.1 1.3 .1 .7 .9-1.8 -.7 1.9 .2-2.8 0 2.4 .7-1.6 -.5 3.8 .4-.9 -.1-.9 -.6 .2 -.1-.5 1.2 2 -.5 1.2 -.6-2.1 .5-.3 .4 .2 .3-1 -.5-1.3 .6-.8 -.6 5.4 .3-5.8 .4 1.4 -.6 1.6 .5-.9 -.5 .1 0 1.3 .2-2.1 0-1.7 0 2.6 .2-1.9 -.1 0 -.1-.3 -.2-.5 .7 .1 -.6 1.5 .2-3.9 .4-.6 .3 6.9 -.3-5.8 .7-1.8 -.6 3.6 -.3-2.4 0-.5 .2 1.4 -.1 2.6 1.1-5 -.5 4.3 .6-1.3 0-1.9 -.1-.1 0-4.3 -.8 6 .9-1.5 -.2-2.1 .3 1 -.3 1 .4-4.2 -.7 1.4 .6 3.4 -.6-3.8 .9 2.7 -.3 .7 .6-.3 -.1 1.7 -.9-5.4 .1 1.2 .9-.6 .2 1.1 -.9 .9 0-1 .5-1.2 .2 1.4 0-4.7 0 1.5 -.1-3 .4 1.6 -.6 1.9 1 3.9 -.3-5.5 .3-.2 -.5 .6 .2-2 0-2.2 -.4-.3 1.1 3.4 -.6 0 -.2-.9 .6 .4 0 .2 .2 2.4 -.2-3.9 -.6 .4 1.1 1.6 -.9 1.5 .4-1.2 .3-.8 -.1 .2 .5-2.4 -.4 2 -.1 1.6 .7-4 -.3 4.3 -.6-2 0-.4 .6 .6 .1-4 0 2.6 .5-1.1 -1 .2 .8-2.3 -.2-1 -.1 1.3 -.1-1.3 .2 3.7 .7-3 -.7 1.1 .2 .3 .2 .8 -.3 .4 1.1-1.3 -.6 3 -.2-6 1 1.5 .1 4.5 -.8-1.9 .8-3 .1 .6 .1 3.5 -.5-3.3 -.4 4.3 .4-3 .8 3.7 -.2-.6 -.8-3.2 .2-1.3 .3 3.2 -.3-.4 .9 2.8 .2-4.8 -.8 1.2 .2 4.9 .5-3 .2 .4 -.3 3.6 .2-.6 -.5 2.6 .1-1.7 .5-1 .4 .5 .1 .1 -.7-1 -.1 .7 .7 1.1 .1 2.5 0-2.5 .2 .6 .3 2.7 -.1-1.3 .2-2.4 0-2.3 .3 2.6 -.5-2.7 .6 5.3 .6-.5 -.3-.7 .1 1.2 .4-4 0 .1 .4 .3 -.2 4.4 -.2-1.1 .3-.1 1 2.7 .3-4.3 -.9 0 .2 1.7 .6-.7 .2-1.7 -.2 1.5 0 1 .2-2.9 .5-.9 -.2 4.2 1 .9 -.5-1.5 .1 1.6 .3-2.7 .3 1 -.7-4.7 .6 4.6 .3-.2 -.4-3.1 .6 1.4 -.7-.6 1-.8 -.9 3.2 0-5.5 .2-.4 .5-.3 .6-1.2 -.7 6 .8-2.2 -.4-1.1 .2 .2 .5 1 -.1-1.2 .1-.6 .2 1.2 -.7-3.1 .5 4.5 0 1.3 0-3.4 .2 1.9 .4-1.7 -.3 1.1 -.4-.3 1.1 .2 -.3 .6 .1-.1 .3-4.7 -.8 3.1 1.1-1.3 -.3-3.6 -.4 1.2 .7-.2 -.7-1.6 .8 3.6 .3-.3 -.5-3.3 -.2 .7 .5-.3 .2-.4 .3-1.9 .2 1 -.4 2.8 1-2 -.9-.5 1-.3 0 .4 0 1.6 .4-1.3 -.1 2.8 0-5 .4 .8 .1 2.2 .4-3.4 -.3-2.2 -.2 4.7 .3 2.2 .6-1.4 -.8 3.7 1.1-6.8 .3 .5 -.1 .5 .5 1.4 -.3-2.3 .4-.1 .1-.7 -.5 2.7 .5-1.7 .2 .7 .3-3.8 .2 2.7 .5-2.5 -.4 2.6 .2-1.4 .4-.8 0 3.2 .4-2.8 .2 0 .4-.8 .3-.3 .6-.8 .3 .7 .3 .7 .2-1.5 .4 1.4 .5-1.1 .1-.4 .5-.5 .5-.1 -.2-.7 .5 .1 -.1-.7 .5-1.5 0-.2 .5 .3 -.1-1.4 .4 .4 .1-.6 .2-.7 0 .5 .1-.7 .5-.8 0 1.4 .4-2 .4 1.3 0-.4 .4 1 .4-2.4 .1 0 .6-.8 .4 0 .1-.1 .1 0 .5-1.3 .6-.3 0 .6 .4-1.3 .3-1.1 .6 .5 .3-.7 .2 1.7 .6-1.2 .3-1.7 .4-.5 .3 .4 .3 .7 .2-.7 .5-.7 .2-1 .4 .3 .7-.5 .1 1.7 .7 .3 .1 .1 .6-2.4 .2 .5 .4-1.2 .6-.1 .3 .8 .2-1.3 .7-.5 .5-1.9 0 1.8 .8-1.2 -.1 .2 .5 .6 .8 .3 0-1.2 .8 .4 .2-.7 .3-1.4 .1-1.5 .7 1.4 0-.2 .6-.5 .4 0 .2 0 .2-.4 .3-1 .5-.1 .4-.1 .5 .6 .3-1 .1 .2 .3-1.1 .5 .7 .2-.5 -.1-.5 .3-2 0 1.4 .5-.6 .1-1.4 .3-.3 .1 .4 .4-1.7 .1 .1 .3-2 .2-.4 .2-.2 .3-.5 .2-.6 -.2 1.3 .4-.1 .2-1.6 .4 .8 -.2 .1 .4 0 .2-.8 .3-.3 0-1.7 .3-.5 -.1 1.8 .3 .5 -.3 0 .1 .3 .1 .6 .4-.6 -.3 .4 .3 1.7 -.2 .1 0 .3 .4 1.8 .1 .3 .1-.2 0 1.9 -.1-.1 .3-.6 -.1 .1 -.2 .6 .2 .9 0 .7 .3 1.5 -.1-.1 .2 1.2 .2-.3 -.2 1.3 .1 .9 .3-.5 .5-.9 .4-.5 .4-.6 .3 .3 .2-.4 .5-1.9 .3-.6 .2-1 .5-.8 .1 1.4 .1 .1 .4-.3 .1-.3 -.1 .1 .2-.8 .2-.2 .1-1 .2-.4 .1-.3 -.1-2.1 .5 0 -.2-.1 .3-1.1 .1 .1 0 .8 .2-1.1 .1-.4 .5-.3 0-.9 .1 .4 0-.9 0 .2 .3-.4 -.1 1 .4-1.8 0-1.7 -.1-1.3 .1 .1 .4-.2 .1-1.4 0-.4 -.1 .1 .3-.1 .1 .5 -.3-1 .4-.8 -.2 1 .4-1.3 .1-.2 -.2-.6 .1-.3 .5-1 -.2-1 0-1 0 .9 .5-1.4 0-.1 0 1.7 -.2 .7 .4-1.7 -.3 1 .4 1.9 -.3-.2 .2 2.2 .2-1.2 -.1 2.3 .2-.4 .1-.5 .2 1.5 -.2 .7 .1-.6 -.1 1.6 0-.1 .2 .2 .1 .4 .3 .5 -.3 2.4 0-1.1 .3-.3 -.1 1.4 0 1 .2-.1 .2 .3 .3-.9 .5 .9 .3-.5 .1 1.2 .4-.4 .7 .3 -.1-.3 .4-1.4 .5 .4 0-1.5 .4 2 0-2.2 .5 .4 .5-.6 .1 0 .4-.3 0 1 .3-.1 .3-1.9 .4 .4 .2-1.8 .5 .5 .1-.4 .1-.5 .5-2.3 .3 .6 .1 1.7 .5-2 .3-.1 -.1-.1 .3-.2 .5-1.4 0 .1 .4 .2 0-1.7 .4 .7 .3-2.7 .3 .1 .2 1.3 0-.6 .5 .4 .3-1.7 .2 .9 .3-1.6 .4 .8 0-1.7 .6-.4 .3 1.2 .3-2.1 .2-.5 .3 .4 .1-1.6 .6-1 .3 .7 .1-.3 .2 1.4 .4-1.8 .4-.9 .2 1.2 .4-1.3 .3-1.7 .4-.1 .1 .7 .5-.6 .4 1.4 .3-1.4 .7 .2 0 .3 .7-.1 .3-.1 .2 .8 .6-1.5 .1-.1 .4-.7 .5 .6 .5-2.5 .2 .6 .3-.7 .5-1.1 .3 .1 .5-.3 .2 1.4 .4-1 .4 .4 .3-.2 .5-1 .3 .2 .5-.1 .2-1 .4 .1 .3-.5 .4 .8 .3-.6 .3 .1 .5-1.4 .2 .1 .3-.5 .4 .3 .4-.6 .2-.6 .5 .1 .2-.2 .3-.4 .3-.8 .5-.3 .2-.7 .3 .4 .5-.8 .2-.2 .4 0 .2-.4 .4 0 .3-.2 .3-.5 .4-1 .4-.2 .3 .1 .3-1.1 .2-.3 .4-.1 .3 0 .4-1 .3 1 .3-1.6 .1 .9 .4-1.1 .1-.9 .3-.3 .3-.2 .2-.4 .2-.2 .2-.4 .3-.4 .3-.8 .1-.4 .4 0 .2-.9 .3 .3 .2-.1 .2-1.4 .4-.1 .1-.9 .3-.1 .4-1.1 .1-.1 .3 .3 .3-.2 .3-.1 .1-1 .4 .1 .2 .2 .4-.8 .2-.1 .3-1.1 .4-.3 .3 .1 .2-1 .2-.5 .4 .2 .3 .5 .5-.7 .2-.9 .4 .1 .1-.7 .5 0 .2-.6 .3 .5 .2-.9 .5-.1 .1-1.1 .4-.8 .3 0 .3-.4 .3-.2" stroke="#00ff00" stroke-width="2.3" fill="none" stroke-linejoin="round" stroke-linecap="round" clip-path="url(#cF)"/>
<path d="M451.3 368.7 L629.5 205.3" stroke="#000" stroke-width="2.2" stroke-dasharray="8.3 8.7" stroke-dashoffset="0" fill="none" clip-path="url(#cF)"/>
<rect x="450.9" y="199.3" width="185.3" height="184.9" fill="none" stroke="#000" stroke-width="1.5"/>
<path d="M477.4 384.2V379.7M477.4 199.3V203.8M530.5 384.2V379.7M530.5 199.3V203.8M583.6 384.2V379.7M583.6 199.3V203.8" stroke="#000" stroke-width="1.4" fill="none"/>
<path d="M504 384.2V376.2M504 199.3V207.3M557.1 384.2V376.2M557.1 199.3V207.3M610.2 384.2V376.2M610.2 199.3V207.3" stroke="#000" stroke-width="1.4" fill="none"/>
<path d="M450.9 355.7H455.4M636.2 355.7H631.7M450.9 298.7H455.4M636.2 298.7H631.7M450.9 241.7H455.4M636.2 241.7H631.7" stroke="#000" stroke-width="1.4" fill="none"/>
<path d="M450.9 327.2H458.9M636.2 327.2H628.2M450.9 270.2H458.9M636.2 270.2H628.2M450.9 213.2H458.9M636.2 213.2H628.2" stroke="#000" stroke-width="1.4" fill="none"/>
<text x="460.3" y="220" font-family="Liberation Sans, sans-serif" font-size="20" text-anchor="start" font-weight="bold" font-style="normal" fill="#000" style="stroke-width:0.5px">f</text>
<text x="476" y="258.1" font-family="Liberation Sans, sans-serif" font-size="20"><tspan font-style="italic">p</tspan> = 5.9</text>
<text x="642" y="218.6" font-family="Liberation Sans, sans-serif" font-size="17" text-anchor="start" font-weight="normal" font-style="normal" fill="#000" >3</text>
<text x="642" y="275.6" font-family="Liberation Sans, sans-serif" font-size="17" text-anchor="start" font-weight="normal" font-style="normal" fill="#000" >2</text>
<text x="642" y="332.6" font-family="Liberation Sans, sans-serif" font-size="17" text-anchor="start" font-weight="normal" font-style="normal" fill="#000" >1</text>
<text x="642" y="389.6" font-family="Liberation Sans, sans-serif" font-size="17" text-anchor="start" font-weight="normal" font-style="normal" fill="#000" >0</text>
<text x="450.9" y="403.5" font-family="Liberation Sans, sans-serif" font-size="16.5" text-anchor="middle" font-weight="normal" font-style="normal" fill="#000" >0</text>
<text x="504" y="403.5" font-family="Liberation Sans, sans-serif" font-size="16.5" text-anchor="middle" font-weight="normal" font-style="normal" fill="#000" >0.5</text>
<text x="557.1" y="403.5" font-family="Liberation Sans, sans-serif" font-size="16.5" text-anchor="middle" font-weight="normal" font-style="normal" fill="#000" >1.0</text>
<text x="610.2" y="403.5" font-family="Liberation Sans, sans-serif" font-size="16.5" text-anchor="middle" font-weight="normal" font-style="normal" fill="#000" >1.5</text>
<text x="475.5" y="432" font-family="Liberation Sans, sans-serif" font-size="20">(<tspan font-weight="bold" font-style="italic">p</tspan>π<tspan>k</tspan><tspan font-size="12.5" dy="5">B</tspan><tspan dy="-5" font-style="italic">T</tspan>/<tspan font-style="italic">ħ</tspan>)<tspan font-size="12.5" dy="-9">2</tspan><tspan dy="9"> + </tspan><tspan font-family="Liberation Serif, serif" font-style="italic">ω</tspan><tspan font-size="12.5" dy="-9">2</tspan></text>
<text transform="translate(665,196.9) rotate(90)" font-family="Liberation Sans, sans-serif" font-size="20.3" text-anchor="middle"><tspan font-family="Liberation Serif, serif" font-style="italic">γ</tspan>(<tspan font-style="italic">T</tspan>,<tspan font-family="Liberation Serif, serif" font-style="italic">ω</tspan>) (10<tspan font-size="12.5" dy="-9">2</tspan><tspan dy="9">cm</tspan><tspan font-size="12.5" dy="-9">-1</tspan><tspan dy="9">)</tspan></text>
<path d="M54.9 655.2l-.5 6.6 .9-4.7 -.7 1.4 -.5-1.7 .4 1 -.1 2.7 -.1-3.5 1.2 6.6 -1-6.1 .4 1.1 0 2 -.4-.9 0-.2 1.3 4.8 -.2 2.3 0-5.9 -.7 4.5 -.2 3.3 .4-6.6 1.1 .7 .1 5.7 -1.1-7.6 -.2 4.1 1.4-3.4 .1-.5 -.5 1.4 .6 .5 -.6-3.5 0 3.9 0-2.2 .6 2.3 -.9-1 -.1-.7 1.1 .9 -.8-.1 0-2.6 .2-1.4 1.2 5.1 -.1 .1 -.7 1 .3-1.5 .5 4.1 .2-1.3 -.2 .5 -.9-2.4 -.1 1.3 0 1.8 .9-2.5 -.6 6.1 0-3.5 .2 3.1 .9 2 -.9-5.3 1.2-2.9 -.8 4.1 -.1-2.3 .8 4.7 -.5 1.5 .3-2.1 1.1-3.3 -.5-2.4 .3 2.9 0 1.2 -.5 0 -.3 2.5 1.1-3 -.4 .5 -.7-3.6 1.2 4.3 -1-4.7 .6-1.6 .7 7 0-8.1 .3 5 .2-2.3 -.4 1 -.9-2.6 .3 1.9 .8 4.2 .5-2.4 .2 4.3 -1.3-13.5 .8 3 .7 7.7 -.4-.5 .3-.4 -.4-6.3 -.5 5.6 .8-1.4 -.3 1.3 -.2-1.9 .1 3.4 -.2-3.2 .1-2.2 -.2 6.4 1.4-2.8 -.5 3.3 -.2-3.8 .3 .9 .7-2 -.5 2.7 -.7-2.7 0 5.4 .9-5.8 -.7 4.1 .2-5.6 .3-1.3 .8 .1 -.3 4.1 -.1-1.3 -.7 .9 1.3 2 -.9-.9 .4 2.2 -.5 1.3 -.1-7.1 1.6-1.4 -.5 1.6 -.3 2.5 .1-.8 .5 5.8 -.4-7.2 -.1 1.8 .7 .2 -.2 4.6 -.1 5.1 -.5-4.7 -.1-2 1.4-1.5 -.7-1.7 -.4 2.4 .5 1.6 .7-.6 -.6-.1 -.2-.7 -.1 .6 1.2 2.4 -.9 .1 .9-3.4 -.3-2.7 -.1 3.2 .9-1 -.5-.5 -.6 .5 0 2.8 .3-.2 .3-2.1 -.3 3.2 .4 .6 -.2-5.1 .6 4.8 .1-1.8 -.3 9.1 -.4-9.5 .8 4.6 -.7 1.8 .8-5.9 -.3 4.5 .1 2.9 .7-7.5 -.9 5.7 -.3-.2 1.3-2 -1.2 2.1 .5-1.8 .1 6.1 -.5-3.4 .3-3.7 -.1 1.8 1.5-2.1 -.5 4.2 .5 .9 -1.1-3.4 .6 2.7 .5-3.4 -.4 5 0-.2 -.2-1.5 .4 4.9 -.3-5.2 -.5 1.1 .4 .2 .4-1.3 -.7-1.2 .3 3 1-.8 -.2-2.5 0 3.6 -.8-1.8 .7-2 .8 6.5 -.6-2.9 -.4-.6 .8 5.2 -.9-2.9 .7 2.9 0-5.9 .5-.9 -.8 4.8 1 .7 -.2-.7 -.9 4.4 .8-6.6 .1 3.9 .3-2.5 -1.2 .1 1 2.3 -.2-1.8 -.3-.5 .5 5.8 .3-2.1 .1 2.9 0-2.4 -1.1 4.3 1.4-.6 -.1-1.8 -1.1-4.4 .2 3.9 .4-1.9 .3 2.3 0-4.8 -.3 4.4 -.1-3 .3-1.1 .1 2.7 .3-1.7 -.6 .1 .1-.2 .5-2.9 .4 0 -1.4 4.6 1.4-4.1 0-2.3 -.7 3.3 .3 2.9 -.4-2 -.1 1.9 .6-4.6 .2 3.3 -1.2-2.5 1.1-2 0 .9 -.3 3.9 -.3-.7 .2 2.4 -.4-5.7 .4 .2 .9 4.4 -.4-2.3 0 .4 0 1.9 .3-4.1 .1-.3 -1.3 3 .1 .2 .8-5.1 -.2-.8 -.4 10.3 .5-10 .6 1.1 .2 2.2 -.1 .2 0-.6 -.2-1.9 .1-2.8 .3-.6 -1.3-.5 .4 5.2 .6 .3 -1-1.7 .2-3 .5 4.6 0-2.9 .6 .2 -.2-2.2 .4-1.6 -.1 1.9 -.7 .4 .2 2.1 -.7-5.6 1-3.6 -1.1 5.1 .1 .9 .9-4.7 -.5 3.7 .3-4.3 -.1-1.1 .8 5.6 -.4-1.7 -.4-2.9 -.2 .9 -.1 1.6 .5-1.3 .6-2.3 -.3 .3 -.7-1.7 .6 2.2 .4-3.5 .1 2.8 0-.6 -.5 5.4 .1-5.2 -.7 5.5 .3-2.7 -.4-4.9 0 5.2 0-3.8 1.1 1.5 -.6 2.7 0-3.5 .5-2.1 -.9 4.8 1.1 2.6 .1-1.4 .3-3.8 -.4 .3 .3 .2 -.8-2.1 -.4 4.9 .5-7 -.4 3.3 .7 0 0-5.2 .2 5.8 .3-.1 -1-2 .6-5.4 -.4 7.2 -.4-1.9 .6 1.4 .2-.3 -.4-1.2 1.1 0 -1-4.9 .7 4.8 -1.1-3.4 1.1-3.2 0 9.9 -1-11.6 .8 7.7 -.3-6.6 .9 .5 -.1 5.5 .1 0 -1.3-2.8 1.2 .8 -.8 6.3 1-5.4 -.6 4.2 .8-3.5 -1.3-1.7 0 1.3 .7 5.2 .2-6.5 0 3.5 .4 2.8 -.3-5.6 .2 3.2 .4-2.5 -.8-1.1 .6 3.9 0 2 0-1.2 -.2-1.5 .2 2.3 0 2 -.5-7.6 .3 3.7 .2-2.4 .9 4.5 -1.5-2.6 1.6 .7 -.2 2.5 -1.3 .6 .6 .2 .3-7.6 -.3 4.2 .1 1.4 .4 3.3 -.7-8 .7 3.8 .2 .5 -.2-1.1 -.1 .5 .6-3 .2 1.5 -.9 2.4 .5 2.9 -.5-2.5 1.2 3.8 -1.3-2.1 1.2-.9 -.1-.6 -.7 .5 1 4.3 -.9-6.4 -.1 5.3 .3 .2 -.2-3.6 0 4.3 .1-.2 .5-4.7 .9 4.6 -.4-2.6 -.1 4.1 -.4 .4 .4-1.8 -.2 4.6 .7-7.6 .2 4.6 0 2.7 -.6-2.3 -.4 1.5 -.1-4.6 1.4 6.8 -.9-4.8 .2 6.6 -.1-1.8 1.1 2.8 -1.2 .4 .9-6.2 -.1 5.4 -.5-6.1 .9-1.3 0 1.3 -.1 2.7 0 1 -.3-4.4 0-1 -.4-1 1.3 4.1 -1.2-6.6 .6 9 -.4-6.8 .8 1.6 -.9-2 1 1.3 -.7-3.4 -.2 2.8 .4 1.7 -.3 .7 .5-.4 .3-.4 -.6 .4 1.1 5.9 -.6-1 .1-3.7 -.2-4.1 -.5 5.6 .7 2.5 -.4 2.1 .5-8.8 .3-.1 -.1 2.3 -.4-3.8 -.3-2.3 .9 4.6 .1-2.1 .2 .6 -.8 2.3 .4-4.3 -.5-.4 1 1.9 -.2-.6 -.2 3.3 -.3-2.3 -.4 1.4 .1-3.4 -.1 .4 .5 1.8 -.2 1.5 .4-4.4 -.8 4.5 .7-4.3 -.7 .7 1.3-1.9 -.9 2.7 0 .7 -.1-5.1 .5 .8 .9 4 -1.3-3.6 .9 2.1 -.8-2.8 .2-2 1-.7 -.5-1.6 .7 7.3 -.5-9.6 .4 8.1 .2 .7 -.5 0 -.9-2.4 1.1-4.2 -1 1.4 .4 2.6 -.3-2.4 1.3-.8 0-5.4 .1 2 -.2-.6 -1.2-2.2 .1 6.8 1-6.1 -.9 2.7 0 2.5 .9-9.3 -.4 11.6 -.3-6.5 1.3 .8 -.6-.4 -.1-.5 -.4 .6 .1-.7 .3 3.7 .3-2.6 -.8 1.8 1-3.2 -.6 .4 .7-3.5 -.3 3.5 -.2 1.4 .7-3.5 -.4 1.1 -.7-2.5 .6-5.5 -.2 6.7 0 1.8 .8-1.4 .2 1 -.7-3.3 -.2-.4 0 1.8 .1-6.4 .5 .9 .6 5.6 -1.4-2.7 .1 2 .5 3.3 .6-4.3 -1-2.7 1.3 1.8 -.6 1.8 .5 .7 -1.3-.9 .4-2.6 .8-1.6 -.7 5.4 .3-5 .1 3.1 -.2-.7 .2 1.8 .5-1.6 0 .6 -.7 1.5 .9 .3 -1-3.9 1.2 .1 .2 2.7 -1.2 .9 .8 .5 .4-1.1 -.8 3.5 -.1 .4 .5-5.9 .5 2.7 0 3.2 -.5-1.7 .9-.9 0-.8 -1.2 1.4 .6-1.2 .2 3.8 .4-3.8 .5 1.1 0-.4 -1.1 2.3 1-2.4 .4 5.8 -.6-5.2 0-.8 -.1 4.5 -.2 .9 .6-1.7 -.6 1.1 1.2 .6 -.2-2.7 -.8 .7 1.5-4.1 -.1 8.2 -.8-3.8 .6 1.9 -.9-3.7 1.5 3.1 -.1-4.3 -.7-3.2 -.3 7.8 .1-5.5 1.3-.5 -.4 6.2 -.3-2 0 1.2 .6-3.2 -.4 4 .4-4 .3 1 -.9 1.8 1-3.2 0-2.2 -.3-1 -.2 5.6 1-2.5 -.1 3.1 .2-4.1 -1 2.5 .7 .3 -.5-4 -.2 4.2 .9-2.1 -.4 1 0-2.5 .9-3.7 -.6 3.8 .8 3.2 -.3-2.5 -.3 3.4 .3-5.7 0 5.3 .1-3.3 -.2-.8 .2 .9 -.4 .3 .9 .5 -.5 2.7 -.1-5.6 .4-1 .3-1.4 -.4 4.4 .6-1.9 -.6 .8 .1-1.7 .3-.7 0 3.7 .6-3.1 -.2-.2 -.1 .7 .2-.6 -.3 .7 -.1-.9 .8-.2 -.4 1.6 -.1-2.7 0 1.1 .1-.4 .4-.6 .1-1.1 .1 .7 -.3-1.4 0 .4 .1-.3 .6 1.2 -.3-2.3 -.1 .1 .6 .2 -.2-1.9 -.3 2.4 .4 .3 .3-1.1 .1-1 .2-.7 -.1 .4 .5-.2 0 .2 .5-.7 -.1-.7 -.1-.6 .3-.8 .5 0 .1 1.1 -.2-.9 .5 1.6 -.1-2.8 .1 1 .6-2.4 -.3 1.2 .4-2.4 -.1 1.9 .6-.3 -.3-1.7 .6 .5 -.2 1.3 .2-2.3 .1 2.2 .4-1.3 -.2-1.9 .6 .9 .2 .5 .4-.8 .5-.2 0-1.8 .4 1.9 .6-1.4 .3-.2 -.1 .6 .8-1.7 0 .3 .3-.5 .3 2.7 .8-2 .3-.9 0 2 .7-1 .3 .8 .5-.7 -.1 .2 .5 .6 .5-2.1 .4 .3 .1-.7 .4 .6 .7-.8 .4 2.2 -.1-1.8 .4 0 .5 .6 .1-.7 .5-1.6 .3 .8 .4-.7 0 2.1 .7-1.6 0 .1 .7-.9 -.2-.1 .8 .8 -.2-.3 .3-1 .5-1.8 .4 1.2 .1-.8 .3 .8 .2 .8 .4-1.2 .3-.4 .7-.1 .1-.5 .1-.8 .7 .9 .2-.2 .3 .1 .2 0 0-.7 .4-1 .3 1.5 .5-1 .5 0 .3-.3 -.2 .4 .7-.7 .2 .4 .4 .2 -.1-3 .2 1.7 .5 .3 .2 .1 .2-3 .3-.1 .6 1.3 0-1.9 .5 1.4 .5 .9 0-.7 .6-2.3 .1-.3 .6 2.4 -.1-1.8 .2 .6 .3 .3 .2-1.5 .2-1.1 .5-.5 .6 0 -.2 .9 .7-2.6 0 1.6 .3-1 .5 2.8 .2-2.2 .3-.3 .2 1.2 -.1-1.1 .4-.3 .4-.9 .3 .2 .1-.8 .2 1.2 .5-1.3 -.2-.6 .6 0 0 .2 .3-1 .2 .8 .3-.2 .2-2 .5-1.1 .4 1.4 -.1-.8 .8 2.2 0-3.1 .5 2 -.1-1.1 .5-2.6 0 1.7 .4-1.3 .5 2.1 -.1-.8 .5-.9 .4 1.2 .3-1.4 .3-.1 .1 .6 .6-1.5 .1 .4 .2-1.1 .7 .8 0-2.1 .6 1.3 .3-.8 .2-.7 .1 .4 .5 .8 .4-1.7 .2 .4 -.1-.4 .8-2 -.1 2.4 .6-.5 .1-.2 .5-.9 .5-.6 .3 .4 -.1-2.2 .7 .6 .4 1.7 .2-3.2 .2 1.6 .2 0 .4-1.3 .4-.6 .5-.2 .3 .7 .2-.8 .2-1.8 .3 1.5 .3 0 .6-1.2 0-.1 .6-.1 .1-.8 .5-.2 .2-.2 .4-.5 .4-.9 .1 .4 .3-1.2 .3 .6 .5 .2 .3-.6 .3-.8 .3-.2 .4-.5 .3-.6 .3-.2 .3 0 .2-.3 .5-.4 .2-.4 .4-.1 .2-.6 .4-.5 .3 .2 .5-.4 .3-.5 .3 0 .4-.3 .4-.1 .3-.7 .3 .1 .3-.8 .4 .3 .4-.5 .3-.4 .4-.3 .3 .5 .4-1.3 .3-.5 .4 .1 .3-.5 .5 .1 .3-.3 .3-.5 .3 .2 .5-.4 .3-.4 .2-.4 .4-.3 .4-.5 .4-.2 .3-.5 .4 .2 .4-.9 .3 .4 .3-.9 .4 .1 .3-.6 .4 .2 .3-1 .4-.3 .3 .6 .4-.7 .3-.3 .4 0 .3-.6 .3-.3 .3-.7 .3-.5 .4-.3 .4-.3 .2 0 .3-.4 .3-.4 .4-.4 .2-.1 .5-.6 .3 .2 .2-.7 .4-.1 .3-.5 .3 .4 .4-1.2 .2-.5 .5 .6 .3-.9 .3-.7 .3-.2 .3-.3 .3 0 .4-.1 .2-.9 .3 0 .1-.1 .2-.7 .2-.6 .1-.4 .3-.4 .1-.2 .2-.9 .1-.1 .1-.2 .3-.6 .2-.6 .1 .1 .1-.6 .3-.9 .1-.2 .2-.4 .1-.4 .2-.7 .1-.5 .3-.4 .1-.3 .2-.3 .1-.5 .1 0 .3-.5 .2-.7 0-.4 .2 .6 .2 .8 .1 .3 .1-.2 .2 .9 .1 0 .1 .8 .1 .6 .2 .1 .1 .8 .1 .2 0 .3 .2 .9 .1-.1 .1 .9 .4-.7 .5 .3 .4-.6 .3-.3 .4 0 .4-.1 .5-.7 .3-.7 .1-.2 .2-.5 .2-.1 .2-.6 .2-.7 .2-.1 .3-.3 .2-.6 .1-.1 .2-.8 .2-.2 .3-.8 .2-.2 .1-.3 .2-.3 .3-.2 .2-1 .2-.3 .2 0 .2-1.3 .2-.4 .3 .6 .1-1.3 .2 .3 .2-.7 .3-.3 .2-.7 .1-.4 .4-.2 .1 0 .2-1.2 .2-.8 .2 .7 .1-1.4 .1-.1 .2-.6 .1 .3 .1-1 .2-.1 .1-.7 .1-.7 .1-.1 .1-.3 .1-1.1 .2 0 .1-.4 0-1 .3 0 .1-.4 .1-.3 0-.6 .2-1.1 0 .2 .1-.5 0-.7 .1-.4 0-.7 .1-.1 0-1 .2 .2 0-.4 0-1 .1 .2 0-.2 0-1.2 .2 .2 0-1 .1-.3 0-.1 .2-.2 0-.7 0-.9 .1-.3 -.1-.4 .2-.3 0-.5 0-.6 .2-.4 -.1-.8 .1 .2 .1-.9 .1-.1 0-.3 .1-1 .1-.9 .1-.3 0-.3 .1-1.2 0-.2 .1 0 .1-.1 0-1.1 0-.3 .2-.3 -.1 0 0 1 0 .2 .1 .7 0 .4 0 .4 .2 .3 0 .8 .1 .3 -.1 0 0 .7 .1 .5 -.1 .4 .2 .2 -.1 .7 .1 .8 0-.2 0 .9 .1 .2 .1 .3 0 .5 .1 .4 -.1 .4 0 .6 0 .6 .1 .3 0 .6 .1 .7 0 .2 .1 .3 0 1 0 .5 0 .7 .1 .1 .1 .6 0 .6 0 .1 0 1.2 0 .2 0 .3 .2-.1 -.1 .9 .1 .1 0 1.1 .1-.2 0 .2 -.1 1.6 .1 0 0-.1 0 .9 0 .5 0 .2 .1 1.1 0 .1 .1 .5 -.1 .1 .2 .4 0 .9 0 .4 0 .6 0 .2 .1 .3 0 .7 -.1 .3 .1 .6 0 .8 0 .1 .1 .1 0 1.1 0-.2 0 .6 0 .5 0 .7 0 .7 .1 .4 0 .6 .1 .6 0-.3 .1 1 -.1-.3 .1 1 0 .6 .1 .3 -.1 .8 .1 .6 0 .1 0 .1 .1 1.1 .1 0 0 .7 -.1 .6 .1 0 0 .8 0 .6 .1 .6 -.1 .3 .1 .5 .1 .4 0 .2 0 1.2 0-.2 0 .9 0-.3 .2 .9 0 .5 -.1 .1 .1 .5 0 .7 0 1.1 .1-.6 -.1 .6 .1 1.1 .1 .6 0 .5 .1-.1 0 .8 0 .4 0 .4 .1 .3 0 1 0 .1 0 .5 .1 .3 0 .5 .1 .7 -.1 .2 .1 .7 0 .1 0 1 0 .4 0 .4 0 .9 .1 .1 0 .1 .1 .6 0 .3 0-.4 .1-.5 .1-.1 -.1-.1 0-.6 .2-.4 0-.8 .1-.5 -.1-.4 .2-.7 -.1-.9 .2-.3 -.1-.5 .1-.6 0-.5 0-.7 .1-.4 .1-.6 0 .2 .1-.4 -.1-.6 .1-.5 0-.3 .1-.5 0-.8 .1-.3 -.1 .2 .1-1.3 0-.1 .1-.2 .1-.7 .1-.1 0-1.1 .1-.2 .2-.5 0-.7 .1 .1 .2-.6 -.1-.7 .2-.5 0-.4 .2-.4 .1-.3 .1-.2 0-.3 .1-.9 .2-.9 0-.5 .1 .2 .1-1.1 0-.3 .2-.2 0-.5 .2-.5 0-.8 0 .2 .2-.9 .1-.7 .2 .2 .2-.9 .1 .3 .1-1.2 .2 .1 .2-1.2 0 .3 .2-.5 .2-.8 .2-.6 0-.2 .3 .2 0-1.2 .3-.6 0 .2 .1-.8 .2-.3 .2 .2 .2-1.2 0-.4 .2-.2 .2-.9 0-.1 .4-.3 .4 .4 .4 .7 .2 .6 .4 .1 .4 .7 .3 0 .4-.2 .3 1 .3 .1 .3-.2 .2-.3 .2-.3 .2-.3 .2-.5 .2-.4 .3-.3 .2-.5 .1-.4 .3-.7 .1-.1 .3-.8 .1-.1 .2-.9 .2-.3 .2-.5 .3-.3 .4-.5 .3-.1 .4-.4 .3 0 .3-.1 .4-.7 .4 .1 .3-.4 .4-.2 .4-.2 .3-.6 .4-.1 .3-.2 .3-.6 .3-.3 .4-.3 .3-.6 .4 .3 .3-.4 .4-.5 .3 .2 .4-.5 .3-.5 .5-.1 .3 .2 .4-1 .4 0 .4-.6 .3-.1 .4-.4 .3 0 .5 0 .3-.1 .4-.8 .4-.1 .4-.4 .3-.1 .4-.1 .3-.3 .5-.1 .4-.8 .3-.1 .5 .1 .3-.5 .3 0 .4-.4 .4 0 .4 0 .3-.4 .5-.3 .4-.4 .3-.1 .4-.7 .3-.2 .4-.4 .2-.4 .3-.3 .5 .3 .3-.4 .3-.4 .3-.6 .3-.2 .4 0 .2-.5 .4-.3 .4-.2 .3-.9 .2-.1 .4-.7 .4 .3 .3-.4 .4-.1 .2-.4 .3-.3 .4-.4 .3-.5 .3-.1 .3-.4 .4-.4 .3 .1 .4-.8 .3-.3 .4 0 .4-.8 .4 .1 .3-.4 .4-.5 .3-.2 .3-.1 .3 .1 .5-1.1 .3-.7 .3 .4 .4-.8 .4 .1 .3 0 .5-.7 .3-.7 .4 .4 .3-.4 .4-.1 .4-.2 .2-.3 .5-.1 .3-.5 .4-.1 .4-.3 .3-.3 .4-.2 .3-.2 .5-.5 .2-.2 .4-.2 .4-.7 .4-.8 .3-.3 .4 .2 .3-.6 .3 .3 .4-.6 .4 0 .3-.2 .5-.1 .2-.6 .4 0 .5-.3 .3-.8 .3 .2 .4-.5 .4-.1 .4-.9 .3 .9 .3-1.1 .4 .4 .4-.9 .3 .3 .5-.6 .3-.5 .4-.5 .2 .2 .4-.2 .4-.4 .4-.4 .3-.4 .5-.4 .3-.1 .3 0 .3-.9 .5-.2 .2 0 .4 .7 .5-.9 .4-.6 .2 .2 .5-.7 .3-.2 .3-.8 .4 .5 .4-.2 .4-.8 .3 .2 .3-.1 .4-.2 .2-.7 .2-.1 .3-1 .3-.5 .3-.3 .1-.7 .4-.1 .1 .2 .3-.8 .3 0 .2-1 .2 .2 .3-.6 .3 .2 .1-1 .3-.8 .2 .3 .3-.5 .2-.7 .2 .2 .3-1 .3-.3 .3-.1 .2-.5 .2-.5 .3-.6 .3-.5 .2-.4 .1-.2 .4-.3 .1-.5 .3-.3 .3-.2 .2-.2 .3-1.1 .2 .2 0-.1 0 .9 .1-.1 0 1 .1 .6 0-.1 0 .3 0 .8 .1 .6 0 .3 0 .6 0 .4 0 .3 .1 .5 0 .8 0 .4 .1 .3 0 .4 0 .6 .1 .1 -.1 .6 0 .2 .1 .6 .1 .8 -.1 .4 0 .5 .1 .2 .1 .4 -.1 .6 .1 .5 .1 .7 -.1-.2 0 .6 0 .3 .1 .2 .1 .9 -.1 .3 .1 .3 -.1 .4 .2 .5 0-1.3 .1-.2 .1-1 .1-.1 .1-.2 0-.4 .2-.4 .1-.3 -.1-.7 .2-.7 .1-.6 .1-.6 .1-.6 .1 0 0-1 .1-.1 .2-.1 0-.9 .1-.3 .1-.1 .1-1 0-1 .1-.5 .2 0 0-.2 0-.7 .1-.1 .1-.6 .1-.3 .2-.5 .4-.4 .3 0 .5-.7 .2-.3 .4-.4 .2 .1 .4-.5 .4-1 .3 .2 .3-.5 .3-.2 .4-.2 .3 .1 .2-1 .4 .7 .3-1.2 .3 0 .3-.7 .4-.6 .3 .4 .4-.5 .3-.3 .4-.4 .3-.4 .3-.5 .2 .1 .4-.8 .5 .2 .4-.7 .3-.3 .4 0 .4-.7 .3 .1 .5-.7 .3-.2 .3-.3 .4-.1 .3 .3 .4-.6 .4-.8 .5 .3 .3-.9 .4-.1 .3 .1 .4-.7 .1 1.1 .3 .1 0 .5 .1 .5 .3 .1 .1 .7 .2 .5 0 .5 .2 .5 .1-.1 .3 1.3 .1 .5 0 .2 .2 .2 .1 1.1 .1 .2 0 .8 .1 0 0 .1 0 1 0 .1 -.1-.1 .2 .9 0 .3 -.1 .6 0 .1 .1 1.2 -.1-.3 .2 .7 -.1 .7 0 .7 0 .2 .1 .4 0 .6 0 .3 .1 .2 -.1 .2 .1 .8 0 .7 .1 .7 -.2 .4 .1 .4 0 .2 0 .7 0 .6 0 .4 0 .8 .1 0 0 .4 .1 .6 -.1 .9 .1 .2 -.1 .5 .1 .5 0 .7 .1 0 0 .3 0 .2 .1 .7 -.1 .2 .1 .8 0 .3 0 .5 .1 .6 -.1-.3 0 1 .1 .9 0-.2 0 .5 0 .5 0 .6 .1 .4 0 .4 -.1 .4 .1 .9 .1 .2 -.1 .8 .1 .4 0 .2 0 .1 .1 .7 0 .8 -.1 .1 .1 .1 .1 1.2 -.1-.1 .1 .6 0 .3 0 .9 0 .2 0 .3 .1 .7 0 .6 -.1 .4 .2 .8 -.1 .2 .1 .5 .1 .3 -.1 .2 0 .8 0-.1 .1 .8 0 .5 -.1 .1 .1 1.1 0-.1 .1 .6 0 .3 -.1 .8 .2 .5 -.1 .7 .1 .3 -.1 .4 .1 .5 .1 .4 -.1 .5 0 1.2 .1 0 .1 .7 0 .1 0 1 0-.1 .1 .1 0-1.2 0 .2 .1-.6 -.1-.9 0-.2 .1-.5 0-.7 0-.1 0-.3 0-1.1 .2 .1 0-.8 0-.2 0-.7 .1-.8 -.1 .2 0-.8 .1-.8 .1 .3 -.1-1 0-.1 0-.4 .1-.8 -.1-.4 .1-.9 0 .3 .1-.8 0-.8 0-.1 .1-.7 .1-.7 -.1-.6 .1 .1 -.1-.4 0-.9 .2-.4 -.1-.7 0-.1 .1-.7 0-.7 0-.1 0-.7 .1-.4 .1-.2 0-.8 .1 0 -.1-.8 .1-.6 .1-.3 .1-.2 0-.2 0-.6 .1-.7 -.1-.4 .1-.3 0-.6 .1-.7 0-.2 0-.8 .2-.3 0-.8 0-.5 .1-.3 0-.5 0-.1 .1-.3 0-.5 .2-.6 -.1-.6 .1-.8 0-.3 .2-.1 -.1-.3 0-.7 .2-.5 .1-.4 -.1-.4 .1-.7 0-.6 .1-.1 0-.6 .1-.3 0-.3 .1-.6 .1-.3 -.1-.5 .1-.6 0-.1 .1-.8 .1-.2 0-.3 0-.8 .1-.5 .1-.5 0-.6 0-.2 .1-.3 0-.8 .1-.7 .1-.3 .1-.2 0-.6 0 .1 .1-.8 0-.5 .1-.1 .1-.1 -.1-.7 .2-.4 0-.7 0-.8 0 .4 .1-1.5 .1 .3 0-.7 0-.7 .6-.4 .3 0 .3-.8 .3-.1 .5-.5 .4 .1 .4-.2 .3-.8 .4 0 .3 .1 .4-.8 .4 .5 .3-.4 .4-.5 .5-.1 .4 0 .5 .1 .5 .2 .4-.4 .6-.1 .4 .2 .6-.5 .3 .3 .6 .3 .4 0 .4-.3 .5 .1 .5-.6 .6 .7 .1 .2 .3 .2 .2 .3 .3 1.1 .3 0 .1 .4 .3 .8 .3-.1 .2 .7 .2 .4 .2-.2 .4 1.5 .2-.4 .2 .8 .2-.4 .3 1 .2 0 .3 .4 .2 .8 .2 .7 .3 .1 .3 .5 .2 0" stroke="#0000ff" stroke-width="2.3" fill="none" stroke-linejoin="round" stroke-linecap="round" clip-path="url(#cG)"/>
<path d="M63.4 695.9l.4-1.2 .2 2.8 .2-.3 .3-1.9 .3 0 0-.3 .5 1.4 0-2.1 .3 .2 .5 .3 .1-.2 .2-2.2 .3 .1 .3-.7 .2-1.3 .1 .4 .2-.9 .4-1 .5-.6 .3 1.6 .9-1.2 .2-.3 .6 1.6 .7-2.2 .6-.4 .4-.2 .4 1 .5-.2 .4-.9 .6 1.7 .5 0 .3-1.5 .7-.4 .5 .6 .4 .5 .8 .2 .4-1.4 .2-.3 .8-.5 .6 1.5 .4 .1 .3-.4 .6-2 .4 .5 .5-1.1 .4 .7 .5-.7 .4 2.2 .3-1 .3-2.2 .4 .3 .5 .5 .3-.5 .6-1.3 .2-.5 .8 1.7 .4-1.3 .4-.4 .4 .2 .4-.4 .1 .8 .5-1.1 .4-.7 .3 .2 .5-.5 .7 .3 .3 1 .5-.3 .4 .9 .7-1.6 0 1.3 .6 1.1 .6-1.6 .5 2.4 .1-1.4 .8 1.2 .1 .8 .8-1.1 .2 1.5 .8-.2 .2-1 .7 .4 .4-.3 .6-.5 .5-.5 .5 .6 .4-.4 .6 0 .5 .1 .4-.8 .5 .1 .5 .5 .4-.4 .4-.6 .6-.1 .5-.1 .3-.3 .5-.3 .6-.3 .4-.1 .5-.4 .4-.1 .4-.3 .6-.4 .4-.2 .5 .6 .4-.9 .5 .3 .6-.7 .4-.5 .4-.1 .6-.3 .4 0 .5-.4 .5 .2 .4-.1 .6-.8 .4 .2 .5-.4 .5 .2 .6 0 .4-.8 .4 .2 .5 0 .5-.3 .5-1 .6 .5 .3-.4 .6-.2 .5-.3 .5 .5 .4-.8 .4-.1 .4-.4 .6-.2 .3 .3 .6-.5 .4-.6 .5 0 .5-.2 .4-.3 .4-.1 .4-.4 .5 0 .5 .1 .3-.5 .6-.7 .4 .1 .5-.1 .4-.8 .5 0 .4-.2 .5 .2 .5-.4 .4-.8 .5 .6 .4-.1 .5-.4 .4-.2 .5-.3 .4 0 .4-.5 .6-.2 .4-.5 .5 0 .3-.3 .5-.6 .5-.2 .4 .3 .5-.3 .5-.3 .4-.6 .5 .4 .4-.7 .4-.4 .5 .4 .5-.4 .4-.4 .3-.1 .5-.4 .4-.5 .5-.7 .5 .2 .3-.2 .5 .1 .4-.8 .4 .6 .5-.6 .5-.2 .4-.6 .4 .2 .5-.3 .4-.9 .5 .1 .3-.1 .6-.4 .3-.2 .4-.6 .6 0 .4-.7 .4 .2 .4-.5 .4-.1 .5-.4 .5-.4 .4-.5 .3 .2 .6-.1 .4-.4 .3 .3 .6-.5 .3-.4 .5-.5 .4-.8 .5 .2 .4-.6 .5 0 .5-.5 .3 .2 .4-.8 .6-.4 .1 0 .1-.5 0-.6 .1 .1 .3-1 .1-.5 .1-.8 .2-.5 .1 .2 .1 .5 .2 .3 .1 .7 .1 .1 0 1 .1 .3 .2 .8 .4-.6 .4-.3 .4 0 .3-.5 .4-.6 .4-.1 .4-.9 .3-.3 .5-.5 .2 0 .4-.4 .5 .2 .3-1.1 .4-.6 .3-.4 .5 .9 .3-1.3 .4-.2 .4 .2 .3-.5 .4-.7 .4-.1 .3-1.2 .4 .1 .4-.1 .5-.5 .2-.7 .3-.2 .2-.5 .3-.1 .2 0 .2-1.1 .4-.7 .2-.2 .2-.4 .3-.5 0 .8 .2 .5 .1 1 .2 .2 .1 .4 0 .4 .2 .2 .1 .8 .2 .8 .1 .1 .1 .6 .1 .7 .2 .5 0 .5 .1 1 .2-.3 .2-.5 .4-.6 .2-.1 .3-.1 .4-1.1 .2-.4 .3 .1 .4-.5 .3-.3 .2-.4 .2-.3 .5-.6 .2-.4 .2-.2 .3-.8 .4-.3 .3-.4 .2-.8 .3 .1 .3-.3 .2-.2 .4-.4 .3-.7 .3-.3 .3-.6 .3-.1 .3-1 .3-.7 .2-.1 .3-.5 .4 0 .2-.6 .3-.2 .3-.5 .3-.4 .1-.9 .1 .2 .2-.6 .1-.9 .1-.3 .1-.2 .1-.8 .2-.5 0-.8 .2-.6 0-.6 .2-.8 .1-.2 .2-.5 0-1 .1 .4 .1-1 .1-.3 .1-.5 .1-.4 .1-.9 .1-.3 .1-.4 .1-.6 .2-.5 .1 0 .1-.9 .2-.5 -.1 .8 .1 .8 0-.3 0 1 .1 .4 0 .1 .1 1.2 .1 0 0 1 -.1-.3 .1 .8 .1 .8 0 .4 0 .6 0 .2 .1 .7 .1 .8 -.1-.3 .2 .7 -.1 .9 0 .7 0-.2 .1 .5 .1 .8 .1 .4 -.1 0 .1 1.6 -.1-.3 .1 .6 .1 .9 -.1 .6 .2 .2 0 .6 .1 .5 -.1 .4 .1 0 0 .7 0 .9 .1 .1 -.1 .8 .1 .2 .1 .5 -.1 .4 .2 .9 -.1 .9 .1 .3 0 .5 .1 1.2 .1-.5 0 1 .1 .8 -.1-.1 .1 1.4 .1 .1 0 .1 0 1.3 0 .1 .1 .8 0 .2 .1 1.1 .1-1.2 .3-1 .2 0 .2-.2 .2 .1 .4-.9 .2-.9 .2-.2 .2-.7 .2-.2 .3-.2 .2-.9 .2-.5 .3 0 .2-.9 .3-.2 .1-.8 .2 0 .4-.4 .3-1 .3 .3 .4-.8 .2-.1 .4-.5 .4-.4 .2-.4 .5-.2 .2-.7 .4-.2 .2 0 .5-1.1 .3-1 .4 .8 .1-.1 .3 .8 .2 .4 .2 .5 .2 .2 .4 .4 .2 .5 .1 .4 .3 .4 .3-.2 .5-.7 .5 .1 .3-.1 .4-.9 .5 .6 .4-.6 .3-.7 .4-.1 .5-.5 .4-.1 .4-.7 .5 .2 .4 0 .3-.6 .5-.5 .3-.1 .5-.4 .4-.1 .3-.4 .4-.1 .4-.4 .4-.5 .5 .1 .5-.7 .4-.1 .3-.3 .5-.3 .4-.3 .3-.5 .4 .2 .5-.6 .4-.1 .3-.5 .4 .2 .6-.5 .5-.4 .3-.2 .5-.3 .5-.2 .5-.1 .4-.6 .5 .2 .3-.2 .5 .1 .4-1 .5 .2 .5-.6 .4 .2 .4-.6 .5 0 .5-.4 .5-.4 .5 .6 .3-.6 .5-.6 .4 0 .5 .1 .5-.9 .3 .6 .6-1 .5 .2 .4-.5 .4 0 .5-.1 .5-.8 .4 .2 .5 .1 .4-.6 .5-.4 .4 .3 .4-.7 .4-.5 .3-.1 .5-.1 .3-.2 .5-.6 .4-.1 .4-.4 .4-.4 .4-.6 .4 .3 .4-.3 .4-1 .4 .7 .4-1.5 .4 0 .5 0 .2-.5 .5 0 .4-.5 .4-.6 .4-.1 .3 .3 .5-.9 .3-.3 .4-.3 .4-.6 .5-.3 .5 .6 .4-.9 .3-.1 .4-.6 .4-.1 .4-.2 .4-1 .4 .4 .4-.2 .3-.4 .4-.8 .5-.1 .4-.3 .4 0 .4-.2 .4-.6 .4-.6 .4-.3 .5-.3 .4-.2 .3-.2 .5-.1 .3-.3 .4-.6 .5-.1 .3-.1 .3-.6 .5-.6 .4-.1 .5-.6 .3 .5 .4-.8 .3 .2 .6-1.3 .3 0 .4-.4 .3-.6 .5-.3 .3 .5 .4-.2 .5-.7 .4-.3 .5-.5 .3-.3 .4-.2 .3-.6 .4-.2 .5 .1 .4-.9 .4-.1 .3-.3 .6-.7 .2-.2 .5-.1 .4-.3 .4-.5 .3-.5 .5 0 .4-.7 .4-.1 .4-.4 .3-.4 .5-.1 .5 0 .3-1 .2 .6 .1 1.5 .1 0 .2 .4 0 .2 .2 .5 .1 .8 .3 .1 0 .8 .3 .1 .3 0 .4-.1 .4-.7 .5-.2 .3-.7 .4 .1 .2-.4 .4-.3 .3-.4 .4-.3 .3-.4 .2 0 .3-.9 .4 0 .3-.6 .2-.6 .3 .2 .3-.8 .3-.4 .3-.2 .4-.6 .2-.4 .3-1.1 .3-.2 .3-.3 .4-.3 .2-.3 .3-.7 .3-.3 .4-.1 .3-.8 .3 .3 .3-1 .3-1 .3 .7 .2-1.1 .3 .1 .4-.5 .3-.5 .3-.4 .3-.7 .2 .3 .3-.8 .2-.2 .3-.7 .4-.1 .2-1.3 .2 .1 .3-.5 .3-.6 .2-.5 .3-.3 .3-.2 .3-.6 .2-.1 .3-.7 .2-.4 .3-.7 .3-.1 .3-.2 .2-.7 .2-.3 .3-.2 .3-.4 .3-.6 .2-1 .3-.1 .3-.3 .3-.5 .1-.2 .4-.5 .2-.7 .3-.4 .1 .5 0 .9 .1 .7 0 .4 .1 .5 -.1 .2 .1 .3 0 .6 .1 .7 .1 .9 .1 0 0 .5 0 .8 .1 .5 0-.1 .1 .4 .1 1.2 0 .5 0-.2 .1 .9 0 .6 .1 .3 0 .7 0 .8 .2 .1 -.1 .4 .2 .7 0 .1 .1 .7 -.1 .5 .1 1.1 0-.1 .2 .9 -.1 .2 .1 .6 0 .7 .1 .5 .1 .6 0 .4 .1 .1 .1 .9 .1 1.1 0 .2 .2 .5 0 .6 -.1 .5 .1 .6 .2 .7 0-1.3 -.1-.1 .2-.5 0-.4 .1-.2 .1-1.2 0-.3 0-.1 .2-.4 0-1.3 0-.1 .1-.7 0-.5 .2 0 -.1-.8 .1-.6 .1-.8 0-.6 .1 .1 0-.8 .1 0 .1-.6 0-.2 .1-1.3 0-.3 .2-.3 .1-.6 .2-.4 .2-.4 .1-.8 .2 .3 .2-.9 .3-.9 .1-.4 .2-.7 .2 0 .2-1.1 .3-.1 .1-.7 .3-.5 .1-1.2 .3 .6 .3-.8 .3-.7 .3 .1 .2-.6 .4-.8 .4 0 .3-.2 .3-.5 .3-.7 .4-.3 .3-.3 .3-.4 .3-.7 .3-.3 .3-.4 .5-.3 .3 .2 .2-.9 .5-.3 .3 .2 .2-.8 .3-.1 .4-1 .3-.2 .4-.4 .3-.3 .2-.6 .5 0 .3-.3 .4-.8 .4 0 .3-.6 .3-.1 .5-.4 .3-.5 .3-.1 .4-.7 .4-.2 .3-.3 .5-.6 .3 0 .3-.5 .4-.3 .4-.5 .3-.2 .4-.4 .4 0 .4-.8 .4-.2 .3-.3 .3 0 .4-.9" stroke="#00ff00" stroke-width="2.3" fill="none" stroke-linejoin="round" stroke-linecap="round" clip-path="url(#cG)"/>
<path d="M54.4 706.7l.5 .1 -.3-2.4 -.2 2.7 .6-2.7 0 3.1 .7-.1 -.1-2.2 .1 1.8 .1 1.1 .3-2.7 -.1-.9 .2 1.7 0-3.2 .1 2.4 .2 .3 .5-2 .1 2.3 -.5-.8 .7-1.3 .2 .9 -.5-1.4 .5-.8 .7 2.9 -.2-1.2 .1 .6 0-1 .3-2.2 .3 5.6 .1-2.1 .2-1.9 .8 1.8 .4-3 -.1 1.2 0-.4 .7-1 -.3 3.1 -.1 1.2 .8-5.6 .1 3.9 .7 0 0-1.5 -.4-.1 .4-.8 .2 .5 0-2 .7 1.1 .5 2.8 -.6-4 .5 .6 .6 2.2 0-.2 .1-1 .2-3.1 .4 4.9 .5-1.8 .2-.9 -.7 1.4 1-1.3 -.5 2 .1-4.6 .1 3.3 .6-1.6 .5 2.6 0-2.8 .5 2.5 -.5-2.6 .3-2.2 .4 2.5 .5-.4 0-1.6 .2 .6 -.5 3.6 .5-4 -.2 .6 .4 3.3 .8-5.1 -.5 1.1 .4-3.1 .2 2.5 .3 1.5 .4-4.4 -.2 1.8 0 .1 .8-.1 0-2.6 -.4 1.1 .8 5.1 .3-3 .3 .5 -.3-5.2 .3 1.2 .1 2.5 .5-.6 .3 0 -.6-2 .2 .1 .4 .9 .5-.1 .2-.9 -.2-1.4 .2 2 .2 1.2 .6-.6 -.4-1.8 .7-1.6 -.1 .2 .4 1.3 -.2 2.8 .7-.5 .2-.5 .2-.7 .1-1.6 .6-.6 -.6-1.2 .4 3.5 .7-.6 -.1-.4 .3-2.6 .3 2.4 .3 .6 -.3-2.9 .9 1.5 .1-1 -.5 1.4 .4 1.5 .7 .7 .1-.6 -.1-4 .1 3.3 .7 2.6 .4-2.8 .2-.3 -.1 0 .5 .4 -.6-.6 .1-.1 .5 .4 .8-2.6 -.5 1.4 .8-1.5 -.5 .6 .7-.1 .5-3.6 .3 2.4 .2-2.2 -.6 1.9 .6 2.9 .4-3.9 .5 1.2 -.6 .6 .1 .3 .3 1.6 .2-3.2 .5-1.8 .2 3.8 -.1-.8 .7-.8 -.2-.2 .2-.8 .8 3 -.2-3.8 -.1 2.2 .4 .3 .7 .1 -.3-1.3 .6 1.5 .2-1.1 -.3 3 .6 0 .7-3.1 -.1 2 .5-1.2 .3 2.2 -.2-4 -.1 5.3 .4-2.5 .2-.2 .1 .5 .3 .5 .3-.5 .7 .9 -.3-.3 .7 .3 -.5-1.4 .8-.8 .1 2.9 0-.7 .3-.1 .3-.4 0 .6 .8-.3 .2-.8 -.5-.3 .7 1.4 .4-2.1 .3-.2 0-.2 .5 4.1 -.3-4.3 .4 2.5 .3-.5 -.1-.5 0 2.3 .5 .6 .2-1.1 .1-2 .5 1.4 -.2 .5 .9-.6 .3 1.2 .2 2 -.1-.4 .2-1.3 .6-2.2 -.3 3.7 .3-2.1 .4 2.2 -.1-.2 .6-2.8 .5-.1 0 1.5 -.2-1.3 .3-.6 .2 1.3 .8-.4 -.7 .1 .7-.1 .5 3.9 -.3-2.5 .1-2.2 .9 1.7 .1-1.5 -.3 1.2 .3-3.6 .9 2.3 -.5 .9 .2-3.9 .9 1.4 .3 1.7 -.5 .9 .5 .1 .4 .9 -.1-1.8 .6-.2 .4-2.7 -.1 2.7 .5-1.2 -.6 1.1 1.2-1.8 -.2 1.9 .1-.4 .6-1.4 0 .8 0-.5 .4-.9 -.2-2.7 .9 4.4 0-1.7 -.1 1.7 .8 1.5 -.2-.5 .5-2.7 0 4.1 .1-3.5 .4 3.1 .7-2.3 -.8 1.3 .6-.1 .1 .7 .1-2.7 .1 .4 .7-2.4 .4 3.5 -.1-1.6 -.1 .4 .3-.8 .6 .3 -.4 2.3 .9-.9 -.6-2.5 1.1 2.3 -.3-1.4 .5-1.5 .3 .7 0-1 .1 .8 -.3-2 .8-.7 -.5 1 .5-1.2 .2 2.2 .6-1.9 -.1 2.6 .2-5.6 .5 3.3 -.1-1.4 -.2-.4 1 .7 -.2 1 -.2-.9 .9 1.1 -.5 2.8 .5-3.9 .4 1.5 0-1.3 .6 .5 -.1-.7 .4 .9 .4 .6 -.1-.5 .2-1.2 -.3 3.9 .5-5.2 .5 2.1 -.3-.7 .1-1.3 .8 .4 -.4 3.7 .7-2.7 .3 .3 -.3-2.3 0 .7 .3 1.1 .5-1.3 .1-.3 .9-.7 0 2.1 .8-.6 -.1 .3 .6-.7 -.3-.2 .8-1.2 .1-1.8 .8 .2 .5 2 0-1 -.1 2.6 .4-5 .6 2.4 .6-1.4 -.1 .2 .8-.2 .2 .1 .4-1.2 0 .8 .7 0 .1-1.8 .7 2.3 -.2 0 .9 0 0-.5 .2-1.6 .7 .3 .3 .7 .3-.4 .4-1.4 .1 .3 .4 .9 .3-1 .8 .2 .1 .2 .2-.9 .6-.3 .1-.2 .3 1 .7-1.1 .3 .7 .2-1.3 .4 .1 .5-.1 .1 .1 .4 .3 .2 .2 .5-1 .4-.1 .2-.3 .4-.2 .5 .3 .3-.7 .2 .7 .4-.8 .4 .2 .4 .2 .3-.4 .5-.2 .4-.3 .4 .1 .4 0 .3-1.1 .5 .4 .4-.4 .4 .4 .5-.1 .5-.4 .4-.8 .3 .3 .5-.1 .4-.1 .4-.4 .4-.3 .3 .2 .6-.6 .3 .2 .6 .4 .3-.4 .4-1 .4 .1 .4 .2 .5-.4 .3-.6 .5-.4 .4 .6 .5 0 .4-.8 .5 .2 .3 .3 .4-.4 .4-.4 .5 0 .3-.2 .4-.1 .6-.5 .3 .3 .5-.7 .3 .1 .5-.2 .4 0 .5 .3 .4-.3 .4-.5 .4-.3 .4-.2 .1 .2 0 1 .1 .7 .1-.4 .2 1.2 0-.2 0 .1 .1 .4 .2 .8 -.1 .6 .2 .3 0 .7 .1 .2 .2 .8 -.1 .3 .2 .1 .1 1.6 .1-.4 .1-.1 .1 1.3 0-.6 -.1-.7 .1-.5 0-1.1 0 .1 -.1-.3 0-.4 .1-1 -.1-.5 .1 .1 .1-.8 0-.9 -.1-.1 0-.2 0-.7 .2-.3 -.2-.7 .1-.8 .1-.2 -.1-1 .1 .3 0-.3 -.1-.7 .1-1 0-.1 0-.8 0 .1 -.1-1.1 .2 0 0-.6 .1-.4 -.1-.4 -.1 0 .1-.4 .1 .7 -.1 .7 0 .1 .1 .8 0 .2 .1 .3 -.1 .7 0 .8 .1-.1 0 1.1 -.1 0 .1 .3 .1 .6 -.1 .5 0 .3 .1 .9 -.1 .4 .1-.2 0 .9 .1 .5 -.1 1 .1 .4 -.1 .6 .1 .4 .1-.7 -.1-.8 .2 .1 -.1-.6 .1-.4 0-.4 0-.4 .1-.5 -.1-.7 0-.2 .1-.6 .1-.1 -.1-.2 .1-.5 0-1.2 .1-.1 0-.1 -.1-.5 .1-1 .1-.8 .1-.5 0 .2 0-1 .1 .4 .3-.7 .5 .1 .4-.1 .6 .1 .3 .4 .5-.4 .5 0 .4 .7 .4-.6 .5 .2 .4-.3 .5 .4 .4 .4 .6-.8 .4 .8 .6-.7 .4 .2 .4 0 .5-.9 .4 .7 .3-.6 .6 .6 .5-.4 .2-.1 .5-.4 .5 0 .3 .3 .4-.9 .5 .2 .3-.1 .5 .1 .4-.5 .4 0 .6-.9 .4 0 .3 .1 .5-.2 .4-.3 .4 .3 .4-1.3 .4 .2 .4 0 .6-.8 .3 .4 .3-.2 .5 0 .5-.6 .3-.5 .4-.2 .5 .3 .4-.5 .4 .4 .6-.8 .3 .3 .1-.9 .3-.1 .2-.4 .2-.3 .2-.8 .1-.4 .3-.3 .1-.3 .2-.4 .2-.5 .3-.2 .2-.7 .1-.5 .2-.6 .2-.7 .3-.3 -.1 .8 .2 .2 -.1 .6 .1 .1 .1 .2 .1 .5 -.1 .4 .1 .7 .1 .3 .1 1.2 0 .4 .1 0 0 1 .1 0 0 .4 0 .3 .1 .3 0 .6 .1 .5 .1 .3 .2 1.3 .1-.5 0 .7 .3 .8 .2 .1 .1 1.1 .3 .2 0 1 .2-.1 .1 .7 .1-.1 .1 .9 .2 .6 .1 .3 .4-.3 .2 0 .4-.6 .4-.5 .4-.4 .2 .2 .5-.7 .2-.7 .5-.2 .3 .4 .3-1.5 .5-.3 .3-.2 .2 .3 .5-.7 .4 .2 .4-.5 .3-.8 .3 .3 .4-.7 .3 .2 .3-1 .4 0 .4 .1 .4 .4 .5-1.3 .5 .5 .4-.4 .3-.1 .5 0 .4-.3 .5-.4 .3 .1 .4 0 .5-1 .5 .5 .3 .5 .6-1.6 .4 .6 .4 0 .5-.8 .4 1.1 .2-.6 .6-.4 .3-.2 .4-.3 .6 .1 .4 0 .4-.7 .4-.4 .4 .3 .5 0 .4-.3 .5 .7 .3-.5 .5-.2 .5-.6 .3 .3 .5-.2 .3-.2 .5 0 .4-.1 .4-.6 .4 .2 .5-.1 .5-.3 .4-.8 .3 .5 .6-.3 .4 .1 .5-.2 .4-.4 .4 .2 .3-.6 .5-.1 .4 .3 .5-.1 .3-.8 .6-.3 .3 .1 .4-.4 .5 .5 .4-.3 .4 .1 .5-.3 .3-.1 .4-.3 .6-.1 .3-.1 .4-.1 .5-.2 .4-.1 .4 0 .5-.8 .4 0 .4 .1 .4-.4 .6 .3 .3-.2 .5-.4 .3 .4 .5-.7 .4-.7 .3 .7 .5 .1 .4-.6 .4-.5 .5-.6 .4 .3 .6-.4 .2 .1 .5 .3 .4-.6 .5 .1 .4 .2 .4-.5 .4 .3 .4-.3 .4-.5 .5-.1 .4 0 .5-.7 .4 0 .4-.3 .4 .4 .6-.9 .3 .7 .5-.8 .4 .3 .4-.4 .4 .4 .4-1.4 .4 .2 .5-.4 .4 .4 .4-.6 .5-.2 .3-.6 .5 .9 .4-1.1 .3 .7 .6 .1 .5-.7 .2 .1 .5-.3 .5-.2 .3-.4 .5 .1 .4-.2 .5-.6 .4 .6 .5-.6 .3 0 .4-.5 .6 .2 .2 0 .6-.6 .4-.1 .3-.1 .4 0 .6-.6 .3 0 .3-.7 .4-.1 .5 .1 .4-.7 .5 .3 .2-.8 .6-.3 .2 .4 .5-.5 .5-.3 .2 .2 .5-.1 .4-.2 .4-.4 .4 .2 .4-.7 .3-.7 .5 .3 .4-.3 .4-.6 .2 .1 .6-.7 .3 .6 .4-.7 .4 0 .3 0 .4-.4 .5 0 .5-.5 .4 .3 .3-.9 .3 .1 .4-.6 .4 .3 .5-.6 .4 .6 .3-.4 .5-.3 .6-.6 .4 .1 .4-.3 .4-.1 .4 0 .5-1.1 .5 .7 .4-.5 .4 .1 .5-.1 .5 .1 .4-.7 .4 .2 .6 0 .3-.4 .4 .3 .6-.5 .2 .4 .5-.3 .5-.6 .5 0 .3-.3 .6-.3 .2-.5 .5 0 .3-.3 .4 .3 .3-.8 .4 0 .4-.6 .2-.1 .4-.1 .3-.5 .5-.4 .3 0 .3 0 .5-.4 .4-.5 .4-.1 .3-.7 .4-.5 .3-.3 .1-.3 .2-.3 0-.7 .2-.5 .2 0 0-.7 .2-.4 .2-.2 .2-.7 .1 0 .2-.8 -.1 .4 .1 .5 0-.1 .2 .9 .1 .6 0 .5 .1 0 0 .6 .1 .6 0 .5 .1 .3 .1 .5 0 .6 .2 0 .1 1.1 -.1 .2 .2-.2 0 1.1 .2 .4 0 .2 0 1.1 .1-.2 .3 .6 .1 .5 .2 .3 .2 .5 .1 .7 .3 .3 .1 .4 .3 0 .1 0 .2 .8 .3 .1 .5-.1 .1-.2 .4-.6 .2-1.2 .3 .9 .3-.8 .3-.5 .4-.2 .2-.4 .3-.5 .3-.7 .2 .2 .4-.5 .2-.3 .3-.6 .4 .4 .3-.7 .4 0 .2-1.3 .3 .7 .2-1.7 .4 .6 .2-.6 .3-.5 .2 0 .4-.6 .3-.6 .3-.3 .4 .2 .2-.6 .3-.3 .2-1 .4 .3 .3-.7 .4-.3 .3 .1 .3-.7 .2-.4 .3 .2 .3-.6 .3-.7 .3-.1 .3-.6 .4 .1 .2-.5 .3-.1 .3-.8 .4-.4 .2 .1 .4-.4 .3-.6 .2 .1 .3-.6 .4-.3 .2-.5 .3-.7 .3 .6 .4-.4 .2-.7 .4-.4 .3-.2 .2-.3 .5-.2 .2-.9 .3 0 .3-.3 .2-.9 .3 1.1 .4-1.3 .3-.1 .3-.5" stroke="#ff8000" stroke-width="2.3" fill="none" stroke-linejoin="round" stroke-linecap="round" clip-path="url(#cG)"/>
<path d="M54.8 708.6l.4 .8 .1 2.8 .4-3.7 -.1 .9 -.2-1.6 .2 2.4 .1 .3 1.1-1.9 -.6 2.4 .7-1.9 -.4-.9 .9 .4 -.5 2 .5-2.6 .5-1.2 -.1 3.7 .2-4.9 .2 1.1 .1-1.2 .8 2.1 -.1 1.1 .4-1.8 -.1-2.5 .5 3.2 .1-3.1 .3 .3 0 .4 -.1-3 .9 4.6 .2-2.5 .2-1 0 .5 -.4-.5 1-.8 -.1 2.8 .3-3.2 -.4 .1 .4 1.1 .2 1.3 .9-.9 0 .1 .3 .8 -.4-3.1 .9 3.5 -.3-1 .4-2.2 0 .7 -.1-2 .9 .9 -.3 1.3 .7 .4 -.2 3.1 .5-.2 .1-2.5 0-1.3 .8-.3 -.3 1 .8-.9 .1 2.4 .4 .1 -.6 1 .4-.6 .3-1.2 .4-1.1 .3 3.6 .3-4.1 .4 1.7 -.5 1.1 .6-.4 0 .6 .6-1.3 -.3 .6 1-2.6 -.2-.3 -.2 .7 .6 2.7 .4-1 -.5 .1 .6-1.7 .5 2.6 .4-2 .2-1.2 .1 2 .4-1.6 -.1 .5 .1 0 -.1-1.1 .6-.1 -.1 1.7 .9-.4 0-1 .1 .7 -.2 1.4 .1-.5 .4-2.4 .5 2.3 -.2-1.3 .4-2.2 .6-1.6 0 5.8 .4-3.9 -.3-.4 .1 1.2 .3-.5 .1 .9 .8-1.4 -.4-1.5 .9 2 .4 2.1 -.5-3.1 .9 .7 -.5 .6 .8-.2 .4-1.2 -.6-1.3 .9 2.1 -.1 1.3 -.2-.9 .5-1.4 .7-.2 -.4-1.8 .9 2.6 0-.1 .4-.3 .2 .4 .2-.5 -.5-1.3 .7-1.1 -.2 4.7 .4-2.6 .1 .8 .5 2.2 -.4-.5 .9-3.4 .3 4.7 -.5-1.7 .8 .3 -.2-6.8 .8 3.8 -.7-.7 .5 .7 -.1-1.1 .8 2.8 -.3-2.6 .9-.8 .2 2.1 .3-1.1 .2-2.6 0 1.8 .5-2.4 -.1 3.7 .1-2.9 0 2.1 .8-1.6 .1 1 .1 1.5 .5-1.8 .3 1.1 .3-2.5 -.2 3.5 .5-3.2 .2 .8 0 .9 0-.3 .6-.6 -.3 1.9 .9-2 -.1 3.3 .2-1.8 .5 .3 .4-.6 -.6-.2 1 2.3 .2-.8 .2-1 -.4 .1 0 1.7 .9-2.7 0-2 .7 1.7 -.5-.9 .5 2.7 .2-4.4 .2 5.8 0-1.9 .8-.4 .2-2.6 0 4 .3-2.3 -.2-1 .1-.7 1.1 2.4 -.3 1.8 .3-3.8 .2-2.1 0 2.5 .4 2.2 .7 .8 -.2-2.1 .4 1 -.3-.2 .5-1.2 .2-.1 -.1-1.3 1.1 2.6 -.1-2.6 .4 2.4 .2-1.4 -.3 1.1 .8-2.3 -.2 1.5 .3 .7 -.2 2.1 1.2-2.4 -.7-1.3 .9-2.3 -.4 4.5 .6 2.4 .3-3.1 .2-2.7 -.2 2 .3 1.5 .1-3.1 .4 3.6 .7-.6 -.3 1.1 .4-4 -.1 3.5 1-1 -.6 .2 .9 1 .2-2.6 .1-.5 -.2 1.6 .1-1.7 .3-2.3 .7 2.3 .4 .2 .1 0 .5-3.2 .1 3.9 -.3-.7 .8 .8 -.4-2.7 .1 2.4 .8 .1 -.4 .1 .8 3.1 .4-1.4 -.1-2.3 0 .9 .2-.1 .1-.1 .1-1.1 1 1.9 -.4-1.6 .2 .6 1-.1 -.2-1.8 -.1 2.4 .1-2.7 1-1.3 -.4 3.2 .3 .1 0-3.1 .8 .6 -.2 3.8 .2-3.8 .3 1.5 .4 1.2 .6-1.3 -.6-.3 .6 1.3 .5-.7 .2-4.2 -.2 .7 .4 3.1 .4-.1 0 .8 .4-2.4 0 1.7 .5-1.7 0-.9 .4 1.5 .1-1.8 -.1 0 .9 3.4 -.4-3 .2 2.1 0-.7 .2 .4 1 2 .1-1.7 .3-.2 -.1 1.1 .2-4.3 .4 2.9 .2 1.4 .5-.9 0-4.1 .2 4.7 -.2-1.7 .5 .4 .5 .8 .6-.7 .5-4 -.2 4.5 .4-3 .4 .5 .5-3.9 .4 5.2 0-5.1 .3 2.3 .2 1.3 .8-2.5 .6-.1 0 3.6 .3 .2 .8-2.4 -.3 .3 .8 .9 .1-.1 .3 .3 .5 .9 .3-1.7 .6 .1 0-1.2 .7 .3 .1 1.4 .6-.5 .5-.8 .1-1.6 .7 1.3 0-.3 .2 1.8 .6-2.7 .5 .4 .2 .1 .2-1.7 .5 1.5 .4-.4 .2-.8 .7 .6 .1-.6 .5-.9 .1 .6 .4-.5 .4 .8 .5-1.3 .2 .4 .5-.3 .4-.2 .3 .7 .3-.4 .4 0 .3-.2 .4 0 .3 .1 .4-.8 .4 .6 .4 .2 .6-.8 .4 .2 .3-.5 .6-.5 .4 .2 .4 .2 .4-.2 .6-.7 .3 .3 .6 .1 .4-.5 .3 .1 .6-.3 .4 .6 .5-1.2 .4 .3 .4-.5 .4 .6 .5-.2 .4-.2 .3-.7 .5 .4 .5-.3 .5 .5 .4-.6 .5 .1 .4-.8 .5 .3 .3 .1 .5-.4 .5-.6 .5 .1 .4 .8 .5-1.3 .3 .3 .6-.2 .4 .7 .4-.7 .4-.1 .4-.8 .5 .2 .5 .2 .4-.3 .4-.3 .4-.2 .5 .1 .5-.1 .3-.4 .5 .5 .5-.4 .5 .1 .3-.5 .5-.1 .4-.3 .6 .8 .4-.3 .3-.2 .5 0 .4-.2 .6-.5 .4-.1 .5 .2 .3-.7 .5 .8 .4-.5 .5-.1 .5 .5 .4-.2 .5-.5 .3 .8 .7-1.1 .3 .1 .5-.4 .5 .4 .3 0 .6-.3 .3-.2 .6-.1 .4-.2 .4 .2 .4-1 .6 .7 .4 .1 .4-.6 .4 1 .5-1.4 .5 .5 .5-.5 .3 .2 .5-.3 .5 .2 .3 0 .5-1 .3-.1 .4-.1 .4-.6 .4 .2 .5-.4 .4 0 .3-.3 .5-.5 .4 .1 .4-.1 .4-.1 .4 .2 .4-.8 .4-.4 .4 0 .4-.9 .2 .1 0-.6 .3 .2 0-1.1 .3-.8 .1-.2 .2-.7 .2 .4 0-1 .1 0 .3 .6 0 .3 .1 .2 .1 .5 .1-.4 .1 1 .1 0 .1 .9 .2 .3 0 .9 .3 .3 .5 .4 .3 .1 .3 .5 .4-.3 .4 1 .3 .6 .5-.4 .4-.4 .5 .1 .4-.3 .3-.4 .4-.3 .6-.1 .3 0 .5-.5 .3 0 .5 .2 .4-.6 .4 .4 .6-.8 .4-.2 .4 .1 .4-.3 .4-.2 .4-.3 .5 .8 .5-1 .5 .4 .4 0 .3-.3 .5 .1 .4-.2 .4 .4 .6-.2 .4-.7 .5-.5 .3 .8 .5-.8 .5 .5 .4 .1 .6 0 .3-.3 .6 .6 .3-.1 .4-.7 .5 0 .4 .4 .5-.5 .4-.4 .5 .5 .4-.6 .4-.3 .5 .5 .5-.1 .4 .1 .4-.2 .4-.5 .5 .6 .4-.8 .5 .5 .6-.2 .4 .2 .4-.5 .4 .2 .5-.2 .3-.3 .7 .3 .3-.5 .4 .6 .5-.3 .5-.4 .4-.3 .4 .3 .5-.5 .5 .1 .5-.1 .3 0 .6 .4 .3 .2 .6-.3 .3 0 .5-.6 .6 .5 .4-.5 .5 .5 .3-.2 .6-.5 .4 .2 .5-.1 .3-.5 .5 .2 .5 .1 .4-.3 .4-.2 .5 .8 .6-.1 .4-.3 .4-.3 .5 0 .3-.4 .6-.4 .5 .1 .3-.5 .5 1.1 .4-.7 .6-.5 .4 .8 .4-.2 .4-.2 .5-.2 .5 .1 .5 .5 .4-.8 .5-.2 .5 .7 .3-.8 .6-.4 .3 .1 .5 .1 .5-.2 .3 1 .4-.8 .5 0 .6-.2 .4-.2 .4 .2 .5-.7 .5 .3 .3-.4 .5-.1 .5-.4 .3 .5 .6 .1 .4 .6 .5-.4 .4 .4 .4-.8 .5 0 .5-.1 .3-1.1 .6 .8 .4-.5 .4 .1 .4 .4 .4-.3 .5-.2 .4-.5 .5 .8 .4-.4 .5-.1 .5 .3 .3 .3 .6-1.1 .5 .2 .3-.5 .5 .4 .4-.8 .4 .1 .5-.3 .4 .2 .5 .3 .4 .1 .4-.4 .3-.8 .5 .3 .4-.5 .5 .5 .5-.6 .3-.4 .5 0 .4-.1 .4 0 .5 0 .4 .5 .5-1.4 .4 .7 .5 .2 .3-1.2 .6 .2 .3 0 .4-.2 .6 0 .4-.1 .4-.1 .3 0 .5-.7 .3-.1 .5 .5 .6-.8 .4-.3 .4 .6 .5-1 .5 1 .3-.8 .5 .1 .4 .2 .4-.6 .4 0 .5 .3 .4-.7 .4-.1 .6 .3 .4-.2 .3-.2 .5-.5 .5 .4 .4-.6 .4 .3 .5-.7 .4-.1 .4-.1 .6-.2 .3 0 .5-.2 .5 0 .5-.2 .3 .4 .4-1.1 .6 1.3 .4-1.8 .4 .7 .5 .6 .4-.7 .4 .1 .6-.2 .4-.1 .4 .6 .3-.5 .5-.8 .5 .1 .3-.4 .7 .8 .3-1.1 .2-.9 .5 .8 .2-.7 .3-.7 .4-.1 .3 .1 .4-.8 .2-.4 .2 .1 .1 .9 .3 .9 .1 .7 .3-.6 .1 .9 .3 .2 0 .3 .3 .1 .2 .6 .1 1.4 .1-.3 .3 .7 .3 .3 .1 .7 .4-.8 .4 .3 .4-.9 .5 .7 .3-1.3 .5 .5 .4-.4 .4-.2 .4-.1 .4-.1 .4-.2 .5-.3 .4-.3 .4 .2 .4-.5 .4 0 .5-.4 .3-.2 .3-.5 .4-.1 .4-.6 .4 .5 .3-1.3 .5 .5 .3-.3 .4-.1 .3-.2 .4-.3 .3-.7 .4 0 .5 0 .3 0 .3-.5 .4-.3 .4-.4 .4-.7 .3-.3 .5 0 .4-.3 .3-.4 .4-.1 .4-.2 .4-.3 .4-.3 .2-.5 .5 .2 .3-.4 .3-.4 .5-.5 .3 .3 .4-.5" stroke="#ff0000" stroke-width="2.3" fill="none" stroke-linejoin="round" stroke-linecap="round" clip-path="url(#cG)"/>
<path d="M54.1 678.6 L298 450.6" stroke="#000" stroke-width="2.1" stroke-dasharray="8 9.5" stroke-dashoffset="0" fill="none" clip-path="url(#cG)"/>
<path d="M54.1 707.9 L318.8 578.4" stroke="#000" stroke-width="2.1" stroke-dasharray="8 9.5" stroke-dashoffset="0" fill="none" clip-path="url(#cG)"/>
<path d="M54.1 709.3 L318.8 618.6" stroke="#000" stroke-width="2.1" stroke-dasharray="8 9.5" stroke-dashoffset="0" fill="none" clip-path="url(#cG)"/>
<path d="M54.1 709.5 L318.8 646.5" stroke="#000" stroke-width="2.1" stroke-dasharray="8 9.5" stroke-dashoffset="0" fill="none" clip-path="url(#cG)"/>
<rect x="54.1" y="450.6" width="264.7" height="264.3" fill="none" stroke="#000" stroke-width="1.5"/>
<path d="M89.4 714.9V710.4M89.4 450.6V455.1M160 714.9V710.4M160 450.6V455.1M230.6 714.9V710.4M230.6 450.6V455.1M301.2 714.9V710.4M301.2 450.6V455.1" stroke="#000" stroke-width="1.4" fill="none"/>
<path d="M124.7 714.9V706.9M124.7 450.6V458.6M195.3 714.9V706.9M195.3 450.6V458.6M265.9 714.9V706.9M265.9 450.6V458.6" stroke="#000" stroke-width="1.4" fill="none"/>
<path d="M54.1 666.7H58.6M318.8 666.7H314.3M54.1 570.3H58.6M318.8 570.3H314.3M54.1 473.9H58.6M318.8 473.9H314.3" stroke="#000" stroke-width="1.4" fill="none"/>
<path d="M54.1 618.5H62.1M318.8 618.5H310.8M54.1 522.1H62.1M318.8 522.1H310.8" stroke="#000" stroke-width="1.4" fill="none"/>
<text x="7.5" y="468.5" font-family="Liberation Sans, sans-serif" font-size="20" text-anchor="start" font-weight="bold" font-style="normal" fill="#000" style="stroke-width:0.5px">g</text>
<text x="135" y="477.5" font-family="Liberation Sans, sans-serif" font-size="17" text-anchor="middle" font-weight="normal" font-style="italic" fill="#000" >x</text>
<path d="M73.1 492.9 H111.7" stroke="#0000ff" stroke-width="2"/>
<text x="114.5" y="499.4" font-family="Liberation Sans, sans-serif" font-size="17" text-anchor="start" font-weight="normal" font-style="normal" fill="#000" >0.28</text>
<path d="M73.1 513.2 H111.7" stroke="#00ff00" stroke-width="2"/>
<text x="114.5" y="519.7" font-family="Liberation Sans, sans-serif" font-size="17" text-anchor="start" font-weight="normal" font-style="normal" fill="#000" >0.44</text>
<path d="M73.1 533.3 H111.7" stroke="#ff8000" stroke-width="2"/>
<text x="114.5" y="539.8" font-family="Liberation Sans, sans-serif" font-size="17" text-anchor="start" font-weight="normal" font-style="normal" fill="#000" >0.78</text>
<path d="M73.1 553.6 H111.7" stroke="#ff0000" stroke-width="2"/>
<text x="114.5" y="560.1" font-family="Liberation Sans, sans-serif" font-size="17" text-anchor="start" font-weight="normal" font-style="normal" fill="#000" >1.00</text>
<text x="50.5" y="528.1" font-family="Liberation Sans, sans-serif" font-size="17" text-anchor="end" font-weight="normal" font-style="normal" fill="#000" >8</text>
<text x="50.5" y="624.5" font-family="Liberation Sans, sans-serif" font-size="17" text-anchor="end" font-weight="normal" font-style="normal" fill="#000" >4</text>
<text x="50.5" y="720.9" font-family="Liberation Sans, sans-serif" font-size="17" text-anchor="end" font-weight="normal" font-style="normal" fill="#000" >0</text>
<text x="54.1" y="733.4" font-family="Liberation Sans, sans-serif" font-size="16.5" text-anchor="middle" font-weight="normal" font-style="normal" fill="#000" >0.0</text>
<text x="124.7" y="733.4" font-family="Liberation Sans, sans-serif" font-size="16.5" text-anchor="middle" font-weight="normal" font-style="normal" fill="#000" >0.4</text>
<text x="195.3" y="733.4" font-family="Liberation Sans, sans-serif" font-size="16.5" text-anchor="middle" font-weight="normal" font-style="normal" fill="#000" >0.8</text>
<text x="265.9" y="733.4" font-family="Liberation Sans, sans-serif" font-size="16.5" text-anchor="middle" font-weight="normal" font-style="normal" fill="#000" >1.2</text>
<text x="137" y="759" font-family="Liberation Sans, sans-serif" font-size="20"><tspan font-family="Liberation Serif, serif" font-style="italic">ω</tspan><tspan font-size="12.5" dy="-9">2</tspan><tspan dy="9"> (10</tspan><tspan font-size="12.5" dy="-9">6</tspan><tspan dy="9">cm</tspan><tspan font-size="12.5" dy="-9">-2</tspan><tspan dy="9">)</tspan></text>
<text transform="translate(16.9,592.9) rotate(-90)" xml:space="preserve" font-family="Liberation Sans, sans-serif" font-size="20.8" text-anchor="middle"><tspan font-family="Liberation Serif, serif" font-style="italic">γ</tspan>(<tspan font-style="italic">T</tspan> = 5 K,ω)  (10<tspan font-size="12.5" dy="-9">2</tspan><tspan dy="9">cm</tspan><tspan font-size="12.5" dy="-9">-1</tspan><tspan dy="9">)</tspan></text>
<text transform="translate(207,523.6) rotate(-44)" font-family="Liberation Sans, sans-serif" font-size="20"><tspan font-family="Liberation Serif, serif" font-style="italic">γ</tspan><tspan font-size="12.5" dy="4">0</tspan><tspan dy="-4"> + B</tspan><tspan font-family="Liberation Serif, serif" font-style="italic">ω</tspan><tspan font-size="12.5" dy="-9">2</tspan></text>
<path d="M372 718.2l.2 4.6 .3-7.3 .3 5.8 .2 2.5 .2-15 .3 11.2 .3-1.7 .2 1.8 .2 .7 .3-5.2 .3 2.7 .2-1.9 .2 1.2 .3 2.6 .3-4.2 .2-2.9 .2 1 .3-2.1 .3 3.2 .2-1.7 .2 9 .3-9.8 .3-2 .2 3.2 .2-.4 .3 0 .3 .1 .2 .9 .2-7.9 .3 4.6 .3 2.6 .2 1.9 .2-8.1 .3 2.5 .3 3.5 .2-6.6 .2 3.6 .3-8 .3 3.5 .2 5.4 .2-4.2 .3 2.5 .3 3.9 .2-2.1 .2-1.9 .3-1 .3 3.6 .2-1.9 .2 .4 .3-1.1 .3-2.8 .2-4.7 .2 7.7 .3-3.7 .3-5.5 .2 8.7 .2-2.2 .3 7.3 .3-14.2 .2 5.6 .2 3.9 .3-5.9 .3 8.5 .2-2.9 .2-14.2 .3 15.6 .3-4.1 .2-3.2 .2 2.7 .3-3 .3-.2 .2-.6 .2 7.2 .3-10.1 .3 3.1 .2 4.5 .2 1.6 .3-6.8 .3 7.8 .2-6.3 .2 .9 .3-3.4 .3 2.1 .2 2.2 .2-.2 .3-3.4 .3 5.1 .2-5.4 .2-3.2 .3 4.2 .3 5.5 .2-6 .2-.4 .3-.5 .3-2.1 .2 3.3 .2-3.1 .3 5.1 .3-7.5 .2 1.6 .2 .9 .3-7 .3 8.2 .2-3.2 .2 .1 .3 2.4 .3 1 .2-1 .2-3.3 .3 4.3 .3-6 .2 1.3" stroke="#0000ff" stroke-width="1.8" fill="none" stroke-linejoin="round" stroke-linecap="round" clip-path="url(#cH)"/>
<path d="M425 676.8l.3 0 .3-1.5 .3-.7 .3 2 .3-2 .3 .6 .3-2 .3 .8 .3 2.9 .3-4.3 .3 2.8 .3-1.6 .3-.6 .3-.6 .3 .9 .3-1 .3-.1 .3 .1 .3-1.2 .3-.4 .3 3.3 .3-3.4 .3-.9 .3 .3 .3 0 .3-2.2 .3 4.1 .3 .2 .3-.3 .3-3.2 .3-1.3 .3 .4 .3 1.2 .3-1 .3-2.4 .3 3.2 .3-1 .3 .2 .3-1.2 .3 .7 .3 1.3 .3-2.7 .3-1.1 .3 .8 .3 .4 .3-.1 .3-5.3 .3 3.7 .3-1 .3-.3 .3 2.1 .3-2 .3 2.7 .3-2.6 .3 .6 .3-4.2 .3 2.4 .3 .5 .3-2.1 .3-.4 .3 1.9 .3 1.5 .3-1.3 .3-3.8 .3-.9 .3 5.9 .3-1.2 .3-1.3 .3-1.8 .3 .4 .3-1.2 .3-.1 .3 1.5 .3-.7 .3 1 .3-.8 .3-3.5 .3-.6 .3 2 .3 .4 .3 .5 .3-.2 .3-1.5 .3 3 .3-2 .3-2.2 .3 2 .3 .3 .3 2.3 .3-4.1 .3 .3 .3-3.2 .3-.1 .3 .5 .3 1.2 .3 .7 .3-3.3 .3 3 .3 .7 .3-1 .3-3.8 .3-2.1 .3 2 .3 1.7 .3 .4 .3-.9 .3 1.4 .3-.8 .3-.5 .3-2.8 .3 2.6 .3-.8 .3-1.9 .3 .2 .3 .3 .3-1.1 .3-1 .3 2.5 .3-2.3 .3 2.5 .3-4.1 .3 2.3 .3 1.2 .3-2.3 .3 3.7 .3-2.6 .3-.1 .3-2.1 .3-.7 .3 1.3 .3-1.1 .3-.7 .3 1.5 .3-.6 .3-.4 .3-.2 .3-2.4 .3-.2 .3 .2 .3 0 .3-.7 .3 .4 .3 .7 .3-.6 .3 1.7 .3-1.8 .3 1.5 .3-1.8 .3-3.2 .3 2.4 .3 .1 .3-1.4 .3 .5 .3-2 .3 1.8 .3 .5 .3-1.9 .3 .8 .3 .2 .3-2 .3 1.8 .3-1.2 .3 1.1 .3-.6 .3 .2 .3-.9 .3-2 .3 1.5 .3-1.7 .3 1.3 .3-.6 .3 .9 .3 .7 .3-2.7 .3 1 .3-3" stroke="#0000ff" stroke-width="1.8" fill="none" stroke-linejoin="round" stroke-linecap="round" clip-path="url(#cH)"/>
<path d="M384 695.6l.3 4.3 .3 2.8 .2-2.3 .3-.9 .3-1.2 .3 1.4 .3-3.5 .2 2.4 .3 1.9 .3 1.1 .3-3.5 .3 1.4 .2 2.5 .3-2.2 .3-4.1 .3 3.9 .3-5.1 .2 2.7 .3-1.8 .3-1.4 .3-1.1 .3 .2 .2 1.1 .3 .6 .3 1.8 .3-2.9 .3 .1 .2-.2 .3 3.5 .3-.4 .3-3.9 .3-.8 .2 4.7 .3-6.5 .3-.4 .3-.4 .3 3.5 .2-1.4 .3 3.6 .3-.8 .3-2.1 .3 .8 .2-1.4 .3-.5 .3-1.6 .3 3.7 .3-4.2 .2 2.3 .3-1.3 .3 1.5 .3-4.4 .3 3.5 .2-4.7 .3-2.2 .3 3 .3 1.6 .3 .7 .2-8 .3 4.8 .3-.8 .3 4.6 .3-5.9 .2 6.1 .3-.2 .3-4 .3-.4 .3-1.9 .2-1.2 .3 7.1 .3-1.3 .3-4.5 .3 1.3 .2 2 .3 2.7 .3-9.7 .3 6.7 .3-3.2 .2 .6 .3 .9 .3 .6 .3-5.5 .3 8 .2-6 .3 1.4 .3-1.1 .3-.8 .3-.3 .2-2.8 .3-.7 .3 7.1 .3-6.2 .3 4.1 .2-6.5 .3 3.1 .3-.9 .3 1.6 .3-3.3 .2 2.7 .3-2.2 .3 2.2 .3-.7 .3-1.2 .2 3.5 .3-6 .3 5.1 .3-.5 .3-3.4 .2-2.5 .3 3 .3-4.2 .3 3.4 .3 4.3 .2-5.8 .3 3.7 .3-.9 .3-6.3 .3 4.5 .2-4.2 .3 10.1 .3-7.3 .3 3.1 .3-.1 .2-2.8 .3-1.8 .3-1.3 .3 3.4 .3-.8 .2-4.3 .3 2.9 .3-.3 .3-1.5 .3 2.9 .2 .4 .3-1.1 .3-3.7 .3-1.7 .3 6.3 .2-1.8 .3-5 .3 1.1 .3 2.1 .3-3.7 .2 3.8 .3-3.1 .3 2 .3-.4 .3 .4 .2 1.5 .3-.9 .3-3.9 .3 .7 .3-1.3 .2-.1 .3 .8 .3 2.4 .3-5.9 .3 4.7 .2-4.3 .3 .6 .3 1.5 .3 1.7 .3 .9 .2-3.8 .3-1.7 .3 3.3 .3-4.6 .3 7 .2-1.2 .3-3 .3-.8 .3 1.6 .3-4.9 .2 3.7 .3 2.9 .3-1.9 .3-.5 .3-.4 .2-2.6 .3 .3 .3-.8 .3 2.9 .3-3.2 .2 2.8 .3-3.7 .3 .8 .3-.7 .3 3 .2-4.1 .3-1.2 .3 0 .3 3.4 .3-.8 .2 2 .3-5.1 .3 1.9 .3-1.6 .3-1.7 .2 7.1 .3-4.3 .3-3.1 .3 2.4 .3 1.5 .2-1.9 .3 .2 .3-2.9 .3 1.5 .3 2.5 .2-4.6 .3 .7 .3 4.9 .3-4.1 .3 1.6 .2-.1 .3-6.7 .3 4.3 .3 6.8 .3-5.9 .2-1.8 .3 1.2 .3 .3 .3-1.9 .3-4.3 .2 2.6 .3-1.3 .3 2.4 .3-.1 .3 3.5 .2-6.6 .3 .5 .3 3.8 .3-1 .3-1.1 .2-3.9 .3 1.1 .3 2 .3-2.5 .3 7.2 .2-3.8 .3-1.7 .3-1.8 .3 1.4 .3-.5 .2-4.2 .3 6.8 .3 .9 .3-5.1 .3 1.1 .2 2.9 .3-5.4 .3 1.4 .3 1.8 .3-2.6 .2-1.7 .3 .7 .3 1.7 .3 2.4 .3-6.6 .2 3 .3 1.7 .3-4 .3 2.8 .3-2.8 .2-4.6 .3 4.5 .3 2.5 .3-.8 .3-1.7 .2-7.3 .3 7.7 .3-1.2 .3-1.6 .3-.7 .2 1.5 .3 2 .3 .8 .3-1.1 .3 .2 .2-1.2 .3-1.7 .3-1 .3 0 .3-.8 .2-1.1 .3 2 .3 2 .3-5.3 .3-1.5 .2 2.8 .3 2.1 .3-1.1 .3-3.1 .3 2 .2-3.3 .3 6.4 .3-1.8 .3 .8 .3-4.5 .2-.2 .3-3.2 .3-.2" stroke="#00ff00" stroke-width="1.6" fill="none" stroke-linejoin="round" stroke-linecap="round" clip-path="url(#cH)"/>
<path d="M372 708.8l.2 2.3 .2 .6 .3-2.1 .2-2.9 .2 .6 .2 2.6 .2 1.5 .3-2.3 .2 3.7 .2-2.8 .2-2.6 .2 2.4 .3 3.7 .2-10.1 .2 3.3 .2 .7 .2 2.9 .3-2.2 .2-1 .2 .2 .2 2.2 .2-1.7 .3 .7 .2-1.6 .2-2.1 .2 .9 .2 .8 .3 .3 .2 2.8 .2-2.7 .2 4.3 .2-.1 .3-7.7 .2 6 .2-3.3 .2-1.6 .2-1.5 .3 2.6 .2-3.4 .2 5 .2-8.1 .2 6.1 .3-3.3 .2-1 .2 2 .2-.2 .2-2 .3 3.3 .2-2.6 .2 2.3 .2 2.5 .2-1.3 .3-2.6 .2 .9 .2 2.9 .2-4.2 .2-1.3 .3-1.6 .2 2.5 .2 6.4 .2-9.2 .2 6 .3 .2 .2-3.3 .2-2.6 .2 .7 .2 1.7 .3-.4 .2 .7 .2-1.1 .2 5.1 .2-6.5 .3-2.8 .2 2.4 .2-1.9 .2 4.4 .2 2.2 .3-1.5 .2-5.1 .2-1.9 .2 2.5 .2-.9 .3 1.8 .2 .6 .2-1.4 .2-1.5 .2 .9 .3-1.4 .2 4 .2-.9 .2-.4 .2-2.8 .3 2 .2-4.7 .2 6.5 .2-2.5 .2 .6 .3-3 .2-3.2 .2 4.5 .2-1.5 .2-1.5 .3-.7 .2 2.4 .2-1.6 .2-3 .2 5.3 .3-3.2 .2-.5 .2 4.6 .2-10 .2 9.3 .3-8.4 .2 4.9 .2 .8 .2 .3 .2-8.4 .3 2.5 .2 6.5 .2-.3 .2-2.1 .2-.8 .3 4.1 .2-4.9 .2 1.2 .2-1 .2 .9 .3 2.5 .2-3.5 .2 3.6 .2-5.8 .2 2.7 .3-4 .2-3.8 .2 7.6 .2 .8 .2-4.1 .3-2.1 .2 7.8 .2-6.6 .2-4.5 .2 9.5 .3-2.3 .2-1.4 .2-2 .2 2.7 .2-1.3 .3-.2 .2-1.6 .2 2.1 .2 .2 .2 1.5 .3-3.9 .2 2.8 .2 .7 .2-6.3 .2 5.5 .3-5 .2 2.9 .2-.8 .2-2.8 .2 1.7 .3-3.3 .2 .5 .2 2.1 .2 3.8 .2-2.5 .3 1 .2-1.9 .2-1.9 .2 .6 .2-.7 .3-2.7 .2 1.7 .2 1.7 .2 2.5 .2-4 .3 2 .2-3.1 .2 6.1 .2-4.7 .2 5.8 .3-10.9 .2 4.8 .2 2.1 .2-2.3 .2 .3 .3 .6 .2-3.7 .2 2.9 .2-2 .2-2.4 .3-.1 .2-.2 .2 .8 .2-.3 .2 3.9 .3-1.2 .2-2.5 .2 1.8 .2-3.3 .2 3.5 .3-1 .2 .6 .2-2.9 .2 .6 .2 1.9 .3 .6 .2-2.7 .2-.1 .2 .1 .2-2 .3-.2 .2 4.5 .2-7.5 .2 1.7 .2 4.5 .3-1 .2-.1 .2-2.4 .2 5.3 .2-4.8 .3 2.7 .2-3.7 .2 .4 .2-.9 .2 3.2 .3-.2 .2-3.5 .2 3.4 .2 1 .2-.1 .3-3.4 .2 1.3 .2-2.3 .2-4 .2 9.4 .3-7.3 .2 .9 .2 1.3 .2 .1 .2-3.9 .3 3 .2 .1 .2-1.8 .2 3.4 .2-1.3 .3 1.3 .2-4.9 .2 3 .2-1.1 .2-1.6 .3-3 .2 3 .2 1.7 .2 1.4 .2-2.8 .3 0 .2-2.3 .2 2.9 .2-1.3 .2-2.8 .3 4.6 .2-3.4 .2-1 .2 3 .2-6.1 .3 5.4 .2-4.1 .2 2 .2-1.5 .2 1.8 .3 5 .2-7.9 .2 5.4 .2-2.9 .2-.6 .3 1.8 .2 .1 .2-4.1 .2 3.2 .2 1.5 .3-3.2 .2-.5 .2-1.2 .2 2 .2-1.2 .3 1.3 .2-3.4 .2 1.8 .2 2 .2-3.3 .3 3.5 .2-5.2 .2 4 .2-3 .2 .9 .3 1.1 .2-2.9 .2 .3 .2-2.4 .2 2.6 .3 2.4 .2-5.6 .2 3.5 .2 .1 .2-4.8 .3 4 .2-1.6 .2-1.8 .2-.5 .2 2.5 .3 2 .2 .2 .2-3.6 .2 .7 .2 1.4 .3 2.4 .2-7.3 .2 4.9 .2 .2 .2-.3 .3 0 .2-.1 .2-.8 .2 .8 .2-3.7 .3 1.4 .2 1.1 .2 .1 .2-2.2 .2-1.3 .3 2.2 .2 2.1 .2-1.4 .2-2 .2 1.8 .3-2 .2-1.9 .2-1.4 .2 1.5 .2-1.7 .3 4.7 .2-5.5 .2 3.3 .2 .9 .2-.2 .3-2.7 .2 2.1 .2-2.3 .2-1.4 .2 2.6 .3 .9 .2-2.9 .2 .1 .2 1.1 .2 .4 .3-2.2 .2-1.7 .2 4.3 .2 2.4 .2-6.6 .3-.4 .2 2.2 .2-3.4 .2-2.8 .2 2.3 .3 2.6 .2 .4 .2-.8 .2-1 .2-3.8 .3 8.5 .2-4.2 .2-.3 .2-1.3 .2 3.3 .3-3.6 .2 1.5 .2-.3 .2 3.1 .2-1.3 .3 1.3 .2-6.2 .2-.6 .2-.1 .2 1.2 .3-4.6 .2 7 .2-.9 .2-1.2 .2 2.8 .3-1.8 .2-5 .2 .7 .2 3.3 .2-.5 .3-.7 .2-2.4 .2 4.7 .2-1.1 .2 .9 .3-6.7 .2 2.6 .2 2.6 .2-4.6 .2 2.7 .3-4.3 .2 1.4 .2 1 .2-2.4 .2 4.7 .3-1.9 .2 .3 .2-.7 .2-.9 .2 3 .3-3.5 .2-3 .2 6 .2-.4 .2-.2 .3 2.6 .2-3.3 .2-.9 .2-.6 .2 2.5 .3-3 .2-2.2 .2-.7 .2 2.7 .2 .3 .3-5.9 .2 6.9 .2-3.2 .2 1.1 .2-2.7 .3 1.8 .2-2.7 .2 2.8 .2-.2 .2 1.5 .3-2.2 .2-4 .2 5.7 .2-.1 .2-3.5 .3 .1 .2-.6 .2 .5 .2 3.2 .2-4.4 .3 3.1 .2-1.4 .2 4.6 .2-4.9 .2 4.3 .3-4.9 .2-3.2 .2 5.3 .2 .5 .2-2.7 .3-1 .2-.5 .2-.3 .2-.7 .2-.1 .3-.6 .2 3.6 .2-3.4 .2-.3 .2 1.6 .3 .6 .2 1 .2-.6 .2 1.1 .2-3.2 .3-2.3 .2-2.3 .2 .7 .2 3.4 .2-3.3 .3 2.6 .2 1.2 .2-2.6 .2 3.4 .2-.8 .3 .9 .2-4.8 .2 5.8 .2-3.6 .2 1.1 .3-7.2 .2-1.5 .2 9.1 .2-1.8 .2-4.1 .3 .4 .2-.9 .2 .1 .2 1.9 .2-3.8 .3 2.5 .2 5.7 .2-3.3 .2-1.4 .2 3.5 .3-4.5 .2 1.4 .2 .9 .2-.7 .2-3.5 .3 4.2 .2-3.9 .2 .5 .2 2.2 .2-.7 .3 .2 .2-.1 .2-2.4 .2-.2 .2 3.6 .3-7 .2 4.7 .2 0 .2-6.4 .2 3.1 .3 .3 .2 4 .2-4.7 .2-3.6 .2 9.7 .3-4 .2-2.6 .2 .8 .2 1.4 .2-3.9 .3 1.6 .2-1.5 .2 4.5 .2-4.3 .2 2.4 .3-4.5 .2 2.3 .2-1.2 .2-3.8 .2 4.1 .3 2 .2-3.9 .2 2.8 .2-.5 .2-1.7 .3 2 .2-.8 .2-1 .2 1.8 .2-3.7 .3-5 .2 6.9 .2 2.1 .2-3.1 .2-4.2 .3 3.6 .2-.7 .2 1.4 .2 4.6 .2-3.7 .3 1.1 .2-.9 .2-5.4 .2 1.9 .2-.2 .3 1.9 .2 .8 .2 .4 .2-5.9 .2 2.2 .3-1.4 .2 .8 .2 4.3 .2-4.6 .2 3 .3-2.3 .2 .1 .2 0 .2-2.5 .2 5.3 .3-5.7 .2 1.5 .2-.7 .2 1.3 .2-5.2 .3 3.7 .2 1.3 .2 3.7 .2-5.1 .2-4.2 .3 2.4 .2-.4 .2 4.4 .2-1.8 .2-4.9 .3 3.3 .2 1.8 .2-4.7 .2 1.2 .2 3.1 .3-.8 .2 4" stroke="#ff8000" stroke-width="1.9" fill="none" stroke-linejoin="round" stroke-linecap="round" clip-path="url(#cH)"/>
<path d="M372 714.5l.2-.9 .2 1.3 .3-1 .2 1.7 .2-6 .2 7.3 .2-1.3 .3-2.5 .2-1.9 .2 2.4 .2 .6 .2-2.6 .3 3.1 .2-6.3 .2 5.2 .2 .4 .2-6 .3 2 .2-.7 .2-2.1 .2 5.2 .2-1.1 .3-4.3 .2 2.5 .2 .9 .2 1.3 .2 1.8 .3-1.4 .2-4.2 .2 2.2 .2-1.1 .2 .2 .3 3.8 .2-5.5 .2 3 .2-5.1 .2 2.3 .3-1 .2-2.8 .2 2.3 .2 5.4 .2-4.4 .3 2.1 .2-3.3 .2 3.1 .2-1.4 .2-2.3 .3 2.7 .2-1.7 .2-6.1 .2 8.8 .2-3 .3 2.4 .2-.5 .2-2 .2-4.7 .2 1.6 .3-2.6 .2 7.4 .2-11.1 .2 10.7 .2-4.6 .3 2.4 .2-.3 .2-4.8 .2 7.1 .2-6.2 .3-.5 .2 .6 .2 .2 .2 1.2 .2 1.5 .3-1.9 .2-2.7 .2 4.3 .2-4 .2 2.8 .3-.6 .2 .4 .2-2.6 .2-3.6 .2 2.9 .3 3.2 .2-1.9 .2 1.4 .2-1.2 .2 .3 .3 1.8 .2-3.7 .2 1.2 .2-2 .2-2.4 .3 4 .2-5.2 .2 3.8 .2 .9 .2-1.8 .3 2.4 .2-6.3 .2 2.1 .2-1.9 .2 7.1 .3-4.4 .2 1.7 .2-3 .2-1.2 .2 2.9 .3 3.1 .2-5.5 .2 3.4 .2-2.1 .2 2.6 .3-1.5 .2-3.2 .2 .7 .2 1.3 .2-1.4 .3-.4 .2 .3 .2-5.6 .2 6.2 .2-3.8 .3 4.7 .2-3.6 .2 2.8 .2-2.1 .2 4.6 .3-4.5 .2-2.8 .2 5.6 .2-3.6 .2-2.1 .3-.8 .2 7.4 .2 .9 .2-7 .2 .2 .3 2.3 .2-3.9 .2-3.3 .2 5.5 .2-3.3 .3 .5 .2 1.1 .2-1.5 .2-2.1 .2 7.2 .3-2.3 .2-2.3 .2-2 .2 4 .2 .6 .3-2.5 .2-5.7 .2 9.3 .2-.1 .2-3.8 .3-3.3 .2 .6 .2 1.7 .2-.1 .2-5 .3 5.1 .2-.9 .2 2.3 .2 1.2 .2-4.5 .3-2.9 .2 6.2 .2-4.4 .2 .9 .2 .4 .3 1.3 .2-5.6 .2-3.3 .2 9 .2 1.7 .3-6 .2 3.1 .2-1.6 .2 1.5 .2 .4 .3-.7 .2-2.9 .2 .6 .2 .3 .2 .4 .3-3.5 .2 2.7 .2-2.5 .2 .4 .2 2.6 .3-.3 .2 1.8 .2-5.9 .2-.1 .2 2.6 .3-2.2 .2 1.1 .2-2.7 .2 .9 .2 2.1 .3 .9 .2-5.9 .2 1.9 .2-1.7 .2 3.4 .3-1.6 .2 2.1 .2 2.6 .2-1.2 .2-4.6 .3-3.7 .2 6 .2-5.7 .2 5.8 .2-.9 .3-3.4 .2 .9 .2 2.3 .2-6.3 .2 3.7 .3-2.3 .2 8.2 .2-.9 .2-6 .2 4.7 .3-3 .2 3.1 .2 1.9 .2-4.6 .2-1.9 .3-2 .2 1.3 .2-2.8 .2 3.6 .2 1.9 .3 4.1 .2-3.8 .2-1.4 .2-.5 .2-2.9 .3-3.2 .2 2.5 .2 .9 .2 4.5 .2-3.2 .3-2.8 .2 4.7 .2-4.7 .2 2.7 .2 .6 .3-4.4 .2 3.1 .2-2.1 .2-.9 .2-4.3 .3 5 .2 1.2 .2 .8 .2-2.5 .2 3.9 .3-5.2 .2 2.8 .2-2.4 .2 2.4 .2-.2 .3-3.8 .2 2.1 .2 .6 .2-1.1 .2 1.6 .3 .3 .2-4 .2 2.5 .2-2.9 .2-.5 .3 1.9 .2-.7 .2-.2 .2 3.4 .2-4.6 .3 5.5 .2-4.9 .2 .2 .2-6.1 .2 .4 .3 6.5 .2-4.6 .2-1 .2-.5 .2 1.8 .3-1.7 .2 7.4 .2-4.6 .2 4.2 .2-2.8 .3 1.6 .2-5.9 .2 .5 .2 1.4 .2 .6 .3-3.4 .2 4.2 .2-2 .2-3.2 .2 .4 .3 .1 .2 3.7 .2-3.8 .2 .5 .2 4 .3-.9 .2-1.4 .2 5.3 .2-4.1 .2-3.7 .3 3.9 .2-.7 .2-1.1 .2 2.1 .2-2.8 .3-3.9 .2 .1 .2 2.7 .2 2.9 .2-2.8 .3-3.5 .2 2.6 .2-1.4 .2 2.5 .2-2.2 .3 5.9 .2-7.1 .2 1.7 .2-.4 .2 2.8 .3-2.6 .2-3.2 .2 6.2 .2 1.8 .2-9.4 .3 1.4 .2 0 .2 2.3 .2 3.4 .2-4.7 .3 5.1 .2-6 .2 .3 .2-2.4 .2 .4 .3-.6 .2 5.2 .2-5.6 .2 2.1 .2-2.6 .3-1.1 .2 2.8 .2-.3 .2 1.8 .2-6.2 .3 1.7 .2 .2 .2 2.5 .2-3.7 .2 9.5 .3-5.1 .2 4.9 .2-8.1 .2-1.7 .2 3.1 .3 .5 .2-.3 .2-.5 .2-4 .2 2.2 .3 1.2 .2-3.3 .2-1.5 .2 2.1 .2 .1 .3 .2 .2 3.9 .2-2.5 .2-2.7 .2 2.3 .3-.3 .2-.6 .2 6.2 .2-7.6 .2-2 .3 .1 .2 2 .2-2.8 .2 3 .2-3.8 .3 .8 .2 2 .2-3.1 .2 6.1 .2-5.2 .3 4 .2 2 .2-4.6 .2-4.6 .2 2.8 .3-.7 .2-1.5 .2 2.8 .2 .3 .2 1.9 .3-2.5 .2 .3 .2 1 .2-5.1 .2-.1 .3 1.3 .2-1.3 .2 4 .2-2.2 .2 2.8 .3-.1 .2-1.9 .2 .6 .2 .3 .2-1.6" stroke="#ff0000" stroke-width="1.9" fill="none" stroke-linejoin="round" stroke-linecap="round" clip-path="url(#cH)"/>
<path d="M453 638l1.5-8 .7-3.2 .8 9.2 1.5 6" stroke="#00ff00" stroke-width="2" fill="none" stroke-linejoin="round" stroke-linecap="round" clip-path="url(#cH)"/>
<path d="M395 703l1.5 11" stroke="#00ff00" stroke-width="1.6" fill="none" stroke-linejoin="round" stroke-linecap="round" clip-path="url(#cH)"/>
<path d="M435 664.3l.5-9.9 .5 9.9" stroke="#ff8000" stroke-width="1.6" fill="none" stroke-linejoin="round" stroke-linecap="round" clip-path="url(#cH)"/>
<path d="M444 657.4l.5-9.6 .5 9.6" stroke="#ff8000" stroke-width="1.6" fill="none" stroke-linejoin="round" stroke-linecap="round" clip-path="url(#cH)"/>
<path d="M459 645.9l.5-13.9 .5 13.9" stroke="#ff8000" stroke-width="1.6" fill="none" stroke-linejoin="round" stroke-linecap="round" clip-path="url(#cH)"/>
<path d="M486 625.1l.5-7.5 .5 7.5" stroke="#ff8000" stroke-width="1.6" fill="none" stroke-linejoin="round" stroke-linecap="round" clip-path="url(#cH)"/>
<path d="M505 610.5l.5-7.5 .5 7.5" stroke="#ff8000" stroke-width="1.6" fill="none" stroke-linejoin="round" stroke-linecap="round" clip-path="url(#cH)"/>
<path d="M478 640.2l.6-1.1 .6-.9 .6-1.4 .6-.5 .6 1.9 .6-2.3 .6-.4 .6-.1 .6-2.4 .6 .7 .6 .2 .6-.6 .6-.6 .6-.3 .6 0 .6-2 .6 1.8 .6-3.2 .6 .4 .6-3.1 .6 3.3 .6 1.8 .6-3.5 .6-.8 .6 1.5 .6-1.2 .6-3.1 .6 1.9 .6-1.8 .6 1.1 .6-.9 .6-.3 .6-1.1 .6 .5 .6 .4 .6 .4 .6-2.1 .6-2.3 .6 3.5 .6-2.5 .6-1 .6-.5 .6-1.1 .6 0 .6-.4 .6 .9 .6-3.2 .6 2.1 .6 .1 .6-2.1 .6-1.6 .6 2 .6-2.6 .6 1.2 .6-1.4 .6-3.5 .6 3 .6-2.6 .6 4.1 .6-4.6 .6 1.4 .6-3.2 .6 1 .6-.8 .6 .4 .6-1.3 .6-1.9 .6 2.1 .6 1.7 .6-1.7 .6-1.2 .6-3.3 .6 2.1 .6-.4 .6 .1 .6-2.5 .6-.6 .6 1 .6 1 .6-3.7 .6 .6 .6 1 .6-2.6 .6 1.5 .6-2.7 .6 1 .6 1.5 .6-2.1 .6-.3 .6-.9 .6-2.3 .6-.1 .6 .1 .6 .8 .6 .1 .6-3.9 .6 2.1 .6-1.4 .6 0 .6 .9 .6-3.7 .6 3.6 .6-3.9 .6 1.1 .6-.1 .6 .7 .6-2.8 .6 1.5 .6-3.1 .6 .6 .6-.1 .6-1.9 .6 2.8 .6-2.5 .6 .8 .6-2.7 .6 2.1 .6-2.5 .6 1.2" stroke="#ff0000" stroke-width="2.3" fill="none" stroke-linejoin="round" stroke-linecap="round" stroke-dasharray="0 3.6" clip-path="url(#cH)"/>
<path d="M495 626.4l.8 2.1 .8-.3 .8-5.7 .8 1.6 .8 .2 .8-1.8 .8 .4 .8-1 .8-1 .8 .4 .8-.5 .8 .4 .8-3.4 .8 1.9 .8-1.3 .8 1.9 .8-3.9 .8 1 .8 1.2 .8-3.5 .8-.9 .8 3 .8-5 .8 2.6 .8-1.5 .8-1.4 .8 .2 .8-.2 .8-3.1 .8 1.9 .8-.5 .8 0 .8-2.7 .8 .4 .8-1.2 .8 1.7 .8-3.3 .8 2.8 .8-4.7 .8 .4 .8-1 .8 0 .8-1.9 .8-1.5 .8 1.8 .8 .4 .8-6.7 .8 1.7 .8 0 .8 1.2" stroke="#ff0000" stroke-width="2.0" fill="none" stroke-linejoin="round" stroke-linecap="round" stroke-dasharray="0 4.5" clip-path="url(#cH)"/>
<path d="M497 614.5l1.4-1.1 2-1.5 2.3-1.7 2.3-1.7 2.4-1.6 2.6-1.6 2.6-1.6 2.4-1.5 1.9-1.3 1.7-1.3 1.7-1.3 2-1.6 2.3-2 2.5-2.2 2.8-2.4 3.3-2.5 4.3-2.7 5-2.8 4.9-2.8 4.1-2.7 2.9-2.4 2.2-2.3 1.9-2.2 2.1-2.2 2.1-2.1 1.9-2 2.2-2.2 2.9-2.8 4.1-3.7 4.8-4.4 5-4.4 4.4-3.9 3.6-3.1 3.1-2.7 3-2.6 3.1-2.6 3.2-2.9 3.3-2.9 3.1-2.8 3.1-2.3 2.8-1.6 2.7-1.1 2.7-.9 2.8-1 3.3-1.1 3.6-1.2 3.3-1 2.3-.7" stroke="#0000ff" stroke-width="2.4" fill="none" stroke-linejoin="round" stroke-linecap="round" stroke-dasharray="0 3.4" clip-path="url(#cH)"/>
<path d="M518.6 601V614.8M520.2 599.8V618.2M521.8 598.6V613.3M523.4 597.3V615.7" stroke="#0000ff" stroke-width="1.6" stroke-dasharray="1.6 1.6" clip-path="url(#cH)"/>
<path d="M537 579.5V605.8M538 569.2V604.8M539 564.1V619.8M540 566.7V610.3M541 564.6V604.4M542 567.4V606.5M543 568.4V619.4M544 572V613.8M545 562.5V597.7M548.5 564.1V594.1M549.7 568.6V590.5M550.9 567.5V601.5M552.1 569.1V596.5M553.3 562.9V598M554.5 563.1V589.2" stroke="#00ff00" stroke-width="1.3" stroke-dasharray="3 1.5" clip-path="url(#cH)"/>
<path d="M604.5 517.1V531.6M605.6 517.4V537.6M606.8 521.5V529.6M608 516.4V527.5M609.1 522.4V527.7M610.2 517.5V529.2M611.4 515.8V538.3M612.5 517.9V534.6M613.7 521.5V533.3M614.9 521.4V536.2M616 519.4V533.8M617.1 522V535.1M618.3 517.1V537.8M619.5 521.4V538.4M620.6 520V532.3M621.8 517.2V534.5M622.9 515.6V535.8M624 520.4V537.5M625.2 516V534M626.4 519V534.2M627.5 517.7V527.1M628.6 522.3V537.8M629.8 515.4V538M631 519.4V527.1M632.1 519.7V530.6M633.2 517.4V528.3" stroke="#ff8000" stroke-width="1.5" stroke-dasharray="2.2 1.8" clip-path="url(#cH)"/>
<path d="M615.5 535l0 23" stroke="#ff8000" stroke-width="2.0" fill="none" stroke-linejoin="round" stroke-linecap="round" stroke-dasharray="2.5 2.5" clip-path="url(#cH)"/>
<path d="M372.2 713.6 L636.4 510.4" stroke="#000" stroke-width="2.2" stroke-dasharray="8.5 9.5" clip-path="url(#cH)"/>
<rect x="371.8" y="450.6" width="264.6" height="264.4" fill="none" stroke="#000" stroke-width="1.5"/>
<path d="M404.9 715V710.5M404.9 450.6V455.1M471 715V710.5M471 450.6V455.1M537.2 715V710.5M537.2 450.6V455.1M603.4 715V710.5M603.4 450.6V455.1" stroke="#000" stroke-width="1.4" fill="none"/>
<path d="M438 715V707M438 450.6V458.6M504.1 715V707M504.1 450.6V458.6M570.3 715V707M570.3 450.6V458.6" stroke="#000" stroke-width="1.4" fill="none"/>
<path d="M371.8 666.8H376.3M636.4 666.8H631.9M371.8 570.4H376.3M636.4 570.4H631.9M371.8 474H376.3M636.4 474H631.9" stroke="#000" stroke-width="1.4" fill="none"/>
<path d="M371.8 618.6H379.8M636.4 618.6H628.4M371.8 522.2H379.8M636.4 522.2H628.4" stroke="#000" stroke-width="1.4" fill="none"/>
<text x="353" y="471.9" font-family="Liberation Sans, sans-serif" font-size="20" text-anchor="start" font-weight="bold" font-style="normal" fill="#000" style="stroke-width:0.5px">h</text>
<text x="578.9" y="596.6" font-family="Liberation Sans, sans-serif" font-size="16.6" text-anchor="start" font-weight="normal" font-style="normal" fill="#000" ><tspan font-style="italic">T</tspan> (K)</text>
<path d="M552.1 608.7 H591" stroke="#000" stroke-width="2.2"/>
<text x="623" y="615" font-family="Liberation Sans, sans-serif" font-size="17" text-anchor="end" font-weight="normal" font-style="normal" fill="#000" >5</text>
<path d="M552.1 628.9 H591" stroke="#000" stroke-width="2.2" stroke-dasharray="8.2 8.9"/>
<text x="623" y="635.2" font-family="Liberation Sans, sans-serif" font-size="17" text-anchor="end" font-weight="normal" font-style="normal" fill="#000" >30</text>
<path d="M552.1 649.2 H591" stroke="#000" stroke-width="1.8" stroke-dasharray="1.3 1.4"/>
<text x="623" y="655.5" font-family="Liberation Sans, sans-serif" font-size="17" text-anchor="end" font-weight="normal" font-style="normal" fill="#000" >50</text>
<path d="M552.1 669.5 H591" stroke="#000" stroke-width="2.0" stroke-dasharray="4.2 2.6"/>
<text x="623" y="675.8" font-family="Liberation Sans, sans-serif" font-size="17" text-anchor="end" font-weight="normal" font-style="normal" fill="#000" >100</text>
<path d="M552.1 689.9 H591" stroke="#000" stroke-width="2.0" stroke-dasharray="2 7.6"/>
<text x="623" y="696.2" font-family="Liberation Sans, sans-serif" font-size="17" text-anchor="end" font-weight="normal" font-style="normal" fill="#000" >150</text>
<text x="642.5" y="527.2" font-family="Liberation Sans, sans-serif" font-size="17" text-anchor="start" font-weight="normal" font-style="normal" fill="#000" >8</text>
<text x="642.5" y="623.6" font-family="Liberation Sans, sans-serif" font-size="17" text-anchor="start" font-weight="normal" font-style="normal" fill="#000" >4</text>
<text x="642.5" y="720" font-family="Liberation Sans, sans-serif" font-size="17" text-anchor="start" font-weight="normal" font-style="normal" fill="#000" >0</text>
<text x="371.8" y="733.4" font-family="Liberation Sans, sans-serif" font-size="16.5" text-anchor="middle" font-weight="normal" font-style="normal" fill="#000" >0</text>
<text x="438" y="733.4" font-family="Liberation Sans, sans-serif" font-size="16.5" text-anchor="middle" font-weight="normal" font-style="normal" fill="#000" >4</text>
<text x="504.1" y="733.4" font-family="Liberation Sans, sans-serif" font-size="16.5" text-anchor="middle" font-weight="normal" font-style="normal" fill="#000" >8</text>
<text x="570.3" y="733.4" font-family="Liberation Sans, sans-serif" font-size="16.5" text-anchor="middle" font-weight="normal" font-style="normal" fill="#000" >12</text>
<text x="636.4" y="733.4" font-family="Liberation Sans, sans-serif" font-size="16.5" text-anchor="middle" font-weight="normal" font-style="normal" fill="#000" >16</text>
<text x="341.5" y="759" font-family="Liberation Sans, sans-serif" font-size="20">(<tspan font-weight="bold" font-style="italic">m</tspan><tspan font-weight="bold">*/</tspan><tspan font-weight="bold" font-style="italic">m</tspan><tspan font-weight="bold" font-size="12.5" dy="5">b</tspan><tspan dy="-5">)</tspan><tspan font-size="12.5" dy="-9">2</tspan><tspan dy="9">[(</tspan><tspan font-weight="bold" font-style="italic">p</tspan>πk<tspan font-size="12.5" dy="5">B</tspan><tspan dy="-5" font-style="italic">T</tspan>/<tspan font-style="italic">ħ</tspan>)<tspan font-size="12.5" dy="-9">2</tspan><tspan dy="9"> + </tspan><tspan font-family="Liberation Serif, serif" font-style="italic">ω</tspan><tspan font-size="12.5" dy="-9">2</tspan><tspan dy="9">]</tspan></text>
<text x="584" y="759" font-family="Liberation Sans, sans-serif" font-size="20.5">(10<tspan font-size="13" dy="-9">6</tspan><tspan dy="9">cm</tspan><tspan font-size="13" dy="-9">--2</tspan><tspan dy="9">)</tspan></text>
<text transform="translate(662,590) rotate(90)" font-family="Liberation Sans, sans-serif" font-size="20" text-anchor="middle"><tspan font-family="Liberation Serif, serif" font-style="italic">γ</tspan>(<tspan font-style="italic">T</tspan>,<tspan font-family="Liberation Serif, serif" font-style="italic">ω</tspan>) - <tspan font-family="Liberation Serif, serif" font-style="italic">γ</tspan><tspan font-size="12.5" dy="4">0</tspan><tspan dy="-4"> (10</tspan><tspan font-size="12.5" dy="-9">2</tspan><tspan dy="9">cm</tspan><tspan font-size="12.5" dy="-9">-1</tspan><tspan dy="9">)</tspan></text>
<rect x="415.3" y="463.7" width="105.5" height="105.7" fill="#fff"/>
<path d="M431.5 457.4l1 6.6 1 5.9 1 5.2 1 4.7 1 4.3 1 3.9 1 3.5 1 3.3 1.1 2.9 1 2.8 1 2.5 1 2.4 1 2.2 1 2.1 1 1.9 1 1.8 1 1.7 1 1.6 1 1.5 1.1 1.4 1 1.4 1 1.3 1 1.2 1 1.1 1 1.1 1 1 1 1 1 1 1.1 .9 1 .9 1 .8 1 .8 1 .7 1 .8 1 .7 1 .6 1 .7 1 .6 1 .6 1.1 .6 1 .6 1 .5 1 .5 1 .5 1 .5 1 .5 1 .5 1 .4 1.1 .4 1 .5 1 .4 1 .4 1 .3 1 .4 1 .4 1 .3 1 .4 1 .3 1.1 .3 1 .3 1 .3 1 .3 1 .3 1 .3 1 .3 1 .3 1 .2 1 .3 1.1 .2 1 .3 1 .2 1 .2 1 .3 1 .2 1 .2 1 .2 1 .2 1 .2 1.1 .2 1 .2 1 .2 1 .2 1 .2 1 .2 1 .2 1 .1 1 .2 1 .2" stroke="#000" stroke-width="1.3" fill="none" stroke-linejoin="round" stroke-linecap="round" clip-path="url(#cHi)"/>
<rect x="438.1" y="497.4" width="11" height="11" fill="#000"/>
<rect x="454.2" y="530.5" width="11" height="11" fill="#000"/>
<rect x="488.6" y="539.1" width="11" height="11" fill="#000"/>
<rect x="510.8" y="545.3" width="11" height="11" fill="#000"/>
<path d="M443.6 498.4 L449.9 504.7 L443.6 511 L437.3 504.7 Z" fill="#000" stroke="#ff00ff" stroke-width="2"/>
<path d="M459.7 529.6 L466 535.9 L459.7 542.2 L453.4 535.9 Z" fill="#000" stroke="#ff00ff" stroke-width="2"/>
<path d="M494.1 537.7 L500.4 544 L494.1 550.3 L487.8 544 Z" fill="#000" stroke="#ff00ff" stroke-width="2"/>
<path d="M516.3 544.4 L522.6 550.7 L516.3 557 L510 550.7 Z" fill="#000" stroke="#ff00ff" stroke-width="2"/>
<path d="M520.8 463.7 H415.3 V569.4 H520.8" fill="none" stroke="#000" stroke-width="1.5"/>
<path d="M520.8 462.95 V570.15" stroke="#ff00ff" stroke-width="1.5"/>
<path d="M415.3 550.2h4.5M415.3 511.9h4.5M415.3 473.6h4.5M415.3 531.1h8M415.3 492.8h8M465.8 463.7v8M465.8 569.4v-8M516.3 463.7v8M516.3 569.4v-8" stroke="#000" stroke-width="1.4" fill="none"/>
<path d="M520.8 543h-4.5M520.8 490.2h-4.5M520.8 516.6h-8M520.8 463.8h-8" stroke="#ff00ff" stroke-width="1.4" fill="none"/>
<text x="412.6" y="574.7" font-family="Liberation Sans, sans-serif" font-size="15" text-anchor="end" font-weight="normal" font-style="normal" fill="#000" >0</text>
<text x="412.6" y="536.4" font-family="Liberation Sans, sans-serif" font-size="15" text-anchor="end" font-weight="normal" font-style="normal" fill="#000" >4</text>
<text x="412.6" y="498.1" font-family="Liberation Sans, sans-serif" font-size="15" text-anchor="end" font-weight="normal" font-style="normal" fill="#000" >8</text>
<text x="415.3" y="584.8" font-family="Liberation Sans, sans-serif" font-size="15" text-anchor="middle" font-weight="normal" font-style="normal" fill="#000" >0</text>
<text x="465.8" y="584.8" font-family="Liberation Sans, sans-serif" font-size="15" text-anchor="middle" font-weight="normal" font-style="normal" fill="#000" >0.5</text>
<text x="516.3" y="584.8" font-family="Liberation Sans, sans-serif" font-size="15" text-anchor="middle" font-weight="normal" font-style="normal" fill="#000" >1</text>
<text x="466" y="601.6" font-family="Liberation Sans, sans-serif" font-size="19" text-anchor="middle" font-weight="normal" font-style="italic" fill="#000" >x</text>
<text x="524.5" y="574.7" font-family="Liberation Sans, sans-serif" font-size="15" text-anchor="start" font-weight="normal" font-style="normal" fill="#ff00ff" style="stroke:#ff00ff" >0</text>
<text x="524.5" y="521.9" font-family="Liberation Sans, sans-serif" font-size="15" text-anchor="start" font-weight="normal" font-style="normal" fill="#ff00ff" style="stroke:#ff00ff" >10</text>
<text x="524.5" y="469.1" font-family="Liberation Sans, sans-serif" font-size="15" text-anchor="start" font-weight="normal" font-style="normal" fill="#ff00ff" style="stroke:#ff00ff" >20</text>
<text transform="translate(399.8,517) rotate(-90)" font-family="Liberation Sans, sans-serif" font-size="17.5" text-anchor="middle"><tspan font-style="italic">B</tspan> (10<tspan font-size="12" dy="-8">-4</tspan><tspan dy="8">cm)</tspan></text>
<text transform="translate(545,519.5) rotate(90)" font-family="Liberation Sans, sans-serif" font-size="18" text-anchor="middle" fill="#ff00ff" style="stroke:#ff00ff">(<tspan font-style="italic">m</tspan>*/<tspan font-style="italic">m</tspan><tspan font-size="12" dy="5">b</tspan><tspan dy="-5">)</tspan><tspan font-size="12" dy="-9">2</tspan></text>
</svg></body></html>
